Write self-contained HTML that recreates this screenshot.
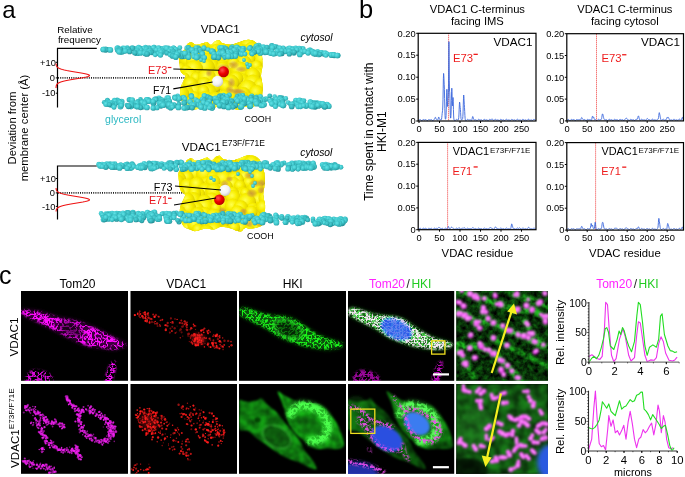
<!DOCTYPE html>
<html><head><meta charset="utf-8"><style>
html,body{margin:0;padding:0;background:#fff;width:685px;height:477px;overflow:hidden}
svg{display:block}
text{font-family:"Liberation Sans", sans-serif}
</style></head><body>
<svg width="685" height="477" viewBox="0 0 685 477">
<text x="2.2" y="17.5" text-anchor="start" style="font-size:24px;fill:#000;" >a</text>
<text x="359.0" y="17.6" text-anchor="start" style="font-size:25.5px;fill:#000;" >b</text>
<text x="-1.0" y="283.8" text-anchor="start" style="font-size:25px;fill:#000;" >c</text>
<defs>
<radialGradient id="bead" cx="0.4" cy="0.38" r="0.68">
 <stop offset="0" stop-color="#62e2e6"/><stop offset="0.55" stop-color="#3fc8cd"/><stop offset="1" stop-color="#2a9ca2"/></radialGradient>
<radialGradient id="bead2" cx="0.4" cy="0.38" r="0.68">
 <stop offset="0" stop-color="#4ed2d7"/><stop offset="0.6" stop-color="#33b4ba"/><stop offset="1" stop-color="#1f8088"/></radialGradient>
<radialGradient id="ylw" cx="0.42" cy="0.38" r="0.62">
 <stop offset="0" stop-color="#ffff50"/><stop offset="0.5" stop-color="#f8ee00"/><stop offset="0.85" stop-color="#e4d600"/><stop offset="1" stop-color="#c2b208"/></radialGradient>
<radialGradient id="redb" cx="0.38" cy="0.35" r="0.7">
 <stop offset="0" stop-color="#ff5050"/><stop offset="0.5" stop-color="#ee0000"/><stop offset="1" stop-color="#b00000"/></radialGradient>
<radialGradient id="whtb" cx="0.38" cy="0.35" r="0.7">
 <stop offset="0" stop-color="#ffffff"/><stop offset="0.6" stop-color="#f2f2f2"/><stop offset="1" stop-color="#c4c4c4"/></radialGradient>
<radialGradient id="tan"><stop offset="0" stop-color="#c48a48" stop-opacity="0.75"/><stop offset="0.6" stop-color="#c8914a" stop-opacity="0.45"/><stop offset="1" stop-color="#d0a050" stop-opacity="0"/></radialGradient>
<filter id="pblur" x="-5%" y="-5%" width="110%" height="110%"><feGaussianBlur stdDeviation="0.7"/></filter>
<filter id="bblur" x="-5%" y="-20%" width="110%" height="140%"><feGaussianBlur stdDeviation="0.3"/></filter>
</defs>
<text transform="translate(16.2,128) rotate(-90)" text-anchor="middle" style="font-size:11.3px">Deviation from</text>
<text transform="translate(28.3,128) rotate(-90)" text-anchor="middle" style="font-size:11.3px">membrane center (Å)</text>
<text x="57.2" y="32.6" text-anchor="start" style="font-size:9.8px;fill:#000;" >Relative</text>
<text x="57.9" y="42.5" text-anchor="start" style="font-size:9.8px;fill:#000;" >frequency</text>
<path d="M96.8,48.4 H57.5 V107.5" fill="none" stroke="#000" stroke-width="1.2"/>
<line x1="55.8" y1="62.3" x2="57.5" y2="62.3" stroke="#000" stroke-width="1"/>
<line x1="55.8" y1="77.9" x2="57.5" y2="77.9" stroke="#000" stroke-width="1"/>
<line x1="55.8" y1="93.2" x2="57.5" y2="93.2" stroke="#000" stroke-width="1"/>
<text x="55.9" y="65.5" text-anchor="end" style="font-size:9.3px;fill:#000;" >+10</text>
<text x="55.0" y="81.10000000000001" text-anchor="end" style="font-size:9.3px;fill:#000;" >0</text>
<text x="55.4" y="96.4" text-anchor="end" style="font-size:9.3px;fill:#000;" >-10</text>
<line x1="58" y1="77.9" x2="186" y2="77.9" stroke="#222" stroke-width="1.6" stroke-dasharray="1 1.2"/>
<path d="M56.05,63.50 L56.08,64.00 L56.13,64.50 L56.21,65.00 L56.34,65.50 L56.53,66.00 L56.81,66.50 L57.21,67.00 L57.77,67.50 L58.53,68.00 L59.53,68.50 L60.81,69.00 L62.42,69.50 L64.35,70.00 L66.63,70.50 L69.22,71.00 L72.07,71.50 L75.09,72.00 L78.16,72.50 L81.14,73.00 L83.88,73.50 L86.21,74.00 L88.00,74.50 L89.12,75.00 L89.50,75.50 L89.12,76.00 L88.00,76.50 L86.21,77.00 L83.88,77.50 L81.14,78.00 L78.16,78.50 L75.09,79.00 L72.07,79.50 L69.22,80.00 L66.63,80.50 L64.35,81.00 L62.42,81.50 L60.81,82.00 L59.53,82.50 L58.53,83.00 L57.77,83.50 L57.21,84.00 L56.81,84.50 L56.53,85.00 L56.34,85.50 L56.21,86.00 L56.13,86.50 L56.08,87.00 L56.05,87.50 L56.03,88.00" fill="none" stroke="#ee1111" stroke-width="1.1"/>
<path d="M96.8,166.0 H57.5 V219.6" fill="none" stroke="#000" stroke-width="1.2"/>
<line x1="55.8" y1="178.5" x2="57.5" y2="178.5" stroke="#000" stroke-width="1"/>
<line x1="55.8" y1="192.9" x2="57.5" y2="192.9" stroke="#000" stroke-width="1"/>
<line x1="55.8" y1="206.4" x2="57.5" y2="206.4" stroke="#000" stroke-width="1"/>
<text x="55.9" y="181.7" text-anchor="end" style="font-size:9.3px;fill:#000;" >+10</text>
<text x="55.0" y="196.1" text-anchor="end" style="font-size:9.3px;fill:#000;" >0</text>
<text x="55.4" y="209.6" text-anchor="end" style="font-size:9.3px;fill:#000;" >-10</text>
<line x1="58" y1="192.9" x2="186" y2="192.9" stroke="#222" stroke-width="1.6" stroke-dasharray="1 1.2"/>
<path d="M56.06,188.00 L56.10,188.50 L56.16,189.00 L56.26,189.50 L56.41,190.00 L56.63,190.50 L56.96,191.00 L57.42,191.50 L58.05,192.00 L58.90,192.50 L60.01,193.00 L61.42,193.50 L63.15,194.00 L65.22,194.50 L67.63,195.00 L70.33,195.50 L73.26,196.00 L76.32,196.50 L79.37,197.00 L82.28,197.50 L84.87,198.00 L87.00,198.50 L88.53,199.00 L89.36,199.50 L89.44,200.00 L88.75,200.50 L87.36,201.00 L85.34,201.50 L82.82,202.00 L79.97,202.50 L76.93,203.00 L73.87,203.50 L70.90,204.00 L68.15,204.50 L65.68,205.00 L63.54,205.50 L61.74,206.00 L60.27,206.50 L59.10,207.00 L58.20,207.50 L57.53,208.00 L57.04,208.50 L56.69,209.00 L56.45,209.50 L56.28,210.00 L56.17,210.50 L56.11,211.00 L56.06,211.50" fill="none" stroke="#ee1111" stroke-width="1.1"/>
<clipPath id="pc17940"><path d="M184.7,48.9 C186.1,46.9 186.3,45.0 187.5,44.0 C188.7,43.0 190.2,42.5 191.6,42.6 C193.0,42.7 194.0,44.6 195.8,44.7 C197.7,44.8 200.8,43.8 202.7,43.3 C204.5,42.8 205.5,41.7 206.9,41.9 C208.3,42.1 209.6,44.8 211.0,44.7 C212.4,44.6 213.8,41.9 215.2,41.2 C216.6,40.5 218.2,40.1 219.4,40.5 C220.6,40.9 220.3,42.6 222.2,43.3 C224.0,44.0 228.2,44.7 230.5,44.7 C232.8,44.7 234.2,43.9 236.0,43.3 C237.8,42.7 239.8,41.8 241.6,41.2 C243.4,40.6 245.2,40.0 247.1,39.9 C248.9,39.8 251.1,39.9 252.7,40.5 C254.3,41.1 255.7,42.0 256.8,43.3 C257.9,44.5 258.6,45.9 259.5,48.0 C260.4,50.1 261.5,53.0 262.0,56.0 C262.5,59.0 262.7,62.7 262.5,66.0 C262.3,69.3 260.9,72.7 261.0,76.0 C261.1,79.3 262.6,82.7 262.8,86.0 C263.0,89.3 262.5,93.0 262.0,96.0 C261.5,99.0 262.0,102.2 260.0,104.0 C258.0,105.8 252.8,106.5 250.0,107.0 C247.2,107.5 244.7,106.3 243.0,106.7 C241.3,107.1 241.2,109.0 240.0,109.5 C238.8,110.0 237.7,109.8 236.0,109.4 C234.3,109.0 232.5,107.7 230.0,107.0 C227.5,106.3 223.3,105.2 220.8,105.3 C218.3,105.4 216.4,107.0 215.0,107.5 C213.6,108.0 214.1,108.1 212.4,108.0 C210.7,107.9 207.8,106.8 205.0,107.0 C202.2,107.2 198.3,109.2 195.8,109.4 C193.3,109.6 192.0,108.7 190.0,108.0 C188.0,107.3 185.5,106.7 184.0,105.0 C182.5,103.3 181.6,100.8 181.0,98.0 C180.4,95.2 180.0,91.0 180.5,88.0 C181.0,85.0 183.2,82.0 184.0,80.0 C184.8,78.0 186.0,77.3 185.5,76.0 C185.0,74.7 182.0,74.0 181.0,72.0 C180.0,70.0 179.8,66.7 179.5,64.0 C179.2,61.3 178.3,58.3 179.2,55.8 C180.1,53.3 183.3,50.9 184.7,48.9Z"/></clipPath>
<g filter="url(#pblur)">
<path d="M184.7,48.9 C186.1,46.9 186.3,45.0 187.5,44.0 C188.7,43.0 190.2,42.5 191.6,42.6 C193.0,42.7 194.0,44.6 195.8,44.7 C197.7,44.8 200.8,43.8 202.7,43.3 C204.5,42.8 205.5,41.7 206.9,41.9 C208.3,42.1 209.6,44.8 211.0,44.7 C212.4,44.6 213.8,41.9 215.2,41.2 C216.6,40.5 218.2,40.1 219.4,40.5 C220.6,40.9 220.3,42.6 222.2,43.3 C224.0,44.0 228.2,44.7 230.5,44.7 C232.8,44.7 234.2,43.9 236.0,43.3 C237.8,42.7 239.8,41.8 241.6,41.2 C243.4,40.6 245.2,40.0 247.1,39.9 C248.9,39.8 251.1,39.9 252.7,40.5 C254.3,41.1 255.7,42.0 256.8,43.3 C257.9,44.5 258.6,45.9 259.5,48.0 C260.4,50.1 261.5,53.0 262.0,56.0 C262.5,59.0 262.7,62.7 262.5,66.0 C262.3,69.3 260.9,72.7 261.0,76.0 C261.1,79.3 262.6,82.7 262.8,86.0 C263.0,89.3 262.5,93.0 262.0,96.0 C261.5,99.0 262.0,102.2 260.0,104.0 C258.0,105.8 252.8,106.5 250.0,107.0 C247.2,107.5 244.7,106.3 243.0,106.7 C241.3,107.1 241.2,109.0 240.0,109.5 C238.8,110.0 237.7,109.8 236.0,109.4 C234.3,109.0 232.5,107.7 230.0,107.0 C227.5,106.3 223.3,105.2 220.8,105.3 C218.3,105.4 216.4,107.0 215.0,107.5 C213.6,108.0 214.1,108.1 212.4,108.0 C210.7,107.9 207.8,106.8 205.0,107.0 C202.2,107.2 198.3,109.2 195.8,109.4 C193.3,109.6 192.0,108.7 190.0,108.0 C188.0,107.3 185.5,106.7 184.0,105.0 C182.5,103.3 181.6,100.8 181.0,98.0 C180.4,95.2 180.0,91.0 180.5,88.0 C181.0,85.0 183.2,82.0 184.0,80.0 C184.8,78.0 186.0,77.3 185.5,76.0 C185.0,74.7 182.0,74.0 181.0,72.0 C180.0,70.0 179.8,66.7 179.5,64.0 C179.2,61.3 178.3,58.3 179.2,55.8 C180.1,53.3 183.3,50.9 184.7,48.9Z" fill="#d8cc00"/>
<g clip-path="url(#pc17940)">
<circle cx="248.8" cy="35.2" r="7.4" fill="url(#ylw)"/>
<circle cx="216.2" cy="39.2" r="5.7" fill="url(#ylw)"/>
<circle cx="202.9" cy="36.8" r="5.9" fill="url(#ylw)"/>
<circle cx="196.4" cy="38.8" r="8.7" fill="url(#ylw)"/>
<circle cx="233.1" cy="35.9" r="5.6" fill="url(#ylw)"/>
<circle cx="241.5" cy="35.4" r="6.3" fill="url(#ylw)"/>
<circle cx="259.0" cy="40.1" r="7.6" fill="url(#ylw)"/>
<circle cx="226.3" cy="40.8" r="8.1" fill="url(#ylw)"/>
<circle cx="204.3" cy="44.4" r="5.8" fill="url(#ylw)"/>
<circle cx="229.9" cy="43.9" r="9.1" fill="url(#ylw)"/>
<circle cx="258.5" cy="43.2" r="6.8" fill="url(#ylw)"/>
<circle cx="187.4" cy="38.5" r="6.2" fill="url(#ylw)"/>
<circle cx="247.0" cy="44.5" r="6.4" fill="url(#ylw)"/>
<circle cx="178.9" cy="46.6" r="7.3" fill="url(#ylw)"/>
<circle cx="178.7" cy="40.5" r="7.4" fill="url(#ylw)"/>
<circle cx="223.2" cy="48.4" r="8.9" fill="url(#ylw)"/>
<circle cx="229.8" cy="41.9" r="6.9" fill="url(#ylw)"/>
<circle cx="241.7" cy="48.5" r="7.1" fill="url(#ylw)"/>
<circle cx="216.5" cy="45.1" r="8.9" fill="url(#ylw)"/>
<circle cx="248.4" cy="46.4" r="8.6" fill="url(#ylw)"/>
<circle cx="216.8" cy="51.0" r="7.2" fill="url(#ylw)"/>
<circle cx="186.6" cy="48.6" r="9.5" fill="url(#ylw)"/>
<circle cx="181.4" cy="51.0" r="6.5" fill="url(#ylw)"/>
<circle cx="235.7" cy="52.1" r="9.0" fill="url(#ylw)"/>
<circle cx="241.2" cy="52.7" r="8.9" fill="url(#ylw)"/>
<circle cx="199.0" cy="46.9" r="6.8" fill="url(#ylw)"/>
<circle cx="196.0" cy="53.7" r="7.3" fill="url(#ylw)"/>
<circle cx="190.8" cy="50.4" r="5.5" fill="url(#ylw)"/>
<circle cx="252.7" cy="50.9" r="9.5" fill="url(#ylw)"/>
<circle cx="259.2" cy="51.8" r="8.6" fill="url(#ylw)"/>
<circle cx="186.5" cy="50.7" r="8.7" fill="url(#ylw)"/>
<circle cx="223.2" cy="51.9" r="9.4" fill="url(#ylw)"/>
<circle cx="254.6" cy="54.6" r="6.6" fill="url(#ylw)"/>
<circle cx="212.1" cy="58.9" r="9.1" fill="url(#ylw)"/>
<circle cx="205.0" cy="54.7" r="6.0" fill="url(#ylw)"/>
<circle cx="176.8" cy="58.4" r="5.9" fill="url(#ylw)"/>
<circle cx="186.2" cy="55.5" r="5.6" fill="url(#ylw)"/>
<circle cx="204.9" cy="61.4" r="9.0" fill="url(#ylw)"/>
<circle cx="187.5" cy="59.4" r="7.9" fill="url(#ylw)"/>
<circle cx="261.8" cy="59.4" r="8.3" fill="url(#ylw)"/>
<circle cx="224.9" cy="59.4" r="6.3" fill="url(#ylw)"/>
<circle cx="193.5" cy="63.5" r="6.4" fill="url(#ylw)"/>
<circle cx="195.2" cy="60.7" r="9.3" fill="url(#ylw)"/>
<circle cx="249.5" cy="58.6" r="5.7" fill="url(#ylw)"/>
<circle cx="243.7" cy="63.2" r="7.9" fill="url(#ylw)"/>
<circle cx="222.4" cy="66.0" r="6.2" fill="url(#ylw)"/>
<circle cx="233.4" cy="63.6" r="6.3" fill="url(#ylw)"/>
<circle cx="250.7" cy="69.7" r="7.8" fill="url(#ylw)"/>
<circle cx="231.0" cy="69.0" r="6.0" fill="url(#ylw)"/>
<circle cx="205.2" cy="66.7" r="6.5" fill="url(#ylw)"/>
<circle cx="184.8" cy="69.9" r="5.8" fill="url(#ylw)"/>
<circle cx="212.0" cy="65.7" r="6.6" fill="url(#ylw)"/>
<circle cx="205.5" cy="67.3" r="9.2" fill="url(#ylw)"/>
<circle cx="256.6" cy="65.8" r="5.6" fill="url(#ylw)"/>
<circle cx="222.3" cy="68.0" r="6.4" fill="url(#ylw)"/>
<circle cx="261.4" cy="73.7" r="8.1" fill="url(#ylw)"/>
<circle cx="194.1" cy="69.0" r="8.9" fill="url(#ylw)"/>
<circle cx="179.7" cy="69.2" r="6.7" fill="url(#ylw)"/>
<circle cx="227.2" cy="75.4" r="8.2" fill="url(#ylw)"/>
<circle cx="226.3" cy="74.4" r="6.1" fill="url(#ylw)"/>
<circle cx="186.0" cy="70.9" r="5.7" fill="url(#ylw)"/>
<circle cx="189.5" cy="76.1" r="8.4" fill="url(#ylw)"/>
<circle cx="243.5" cy="74.1" r="4.1" fill="url(#ylw)"/>
<circle cx="239.9" cy="70.9" r="9.4" fill="url(#ylw)"/>
<circle cx="217.2" cy="77.5" r="8.7" fill="url(#ylw)"/>
<circle cx="196.6" cy="79.2" r="5.8" fill="url(#ylw)"/>
<circle cx="260.3" cy="76.7" r="5.7" fill="url(#ylw)"/>
<circle cx="200.0" cy="81.4" r="8.5" fill="url(#ylw)"/>
<circle cx="195.9" cy="77.5" r="5.5" fill="url(#ylw)"/>
<circle cx="258.4" cy="74.5" r="6.8" fill="url(#ylw)"/>
<circle cx="244.5" cy="78.4" r="7.8" fill="url(#ylw)"/>
<circle cx="252.5" cy="75.5" r="7.8" fill="url(#ylw)"/>
<circle cx="241.2" cy="81.9" r="9.1" fill="url(#ylw)"/>
<circle cx="207.0" cy="77.7" r="9.1" fill="url(#ylw)"/>
<circle cx="184.5" cy="77.7" r="5.2" fill="url(#ylw)"/>
<circle cx="236.1" cy="78.5" r="7.2" fill="url(#ylw)"/>
<circle cx="204.2" cy="84.5" r="7.4" fill="url(#ylw)"/>
<circle cx="180.9" cy="79.0" r="5.6" fill="url(#ylw)"/>
<circle cx="252.9" cy="83.6" r="9.1" fill="url(#ylw)"/>
<circle cx="182.3" cy="85.3" r="7.1" fill="url(#ylw)"/>
<circle cx="190.4" cy="84.4" r="7.3" fill="url(#ylw)"/>
<circle cx="221.9" cy="89.8" r="7.2" fill="url(#ylw)"/>
<circle cx="213.0" cy="89.6" r="7.3" fill="url(#ylw)"/>
<circle cx="231.0" cy="82.7" r="8.2" fill="url(#ylw)"/>
<circle cx="214.4" cy="85.1" r="7.5" fill="url(#ylw)"/>
<circle cx="259.9" cy="84.9" r="6.3" fill="url(#ylw)"/>
<circle cx="194.1" cy="91.5" r="8.8" fill="url(#ylw)"/>
<circle cx="247.7" cy="88.7" r="9.0" fill="url(#ylw)"/>
<circle cx="207.4" cy="92.8" r="9.3" fill="url(#ylw)"/>
<circle cx="225.7" cy="86.4" r="6.5" fill="url(#ylw)"/>
<circle cx="256.5" cy="92.8" r="7.8" fill="url(#ylw)"/>
<circle cx="233.0" cy="91.5" r="6.8" fill="url(#ylw)"/>
<circle cx="203.4" cy="91.0" r="5.9" fill="url(#ylw)"/>
<circle cx="230.0" cy="96.3" r="7.4" fill="url(#ylw)"/>
<circle cx="186.6" cy="92.0" r="6.8" fill="url(#ylw)"/>
<circle cx="179.7" cy="96.3" r="6.0" fill="url(#ylw)"/>
<circle cx="186.7" cy="96.3" r="8.8" fill="url(#ylw)"/>
<circle cx="180.1" cy="94.0" r="9.0" fill="url(#ylw)"/>
<circle cx="224.0" cy="97.4" r="7.4" fill="url(#ylw)"/>
<circle cx="243.3" cy="94.4" r="7.3" fill="url(#ylw)"/>
<circle cx="239.8" cy="98.8" r="6.1" fill="url(#ylw)"/>
<circle cx="194.4" cy="97.0" r="5.7" fill="url(#ylw)"/>
<circle cx="249.0" cy="100.4" r="7.6" fill="url(#ylw)"/>
<circle cx="242.2" cy="97.3" r="6.6" fill="url(#ylw)"/>
<circle cx="222.9" cy="99.1" r="5.7" fill="url(#ylw)"/>
<circle cx="205.7" cy="98.9" r="8.0" fill="url(#ylw)"/>
<circle cx="259.6" cy="100.7" r="7.1" fill="url(#ylw)"/>
<circle cx="181.8" cy="104.4" r="9.2" fill="url(#ylw)"/>
<circle cx="222.6" cy="108.2" r="8.8" fill="url(#ylw)"/>
<circle cx="189.7" cy="104.6" r="7.3" fill="url(#ylw)"/>
<circle cx="214.9" cy="101.0" r="9.3" fill="url(#ylw)"/>
<circle cx="251.6" cy="108.6" r="6.8" fill="url(#ylw)"/>
<circle cx="218.0" cy="106.6" r="8.1" fill="url(#ylw)"/>
<circle cx="206.8" cy="109.1" r="8.7" fill="url(#ylw)"/>
<circle cx="262.8" cy="109.0" r="6.9" fill="url(#ylw)"/>
<circle cx="198.1" cy="109.3" r="7.0" fill="url(#ylw)"/>
<circle cx="234.2" cy="108.2" r="6.4" fill="url(#ylw)"/>
<circle cx="244.8" cy="109.7" r="9.4" fill="url(#ylw)"/>
<ellipse cx="239.6" cy="92.2" rx="6.4" ry="4.0" fill="url(#tan)"/>
<ellipse cx="251.1" cy="98.6" rx="5.9" ry="4.9" fill="url(#tan)"/>
<ellipse cx="241.2" cy="69.2" rx="6.0" ry="3.2" fill="url(#tan)"/>
<ellipse cx="209.0" cy="73.1" rx="3.5" ry="3.9" fill="url(#tan)"/>
<ellipse cx="231.5" cy="82.7" rx="4.3" ry="5.4" fill="url(#tan)"/>
<ellipse cx="233.6" cy="64.9" rx="5.8" ry="4.4" fill="url(#tan)"/>
<ellipse cx="223.5" cy="68.2" rx="7.0" ry="4.6" fill="url(#tan)"/>
<ellipse cx="236.3" cy="91.2" rx="6.9" ry="3.1" fill="url(#tan)"/>
<ellipse cx="229.8" cy="89.8" rx="4.4" ry="4.0" fill="url(#tan)"/>
</g></g>
<g filter="url(#bblur)">
<circle cx="258.2" cy="45.4" r="2.47" fill="url(#bead)"/>
<circle cx="276.3" cy="46.8" r="2.47" fill="url(#bead2)"/>
<circle cx="145.5" cy="47.1" r="2.41" fill="url(#bead)"/>
<circle cx="153.9" cy="47.1" r="2.33" fill="url(#bead)"/>
<circle cx="280.8" cy="48.2" r="2.43" fill="url(#bead)"/>
<circle cx="232.0" cy="47.6" r="2.85" fill="url(#bead)"/>
<circle cx="260.3" cy="47.0" r="2.48" fill="url(#bead)"/>
<circle cx="271.3" cy="45.7" r="2.38" fill="url(#bead2)"/>
<circle cx="260.6" cy="47.6" r="2.62" fill="url(#bead)"/>
<circle cx="271.3" cy="46.9" r="2.72" fill="url(#bead)"/>
<circle cx="258.8" cy="45.6" r="2.73" fill="url(#bead)"/>
<circle cx="154.1" cy="47.8" r="2.98" fill="url(#bead)"/>
<circle cx="263.3" cy="47.1" r="2.90" fill="url(#bead)"/>
<circle cx="168.3" cy="48.3" r="2.75" fill="url(#bead)"/>
<circle cx="279.0" cy="48.2" r="2.75" fill="url(#bead)"/>
<circle cx="159.8" cy="48.6" r="2.92" fill="url(#bead)"/>
<circle cx="146.7" cy="48.3" r="2.50" fill="url(#bead)"/>
<circle cx="224.2" cy="47.4" r="2.39" fill="url(#bead)"/>
<circle cx="146.3" cy="48.3" r="2.68" fill="url(#bead)"/>
<circle cx="198.1" cy="48.1" r="2.75" fill="url(#bead2)"/>
<circle cx="255.9" cy="47.3" r="2.84" fill="url(#bead)"/>
<circle cx="149.1" cy="47.8" r="2.56" fill="url(#bead2)"/>
<circle cx="123.0" cy="48.3" r="2.74" fill="url(#bead)"/>
<circle cx="127.2" cy="47.9" r="2.68" fill="url(#bead)"/>
<circle cx="232.3" cy="46.7" r="2.35" fill="url(#bead)"/>
<circle cx="272.1" cy="45.6" r="2.51" fill="url(#bead2)"/>
<circle cx="203.9" cy="48.3" r="2.56" fill="url(#bead2)"/>
<circle cx="231.2" cy="48.2" r="2.67" fill="url(#bead2)"/>
<circle cx="274.2" cy="47.1" r="2.77" fill="url(#bead)"/>
<circle cx="256.7" cy="46.2" r="2.86" fill="url(#bead)"/>
<circle cx="298.1" cy="48.4" r="2.36" fill="url(#bead)"/>
<circle cx="173.5" cy="48.4" r="2.84" fill="url(#bead)"/>
<circle cx="149.7" cy="48.8" r="2.36" fill="url(#bead)"/>
<circle cx="153.3" cy="49.1" r="2.60" fill="url(#bead2)"/>
<circle cx="196.0" cy="47.7" r="2.47" fill="url(#bead)"/>
<circle cx="117.9" cy="47.8" r="2.58" fill="url(#bead)"/>
<circle cx="179.8" cy="47.7" r="2.48" fill="url(#bead)"/>
<circle cx="300.9" cy="48.5" r="2.35" fill="url(#bead)"/>
<circle cx="160.8" cy="48.4" r="2.33" fill="url(#bead)"/>
<circle cx="241.4" cy="49.2" r="2.90" fill="url(#bead)"/>
<circle cx="219.9" cy="47.8" r="2.73" fill="url(#bead)"/>
<circle cx="108.4" cy="49.6" r="2.57" fill="url(#bead)"/>
<circle cx="287.4" cy="49.4" r="2.45" fill="url(#bead2)"/>
<circle cx="274.3" cy="46.7" r="2.56" fill="url(#bead)"/>
<circle cx="173.6" cy="48.0" r="2.53" fill="url(#bead)"/>
<circle cx="302.7" cy="48.9" r="2.88" fill="url(#bead)"/>
<circle cx="244.1" cy="48.8" r="2.56" fill="url(#bead)"/>
<circle cx="288.6" cy="48.7" r="2.85" fill="url(#bead)"/>
<circle cx="164.8" cy="49.1" r="2.77" fill="url(#bead)"/>
<circle cx="292.7" cy="48.4" r="2.31" fill="url(#bead)"/>
<circle cx="140.1" cy="49.8" r="2.39" fill="url(#bead2)"/>
<circle cx="238.4" cy="48.3" r="2.88" fill="url(#bead)"/>
<circle cx="267.0" cy="47.3" r="2.67" fill="url(#bead2)"/>
<circle cx="292.3" cy="50.3" r="2.60" fill="url(#bead)"/>
<circle cx="225.8" cy="48.9" r="2.97" fill="url(#bead2)"/>
<circle cx="295.7" cy="48.2" r="2.72" fill="url(#bead)"/>
<circle cx="310.4" cy="49.9" r="2.33" fill="url(#bead)"/>
<circle cx="105.9" cy="49.9" r="2.56" fill="url(#bead)"/>
<circle cx="140.7" cy="48.3" r="2.63" fill="url(#bead2)"/>
<circle cx="156.9" cy="49.2" r="2.78" fill="url(#bead2)"/>
<circle cx="162.8" cy="49.4" r="2.69" fill="url(#bead)"/>
<circle cx="283.5" cy="49.1" r="2.58" fill="url(#bead)"/>
<circle cx="203.9" cy="47.9" r="2.57" fill="url(#bead)"/>
<circle cx="128.0" cy="49.9" r="2.58" fill="url(#bead2)"/>
<circle cx="143.5" cy="48.2" r="2.48" fill="url(#bead)"/>
<circle cx="236.1" cy="49.2" r="2.56" fill="url(#bead)"/>
<circle cx="135.1" cy="48.9" r="2.79" fill="url(#bead)"/>
<circle cx="138.6" cy="47.5" r="2.72" fill="url(#bead)"/>
<circle cx="283.1" cy="48.3" r="2.81" fill="url(#bead)"/>
<circle cx="295.8" cy="49.3" r="2.64" fill="url(#bead)"/>
<circle cx="176.4" cy="50.6" r="2.33" fill="url(#bead)"/>
<circle cx="250.3" cy="47.7" r="2.62" fill="url(#bead2)"/>
<circle cx="298.8" cy="50.4" r="2.92" fill="url(#bead)"/>
<circle cx="132.3" cy="48.3" r="2.98" fill="url(#bead2)"/>
<circle cx="103.3" cy="49.5" r="2.87" fill="url(#bead)"/>
<circle cx="117.0" cy="48.0" r="2.52" fill="url(#bead)"/>
<circle cx="279.8" cy="48.1" r="2.67" fill="url(#bead)"/>
<circle cx="236.8" cy="47.5" r="2.93" fill="url(#bead)"/>
<circle cx="299.1" cy="48.6" r="2.86" fill="url(#bead)"/>
<circle cx="175.3" cy="49.8" r="2.58" fill="url(#bead2)"/>
<circle cx="123.4" cy="50.2" r="2.77" fill="url(#bead)"/>
<circle cx="292.1" cy="51.1" r="2.57" fill="url(#bead)"/>
<circle cx="242.9" cy="48.2" r="2.36" fill="url(#bead)"/>
<circle cx="257.6" cy="48.0" r="2.69" fill="url(#bead2)"/>
<circle cx="128.1" cy="50.2" r="2.56" fill="url(#bead2)"/>
<circle cx="208.1" cy="49.5" r="2.36" fill="url(#bead)"/>
<circle cx="153.3" cy="47.9" r="2.76" fill="url(#bead)"/>
<circle cx="105.5" cy="49.6" r="2.99" fill="url(#bead2)"/>
<circle cx="187.1" cy="48.0" r="2.71" fill="url(#bead)"/>
<circle cx="161.8" cy="48.8" r="2.53" fill="url(#bead)"/>
<circle cx="158.4" cy="48.0" r="2.74" fill="url(#bead)"/>
<circle cx="119.5" cy="49.6" r="2.39" fill="url(#bead)"/>
<circle cx="140.0" cy="48.9" r="2.53" fill="url(#bead)"/>
<circle cx="272.3" cy="47.6" r="2.72" fill="url(#bead)"/>
<circle cx="289.8" cy="47.9" r="2.47" fill="url(#bead)"/>
<circle cx="221.6" cy="47.6" r="2.58" fill="url(#bead)"/>
<circle cx="155.0" cy="51.2" r="2.84" fill="url(#bead)"/>
<circle cx="165.1" cy="48.1" r="2.86" fill="url(#bead)"/>
<circle cx="290.0" cy="51.1" r="2.39" fill="url(#bead)"/>
<circle cx="188.6" cy="47.6" r="2.49" fill="url(#bead2)"/>
<circle cx="124.5" cy="48.6" r="2.88" fill="url(#bead)"/>
<circle cx="292.5" cy="49.5" r="2.51" fill="url(#bead)"/>
<circle cx="280.4" cy="51.0" r="2.51" fill="url(#bead)"/>
<circle cx="175.5" cy="49.5" r="2.80" fill="url(#bead)"/>
<circle cx="309.5" cy="49.8" r="2.35" fill="url(#bead)"/>
<circle cx="149.1" cy="49.7" r="2.89" fill="url(#bead)"/>
<circle cx="291.7" cy="51.8" r="2.44" fill="url(#bead)"/>
<circle cx="146.6" cy="48.7" r="2.45" fill="url(#bead)"/>
<circle cx="222.7" cy="50.8" r="2.52" fill="url(#bead)"/>
<circle cx="165.2" cy="50.3" r="2.70" fill="url(#bead)"/>
<circle cx="140.6" cy="50.4" r="2.74" fill="url(#bead)"/>
<circle cx="287.0" cy="51.5" r="2.42" fill="url(#bead)"/>
<circle cx="200.0" cy="50.3" r="2.59" fill="url(#bead)"/>
<circle cx="122.3" cy="51.8" r="2.82" fill="url(#bead)"/>
<circle cx="120.9" cy="49.8" r="2.51" fill="url(#bead2)"/>
<circle cx="227.6" cy="51.4" r="2.39" fill="url(#bead)"/>
<circle cx="166.7" cy="48.4" r="2.80" fill="url(#bead)"/>
<circle cx="128.0" cy="49.2" r="2.81" fill="url(#bead2)"/>
<circle cx="251.9" cy="50.2" r="2.56" fill="url(#bead)"/>
<circle cx="117.4" cy="49.2" r="2.59" fill="url(#bead)"/>
<circle cx="239.1" cy="49.6" r="2.79" fill="url(#bead)"/>
<circle cx="265.3" cy="50.7" r="2.59" fill="url(#bead)"/>
<circle cx="249.6" cy="48.3" r="2.67" fill="url(#bead)"/>
<circle cx="123.6" cy="51.3" r="2.50" fill="url(#bead)"/>
<circle cx="311.7" cy="51.2" r="2.71" fill="url(#bead)"/>
<circle cx="169.8" cy="50.7" r="2.40" fill="url(#bead)"/>
<circle cx="171.1" cy="49.8" r="2.93" fill="url(#bead)"/>
<circle cx="200.3" cy="51.5" r="2.31" fill="url(#bead2)"/>
<circle cx="159.0" cy="51.0" r="2.69" fill="url(#bead)"/>
<circle cx="285.1" cy="51.4" r="2.74" fill="url(#bead)"/>
<circle cx="260.3" cy="52.4" r="2.90" fill="url(#bead)"/>
<circle cx="110.3" cy="49.9" r="2.93" fill="url(#bead)"/>
<circle cx="232.2" cy="51.5" r="2.97" fill="url(#bead2)"/>
<circle cx="265.0" cy="52.2" r="2.97" fill="url(#bead)"/>
<circle cx="188.7" cy="51.5" r="2.58" fill="url(#bead2)"/>
<circle cx="146.0" cy="49.9" r="2.48" fill="url(#bead)"/>
<circle cx="156.3" cy="49.9" r="2.50" fill="url(#bead)"/>
<circle cx="191.6" cy="49.5" r="2.42" fill="url(#bead)"/>
<circle cx="299.4" cy="49.8" r="2.52" fill="url(#bead)"/>
<circle cx="289.6" cy="52.0" r="2.56" fill="url(#bead2)"/>
<circle cx="254.4" cy="51.9" r="2.33" fill="url(#bead2)"/>
<circle cx="103.2" cy="49.5" r="2.68" fill="url(#bead)"/>
<circle cx="161.6" cy="50.4" r="2.55" fill="url(#bead)"/>
<circle cx="173.4" cy="51.3" r="2.54" fill="url(#bead2)"/>
<circle cx="232.4" cy="51.7" r="2.55" fill="url(#bead2)"/>
<circle cx="159.6" cy="50.0" r="2.37" fill="url(#bead)"/>
<circle cx="294.0" cy="51.7" r="2.35" fill="url(#bead)"/>
<circle cx="222.8" cy="51.2" r="2.86" fill="url(#bead2)"/>
<circle cx="260.1" cy="49.2" r="2.91" fill="url(#bead)"/>
<circle cx="294.0" cy="52.9" r="2.74" fill="url(#bead)"/>
<circle cx="301.9" cy="51.9" r="2.88" fill="url(#bead)"/>
<circle cx="272.0" cy="51.7" r="2.48" fill="url(#bead2)"/>
<circle cx="268.5" cy="51.4" r="2.69" fill="url(#bead)"/>
<circle cx="308.3" cy="50.7" r="2.34" fill="url(#bead)"/>
<circle cx="195.7" cy="51.8" r="2.51" fill="url(#bead2)"/>
<circle cx="237.4" cy="51.5" r="2.42" fill="url(#bead2)"/>
<circle cx="258.4" cy="50.1" r="2.85" fill="url(#bead)"/>
<circle cx="220.0" cy="52.2" r="2.71" fill="url(#bead)"/>
<circle cx="195.7" cy="51.5" r="2.89" fill="url(#bead)"/>
<circle cx="137.2" cy="50.9" r="2.97" fill="url(#bead)"/>
<circle cx="314.2" cy="52.4" r="2.87" fill="url(#bead)"/>
<circle cx="220.1" cy="51.9" r="2.60" fill="url(#bead2)"/>
<circle cx="117.7" cy="50.2" r="2.62" fill="url(#bead2)"/>
<circle cx="236.6" cy="51.6" r="2.93" fill="url(#bead)"/>
<circle cx="271.7" cy="53.0" r="2.70" fill="url(#bead2)"/>
<circle cx="242.4" cy="50.7" r="2.92" fill="url(#bead)"/>
<circle cx="120.2" cy="49.6" r="2.94" fill="url(#bead2)"/>
<circle cx="256.4" cy="51.2" r="2.68" fill="url(#bead)"/>
<circle cx="211.9" cy="51.2" r="2.95" fill="url(#bead)"/>
<circle cx="235.8" cy="49.8" r="2.81" fill="url(#bead)"/>
<circle cx="137.1" cy="51.9" r="2.62" fill="url(#bead)"/>
<circle cx="268.2" cy="52.0" r="2.99" fill="url(#bead)"/>
<circle cx="277.1" cy="50.9" r="2.57" fill="url(#bead)"/>
<circle cx="296.8" cy="49.8" r="2.57" fill="url(#bead)"/>
<circle cx="158.5" cy="53.6" r="2.61" fill="url(#bead)"/>
<circle cx="265.7" cy="51.7" r="2.83" fill="url(#bead2)"/>
<circle cx="234.2" cy="50.2" r="2.75" fill="url(#bead)"/>
<circle cx="192.0" cy="49.9" r="2.77" fill="url(#bead)"/>
<circle cx="121.1" cy="52.6" r="2.32" fill="url(#bead)"/>
<circle cx="145.5" cy="53.4" r="2.99" fill="url(#bead)"/>
<circle cx="304.8" cy="51.4" r="2.59" fill="url(#bead)"/>
<circle cx="213.5" cy="51.3" r="2.40" fill="url(#bead2)"/>
<circle cx="136.5" cy="53.2" r="2.80" fill="url(#bead)"/>
<circle cx="169.4" cy="52.2" r="2.32" fill="url(#bead2)"/>
<circle cx="317.1" cy="52.4" r="2.31" fill="url(#bead)"/>
<circle cx="236.3" cy="52.7" r="2.71" fill="url(#bead)"/>
<circle cx="260.3" cy="52.9" r="2.97" fill="url(#bead)"/>
<circle cx="282.2" cy="54.0" r="2.33" fill="url(#bead2)"/>
<circle cx="271.8" cy="51.5" r="2.55" fill="url(#bead)"/>
<circle cx="324.8" cy="54.0" r="2.94" fill="url(#bead2)"/>
<circle cx="289.1" cy="51.5" r="2.88" fill="url(#bead)"/>
<circle cx="316.4" cy="53.4" r="2.68" fill="url(#bead)"/>
<circle cx="145.4" cy="53.0" r="2.58" fill="url(#bead)"/>
<circle cx="152.7" cy="52.8" r="2.54" fill="url(#bead)"/>
<circle cx="240.4" cy="53.9" r="2.59" fill="url(#bead)"/>
<circle cx="151.1" cy="50.6" r="2.45" fill="url(#bead2)"/>
<circle cx="211.9" cy="51.4" r="2.83" fill="url(#bead)"/>
<circle cx="293.0" cy="52.8" r="2.46" fill="url(#bead)"/>
<circle cx="193.5" cy="52.6" r="2.53" fill="url(#bead)"/>
<circle cx="119.2" cy="50.9" r="2.37" fill="url(#bead2)"/>
<circle cx="281.8" cy="50.7" r="2.52" fill="url(#bead)"/>
<circle cx="171.5" cy="52.6" r="2.56" fill="url(#bead)"/>
<circle cx="125.3" cy="51.1" r="2.77" fill="url(#bead)"/>
<circle cx="176.7" cy="53.0" r="2.60" fill="url(#bead)"/>
<circle cx="119.2" cy="51.8" r="2.94" fill="url(#bead)"/>
<circle cx="317.6" cy="51.5" r="2.33" fill="url(#bead)"/>
<circle cx="312.4" cy="52.0" r="2.94" fill="url(#bead)"/>
<circle cx="169.0" cy="51.1" r="2.41" fill="url(#bead)"/>
<circle cx="222.3" cy="54.2" r="2.89" fill="url(#bead)"/>
<circle cx="258.4" cy="51.5" r="2.52" fill="url(#bead)"/>
<circle cx="270.4" cy="53.3" r="2.70" fill="url(#bead)"/>
<circle cx="162.2" cy="52.0" r="2.93" fill="url(#bead)"/>
<circle cx="315.5" cy="53.9" r="2.91" fill="url(#bead2)"/>
<circle cx="322.3" cy="52.8" r="2.65" fill="url(#bead)"/>
<circle cx="181.1" cy="54.3" r="2.54" fill="url(#bead)"/>
<circle cx="161.0" cy="51.9" r="2.50" fill="url(#bead)"/>
<circle cx="281.1" cy="53.6" r="2.57" fill="url(#bead2)"/>
<circle cx="187.8" cy="54.7" r="2.49" fill="url(#bead)"/>
<circle cx="241.9" cy="54.3" r="2.36" fill="url(#bead)"/>
<circle cx="229.8" cy="53.9" r="2.80" fill="url(#bead)"/>
<circle cx="317.7" cy="51.6" r="2.33" fill="url(#bead)"/>
<circle cx="146.6" cy="51.3" r="2.31" fill="url(#bead)"/>
<circle cx="322.3" cy="53.7" r="2.55" fill="url(#bead)"/>
<circle cx="299.8" cy="54.4" r="2.92" fill="url(#bead)"/>
<circle cx="145.7" cy="51.8" r="2.46" fill="url(#bead)"/>
<circle cx="289.3" cy="54.0" r="2.59" fill="url(#bead2)"/>
<circle cx="313.7" cy="53.4" r="2.85" fill="url(#bead)"/>
<circle cx="137.5" cy="53.3" r="2.82" fill="url(#bead)"/>
<circle cx="266.0" cy="51.9" r="2.88" fill="url(#bead)"/>
<circle cx="179.8" cy="52.9" r="2.84" fill="url(#bead)"/>
<circle cx="331.2" cy="55.0" r="2.88" fill="url(#bead)"/>
<circle cx="129.6" cy="51.7" r="2.62" fill="url(#bead2)"/>
<circle cx="166.9" cy="53.0" r="2.60" fill="url(#bead2)"/>
<circle cx="193.4" cy="54.8" r="2.35" fill="url(#bead)"/>
<circle cx="149.5" cy="51.6" r="2.96" fill="url(#bead)"/>
<circle cx="251.8" cy="53.2" r="2.70" fill="url(#bead)"/>
<circle cx="294.1" cy="52.1" r="2.56" fill="url(#bead2)"/>
<circle cx="326.1" cy="54.3" r="2.59" fill="url(#bead)"/>
<circle cx="321.0" cy="52.9" r="2.80" fill="url(#bead)"/>
<circle cx="317.1" cy="53.4" r="2.70" fill="url(#bead2)"/>
<circle cx="230.6" cy="52.4" r="2.89" fill="url(#bead)"/>
<circle cx="337.9" cy="55.6" r="2.44" fill="url(#bead)"/>
<circle cx="215.2" cy="54.4" r="2.42" fill="url(#bead)"/>
<circle cx="202.7" cy="53.5" r="2.41" fill="url(#bead)"/>
<circle cx="275.6" cy="53.8" r="2.53" fill="url(#bead)"/>
<circle cx="196.0" cy="52.6" r="2.47" fill="url(#bead)"/>
<circle cx="254.1" cy="52.2" r="2.67" fill="url(#bead2)"/>
<circle cx="134.8" cy="52.8" r="2.79" fill="url(#bead2)"/>
<circle cx="217.6" cy="56.0" r="3.00" fill="url(#bead2)"/>
<circle cx="337.8" cy="55.6" r="2.75" fill="url(#bead)"/>
<circle cx="232.5" cy="55.8" r="2.82" fill="url(#bead2)"/>
<circle cx="213.9" cy="53.9" r="2.59" fill="url(#bead)"/>
<circle cx="174.7" cy="54.2" r="2.81" fill="url(#bead)"/>
<circle cx="228.3" cy="53.0" r="2.33" fill="url(#bead)"/>
<circle cx="187.9" cy="54.9" r="2.84" fill="url(#bead)"/>
<circle cx="308.1" cy="53.0" r="2.66" fill="url(#bead)"/>
<circle cx="151.3" cy="52.5" r="2.50" fill="url(#bead2)"/>
<circle cx="333.6" cy="54.6" r="2.40" fill="url(#bead)"/>
<circle cx="174.0" cy="53.9" r="2.95" fill="url(#bead2)"/>
<circle cx="333.2" cy="55.3" r="2.51" fill="url(#bead2)"/>
<circle cx="202.3" cy="53.9" r="2.79" fill="url(#bead)"/>
<circle cx="149.0" cy="52.8" r="2.69" fill="url(#bead)"/>
<circle cx="182.5" cy="53.8" r="2.99" fill="url(#bead2)"/>
<circle cx="160.5" cy="55.1" r="2.67" fill="url(#bead)"/>
<circle cx="216.4" cy="56.6" r="2.41" fill="url(#bead)"/>
<circle cx="336.4" cy="55.5" r="2.53" fill="url(#bead2)"/>
<circle cx="140.4" cy="52.9" r="2.84" fill="url(#bead)"/>
<circle cx="273.6" cy="54.0" r="2.63" fill="url(#bead)"/>
<circle cx="223.7" cy="55.0" r="2.75" fill="url(#bead)"/>
<circle cx="318.9" cy="54.7" r="2.59" fill="url(#bead)"/>
<circle cx="218.4" cy="53.4" r="2.45" fill="url(#bead)"/>
<circle cx="220.8" cy="53.5" r="2.32" fill="url(#bead)"/>
<circle cx="184.0" cy="56.4" r="2.79" fill="url(#bead)"/>
<circle cx="279.6" cy="54.5" r="2.34" fill="url(#bead)"/>
<circle cx="170.2" cy="55.0" r="2.48" fill="url(#bead)"/>
<circle cx="222.8" cy="53.0" r="2.98" fill="url(#bead)"/>
<circle cx="337.4" cy="55.6" r="2.49" fill="url(#bead)"/>
<circle cx="144.7" cy="53.1" r="2.83" fill="url(#bead)"/>
<circle cx="224.8" cy="55.6" r="2.80" fill="url(#bead)"/>
<circle cx="315.4" cy="53.4" r="2.81" fill="url(#bead)"/>
<circle cx="181.7" cy="56.8" r="2.54" fill="url(#bead2)"/>
<circle cx="184.9" cy="53.4" r="2.92" fill="url(#bead)"/>
<circle cx="236.2" cy="53.3" r="2.64" fill="url(#bead2)"/>
<circle cx="147.0" cy="53.9" r="2.93" fill="url(#bead2)"/>
<circle cx="325.1" cy="53.3" r="2.98" fill="url(#bead)"/>
<circle cx="214.5" cy="55.7" r="2.56" fill="url(#bead)"/>
<circle cx="180.1" cy="55.5" r="2.53" fill="url(#bead)"/>
<circle cx="229.2" cy="54.8" r="2.41" fill="url(#bead)"/>
<circle cx="193.7" cy="56.8" r="2.36" fill="url(#bead)"/>
<circle cx="178.7" cy="55.1" r="2.34" fill="url(#bead2)"/>
<circle cx="334.2" cy="55.2" r="2.94" fill="url(#bead2)"/>
<circle cx="252.2" cy="54.0" r="2.43" fill="url(#bead)"/>
<circle cx="245.0" cy="54.1" r="2.39" fill="url(#bead)"/>
<circle cx="335.0" cy="55.3" r="2.61" fill="url(#bead2)"/>
<circle cx="327.4" cy="53.7" r="2.30" fill="url(#bead)"/>
<circle cx="319.9" cy="54.3" r="2.45" fill="url(#bead2)"/>
<circle cx="331.5" cy="54.9" r="2.77" fill="url(#bead)"/>
<circle cx="198.7" cy="56.5" r="2.57" fill="url(#bead)"/>
<circle cx="177.0" cy="54.4" r="2.80" fill="url(#bead)"/>
<circle cx="333.6" cy="54.8" r="2.63" fill="url(#bead)"/>
<circle cx="235.2" cy="55.7" r="2.49" fill="url(#bead2)"/>
<circle cx="235.3" cy="56.0" r="2.88" fill="url(#bead)"/>
<circle cx="155.2" cy="54.8" r="2.33" fill="url(#bead)"/>
<circle cx="325.9" cy="55.5" r="2.35" fill="url(#bead)"/>
<circle cx="226.9" cy="56.3" r="2.60" fill="url(#bead)"/>
<circle cx="216.3" cy="57.4" r="2.63" fill="url(#bead2)"/>
<circle cx="188.2" cy="57.4" r="2.41" fill="url(#bead)"/>
<circle cx="172.7" cy="55.9" r="2.95" fill="url(#bead2)"/>
<circle cx="337.1" cy="55.5" r="2.87" fill="url(#bead)"/>
<circle cx="197.3" cy="56.6" r="2.95" fill="url(#bead)"/>
<circle cx="224.7" cy="57.5" r="2.49" fill="url(#bead2)"/>
<circle cx="175.8" cy="57.4" r="2.61" fill="url(#bead)"/>
<circle cx="231.4" cy="56.5" r="2.70" fill="url(#bead)"/>
<circle cx="188.6" cy="57.2" r="2.70" fill="url(#bead)"/>
<circle cx="213.7" cy="57.3" r="2.73" fill="url(#bead2)"/>
<circle cx="228.3" cy="56.4" r="3.00" fill="url(#bead)"/>
<circle cx="218.5" cy="57.6" r="2.83" fill="url(#bead2)"/>
<circle cx="175.7" cy="56.7" r="2.65" fill="url(#bead)"/>
<circle cx="214.5" cy="56.7" r="2.42" fill="url(#bead)"/>
<circle cx="203.3" cy="57.7" r="2.50" fill="url(#bead)"/>
<circle cx="196.6" cy="57.5" r="2.95" fill="url(#bead)"/>
<circle cx="204.4" cy="57.6" r="2.63" fill="url(#bead)"/>
<circle cx="191.3" cy="95.6" r="2.63" fill="url(#bead2)"/>
<circle cx="269.7" cy="95.9" r="2.45" fill="url(#bead2)"/>
<circle cx="242.4" cy="95.9" r="2.95" fill="url(#bead)"/>
<circle cx="223.5" cy="95.2" r="2.33" fill="url(#bead)"/>
<circle cx="177.7" cy="95.9" r="2.35" fill="url(#bead)"/>
<circle cx="226.2" cy="96.4" r="2.71" fill="url(#bead)"/>
<circle cx="256.5" cy="96.8" r="2.41" fill="url(#bead)"/>
<circle cx="229.3" cy="95.0" r="2.54" fill="url(#bead)"/>
<circle cx="206.7" cy="96.5" r="2.60" fill="url(#bead)"/>
<circle cx="242.7" cy="95.4" r="2.41" fill="url(#bead)"/>
<circle cx="239.0" cy="96.1" r="2.90" fill="url(#bead)"/>
<circle cx="183.5" cy="97.1" r="2.32" fill="url(#bead)"/>
<circle cx="175.0" cy="97.5" r="2.99" fill="url(#bead2)"/>
<circle cx="220.3" cy="96.3" r="2.99" fill="url(#bead2)"/>
<circle cx="279.5" cy="97.4" r="2.38" fill="url(#bead2)"/>
<circle cx="237.2" cy="96.4" r="2.49" fill="url(#bead2)"/>
<circle cx="176.6" cy="98.1" r="2.72" fill="url(#bead)"/>
<circle cx="260.3" cy="96.6" r="2.61" fill="url(#bead)"/>
<circle cx="226.5" cy="97.0" r="2.99" fill="url(#bead)"/>
<circle cx="167.0" cy="97.8" r="2.61" fill="url(#bead)"/>
<circle cx="204.3" cy="95.8" r="2.72" fill="url(#bead)"/>
<circle cx="246.1" cy="97.7" r="2.31" fill="url(#bead)"/>
<circle cx="218.8" cy="96.6" r="2.34" fill="url(#bead2)"/>
<circle cx="239.8" cy="98.8" r="2.63" fill="url(#bead)"/>
<circle cx="251.8" cy="95.9" r="2.45" fill="url(#bead)"/>
<circle cx="265.9" cy="99.0" r="2.81" fill="url(#bead)"/>
<circle cx="191.6" cy="96.7" r="2.75" fill="url(#bead)"/>
<circle cx="263.3" cy="99.4" r="2.61" fill="url(#bead)"/>
<circle cx="181.1" cy="98.0" r="2.44" fill="url(#bead2)"/>
<circle cx="158.9" cy="98.4" r="2.94" fill="url(#bead)"/>
<circle cx="183.7" cy="97.8" r="2.65" fill="url(#bead)"/>
<circle cx="241.1" cy="98.0" r="2.99" fill="url(#bead)"/>
<circle cx="250.9" cy="97.3" r="2.63" fill="url(#bead2)"/>
<circle cx="281.9" cy="97.8" r="2.44" fill="url(#bead2)"/>
<circle cx="235.8" cy="99.3" r="2.67" fill="url(#bead)"/>
<circle cx="168.5" cy="97.8" r="2.43" fill="url(#bead)"/>
<circle cx="129.4" cy="99.8" r="2.75" fill="url(#bead2)"/>
<circle cx="208.2" cy="97.2" r="2.78" fill="url(#bead2)"/>
<circle cx="283.5" cy="99.5" r="2.40" fill="url(#bead)"/>
<circle cx="247.8" cy="99.8" r="2.64" fill="url(#bead)"/>
<circle cx="195.7" cy="99.7" r="2.53" fill="url(#bead)"/>
<circle cx="140.5" cy="99.3" r="2.33" fill="url(#bead2)"/>
<circle cx="210.4" cy="99.3" r="2.74" fill="url(#bead)"/>
<circle cx="259.3" cy="99.7" r="2.88" fill="url(#bead)"/>
<circle cx="202.3" cy="99.3" r="2.62" fill="url(#bead)"/>
<circle cx="274.6" cy="96.6" r="2.34" fill="url(#bead)"/>
<circle cx="264.1" cy="100.0" r="2.31" fill="url(#bead)"/>
<circle cx="178.3" cy="99.3" r="2.70" fill="url(#bead)"/>
<circle cx="218.5" cy="100.2" r="2.59" fill="url(#bead)"/>
<circle cx="162.7" cy="100.7" r="2.31" fill="url(#bead2)"/>
<circle cx="295.9" cy="100.5" r="2.84" fill="url(#bead)"/>
<circle cx="156.9" cy="99.8" r="2.71" fill="url(#bead)"/>
<circle cx="301.3" cy="100.8" r="2.57" fill="url(#bead2)"/>
<circle cx="222.9" cy="97.2" r="2.65" fill="url(#bead2)"/>
<circle cx="255.9" cy="97.9" r="2.62" fill="url(#bead2)"/>
<circle cx="155.5" cy="99.0" r="2.80" fill="url(#bead2)"/>
<circle cx="280.6" cy="98.1" r="2.66" fill="url(#bead2)"/>
<circle cx="271.5" cy="100.3" r="2.62" fill="url(#bead2)"/>
<circle cx="285.8" cy="98.4" r="2.30" fill="url(#bead)"/>
<circle cx="298.6" cy="101.1" r="2.32" fill="url(#bead)"/>
<circle cx="262.6" cy="100.9" r="2.59" fill="url(#bead)"/>
<circle cx="160.8" cy="99.7" r="2.80" fill="url(#bead2)"/>
<circle cx="210.4" cy="98.4" r="2.82" fill="url(#bead2)"/>
<circle cx="276.3" cy="99.2" r="2.70" fill="url(#bead)"/>
<circle cx="162.6" cy="100.2" r="2.67" fill="url(#bead)"/>
<circle cx="247.9" cy="100.1" r="2.59" fill="url(#bead)"/>
<circle cx="215.4" cy="98.4" r="2.98" fill="url(#bead)"/>
<circle cx="118.5" cy="101.4" r="2.77" fill="url(#bead2)"/>
<circle cx="162.6" cy="101.5" r="2.73" fill="url(#bead2)"/>
<circle cx="299.5" cy="100.5" r="2.97" fill="url(#bead)"/>
<circle cx="239.8" cy="99.4" r="2.88" fill="url(#bead)"/>
<circle cx="230.5" cy="100.6" r="2.96" fill="url(#bead)"/>
<circle cx="242.4" cy="99.2" r="2.44" fill="url(#bead)"/>
<circle cx="244.4" cy="98.8" r="2.59" fill="url(#bead)"/>
<circle cx="154.1" cy="100.0" r="2.73" fill="url(#bead)"/>
<circle cx="189.3" cy="101.8" r="2.30" fill="url(#bead)"/>
<circle cx="117.1" cy="99.9" r="2.37" fill="url(#bead2)"/>
<circle cx="154.4" cy="101.3" r="2.32" fill="url(#bead)"/>
<circle cx="137.8" cy="101.6" r="2.69" fill="url(#bead2)"/>
<circle cx="222.6" cy="101.8" r="2.43" fill="url(#bead)"/>
<circle cx="148.2" cy="99.9" r="2.94" fill="url(#bead)"/>
<circle cx="256.3" cy="99.3" r="2.42" fill="url(#bead)"/>
<circle cx="178.8" cy="98.6" r="2.94" fill="url(#bead)"/>
<circle cx="280.1" cy="99.4" r="2.98" fill="url(#bead)"/>
<circle cx="175.1" cy="98.1" r="2.49" fill="url(#bead)"/>
<circle cx="121.7" cy="101.7" r="2.83" fill="url(#bead)"/>
<circle cx="197.8" cy="101.3" r="2.68" fill="url(#bead)"/>
<circle cx="113.2" cy="102.0" r="2.50" fill="url(#bead)"/>
<circle cx="217.8" cy="100.2" r="2.86" fill="url(#bead)"/>
<circle cx="251.5" cy="100.4" r="2.77" fill="url(#bead)"/>
<circle cx="225.3" cy="99.5" r="2.99" fill="url(#bead)"/>
<circle cx="149.1" cy="100.7" r="2.75" fill="url(#bead)"/>
<circle cx="118.8" cy="101.5" r="2.43" fill="url(#bead2)"/>
<circle cx="282.4" cy="101.9" r="2.98" fill="url(#bead)"/>
<circle cx="107.4" cy="101.9" r="2.84" fill="url(#bead)"/>
<circle cx="255.7" cy="100.5" r="2.45" fill="url(#bead2)"/>
<circle cx="260.5" cy="100.7" r="2.53" fill="url(#bead)"/>
<circle cx="185.0" cy="99.0" r="2.47" fill="url(#bead)"/>
<circle cx="115.6" cy="101.1" r="2.88" fill="url(#bead)"/>
<circle cx="301.3" cy="101.7" r="2.43" fill="url(#bead)"/>
<circle cx="216.6" cy="100.1" r="2.59" fill="url(#bead)"/>
<circle cx="115.7" cy="101.0" r="2.41" fill="url(#bead)"/>
<circle cx="281.8" cy="100.2" r="2.57" fill="url(#bead)"/>
<circle cx="169.4" cy="102.6" r="2.89" fill="url(#bead)"/>
<circle cx="270.3" cy="101.3" r="2.49" fill="url(#bead)"/>
<circle cx="278.4" cy="102.1" r="2.79" fill="url(#bead2)"/>
<circle cx="155.6" cy="99.8" r="2.32" fill="url(#bead)"/>
<circle cx="117.2" cy="102.6" r="2.64" fill="url(#bead)"/>
<circle cx="204.0" cy="99.9" r="2.51" fill="url(#bead2)"/>
<circle cx="258.6" cy="101.8" r="2.54" fill="url(#bead2)"/>
<circle cx="116.6" cy="101.7" r="2.35" fill="url(#bead2)"/>
<circle cx="258.3" cy="102.4" r="2.73" fill="url(#bead2)"/>
<circle cx="146.6" cy="99.8" r="2.84" fill="url(#bead)"/>
<circle cx="118.4" cy="100.8" r="2.67" fill="url(#bead)"/>
<circle cx="146.7" cy="101.0" r="2.89" fill="url(#bead)"/>
<circle cx="146.7" cy="100.0" r="2.81" fill="url(#bead)"/>
<circle cx="302.4" cy="101.3" r="2.42" fill="url(#bead2)"/>
<circle cx="227.3" cy="99.9" r="2.90" fill="url(#bead)"/>
<circle cx="132.2" cy="100.1" r="2.81" fill="url(#bead)"/>
<circle cx="274.6" cy="102.9" r="2.99" fill="url(#bead)"/>
<circle cx="276.4" cy="103.0" r="2.48" fill="url(#bead2)"/>
<circle cx="143.7" cy="101.9" r="2.87" fill="url(#bead)"/>
<circle cx="310.2" cy="101.9" r="2.33" fill="url(#bead2)"/>
<circle cx="118.7" cy="101.6" r="2.80" fill="url(#bead)"/>
<circle cx="163.3" cy="102.9" r="2.72" fill="url(#bead2)"/>
<circle cx="104.2" cy="102.2" r="2.30" fill="url(#bead2)"/>
<circle cx="311.9" cy="102.6" r="2.65" fill="url(#bead2)"/>
<circle cx="159.6" cy="103.4" r="2.98" fill="url(#bead)"/>
<circle cx="107.4" cy="100.2" r="2.51" fill="url(#bead2)"/>
<circle cx="281.7" cy="100.7" r="2.85" fill="url(#bead)"/>
<circle cx="190.2" cy="101.8" r="2.80" fill="url(#bead)"/>
<circle cx="300.3" cy="102.6" r="2.46" fill="url(#bead)"/>
<circle cx="244.7" cy="103.2" r="2.93" fill="url(#bead)"/>
<circle cx="153.4" cy="103.3" r="2.86" fill="url(#bead2)"/>
<circle cx="148.8" cy="101.3" r="2.71" fill="url(#bead)"/>
<circle cx="114.4" cy="100.4" r="2.58" fill="url(#bead)"/>
<circle cx="255.7" cy="101.6" r="2.85" fill="url(#bead)"/>
<circle cx="118.0" cy="101.9" r="2.74" fill="url(#bead)"/>
<circle cx="277.9" cy="101.7" r="2.62" fill="url(#bead)"/>
<circle cx="107.8" cy="102.7" r="2.35" fill="url(#bead)"/>
<circle cx="109.5" cy="102.8" r="2.83" fill="url(#bead)"/>
<circle cx="276.6" cy="103.9" r="2.75" fill="url(#bead)"/>
<circle cx="239.7" cy="100.9" r="2.89" fill="url(#bead)"/>
<circle cx="165.6" cy="103.2" r="2.55" fill="url(#bead2)"/>
<circle cx="303.9" cy="100.6" r="2.45" fill="url(#bead)"/>
<circle cx="244.1" cy="103.6" r="2.76" fill="url(#bead2)"/>
<circle cx="209.3" cy="103.2" r="2.89" fill="url(#bead)"/>
<circle cx="115.1" cy="101.1" r="2.51" fill="url(#bead)"/>
<circle cx="203.4" cy="102.6" r="2.87" fill="url(#bead)"/>
<circle cx="275.5" cy="102.6" r="2.71" fill="url(#bead)"/>
<circle cx="114.5" cy="104.2" r="2.89" fill="url(#bead)"/>
<circle cx="316.8" cy="102.9" r="2.43" fill="url(#bead2)"/>
<circle cx="302.9" cy="104.2" r="2.69" fill="url(#bead)"/>
<circle cx="243.1" cy="104.1" r="2.52" fill="url(#bead)"/>
<circle cx="303.3" cy="101.4" r="2.64" fill="url(#bead)"/>
<circle cx="237.5" cy="101.0" r="2.82" fill="url(#bead)"/>
<circle cx="317.2" cy="102.8" r="2.50" fill="url(#bead)"/>
<circle cx="264.1" cy="104.5" r="2.87" fill="url(#bead)"/>
<circle cx="169.0" cy="100.8" r="2.69" fill="url(#bead)"/>
<circle cx="169.1" cy="101.6" r="2.86" fill="url(#bead)"/>
<circle cx="294.4" cy="103.2" r="2.63" fill="url(#bead2)"/>
<circle cx="215.9" cy="101.8" r="2.95" fill="url(#bead2)"/>
<circle cx="192.0" cy="104.7" r="2.71" fill="url(#bead)"/>
<circle cx="153.1" cy="101.6" r="2.63" fill="url(#bead)"/>
<circle cx="319.6" cy="103.9" r="2.52" fill="url(#bead2)"/>
<circle cx="141.9" cy="102.5" r="2.67" fill="url(#bead)"/>
<circle cx="137.7" cy="103.6" r="2.70" fill="url(#bead)"/>
<circle cx="111.2" cy="104.3" r="2.86" fill="url(#bead)"/>
<circle cx="314.0" cy="102.9" r="2.47" fill="url(#bead)"/>
<circle cx="272.8" cy="103.6" r="2.85" fill="url(#bead2)"/>
<circle cx="282.4" cy="101.8" r="2.50" fill="url(#bead2)"/>
<circle cx="208.0" cy="101.6" r="2.36" fill="url(#bead2)"/>
<circle cx="279.6" cy="104.3" r="2.53" fill="url(#bead)"/>
<circle cx="317.1" cy="103.4" r="2.36" fill="url(#bead)"/>
<circle cx="225.8" cy="101.8" r="3.00" fill="url(#bead)"/>
<circle cx="312.1" cy="103.8" r="2.43" fill="url(#bead)"/>
<circle cx="242.5" cy="104.0" r="2.33" fill="url(#bead)"/>
<circle cx="231.7" cy="101.7" r="2.83" fill="url(#bead2)"/>
<circle cx="166.8" cy="102.5" r="2.67" fill="url(#bead)"/>
<circle cx="209.4" cy="101.3" r="2.31" fill="url(#bead)"/>
<circle cx="126.9" cy="105.1" r="2.31" fill="url(#bead2)"/>
<circle cx="310.3" cy="102.1" r="2.88" fill="url(#bead)"/>
<circle cx="143.7" cy="105.0" r="2.49" fill="url(#bead)"/>
<circle cx="217.4" cy="101.9" r="2.63" fill="url(#bead)"/>
<circle cx="283.0" cy="103.7" r="2.46" fill="url(#bead)"/>
<circle cx="108.5" cy="104.1" r="2.64" fill="url(#bead)"/>
<circle cx="106.1" cy="104.1" r="2.92" fill="url(#bead)"/>
<circle cx="217.4" cy="102.3" r="2.60" fill="url(#bead)"/>
<circle cx="121.0" cy="105.0" r="2.51" fill="url(#bead)"/>
<circle cx="301.9" cy="102.8" r="2.62" fill="url(#bead)"/>
<circle cx="251.0" cy="104.5" r="2.46" fill="url(#bead2)"/>
<circle cx="229.7" cy="103.2" r="2.37" fill="url(#bead2)"/>
<circle cx="168.6" cy="104.1" r="2.84" fill="url(#bead2)"/>
<circle cx="226.3" cy="102.5" r="2.54" fill="url(#bead2)"/>
<circle cx="112.0" cy="103.7" r="2.90" fill="url(#bead)"/>
<circle cx="178.9" cy="104.2" r="2.47" fill="url(#bead2)"/>
<circle cx="317.6" cy="104.3" r="2.62" fill="url(#bead)"/>
<circle cx="299.2" cy="105.3" r="2.84" fill="url(#bead)"/>
<circle cx="120.1" cy="102.3" r="2.43" fill="url(#bead)"/>
<circle cx="314.5" cy="102.8" r="2.53" fill="url(#bead)"/>
<circle cx="315.1" cy="103.6" r="2.93" fill="url(#bead2)"/>
<circle cx="260.5" cy="105.3" r="2.34" fill="url(#bead)"/>
<circle cx="284.0" cy="105.4" r="2.46" fill="url(#bead)"/>
<circle cx="275.5" cy="103.2" r="2.69" fill="url(#bead)"/>
<circle cx="320.1" cy="104.5" r="2.95" fill="url(#bead)"/>
<circle cx="325.1" cy="104.8" r="2.56" fill="url(#bead2)"/>
<circle cx="260.5" cy="105.0" r="2.32" fill="url(#bead)"/>
<circle cx="320.1" cy="104.6" r="2.40" fill="url(#bead2)"/>
<circle cx="184.2" cy="103.0" r="2.92" fill="url(#bead2)"/>
<circle cx="223.2" cy="102.3" r="2.99" fill="url(#bead)"/>
<circle cx="168.9" cy="105.3" r="2.42" fill="url(#bead)"/>
<circle cx="121.7" cy="103.9" r="2.64" fill="url(#bead)"/>
<circle cx="199.3" cy="105.3" r="2.72" fill="url(#bead)"/>
<circle cx="319.9" cy="103.1" r="2.32" fill="url(#bead)"/>
<circle cx="256.6" cy="103.7" r="2.92" fill="url(#bead)"/>
<circle cx="321.0" cy="104.9" r="2.54" fill="url(#bead2)"/>
<circle cx="306.0" cy="106.3" r="2.70" fill="url(#bead)"/>
<circle cx="132.9" cy="103.3" r="2.34" fill="url(#bead)"/>
<circle cx="283.5" cy="106.1" r="2.48" fill="url(#bead)"/>
<circle cx="111.2" cy="104.8" r="2.88" fill="url(#bead)"/>
<circle cx="136.7" cy="103.2" r="2.72" fill="url(#bead)"/>
<circle cx="130.5" cy="106.0" r="2.36" fill="url(#bead2)"/>
<circle cx="275.4" cy="102.5" r="2.82" fill="url(#bead)"/>
<circle cx="194.7" cy="104.2" r="2.75" fill="url(#bead)"/>
<circle cx="134.6" cy="105.4" r="2.92" fill="url(#bead)"/>
<circle cx="288.1" cy="102.6" r="2.31" fill="url(#bead)"/>
<circle cx="131.6" cy="103.8" r="2.67" fill="url(#bead)"/>
<circle cx="174.2" cy="105.4" r="2.92" fill="url(#bead2)"/>
<circle cx="326.9" cy="104.3" r="2.57" fill="url(#bead)"/>
<circle cx="133.7" cy="105.2" r="2.57" fill="url(#bead2)"/>
<circle cx="230.7" cy="105.5" r="2.57" fill="url(#bead)"/>
<circle cx="271.8" cy="103.8" r="2.83" fill="url(#bead)"/>
<circle cx="311.1" cy="103.8" r="2.64" fill="url(#bead)"/>
<circle cx="164.5" cy="104.2" r="2.70" fill="url(#bead2)"/>
<circle cx="324.4" cy="106.7" r="2.82" fill="url(#bead2)"/>
<circle cx="230.9" cy="105.0" r="2.39" fill="url(#bead2)"/>
<circle cx="199.8" cy="105.0" r="2.70" fill="url(#bead)"/>
<circle cx="160.6" cy="103.6" r="2.79" fill="url(#bead)"/>
<circle cx="318.5" cy="106.2" r="2.55" fill="url(#bead)"/>
<circle cx="249.0" cy="103.3" r="2.35" fill="url(#bead)"/>
<circle cx="219.8" cy="106.2" r="2.52" fill="url(#bead)"/>
<circle cx="282.7" cy="105.2" r="2.98" fill="url(#bead)"/>
<circle cx="314.4" cy="103.7" r="2.59" fill="url(#bead2)"/>
<circle cx="310.3" cy="105.1" r="2.45" fill="url(#bead)"/>
<circle cx="295.7" cy="103.8" r="2.64" fill="url(#bead)"/>
<circle cx="197.1" cy="105.0" r="2.43" fill="url(#bead)"/>
<circle cx="194.3" cy="105.0" r="2.77" fill="url(#bead)"/>
<circle cx="168.2" cy="107.1" r="2.43" fill="url(#bead)"/>
<circle cx="316.8" cy="104.7" r="2.64" fill="url(#bead)"/>
<circle cx="173.9" cy="104.8" r="2.43" fill="url(#bead)"/>
<circle cx="310.3" cy="105.9" r="2.78" fill="url(#bead)"/>
<circle cx="290.3" cy="104.0" r="2.43" fill="url(#bead2)"/>
<circle cx="306.0" cy="105.5" r="2.98" fill="url(#bead)"/>
<circle cx="165.9" cy="104.2" r="2.99" fill="url(#bead2)"/>
<circle cx="144.6" cy="103.5" r="2.65" fill="url(#bead)"/>
<circle cx="110.7" cy="103.3" r="2.41" fill="url(#bead)"/>
<circle cx="207.4" cy="104.0" r="2.88" fill="url(#bead)"/>
<circle cx="327.5" cy="104.2" r="2.31" fill="url(#bead)"/>
<circle cx="166.8" cy="104.6" r="2.94" fill="url(#bead2)"/>
<circle cx="313.4" cy="105.7" r="2.40" fill="url(#bead)"/>
<circle cx="297.4" cy="104.8" r="2.45" fill="url(#bead)"/>
<circle cx="320.6" cy="104.4" r="2.84" fill="url(#bead)"/>
<circle cx="292.1" cy="104.4" r="2.78" fill="url(#bead)"/>
<circle cx="220.9" cy="104.8" r="2.71" fill="url(#bead2)"/>
<circle cx="322.8" cy="103.8" r="2.69" fill="url(#bead)"/>
<circle cx="315.2" cy="106.7" r="2.98" fill="url(#bead)"/>
<circle cx="314.0" cy="104.7" r="2.36" fill="url(#bead)"/>
<circle cx="169.4" cy="103.9" r="2.97" fill="url(#bead2)"/>
<circle cx="235.2" cy="105.4" r="2.87" fill="url(#bead2)"/>
<circle cx="314.6" cy="106.4" r="2.90" fill="url(#bead2)"/>
<circle cx="240.6" cy="107.2" r="2.78" fill="url(#bead)"/>
<circle cx="131.4" cy="105.0" r="2.60" fill="url(#bead)"/>
<circle cx="241.4" cy="106.4" r="2.94" fill="url(#bead)"/>
<circle cx="223.9" cy="106.4" r="2.85" fill="url(#bead2)"/>
<circle cx="120.5" cy="106.6" r="2.95" fill="url(#bead)"/>
<circle cx="121.3" cy="105.5" r="2.52" fill="url(#bead)"/>
<circle cx="163.1" cy="105.0" r="2.56" fill="url(#bead)"/>
<circle cx="109.4" cy="104.6" r="2.56" fill="url(#bead2)"/>
<circle cx="143.0" cy="106.9" r="2.62" fill="url(#bead)"/>
<circle cx="204.7" cy="107.9" r="2.90" fill="url(#bead)"/>
<circle cx="171.5" cy="105.0" r="2.53" fill="url(#bead)"/>
<circle cx="187.7" cy="107.4" r="2.79" fill="url(#bead)"/>
<circle cx="169.2" cy="104.9" r="2.89" fill="url(#bead)"/>
<circle cx="261.3" cy="105.6" r="2.54" fill="url(#bead)"/>
<circle cx="131.0" cy="107.1" r="2.49" fill="url(#bead)"/>
<circle cx="298.2" cy="106.6" r="2.77" fill="url(#bead)"/>
<circle cx="262.9" cy="105.7" r="2.45" fill="url(#bead)"/>
<circle cx="317.8" cy="105.2" r="2.49" fill="url(#bead)"/>
<circle cx="137.4" cy="106.9" r="2.71" fill="url(#bead)"/>
<circle cx="161.0" cy="106.0" r="2.64" fill="url(#bead2)"/>
<circle cx="114.0" cy="107.1" r="2.55" fill="url(#bead)"/>
<circle cx="170.7" cy="107.8" r="2.81" fill="url(#bead2)"/>
<circle cx="300.6" cy="106.5" r="2.70" fill="url(#bead)"/>
<circle cx="193.4" cy="105.1" r="2.52" fill="url(#bead)"/>
<circle cx="249.8" cy="106.4" r="2.78" fill="url(#bead2)"/>
<circle cx="312.2" cy="106.6" r="2.90" fill="url(#bead)"/>
<circle cx="153.7" cy="108.0" r="2.58" fill="url(#bead)"/>
<circle cx="131.1" cy="105.3" r="2.77" fill="url(#bead)"/>
<circle cx="201.0" cy="107.1" r="2.88" fill="url(#bead)"/>
<circle cx="291.7" cy="106.5" r="2.86" fill="url(#bead2)"/>
<circle cx="212.4" cy="107.7" r="2.75" fill="url(#bead)"/>
<circle cx="163.0" cy="105.2" r="2.87" fill="url(#bead)"/>
<circle cx="171.8" cy="105.3" r="2.53" fill="url(#bead)"/>
<circle cx="219.2" cy="105.3" r="2.54" fill="url(#bead)"/>
<circle cx="303.6" cy="105.7" r="2.48" fill="url(#bead)"/>
<circle cx="172.4" cy="107.1" r="2.45" fill="url(#bead)"/>
<circle cx="136.3" cy="106.7" r="2.44" fill="url(#bead)"/>
<circle cx="324.4" cy="105.9" r="2.77" fill="url(#bead)"/>
<circle cx="189.6" cy="107.7" r="2.35" fill="url(#bead)"/>
<circle cx="212.3" cy="106.2" r="2.81" fill="url(#bead)"/>
<circle cx="211.9" cy="108.2" r="2.55" fill="url(#bead)"/>
<circle cx="140.6" cy="107.5" r="2.66" fill="url(#bead2)"/>
<circle cx="232.8" cy="107.1" r="2.77" fill="url(#bead2)"/>
<circle cx="128.6" cy="106.2" r="2.99" fill="url(#bead2)"/>
<circle cx="328.8" cy="106.2" r="2.89" fill="url(#bead)"/>
<circle cx="192.2" cy="107.8" r="2.68" fill="url(#bead2)"/>
<circle cx="250.7" cy="106.0" r="2.63" fill="url(#bead)"/>
<circle cx="157.0" cy="107.7" r="2.63" fill="url(#bead)"/>
<circle cx="187.4" cy="107.6" r="2.55" fill="url(#bead2)"/>
<circle cx="185.5" cy="108.1" r="2.72" fill="url(#bead)"/>
<circle cx="183.9" cy="108.1" r="2.67" fill="url(#bead)"/>
<circle cx="275.4" cy="106.5" r="2.53" fill="url(#bead)"/>
<circle cx="137.4" cy="106.6" r="2.52" fill="url(#bead)"/>
<circle cx="325.1" cy="106.7" r="2.78" fill="url(#bead2)"/>
<circle cx="228.4" cy="107.4" r="2.92" fill="url(#bead)"/>
<circle cx="210.8" cy="106.5" r="2.97" fill="url(#bead)"/>
<circle cx="153.0" cy="107.9" r="2.59" fill="url(#bead)"/>
<circle cx="178.4" cy="107.4" r="2.95" fill="url(#bead)"/>
<circle cx="146.9" cy="107.4" r="2.96" fill="url(#bead)"/>
<circle cx="209.4" cy="107.8" r="2.37" fill="url(#bead)"/>
<circle cx="201" cy="60" r="1.9" fill="url(#bead)"/>
<circle cx="204" cy="61" r="1.9" fill="url(#bead)"/>
<circle cx="244" cy="60" r="1.9" fill="url(#bead)"/>
<circle cx="247" cy="64" r="1.9" fill="url(#bead)"/>
<circle cx="248" cy="67" r="1.9" fill="url(#bead)"/>
<circle cx="250" cy="65" r="1.9" fill="url(#bead)"/>
</g>
<circle cx="223.5" cy="71.8" r="5.5" fill="url(#redb)"/>
<circle cx="217.5" cy="81.4" r="5.6" fill="url(#whtb)"/>
<line x1="173.3" y1="69" x2="219.3" y2="70.2" stroke="#000" stroke-width="1.1"/>
<line x1="173.3" y1="88.9" x2="212.6" y2="82" stroke="#000" stroke-width="1.1"/>
<text x="147.9" y="73.7" text-anchor="start" style="font-size:10.9px;fill:#e8161e;" >E73</text>
<rect x="167.8" y="66.9" width="3.6" height="1.2" fill="#e8161e"/>
<text x="153.0" y="94.1" text-anchor="start" style="font-size:10.5px;fill:#000;" >F71</text>
<text x="200.8" y="32.6" text-anchor="start" style="font-size:11.7px;fill:#000;" >VDAC1</text>
<text x="300.5" y="40.8" text-anchor="start" style="font-size:10.3px;fill:#000;font-style:italic" >cytosol</text>
<text x="105.1" y="122.8" text-anchor="start" style="font-size:10.5px;fill:#2bb8c2;" >glycerol</text>
<text x="244.5" y="121.6" text-anchor="start" style="font-size:8.9px;fill:#000;" >COOH</text>
<clipPath id="pc178155"><path d="M184.4,165.1 C185.8,163.0 186.1,160.9 187.3,159.8 C188.5,158.6 190.1,158.1 191.5,158.2 C192.9,158.4 193.9,160.4 195.9,160.5 C197.8,160.7 201.1,159.5 203.0,159.0 C204.9,158.5 205.9,157.2 207.3,157.5 C208.8,157.7 210.1,160.7 211.6,160.5 C213.0,160.4 214.5,157.5 215.9,156.7 C217.4,155.9 219.0,155.6 220.2,155.9 C221.5,156.3 221.2,158.2 223.1,159.0 C225.1,159.8 229.3,160.5 231.7,160.5 C234.1,160.5 235.5,159.6 237.4,159.0 C239.3,158.4 241.3,157.3 243.2,156.7 C245.1,156.1 247.0,155.4 248.9,155.3 C250.8,155.2 253.0,155.3 254.7,155.9 C256.3,156.6 257.7,157.6 258.9,159.0 C260.1,160.4 260.8,161.8 261.7,164.1 C262.6,166.4 263.8,169.6 264.3,172.9 C264.8,176.1 265.0,180.1 264.8,183.8 C264.6,187.4 263.2,191.1 263.2,194.7 C263.3,198.3 264.9,202.0 265.1,205.6 C265.3,209.2 264.7,213.2 264.3,216.5 C263.8,219.8 264.3,223.3 262.2,225.3 C260.1,227.3 254.8,228.0 251.9,228.5 C248.9,229.0 246.4,227.7 244.6,228.2 C242.9,228.7 242.7,230.8 241.5,231.3 C240.3,231.7 239.1,231.6 237.4,231.1 C235.7,230.7 233.8,229.3 231.2,228.5 C228.6,227.8 224.3,226.6 221.7,226.7 C219.1,226.8 217.1,228.6 215.7,229.1 C214.3,229.6 214.7,229.7 213.0,229.6 C211.3,229.5 208.2,228.3 205.4,228.5 C202.5,228.8 198.4,231.0 195.9,231.1 C193.3,231.3 191.9,230.4 189.9,229.6 C187.8,228.8 185.2,228.2 183.7,226.3 C182.1,224.5 181.2,221.8 180.6,218.7 C180.0,215.6 179.5,211.1 180.1,207.8 C180.6,204.5 182.8,201.2 183.7,199.1 C184.5,196.9 185.7,196.1 185.2,194.7 C184.7,193.2 181.6,192.5 180.6,190.3 C179.5,188.1 179.3,184.5 179.0,181.6 C178.7,178.6 177.8,175.4 178.7,172.6 C179.6,169.9 183.0,167.3 184.4,165.1Z"/></clipPath>
<g filter="url(#pblur)">
<path d="M184.4,165.1 C185.8,163.0 186.1,160.9 187.3,159.8 C188.5,158.6 190.1,158.1 191.5,158.2 C192.9,158.4 193.9,160.4 195.9,160.5 C197.8,160.7 201.1,159.5 203.0,159.0 C204.9,158.5 205.9,157.2 207.3,157.5 C208.8,157.7 210.1,160.7 211.6,160.5 C213.0,160.4 214.5,157.5 215.9,156.7 C217.4,155.9 219.0,155.6 220.2,155.9 C221.5,156.3 221.2,158.2 223.1,159.0 C225.1,159.8 229.3,160.5 231.7,160.5 C234.1,160.5 235.5,159.6 237.4,159.0 C239.3,158.4 241.3,157.3 243.2,156.7 C245.1,156.1 247.0,155.4 248.9,155.3 C250.8,155.2 253.0,155.3 254.7,155.9 C256.3,156.6 257.7,157.6 258.9,159.0 C260.1,160.4 260.8,161.8 261.7,164.1 C262.6,166.4 263.8,169.6 264.3,172.9 C264.8,176.1 265.0,180.1 264.8,183.8 C264.6,187.4 263.2,191.1 263.2,194.7 C263.3,198.3 264.9,202.0 265.1,205.6 C265.3,209.2 264.7,213.2 264.3,216.5 C263.8,219.8 264.3,223.3 262.2,225.3 C260.1,227.3 254.8,228.0 251.9,228.5 C248.9,229.0 246.4,227.7 244.6,228.2 C242.9,228.7 242.7,230.8 241.5,231.3 C240.3,231.7 239.1,231.6 237.4,231.1 C235.7,230.7 233.8,229.3 231.2,228.5 C228.6,227.8 224.3,226.6 221.7,226.7 C219.1,226.8 217.1,228.6 215.7,229.1 C214.3,229.6 214.7,229.7 213.0,229.6 C211.3,229.5 208.2,228.3 205.4,228.5 C202.5,228.8 198.4,231.0 195.9,231.1 C193.3,231.3 191.9,230.4 189.9,229.6 C187.8,228.8 185.2,228.2 183.7,226.3 C182.1,224.5 181.2,221.8 180.6,218.7 C180.0,215.6 179.5,211.1 180.1,207.8 C180.6,204.5 182.8,201.2 183.7,199.1 C184.5,196.9 185.7,196.1 185.2,194.7 C184.7,193.2 181.6,192.5 180.6,190.3 C179.5,188.1 179.3,184.5 179.0,181.6 C178.7,178.6 177.8,175.4 178.7,172.6 C179.6,169.9 183.0,167.3 184.4,165.1Z" fill="#d8cc00"/>
<g clip-path="url(#pc178155)">
<circle cx="196.2" cy="150.6" r="9.0" fill="url(#ylw)"/>
<circle cx="206.4" cy="155.3" r="7.5" fill="url(#ylw)"/>
<circle cx="244.2" cy="152.1" r="7.2" fill="url(#ylw)"/>
<circle cx="225.1" cy="151.7" r="6.9" fill="url(#ylw)"/>
<circle cx="269.0" cy="150.8" r="8.2" fill="url(#ylw)"/>
<circle cx="185.1" cy="152.2" r="6.1" fill="url(#ylw)"/>
<circle cx="216.8" cy="155.4" r="8.8" fill="url(#ylw)"/>
<circle cx="229.6" cy="155.0" r="7.4" fill="url(#ylw)"/>
<circle cx="179.1" cy="155.2" r="8.8" fill="url(#ylw)"/>
<circle cx="261.6" cy="155.9" r="6.6" fill="url(#ylw)"/>
<circle cx="252.5" cy="156.2" r="8.5" fill="url(#ylw)"/>
<circle cx="258.3" cy="159.7" r="8.9" fill="url(#ylw)"/>
<circle cx="179.4" cy="158.9" r="7.8" fill="url(#ylw)"/>
<circle cx="241.9" cy="158.9" r="8.8" fill="url(#ylw)"/>
<circle cx="230.7" cy="158.8" r="5.8" fill="url(#ylw)"/>
<circle cx="223.8" cy="158.9" r="7.3" fill="url(#ylw)"/>
<circle cx="196.9" cy="163.0" r="8.5" fill="url(#ylw)"/>
<circle cx="185.8" cy="160.8" r="5.8" fill="url(#ylw)"/>
<circle cx="252.0" cy="163.3" r="7.7" fill="url(#ylw)"/>
<circle cx="208.5" cy="160.8" r="7.3" fill="url(#ylw)"/>
<circle cx="197.7" cy="165.1" r="4.1" fill="url(#ylw)"/>
<circle cx="241.7" cy="167.2" r="8.0" fill="url(#ylw)"/>
<circle cx="234.5" cy="166.6" r="5.6" fill="url(#ylw)"/>
<circle cx="179.1" cy="169.5" r="5.7" fill="url(#ylw)"/>
<circle cx="212.7" cy="162.8" r="7.8" fill="url(#ylw)"/>
<circle cx="220.3" cy="165.9" r="8.7" fill="url(#ylw)"/>
<circle cx="198.9" cy="169.2" r="6.5" fill="url(#ylw)"/>
<circle cx="216.8" cy="166.9" r="6.3" fill="url(#ylw)"/>
<circle cx="252.7" cy="170.2" r="6.6" fill="url(#ylw)"/>
<circle cx="259.9" cy="167.4" r="8.5" fill="url(#ylw)"/>
<circle cx="185.5" cy="168.3" r="8.9" fill="url(#ylw)"/>
<circle cx="202.5" cy="169.1" r="7.1" fill="url(#ylw)"/>
<circle cx="194.9" cy="173.6" r="7.9" fill="url(#ylw)"/>
<circle cx="204.6" cy="174.0" r="8.6" fill="url(#ylw)"/>
<circle cx="266.8" cy="170.9" r="8.2" fill="url(#ylw)"/>
<circle cx="186.7" cy="177.2" r="6.7" fill="url(#ylw)"/>
<circle cx="221.2" cy="174.7" r="4.9" fill="url(#ylw)"/>
<circle cx="250.1" cy="175.6" r="7.8" fill="url(#ylw)"/>
<circle cx="257.8" cy="181.5" r="7.6" fill="url(#ylw)"/>
<circle cx="178.2" cy="179.1" r="7.8" fill="url(#ylw)"/>
<circle cx="213.5" cy="174.3" r="5.8" fill="url(#ylw)"/>
<circle cx="213.0" cy="177.9" r="6.6" fill="url(#ylw)"/>
<circle cx="244.8" cy="177.1" r="7.8" fill="url(#ylw)"/>
<circle cx="177.0" cy="181.2" r="7.0" fill="url(#ylw)"/>
<circle cx="258.7" cy="177.2" r="9.0" fill="url(#ylw)"/>
<circle cx="223.4" cy="178.9" r="8.8" fill="url(#ylw)"/>
<circle cx="235.2" cy="179.2" r="7.9" fill="url(#ylw)"/>
<circle cx="249.0" cy="182.7" r="6.3" fill="url(#ylw)"/>
<circle cx="238.2" cy="179.6" r="5.6" fill="url(#ylw)"/>
<circle cx="206.7" cy="184.3" r="7.7" fill="url(#ylw)"/>
<circle cx="209.4" cy="185.3" r="6.3" fill="url(#ylw)"/>
<circle cx="213.1" cy="181.7" r="7.3" fill="url(#ylw)"/>
<circle cx="233.1" cy="184.1" r="7.3" fill="url(#ylw)"/>
<circle cx="187.3" cy="186.1" r="7.7" fill="url(#ylw)"/>
<circle cx="196.8" cy="184.6" r="7.7" fill="url(#ylw)"/>
<circle cx="239.7" cy="185.7" r="5.8" fill="url(#ylw)"/>
<circle cx="226.0" cy="186.7" r="6.7" fill="url(#ylw)"/>
<circle cx="252.0" cy="192.4" r="7.0" fill="url(#ylw)"/>
<circle cx="268.3" cy="192.3" r="8.6" fill="url(#ylw)"/>
<circle cx="205.4" cy="192.2" r="9.4" fill="url(#ylw)"/>
<circle cx="260.8" cy="192.1" r="6.2" fill="url(#ylw)"/>
<circle cx="177.9" cy="192.3" r="8.0" fill="url(#ylw)"/>
<circle cx="198.8" cy="194.2" r="6.4" fill="url(#ylw)"/>
<circle cx="255.5" cy="188.8" r="7.9" fill="url(#ylw)"/>
<circle cx="185.9" cy="192.3" r="6.7" fill="url(#ylw)"/>
<circle cx="242.7" cy="194.5" r="7.5" fill="url(#ylw)"/>
<circle cx="243.8" cy="196.8" r="8.9" fill="url(#ylw)"/>
<circle cx="245.2" cy="193.0" r="5.2" fill="url(#ylw)"/>
<circle cx="220.7" cy="190.9" r="7.2" fill="url(#ylw)"/>
<circle cx="246.5" cy="197.5" r="4.3" fill="url(#ylw)"/>
<circle cx="179.1" cy="192.2" r="5.5" fill="url(#ylw)"/>
<circle cx="213.7" cy="191.9" r="8.6" fill="url(#ylw)"/>
<circle cx="232.4" cy="193.0" r="6.2" fill="url(#ylw)"/>
<circle cx="194.8" cy="192.8" r="6.4" fill="url(#ylw)"/>
<circle cx="233.1" cy="197.3" r="7.6" fill="url(#ylw)"/>
<circle cx="179.3" cy="199.9" r="8.0" fill="url(#ylw)"/>
<circle cx="220.8" cy="201.6" r="6.2" fill="url(#ylw)"/>
<circle cx="258.5" cy="200.1" r="7.3" fill="url(#ylw)"/>
<circle cx="265.8" cy="198.4" r="7.3" fill="url(#ylw)"/>
<circle cx="246.8" cy="202.2" r="9.1" fill="url(#ylw)"/>
<circle cx="193.4" cy="200.3" r="8.3" fill="url(#ylw)"/>
<circle cx="211.8" cy="199.4" r="6.9" fill="url(#ylw)"/>
<circle cx="192.0" cy="203.5" r="4.4" fill="url(#ylw)"/>
<circle cx="187.1" cy="200.3" r="7.7" fill="url(#ylw)"/>
<circle cx="189.3" cy="205.7" r="6.8" fill="url(#ylw)"/>
<circle cx="212.4" cy="207.8" r="7.5" fill="url(#ylw)"/>
<circle cx="204.4" cy="202.1" r="7.4" fill="url(#ylw)"/>
<circle cx="204.7" cy="207.2" r="9.0" fill="url(#ylw)"/>
<circle cx="176.8" cy="207.2" r="7.4" fill="url(#ylw)"/>
<circle cx="222.8" cy="204.9" r="6.4" fill="url(#ylw)"/>
<circle cx="196.0" cy="209.7" r="7.9" fill="url(#ylw)"/>
<circle cx="232.7" cy="206.5" r="7.9" fill="url(#ylw)"/>
<circle cx="252.9" cy="208.8" r="6.4" fill="url(#ylw)"/>
<circle cx="255.3" cy="211.9" r="6.8" fill="url(#ylw)"/>
<circle cx="215.9" cy="207.6" r="5.3" fill="url(#ylw)"/>
<circle cx="191.3" cy="211.3" r="4.8" fill="url(#ylw)"/>
<circle cx="240.7" cy="207.7" r="7.4" fill="url(#ylw)"/>
<circle cx="188.4" cy="208.7" r="7.9" fill="url(#ylw)"/>
<circle cx="179.6" cy="211.5" r="6.0" fill="url(#ylw)"/>
<circle cx="263.0" cy="207.2" r="6.8" fill="url(#ylw)"/>
<circle cx="182.4" cy="214.0" r="4.2" fill="url(#ylw)"/>
<circle cx="204.7" cy="214.7" r="7.7" fill="url(#ylw)"/>
<circle cx="251.3" cy="211.7" r="6.2" fill="url(#ylw)"/>
<circle cx="198.7" cy="214.9" r="6.3" fill="url(#ylw)"/>
<circle cx="213.6" cy="217.3" r="8.5" fill="url(#ylw)"/>
<circle cx="178.5" cy="214.2" r="8.2" fill="url(#ylw)"/>
<circle cx="237.4" cy="212.7" r="7.5" fill="url(#ylw)"/>
<circle cx="197.5" cy="214.2" r="7.1" fill="url(#ylw)"/>
<circle cx="228.6" cy="216.5" r="6.6" fill="url(#ylw)"/>
<circle cx="184.8" cy="216.8" r="6.6" fill="url(#ylw)"/>
<circle cx="219.8" cy="217.5" r="5.6" fill="url(#ylw)"/>
<circle cx="234.2" cy="220.6" r="8.3" fill="url(#ylw)"/>
<circle cx="186.5" cy="221.5" r="7.4" fill="url(#ylw)"/>
<circle cx="260.1" cy="220.3" r="5.8" fill="url(#ylw)"/>
<circle cx="222.5" cy="220.4" r="7.5" fill="url(#ylw)"/>
<circle cx="267.2" cy="217.4" r="8.1" fill="url(#ylw)"/>
<circle cx="204.3" cy="222.2" r="8.7" fill="url(#ylw)"/>
<circle cx="242.6" cy="223.8" r="9.5" fill="url(#ylw)"/>
<circle cx="179.6" cy="224.7" r="8.2" fill="url(#ylw)"/>
<circle cx="250.1" cy="225.2" r="7.3" fill="url(#ylw)"/>
<circle cx="187.7" cy="228.1" r="6.6" fill="url(#ylw)"/>
<circle cx="213.7" cy="222.8" r="5.9" fill="url(#ylw)"/>
<circle cx="214.1" cy="230.1" r="8.3" fill="url(#ylw)"/>
<circle cx="194.7" cy="224.8" r="7.4" fill="url(#ylw)"/>
<circle cx="241.5" cy="228.0" r="7.7" fill="url(#ylw)"/>
<circle cx="198.0" cy="229.6" r="6.1" fill="url(#ylw)"/>
<circle cx="176.1" cy="227.1" r="5.8" fill="url(#ylw)"/>
<circle cx="257.3" cy="229.1" r="5.1" fill="url(#ylw)"/>
<circle cx="234.1" cy="227.5" r="6.0" fill="url(#ylw)"/>
<circle cx="206.5" cy="232.9" r="8.0" fill="url(#ylw)"/>
<circle cx="225.5" cy="231.6" r="6.5" fill="url(#ylw)"/>
<circle cx="261.3" cy="232.6" r="7.3" fill="url(#ylw)"/>
<circle cx="249.1" cy="232.6" r="7.2" fill="url(#ylw)"/>
<ellipse cx="254.8" cy="183.6" rx="6.0" ry="4.1" fill="url(#tan)"/>
<ellipse cx="262.2" cy="219.6" rx="6.0" ry="5.1" fill="url(#tan)"/>
<ellipse cx="259.7" cy="223.0" rx="4.9" ry="4.5" fill="url(#tan)"/>
<ellipse cx="224.8" cy="184.3" rx="4.6" ry="4.6" fill="url(#tan)"/>
<ellipse cx="222.2" cy="211.0" rx="3.8" ry="4.1" fill="url(#tan)"/>
<ellipse cx="242.0" cy="217.0" rx="5.7" ry="3.4" fill="url(#tan)"/>
<ellipse cx="249.5" cy="175.5" rx="5.7" ry="4.0" fill="url(#tan)"/>
<ellipse cx="261.5" cy="190.1" rx="4.5" ry="3.8" fill="url(#tan)"/>
<ellipse cx="261.5" cy="183.2" rx="4.3" ry="4.3" fill="url(#tan)"/>
<ellipse cx="249.6" cy="223.7" rx="3.8" ry="3.8" fill="url(#tan)"/>
<ellipse cx="251.8" cy="193.3" rx="5.9" ry="4.7" fill="url(#tan)"/>
<ellipse cx="225.7" cy="162.8" rx="4.1" ry="3.8" fill="url(#tan)"/>
<ellipse cx="229.4" cy="179.0" rx="3.9" ry="3.1" fill="url(#tan)"/>
<ellipse cx="243.6" cy="211.2" rx="4.1" ry="3.2" fill="url(#tan)"/>
</g></g>
<g filter="url(#bblur)">
<circle cx="180.8" cy="162.1" r="2.60" fill="url(#bead2)"/>
<circle cx="189.6" cy="162.6" r="2.47" fill="url(#bead)"/>
<circle cx="229.2" cy="162.5" r="2.87" fill="url(#bead)"/>
<circle cx="295.4" cy="163.4" r="3.00" fill="url(#bead2)"/>
<circle cx="144.1" cy="163.3" r="2.42" fill="url(#bead)"/>
<circle cx="152.6" cy="163.4" r="2.59" fill="url(#bead)"/>
<circle cx="210.1" cy="163.7" r="2.97" fill="url(#bead2)"/>
<circle cx="157.8" cy="164.0" r="2.80" fill="url(#bead)"/>
<circle cx="277.7" cy="162.4" r="2.38" fill="url(#bead)"/>
<circle cx="205.6" cy="163.0" r="2.87" fill="url(#bead)"/>
<circle cx="259.8" cy="163.4" r="2.34" fill="url(#bead)"/>
<circle cx="253.6" cy="163.4" r="2.70" fill="url(#bead)"/>
<circle cx="230.4" cy="162.5" r="2.41" fill="url(#bead)"/>
<circle cx="284.1" cy="163.0" r="2.38" fill="url(#bead)"/>
<circle cx="172.9" cy="163.4" r="2.46" fill="url(#bead2)"/>
<circle cx="149.4" cy="164.5" r="2.73" fill="url(#bead)"/>
<circle cx="237.1" cy="164.4" r="2.57" fill="url(#bead2)"/>
<circle cx="248.0" cy="162.4" r="2.62" fill="url(#bead2)"/>
<circle cx="312.8" cy="164.1" r="2.97" fill="url(#bead)"/>
<circle cx="180.0" cy="162.5" r="2.42" fill="url(#bead)"/>
<circle cx="308.5" cy="163.7" r="2.65" fill="url(#bead2)"/>
<circle cx="208.8" cy="162.1" r="2.34" fill="url(#bead)"/>
<circle cx="110.0" cy="163.9" r="2.58" fill="url(#bead2)"/>
<circle cx="99.0" cy="164.0" r="2.34" fill="url(#bead2)"/>
<circle cx="298.1" cy="162.6" r="2.32" fill="url(#bead)"/>
<circle cx="322.5" cy="164.6" r="2.67" fill="url(#bead)"/>
<circle cx="176.8" cy="162.7" r="2.97" fill="url(#bead)"/>
<circle cx="308.8" cy="162.9" r="2.31" fill="url(#bead)"/>
<circle cx="211.0" cy="164.1" r="2.42" fill="url(#bead)"/>
<circle cx="293.9" cy="164.9" r="2.43" fill="url(#bead)"/>
<circle cx="245.4" cy="162.8" r="2.87" fill="url(#bead)"/>
<circle cx="177.4" cy="162.7" r="2.40" fill="url(#bead2)"/>
<circle cx="206.9" cy="162.5" r="2.78" fill="url(#bead)"/>
<circle cx="275.9" cy="162.9" r="2.50" fill="url(#bead)"/>
<circle cx="275.4" cy="164.6" r="2.96" fill="url(#bead)"/>
<circle cx="248.3" cy="163.5" r="2.33" fill="url(#bead)"/>
<circle cx="301.6" cy="164.0" r="2.76" fill="url(#bead2)"/>
<circle cx="149.0" cy="163.2" r="2.66" fill="url(#bead2)"/>
<circle cx="114.9" cy="163.7" r="2.47" fill="url(#bead)"/>
<circle cx="155.7" cy="163.3" r="2.47" fill="url(#bead)"/>
<circle cx="120.7" cy="164.7" r="2.53" fill="url(#bead2)"/>
<circle cx="208.1" cy="163.9" r="2.64" fill="url(#bead)"/>
<circle cx="303.0" cy="163.4" r="2.85" fill="url(#bead)"/>
<circle cx="207.0" cy="163.9" r="2.59" fill="url(#bead2)"/>
<circle cx="161.7" cy="164.1" r="2.82" fill="url(#bead)"/>
<circle cx="292.0" cy="163.5" r="2.98" fill="url(#bead)"/>
<circle cx="254.2" cy="164.7" r="2.35" fill="url(#bead)"/>
<circle cx="181.8" cy="162.4" r="2.52" fill="url(#bead)"/>
<circle cx="265.9" cy="163.5" r="2.74" fill="url(#bead)"/>
<circle cx="276.6" cy="163.1" r="2.36" fill="url(#bead)"/>
<circle cx="169.1" cy="163.1" r="2.97" fill="url(#bead2)"/>
<circle cx="253.6" cy="163.2" r="2.60" fill="url(#bead)"/>
<circle cx="299.9" cy="162.7" r="2.44" fill="url(#bead)"/>
<circle cx="275.2" cy="165.5" r="2.80" fill="url(#bead)"/>
<circle cx="151.9" cy="163.6" r="2.35" fill="url(#bead)"/>
<circle cx="213.8" cy="164.1" r="2.71" fill="url(#bead2)"/>
<circle cx="198.6" cy="162.9" r="2.81" fill="url(#bead)"/>
<circle cx="312.4" cy="164.7" r="2.89" fill="url(#bead2)"/>
<circle cx="170.9" cy="163.2" r="2.83" fill="url(#bead2)"/>
<circle cx="146.0" cy="164.8" r="2.59" fill="url(#bead)"/>
<circle cx="141.3" cy="165.0" r="2.54" fill="url(#bead)"/>
<circle cx="305.8" cy="164.8" r="2.31" fill="url(#bead)"/>
<circle cx="126.3" cy="164.9" r="2.80" fill="url(#bead)"/>
<circle cx="334.7" cy="164.8" r="2.74" fill="url(#bead2)"/>
<circle cx="107.2" cy="164.8" r="2.41" fill="url(#bead)"/>
<circle cx="245.0" cy="162.4" r="2.76" fill="url(#bead)"/>
<circle cx="188.9" cy="165.7" r="2.94" fill="url(#bead)"/>
<circle cx="132.1" cy="163.9" r="2.61" fill="url(#bead2)"/>
<circle cx="127.2" cy="164.2" r="2.73" fill="url(#bead2)"/>
<circle cx="313.2" cy="163.1" r="2.54" fill="url(#bead)"/>
<circle cx="266.1" cy="163.2" r="2.87" fill="url(#bead)"/>
<circle cx="208.2" cy="164.3" r="2.42" fill="url(#bead)"/>
<circle cx="167.2" cy="164.6" r="2.62" fill="url(#bead)"/>
<circle cx="133.4" cy="165.6" r="2.36" fill="url(#bead)"/>
<circle cx="307.2" cy="164.0" r="2.88" fill="url(#bead)"/>
<circle cx="256.3" cy="164.0" r="2.77" fill="url(#bead)"/>
<circle cx="264.2" cy="162.5" r="2.36" fill="url(#bead2)"/>
<circle cx="243.0" cy="162.6" r="2.59" fill="url(#bead)"/>
<circle cx="260.1" cy="166.0" r="2.68" fill="url(#bead)"/>
<circle cx="225.7" cy="162.8" r="2.32" fill="url(#bead)"/>
<circle cx="241.7" cy="162.9" r="2.81" fill="url(#bead)"/>
<circle cx="203.1" cy="162.6" r="2.67" fill="url(#bead)"/>
<circle cx="246.7" cy="166.1" r="2.72" fill="url(#bead)"/>
<circle cx="265.0" cy="163.0" r="2.44" fill="url(#bead)"/>
<circle cx="128.0" cy="166.2" r="2.79" fill="url(#bead)"/>
<circle cx="278.7" cy="165.1" r="2.36" fill="url(#bead2)"/>
<circle cx="222.4" cy="162.8" r="2.78" fill="url(#bead)"/>
<circle cx="193.8" cy="164.3" r="2.49" fill="url(#bead)"/>
<circle cx="292.3" cy="164.3" r="2.55" fill="url(#bead)"/>
<circle cx="105.3" cy="165.6" r="2.87" fill="url(#bead)"/>
<circle cx="282.1" cy="163.4" r="2.31" fill="url(#bead)"/>
<circle cx="131.0" cy="165.0" r="2.43" fill="url(#bead)"/>
<circle cx="301.8" cy="165.9" r="2.83" fill="url(#bead)"/>
<circle cx="125.6" cy="165.1" r="2.91" fill="url(#bead)"/>
<circle cx="218.4" cy="165.2" r="2.66" fill="url(#bead2)"/>
<circle cx="224.1" cy="164.9" r="2.99" fill="url(#bead)"/>
<circle cx="251.7" cy="163.3" r="2.39" fill="url(#bead2)"/>
<circle cx="248.5" cy="165.8" r="2.73" fill="url(#bead)"/>
<circle cx="228.2" cy="164.1" r="2.37" fill="url(#bead2)"/>
<circle cx="120.7" cy="165.6" r="2.52" fill="url(#bead)"/>
<circle cx="331.4" cy="165.2" r="2.40" fill="url(#bead)"/>
<circle cx="324.5" cy="166.3" r="2.92" fill="url(#bead)"/>
<circle cx="228.7" cy="163.3" r="2.42" fill="url(#bead)"/>
<circle cx="106.9" cy="164.2" r="2.92" fill="url(#bead)"/>
<circle cx="325.8" cy="164.5" r="2.70" fill="url(#bead)"/>
<circle cx="222.3" cy="164.9" r="2.67" fill="url(#bead)"/>
<circle cx="337.5" cy="166.8" r="2.98" fill="url(#bead)"/>
<circle cx="336.5" cy="166.9" r="2.36" fill="url(#bead2)"/>
<circle cx="192.2" cy="164.5" r="2.55" fill="url(#bead)"/>
<circle cx="264.7" cy="165.1" r="2.66" fill="url(#bead2)"/>
<circle cx="287.8" cy="165.0" r="2.44" fill="url(#bead)"/>
<circle cx="241.5" cy="164.7" r="2.58" fill="url(#bead)"/>
<circle cx="123.5" cy="166.3" r="2.52" fill="url(#bead)"/>
<circle cx="263.3" cy="166.6" r="2.49" fill="url(#bead)"/>
<circle cx="255.2" cy="164.6" r="2.74" fill="url(#bead2)"/>
<circle cx="149.7" cy="165.3" r="2.82" fill="url(#bead)"/>
<circle cx="154.1" cy="163.6" r="2.79" fill="url(#bead)"/>
<circle cx="328.6" cy="165.1" r="2.51" fill="url(#bead2)"/>
<circle cx="186.6" cy="165.1" r="2.99" fill="url(#bead)"/>
<circle cx="254.0" cy="163.5" r="2.30" fill="url(#bead2)"/>
<circle cx="100.5" cy="165.6" r="2.99" fill="url(#bead)"/>
<circle cx="112.5" cy="166.9" r="2.84" fill="url(#bead)"/>
<circle cx="323.2" cy="166.8" r="2.39" fill="url(#bead)"/>
<circle cx="117.9" cy="166.2" r="2.94" fill="url(#bead)"/>
<circle cx="324.1" cy="166.7" r="2.45" fill="url(#bead)"/>
<circle cx="189.5" cy="165.2" r="2.36" fill="url(#bead2)"/>
<circle cx="102.1" cy="164.3" r="2.66" fill="url(#bead)"/>
<circle cx="149.9" cy="164.1" r="2.52" fill="url(#bead2)"/>
<circle cx="170.3" cy="165.4" r="2.37" fill="url(#bead)"/>
<circle cx="234.3" cy="164.7" r="2.80" fill="url(#bead)"/>
<circle cx="118.2" cy="166.7" r="2.63" fill="url(#bead)"/>
<circle cx="210.8" cy="167.3" r="2.69" fill="url(#bead)"/>
<circle cx="132.8" cy="165.4" r="2.79" fill="url(#bead)"/>
<circle cx="124.1" cy="166.5" r="2.61" fill="url(#bead)"/>
<circle cx="209.5" cy="164.3" r="2.48" fill="url(#bead2)"/>
<circle cx="184.4" cy="165.3" r="2.42" fill="url(#bead)"/>
<circle cx="335.3" cy="166.4" r="2.87" fill="url(#bead)"/>
<circle cx="104.7" cy="165.1" r="2.63" fill="url(#bead)"/>
<circle cx="126.3" cy="165.5" r="2.50" fill="url(#bead)"/>
<circle cx="151.4" cy="165.2" r="2.49" fill="url(#bead2)"/>
<circle cx="324.4" cy="166.2" r="2.46" fill="url(#bead)"/>
<circle cx="139.7" cy="165.7" r="2.77" fill="url(#bead)"/>
<circle cx="314.1" cy="166.5" r="2.84" fill="url(#bead)"/>
<circle cx="150.5" cy="164.9" r="2.71" fill="url(#bead2)"/>
<circle cx="150.5" cy="166.6" r="2.52" fill="url(#bead)"/>
<circle cx="141.4" cy="166.6" r="2.86" fill="url(#bead)"/>
<circle cx="300.7" cy="165.5" r="2.37" fill="url(#bead2)"/>
<circle cx="281.1" cy="164.6" r="2.82" fill="url(#bead)"/>
<circle cx="276.0" cy="167.4" r="2.78" fill="url(#bead2)"/>
<circle cx="258.6" cy="165.7" r="2.45" fill="url(#bead)"/>
<circle cx="98.7" cy="164.4" r="2.44" fill="url(#bead)"/>
<circle cx="113.5" cy="166.7" r="2.36" fill="url(#bead)"/>
<circle cx="273.1" cy="164.8" r="2.82" fill="url(#bead)"/>
<circle cx="239.9" cy="164.9" r="2.39" fill="url(#bead)"/>
<circle cx="250.3" cy="165.5" r="2.44" fill="url(#bead)"/>
<circle cx="225.8" cy="165.0" r="2.50" fill="url(#bead)"/>
<circle cx="123.5" cy="166.7" r="2.35" fill="url(#bead2)"/>
<circle cx="138.7" cy="166.9" r="2.41" fill="url(#bead2)"/>
<circle cx="270.1" cy="166.3" r="2.60" fill="url(#bead)"/>
<circle cx="230.3" cy="164.2" r="2.91" fill="url(#bead)"/>
<circle cx="211.0" cy="166.4" r="2.85" fill="url(#bead)"/>
<circle cx="333.7" cy="166.5" r="2.91" fill="url(#bead2)"/>
<circle cx="164.9" cy="165.3" r="2.97" fill="url(#bead)"/>
<circle cx="121.6" cy="165.5" r="2.76" fill="url(#bead)"/>
<circle cx="331.5" cy="167.7" r="2.74" fill="url(#bead2)"/>
<circle cx="313.5" cy="167.0" r="2.98" fill="url(#bead)"/>
<circle cx="130.3" cy="168.1" r="2.92" fill="url(#bead)"/>
<circle cx="115.7" cy="166.1" r="2.69" fill="url(#bead)"/>
<circle cx="304.5" cy="164.2" r="2.79" fill="url(#bead2)"/>
<circle cx="112.6" cy="164.3" r="2.71" fill="url(#bead)"/>
<circle cx="249.1" cy="166.2" r="2.74" fill="url(#bead)"/>
<circle cx="303.0" cy="167.9" r="2.61" fill="url(#bead)"/>
<circle cx="198.5" cy="164.8" r="2.76" fill="url(#bead)"/>
<circle cx="157.0" cy="167.3" r="2.32" fill="url(#bead)"/>
<circle cx="278.1" cy="164.6" r="2.69" fill="url(#bead)"/>
<circle cx="268.7" cy="166.7" r="2.64" fill="url(#bead)"/>
<circle cx="237.5" cy="167.2" r="2.60" fill="url(#bead)"/>
<circle cx="154.0" cy="166.3" r="2.33" fill="url(#bead)"/>
<circle cx="218.4" cy="168.1" r="2.51" fill="url(#bead2)"/>
<circle cx="331.4" cy="166.9" r="2.65" fill="url(#bead)"/>
<circle cx="259.8" cy="166.6" r="2.95" fill="url(#bead)"/>
<circle cx="340.9" cy="167.3" r="2.48" fill="url(#bead)"/>
<circle cx="219.5" cy="165.2" r="2.65" fill="url(#bead2)"/>
<circle cx="185.9" cy="167.2" r="2.84" fill="url(#bead2)"/>
<circle cx="108.4" cy="165.0" r="2.47" fill="url(#bead)"/>
<circle cx="187.7" cy="166.7" r="2.89" fill="url(#bead)"/>
<circle cx="104.5" cy="165.4" r="2.94" fill="url(#bead)"/>
<circle cx="215.0" cy="166.7" r="3.00" fill="url(#bead2)"/>
<circle cx="161.2" cy="165.9" r="2.97" fill="url(#bead2)"/>
<circle cx="215.6" cy="168.1" r="2.50" fill="url(#bead2)"/>
<circle cx="207.9" cy="167.4" r="2.91" fill="url(#bead2)"/>
<circle cx="188.7" cy="166.0" r="2.82" fill="url(#bead)"/>
<circle cx="142.1" cy="166.8" r="2.68" fill="url(#bead)"/>
<circle cx="208.6" cy="167.1" r="2.68" fill="url(#bead2)"/>
<circle cx="110.5" cy="166.4" r="2.78" fill="url(#bead)"/>
<circle cx="112.1" cy="167.3" r="2.46" fill="url(#bead)"/>
<circle cx="166.6" cy="166.6" r="3.00" fill="url(#bead)"/>
<circle cx="181.2" cy="166.6" r="2.44" fill="url(#bead)"/>
<circle cx="204.8" cy="167.1" r="2.87" fill="url(#bead)"/>
<circle cx="305.5" cy="168.5" r="2.52" fill="url(#bead)"/>
<circle cx="105.8" cy="167.2" r="2.79" fill="url(#bead2)"/>
<circle cx="196.8" cy="168.5" r="2.66" fill="url(#bead)"/>
<circle cx="140.8" cy="166.4" r="2.48" fill="url(#bead)"/>
<circle cx="289.4" cy="164.8" r="2.80" fill="url(#bead)"/>
<circle cx="330.8" cy="167.6" r="2.99" fill="url(#bead)"/>
<circle cx="221.0" cy="167.5" r="2.52" fill="url(#bead)"/>
<circle cx="249.9" cy="167.1" r="2.58" fill="url(#bead)"/>
<circle cx="128.0" cy="165.9" r="2.54" fill="url(#bead2)"/>
<circle cx="243.8" cy="167.9" r="2.82" fill="url(#bead2)"/>
<circle cx="113.6" cy="167.3" r="2.48" fill="url(#bead2)"/>
<circle cx="276.8" cy="166.7" r="2.55" fill="url(#bead)"/>
<circle cx="150.4" cy="167.9" r="2.46" fill="url(#bead)"/>
<circle cx="169.7" cy="167.8" r="2.73" fill="url(#bead)"/>
<circle cx="150.3" cy="165.5" r="2.43" fill="url(#bead)"/>
<circle cx="323.8" cy="166.4" r="2.86" fill="url(#bead)"/>
<circle cx="224.6" cy="166.8" r="2.33" fill="url(#bead2)"/>
<circle cx="303.7" cy="167.8" r="2.65" fill="url(#bead)"/>
<circle cx="132.2" cy="166.2" r="2.66" fill="url(#bead)"/>
<circle cx="100.1" cy="165.8" r="2.96" fill="url(#bead)"/>
<circle cx="175.6" cy="165.5" r="2.53" fill="url(#bead)"/>
<circle cx="234.6" cy="165.2" r="2.82" fill="url(#bead)"/>
<circle cx="254.3" cy="166.4" r="2.85" fill="url(#bead)"/>
<circle cx="305.9" cy="165.6" r="2.38" fill="url(#bead2)"/>
<circle cx="256.3" cy="166.7" r="2.97" fill="url(#bead)"/>
<circle cx="216.6" cy="166.5" r="2.56" fill="url(#bead)"/>
<circle cx="144.8" cy="167.3" r="2.90" fill="url(#bead2)"/>
<circle cx="267.4" cy="166.4" r="2.94" fill="url(#bead)"/>
<circle cx="115.2" cy="166.9" r="2.70" fill="url(#bead)"/>
<circle cx="131.9" cy="168.0" r="2.44" fill="url(#bead)"/>
<circle cx="288.7" cy="167.5" r="2.55" fill="url(#bead2)"/>
<circle cx="302.7" cy="168.1" r="2.58" fill="url(#bead)"/>
<circle cx="298.6" cy="167.0" r="2.66" fill="url(#bead)"/>
<circle cx="133.5" cy="166.6" r="2.45" fill="url(#bead)"/>
<circle cx="171.3" cy="166.3" r="2.84" fill="url(#bead)"/>
<circle cx="332.9" cy="167.1" r="2.86" fill="url(#bead2)"/>
<circle cx="115.7" cy="165.7" r="2.63" fill="url(#bead)"/>
<circle cx="328.6" cy="167.0" r="2.68" fill="url(#bead2)"/>
<circle cx="335.8" cy="167.3" r="2.83" fill="url(#bead)"/>
<circle cx="328.6" cy="167.9" r="2.49" fill="url(#bead2)"/>
<circle cx="176.2" cy="169.2" r="2.81" fill="url(#bead)"/>
<circle cx="325.1" cy="165.7" r="2.53" fill="url(#bead2)"/>
<circle cx="248.6" cy="168.9" r="2.94" fill="url(#bead)"/>
<circle cx="115.6" cy="167.0" r="2.81" fill="url(#bead2)"/>
<circle cx="151.2" cy="168.4" r="2.88" fill="url(#bead)"/>
<circle cx="253.0" cy="166.7" r="2.76" fill="url(#bead)"/>
<circle cx="325.2" cy="166.2" r="2.75" fill="url(#bead)"/>
<circle cx="137.8" cy="167.3" r="2.81" fill="url(#bead)"/>
<circle cx="251.6" cy="169.0" r="2.82" fill="url(#bead2)"/>
<circle cx="245.3" cy="167.7" r="2.38" fill="url(#bead2)"/>
<circle cx="293.8" cy="167.4" r="2.51" fill="url(#bead)"/>
<circle cx="190.9" cy="168.7" r="2.57" fill="url(#bead)"/>
<circle cx="331.2" cy="166.2" r="2.60" fill="url(#bead)"/>
<circle cx="129.4" cy="166.1" r="2.49" fill="url(#bead)"/>
<circle cx="337.3" cy="166.3" r="2.62" fill="url(#bead)"/>
<circle cx="182.4" cy="169.4" r="2.64" fill="url(#bead2)"/>
<circle cx="324.4" cy="168.4" r="2.36" fill="url(#bead2)"/>
<circle cx="334.3" cy="167.4" r="2.95" fill="url(#bead)"/>
<circle cx="119.3" cy="166.6" r="2.82" fill="url(#bead)"/>
<circle cx="215.3" cy="167.0" r="2.42" fill="url(#bead)"/>
<circle cx="142.8" cy="167.0" r="2.88" fill="url(#bead)"/>
<circle cx="152.4" cy="169.1" r="2.47" fill="url(#bead)"/>
<circle cx="140.8" cy="167.9" r="2.87" fill="url(#bead)"/>
<circle cx="170.4" cy="168.0" r="2.38" fill="url(#bead)"/>
<circle cx="151.7" cy="168.5" r="2.31" fill="url(#bead)"/>
<circle cx="153.3" cy="168.1" r="2.79" fill="url(#bead)"/>
<circle cx="331.2" cy="166.4" r="2.43" fill="url(#bead)"/>
<circle cx="185.5" cy="167.6" r="2.85" fill="url(#bead)"/>
<circle cx="278.0" cy="168.9" r="2.84" fill="url(#bead2)"/>
<circle cx="229.8" cy="169.3" r="2.54" fill="url(#bead)"/>
<circle cx="307.0" cy="167.2" r="2.98" fill="url(#bead)"/>
<circle cx="164.0" cy="168.5" r="2.35" fill="url(#bead)"/>
<circle cx="199.6" cy="166.9" r="2.90" fill="url(#bead)"/>
<circle cx="335.8" cy="166.6" r="2.94" fill="url(#bead)"/>
<circle cx="193.3" cy="167.9" r="2.58" fill="url(#bead)"/>
<circle cx="235.5" cy="167.4" r="2.46" fill="url(#bead)"/>
<circle cx="220.2" cy="166.6" r="2.87" fill="url(#bead2)"/>
<circle cx="308.5" cy="167.5" r="2.47" fill="url(#bead)"/>
<circle cx="289.5" cy="167.4" r="2.77" fill="url(#bead2)"/>
<circle cx="228.3" cy="169.3" r="2.94" fill="url(#bead2)"/>
<circle cx="154.7" cy="168.2" r="2.36" fill="url(#bead)"/>
<circle cx="231.6" cy="166.6" r="2.81" fill="url(#bead)"/>
<circle cx="235.0" cy="167.7" r="2.81" fill="url(#bead)"/>
<circle cx="102.3" cy="166.6" r="2.40" fill="url(#bead)"/>
<circle cx="112.0" cy="167.0" r="2.85" fill="url(#bead)"/>
<circle cx="275.1" cy="168.5" r="2.71" fill="url(#bead)"/>
<circle cx="293.1" cy="168.5" r="2.75" fill="url(#bead2)"/>
<circle cx="217.4" cy="169.4" r="2.90" fill="url(#bead)"/>
<circle cx="292.3" cy="168.9" r="2.82" fill="url(#bead)"/>
<circle cx="219.2" cy="167.2" r="2.59" fill="url(#bead2)"/>
<circle cx="142.3" cy="167.7" r="2.44" fill="url(#bead)"/>
<circle cx="250.8" cy="168.9" r="2.41" fill="url(#bead)"/>
<circle cx="172.8" cy="167.2" r="2.45" fill="url(#bead)"/>
<circle cx="127.1" cy="168.4" r="2.65" fill="url(#bead)"/>
<circle cx="213.3" cy="167.4" r="2.38" fill="url(#bead)"/>
<circle cx="234.6" cy="168.4" r="2.81" fill="url(#bead)"/>
<circle cx="245.5" cy="169.1" r="2.73" fill="url(#bead)"/>
<circle cx="170.3" cy="169.0" r="2.51" fill="url(#bead2)"/>
<circle cx="260.4" cy="169.2" r="2.32" fill="url(#bead)"/>
<circle cx="298.0" cy="168.6" r="2.85" fill="url(#bead)"/>
<circle cx="327.2" cy="168.0" r="2.96" fill="url(#bead)"/>
<circle cx="312.0" cy="167.3" r="2.84" fill="url(#bead)"/>
<circle cx="222.8" cy="168.3" r="2.88" fill="url(#bead)"/>
<circle cx="298.2" cy="169.1" r="2.47" fill="url(#bead)"/>
<circle cx="311.8" cy="167.4" r="2.67" fill="url(#bead)"/>
<circle cx="294.5" cy="167.6" r="2.55" fill="url(#bead)"/>
<circle cx="208.5" cy="167.9" r="2.98" fill="url(#bead2)"/>
<circle cx="216.5" cy="167.7" r="2.95" fill="url(#bead)"/>
<circle cx="202.0" cy="169.3" r="2.55" fill="url(#bead)"/>
<circle cx="288.5" cy="167.7" r="2.65" fill="url(#bead2)"/>
<circle cx="119.6" cy="167.9" r="2.85" fill="url(#bead)"/>
<circle cx="252.0" cy="169.0" r="2.37" fill="url(#bead)"/>
<circle cx="287.9" cy="169.0" r="2.62" fill="url(#bead)"/>
<circle cx="217.9" cy="169.0" r="2.67" fill="url(#bead)"/>
<circle cx="270.3" cy="168.4" r="2.34" fill="url(#bead2)"/>
<circle cx="310.8" cy="168.0" r="2.86" fill="url(#bead)"/>
<circle cx="208.8" cy="169.6" r="2.64" fill="url(#bead)"/>
<circle cx="191.7" cy="169.1" r="2.98" fill="url(#bead)"/>
<circle cx="220.4" cy="169.4" r="2.83" fill="url(#bead)"/>
<circle cx="222.4" cy="168.5" r="2.99" fill="url(#bead)"/>
<circle cx="185.4" cy="169.2" r="2.31" fill="url(#bead)"/>
<circle cx="218.1" cy="169.1" r="2.37" fill="url(#bead)"/>
<circle cx="184.2" cy="169.0" r="2.39" fill="url(#bead2)"/>
<circle cx="176.3" cy="213.2" r="2.66" fill="url(#bead)"/>
<circle cx="127.1" cy="212.9" r="2.92" fill="url(#bead2)"/>
<circle cx="152.3" cy="213.3" r="2.85" fill="url(#bead2)"/>
<circle cx="222.7" cy="213.4" r="2.32" fill="url(#bead)"/>
<circle cx="163.5" cy="213.8" r="2.39" fill="url(#bead)"/>
<circle cx="154.4" cy="212.5" r="2.88" fill="url(#bead)"/>
<circle cx="132.9" cy="212.8" r="2.99" fill="url(#bead)"/>
<circle cx="112.1" cy="213.4" r="2.69" fill="url(#bead)"/>
<circle cx="233.8" cy="213.7" r="2.50" fill="url(#bead)"/>
<circle cx="142.4" cy="213.9" r="2.86" fill="url(#bead)"/>
<circle cx="138.3" cy="213.3" r="2.59" fill="url(#bead)"/>
<circle cx="128.3" cy="212.7" r="2.61" fill="url(#bead2)"/>
<circle cx="119.2" cy="213.4" r="2.50" fill="url(#bead2)"/>
<circle cx="152.0" cy="213.4" r="2.31" fill="url(#bead)"/>
<circle cx="116.7" cy="213.6" r="2.95" fill="url(#bead)"/>
<circle cx="120.9" cy="214.8" r="2.96" fill="url(#bead)"/>
<circle cx="222.7" cy="214.3" r="2.95" fill="url(#bead2)"/>
<circle cx="198.4" cy="213.5" r="2.76" fill="url(#bead)"/>
<circle cx="219.4" cy="215.0" r="2.50" fill="url(#bead2)"/>
<circle cx="170.8" cy="215.0" r="2.56" fill="url(#bead2)"/>
<circle cx="186.1" cy="214.8" r="2.32" fill="url(#bead)"/>
<circle cx="264.1" cy="214.5" r="2.77" fill="url(#bead)"/>
<circle cx="232.6" cy="214.9" r="2.45" fill="url(#bead2)"/>
<circle cx="147.2" cy="215.3" r="2.35" fill="url(#bead)"/>
<circle cx="148.9" cy="213.6" r="2.79" fill="url(#bead2)"/>
<circle cx="101.1" cy="213.5" r="2.38" fill="url(#bead)"/>
<circle cx="228.2" cy="213.8" r="2.77" fill="url(#bead)"/>
<circle cx="116.3" cy="215.5" r="2.79" fill="url(#bead)"/>
<circle cx="262.0" cy="215.6" r="2.48" fill="url(#bead)"/>
<circle cx="147.4" cy="212.6" r="2.90" fill="url(#bead)"/>
<circle cx="216.0" cy="215.1" r="2.66" fill="url(#bead)"/>
<circle cx="203.2" cy="214.4" r="2.38" fill="url(#bead2)"/>
<circle cx="123.0" cy="212.8" r="2.34" fill="url(#bead)"/>
<circle cx="149.0" cy="213.9" r="2.43" fill="url(#bead)"/>
<circle cx="181.6" cy="213.7" r="2.85" fill="url(#bead2)"/>
<circle cx="138.4" cy="214.7" r="2.74" fill="url(#bead)"/>
<circle cx="230.9" cy="214.2" r="2.89" fill="url(#bead)"/>
<circle cx="196.2" cy="213.6" r="2.76" fill="url(#bead)"/>
<circle cx="228.4" cy="216.1" r="2.49" fill="url(#bead2)"/>
<circle cx="123.6" cy="214.6" r="2.69" fill="url(#bead)"/>
<circle cx="137.9" cy="213.8" r="2.47" fill="url(#bead)"/>
<circle cx="163.3" cy="213.3" r="2.31" fill="url(#bead)"/>
<circle cx="240.1" cy="214.5" r="2.79" fill="url(#bead)"/>
<circle cx="128.7" cy="215.7" r="2.37" fill="url(#bead)"/>
<circle cx="276.6" cy="216.4" r="2.72" fill="url(#bead)"/>
<circle cx="155.3" cy="215.2" r="2.75" fill="url(#bead2)"/>
<circle cx="166.3" cy="216.3" r="2.42" fill="url(#bead)"/>
<circle cx="161.8" cy="213.9" r="2.33" fill="url(#bead)"/>
<circle cx="213.8" cy="216.3" r="2.65" fill="url(#bead)"/>
<circle cx="191.8" cy="216.1" r="2.90" fill="url(#bead)"/>
<circle cx="108.2" cy="216.5" r="3.00" fill="url(#bead)"/>
<circle cx="105.8" cy="214.4" r="2.31" fill="url(#bead2)"/>
<circle cx="235.9" cy="216.0" r="2.79" fill="url(#bead)"/>
<circle cx="110.6" cy="216.5" r="2.82" fill="url(#bead)"/>
<circle cx="173.9" cy="213.4" r="2.59" fill="url(#bead2)"/>
<circle cx="269.0" cy="215.9" r="2.55" fill="url(#bead)"/>
<circle cx="248.0" cy="216.3" r="2.44" fill="url(#bead)"/>
<circle cx="167.4" cy="214.5" r="2.94" fill="url(#bead)"/>
<circle cx="140.0" cy="214.7" r="2.64" fill="url(#bead)"/>
<circle cx="287.9" cy="216.7" r="2.74" fill="url(#bead)"/>
<circle cx="132.9" cy="213.5" r="2.70" fill="url(#bead2)"/>
<circle cx="166.7" cy="213.1" r="2.38" fill="url(#bead)"/>
<circle cx="234.6" cy="215.0" r="2.70" fill="url(#bead)"/>
<circle cx="106.0" cy="214.1" r="2.82" fill="url(#bead)"/>
<circle cx="172.3" cy="215.2" r="2.52" fill="url(#bead)"/>
<circle cx="229.3" cy="215.4" r="2.70" fill="url(#bead)"/>
<circle cx="198.8" cy="216.2" r="2.68" fill="url(#bead)"/>
<circle cx="231.2" cy="216.9" r="2.93" fill="url(#bead)"/>
<circle cx="169.5" cy="214.0" r="2.99" fill="url(#bead)"/>
<circle cx="118.1" cy="216.8" r="2.90" fill="url(#bead)"/>
<circle cx="149.4" cy="214.2" r="2.67" fill="url(#bead2)"/>
<circle cx="108.9" cy="213.6" r="2.48" fill="url(#bead)"/>
<circle cx="183.5" cy="216.5" r="2.72" fill="url(#bead)"/>
<circle cx="172.5" cy="217.1" r="2.49" fill="url(#bead)"/>
<circle cx="208.4" cy="216.4" r="2.72" fill="url(#bead)"/>
<circle cx="110.4" cy="215.1" r="2.85" fill="url(#bead)"/>
<circle cx="158.0" cy="216.6" r="2.86" fill="url(#bead)"/>
<circle cx="174.2" cy="215.6" r="2.41" fill="url(#bead)"/>
<circle cx="127.9" cy="216.5" r="2.65" fill="url(#bead2)"/>
<circle cx="207.9" cy="216.3" r="2.51" fill="url(#bead)"/>
<circle cx="264.3" cy="216.3" r="2.69" fill="url(#bead)"/>
<circle cx="159.1" cy="216.6" r="2.51" fill="url(#bead2)"/>
<circle cx="108.4" cy="216.8" r="2.43" fill="url(#bead)"/>
<circle cx="275.7" cy="215.1" r="2.55" fill="url(#bead)"/>
<circle cx="107.3" cy="214.3" r="2.45" fill="url(#bead2)"/>
<circle cx="281.7" cy="216.3" r="2.32" fill="url(#bead)"/>
<circle cx="149.2" cy="216.0" r="2.89" fill="url(#bead)"/>
<circle cx="214.1" cy="217.6" r="2.99" fill="url(#bead2)"/>
<circle cx="261.8" cy="217.5" r="2.51" fill="url(#bead)"/>
<circle cx="151.4" cy="214.2" r="2.81" fill="url(#bead)"/>
<circle cx="115.1" cy="214.0" r="2.74" fill="url(#bead)"/>
<circle cx="281.7" cy="217.5" r="2.96" fill="url(#bead)"/>
<circle cx="109.1" cy="215.4" r="2.70" fill="url(#bead)"/>
<circle cx="180.3" cy="214.0" r="2.72" fill="url(#bead)"/>
<circle cx="119.5" cy="217.6" r="2.78" fill="url(#bead)"/>
<circle cx="141.1" cy="216.8" r="2.59" fill="url(#bead2)"/>
<circle cx="198.8" cy="216.1" r="2.56" fill="url(#bead2)"/>
<circle cx="263.4" cy="214.8" r="2.42" fill="url(#bead)"/>
<circle cx="263.3" cy="215.3" r="2.97" fill="url(#bead)"/>
<circle cx="132.8" cy="216.1" r="2.72" fill="url(#bead)"/>
<circle cx="204.8" cy="215.2" r="2.59" fill="url(#bead)"/>
<circle cx="180.2" cy="214.9" r="2.45" fill="url(#bead)"/>
<circle cx="269.8" cy="216.4" r="2.55" fill="url(#bead2)"/>
<circle cx="152.3" cy="215.3" r="2.78" fill="url(#bead)"/>
<circle cx="102.4" cy="215.1" r="2.52" fill="url(#bead)"/>
<circle cx="169.5" cy="215.0" r="2.68" fill="url(#bead)"/>
<circle cx="239.5" cy="218.6" r="2.48" fill="url(#bead)"/>
<circle cx="297.8" cy="216.7" r="2.32" fill="url(#bead)"/>
<circle cx="252.2" cy="215.4" r="2.41" fill="url(#bead)"/>
<circle cx="237.9" cy="218.7" r="2.79" fill="url(#bead)"/>
<circle cx="116.1" cy="218.2" r="2.87" fill="url(#bead)"/>
<circle cx="154.5" cy="217.9" r="2.79" fill="url(#bead2)"/>
<circle cx="140.9" cy="216.4" r="2.48" fill="url(#bead)"/>
<circle cx="188.8" cy="215.5" r="2.64" fill="url(#bead)"/>
<circle cx="102.9" cy="217.1" r="2.41" fill="url(#bead2)"/>
<circle cx="213.2" cy="215.8" r="2.72" fill="url(#bead)"/>
<circle cx="116.6" cy="218.9" r="2.88" fill="url(#bead2)"/>
<circle cx="306.3" cy="218.4" r="2.89" fill="url(#bead2)"/>
<circle cx="108.2" cy="219.0" r="2.86" fill="url(#bead)"/>
<circle cx="268.1" cy="215.7" r="2.37" fill="url(#bead2)"/>
<circle cx="246.2" cy="217.8" r="2.99" fill="url(#bead)"/>
<circle cx="113.3" cy="218.0" r="2.42" fill="url(#bead)"/>
<circle cx="248.5" cy="218.5" r="2.70" fill="url(#bead2)"/>
<circle cx="269.8" cy="219.1" r="2.54" fill="url(#bead)"/>
<circle cx="230.9" cy="216.2" r="2.83" fill="url(#bead2)"/>
<circle cx="197.7" cy="215.5" r="2.41" fill="url(#bead)"/>
<circle cx="189.4" cy="215.5" r="2.54" fill="url(#bead)"/>
<circle cx="114.6" cy="217.5" r="2.93" fill="url(#bead)"/>
<circle cx="238.0" cy="215.7" r="2.69" fill="url(#bead)"/>
<circle cx="149.1" cy="217.2" r="2.53" fill="url(#bead)"/>
<circle cx="213.0" cy="219.2" r="2.70" fill="url(#bead)"/>
<circle cx="301.8" cy="218.4" r="2.84" fill="url(#bead2)"/>
<circle cx="228.1" cy="218.5" r="2.50" fill="url(#bead)"/>
<circle cx="194.8" cy="219.2" r="2.32" fill="url(#bead)"/>
<circle cx="143.3" cy="217.5" r="2.86" fill="url(#bead2)"/>
<circle cx="313.0" cy="218.9" r="2.40" fill="url(#bead)"/>
<circle cx="195.5" cy="217.5" r="2.38" fill="url(#bead)"/>
<circle cx="245.2" cy="217.9" r="2.35" fill="url(#bead)"/>
<circle cx="157.9" cy="219.2" r="2.87" fill="url(#bead)"/>
<circle cx="299.9" cy="218.8" r="2.80" fill="url(#bead2)"/>
<circle cx="250.0" cy="216.4" r="2.65" fill="url(#bead)"/>
<circle cx="254.5" cy="219.0" r="2.35" fill="url(#bead)"/>
<circle cx="181.8" cy="219.3" r="2.42" fill="url(#bead)"/>
<circle cx="159.4" cy="219.0" r="2.77" fill="url(#bead)"/>
<circle cx="304.7" cy="217.6" r="2.75" fill="url(#bead)"/>
<circle cx="267.6" cy="216.1" r="2.86" fill="url(#bead2)"/>
<circle cx="324.5" cy="219.0" r="2.93" fill="url(#bead2)"/>
<circle cx="191.1" cy="219.5" r="2.71" fill="url(#bead2)"/>
<circle cx="135.9" cy="217.7" r="2.82" fill="url(#bead)"/>
<circle cx="103.6" cy="219.6" r="2.91" fill="url(#bead)"/>
<circle cx="226.5" cy="218.3" r="2.91" fill="url(#bead)"/>
<circle cx="286.6" cy="219.4" r="2.69" fill="url(#bead)"/>
<circle cx="198.5" cy="219.5" r="2.59" fill="url(#bead)"/>
<circle cx="292.4" cy="218.4" r="2.33" fill="url(#bead2)"/>
<circle cx="104.7" cy="219.3" r="2.91" fill="url(#bead2)"/>
<circle cx="304.7" cy="218.5" r="2.63" fill="url(#bead2)"/>
<circle cx="173.8" cy="217.6" r="2.75" fill="url(#bead)"/>
<circle cx="333.8" cy="219.2" r="2.74" fill="url(#bead)"/>
<circle cx="345.0" cy="219.1" r="2.34" fill="url(#bead)"/>
<circle cx="119.6" cy="216.7" r="2.88" fill="url(#bead)"/>
<circle cx="137.0" cy="218.4" r="2.50" fill="url(#bead2)"/>
<circle cx="233.3" cy="218.5" r="2.81" fill="url(#bead2)"/>
<circle cx="323.4" cy="218.9" r="2.31" fill="url(#bead)"/>
<circle cx="289.3" cy="219.9" r="2.38" fill="url(#bead2)"/>
<circle cx="301.8" cy="217.8" r="2.55" fill="url(#bead)"/>
<circle cx="254.7" cy="219.1" r="2.36" fill="url(#bead)"/>
<circle cx="291.0" cy="218.6" r="2.90" fill="url(#bead)"/>
<circle cx="194.7" cy="219.3" r="2.75" fill="url(#bead)"/>
<circle cx="193.4" cy="218.9" r="2.83" fill="url(#bead)"/>
<circle cx="293.8" cy="218.1" r="2.94" fill="url(#bead)"/>
<circle cx="261.5" cy="220.1" r="2.78" fill="url(#bead)"/>
<circle cx="243.1" cy="217.0" r="2.42" fill="url(#bead)"/>
<circle cx="271.1" cy="218.4" r="2.68" fill="url(#bead)"/>
<circle cx="325.7" cy="219.2" r="2.98" fill="url(#bead)"/>
<circle cx="261.1" cy="217.5" r="2.80" fill="url(#bead)"/>
<circle cx="201.4" cy="218.1" r="2.31" fill="url(#bead)"/>
<circle cx="221.7" cy="217.5" r="2.72" fill="url(#bead)"/>
<circle cx="341.6" cy="219.0" r="2.57" fill="url(#bead)"/>
<circle cx="325.0" cy="218.7" r="2.98" fill="url(#bead)"/>
<circle cx="200.5" cy="219.7" r="2.83" fill="url(#bead)"/>
<circle cx="212.1" cy="220.1" r="2.95" fill="url(#bead)"/>
<circle cx="300.1" cy="219.2" r="2.77" fill="url(#bead)"/>
<circle cx="170.2" cy="218.7" r="2.30" fill="url(#bead)"/>
<circle cx="127.0" cy="218.4" r="2.77" fill="url(#bead)"/>
<circle cx="211.0" cy="218.0" r="2.99" fill="url(#bead)"/>
<circle cx="130.6" cy="217.9" r="2.97" fill="url(#bead)"/>
<circle cx="128.8" cy="220.2" r="2.75" fill="url(#bead)"/>
<circle cx="165.8" cy="217.1" r="2.55" fill="url(#bead)"/>
<circle cx="319.0" cy="219.8" r="2.61" fill="url(#bead)"/>
<circle cx="285.6" cy="220.9" r="2.43" fill="url(#bead)"/>
<circle cx="295.9" cy="219.8" r="2.68" fill="url(#bead2)"/>
<circle cx="321.3" cy="220.4" r="2.52" fill="url(#bead)"/>
<circle cx="217.7" cy="219.9" r="2.79" fill="url(#bead)"/>
<circle cx="235.3" cy="221.3" r="2.35" fill="url(#bead)"/>
<circle cx="265.8" cy="219.6" r="2.64" fill="url(#bead)"/>
<circle cx="281.9" cy="218.3" r="2.41" fill="url(#bead2)"/>
<circle cx="167.0" cy="221.0" r="2.89" fill="url(#bead)"/>
<circle cx="122.8" cy="218.6" r="2.64" fill="url(#bead2)"/>
<circle cx="307.8" cy="219.9" r="2.38" fill="url(#bead2)"/>
<circle cx="340.0" cy="219.3" r="2.87" fill="url(#bead2)"/>
<circle cx="115.8" cy="217.7" r="2.34" fill="url(#bead)"/>
<circle cx="105.8" cy="217.4" r="2.55" fill="url(#bead)"/>
<circle cx="328.7" cy="218.8" r="2.88" fill="url(#bead)"/>
<circle cx="216.7" cy="220.4" r="2.51" fill="url(#bead)"/>
<circle cx="336.2" cy="219.9" r="2.72" fill="url(#bead)"/>
<circle cx="194.0" cy="219.3" r="2.69" fill="url(#bead)"/>
<circle cx="319.7" cy="219.3" r="2.87" fill="url(#bead)"/>
<circle cx="271.3" cy="220.1" r="2.42" fill="url(#bead2)"/>
<circle cx="149.8" cy="219.1" r="2.94" fill="url(#bead)"/>
<circle cx="217.9" cy="217.9" r="2.81" fill="url(#bead)"/>
<circle cx="141.5" cy="218.9" r="2.47" fill="url(#bead)"/>
<circle cx="224.7" cy="217.8" r="2.35" fill="url(#bead)"/>
<circle cx="287.1" cy="218.1" r="2.31" fill="url(#bead2)"/>
<circle cx="339.8" cy="220.2" r="2.45" fill="url(#bead)"/>
<circle cx="270.0" cy="220.6" r="2.41" fill="url(#bead)"/>
<circle cx="159.6" cy="217.8" r="2.43" fill="url(#bead)"/>
<circle cx="167.5" cy="217.9" r="2.61" fill="url(#bead)"/>
<circle cx="237.4" cy="218.6" r="2.62" fill="url(#bead)"/>
<circle cx="263.1" cy="219.5" r="2.77" fill="url(#bead)"/>
<circle cx="337.2" cy="220.2" r="2.75" fill="url(#bead)"/>
<circle cx="112.1" cy="219.7" r="2.47" fill="url(#bead)"/>
<circle cx="256.5" cy="218.2" r="2.72" fill="url(#bead)"/>
<circle cx="276.1" cy="217.9" r="2.45" fill="url(#bead)"/>
<circle cx="219.6" cy="219.8" r="2.62" fill="url(#bead2)"/>
<circle cx="167.2" cy="220.1" r="2.84" fill="url(#bead)"/>
<circle cx="179.0" cy="221.9" r="2.53" fill="url(#bead2)"/>
<circle cx="276.7" cy="221.2" r="2.46" fill="url(#bead)"/>
<circle cx="270.8" cy="219.3" r="2.45" fill="url(#bead2)"/>
<circle cx="193.9" cy="218.8" r="2.42" fill="url(#bead)"/>
<circle cx="227.4" cy="218.6" r="2.99" fill="url(#bead)"/>
<circle cx="258.4" cy="221.1" r="2.98" fill="url(#bead)"/>
<circle cx="274.4" cy="219.9" r="2.59" fill="url(#bead)"/>
<circle cx="341.8" cy="219.8" r="2.68" fill="url(#bead)"/>
<circle cx="343.5" cy="221.1" r="2.98" fill="url(#bead)"/>
<circle cx="121.3" cy="219.3" r="2.89" fill="url(#bead)"/>
<circle cx="285.2" cy="221.1" r="2.32" fill="url(#bead2)"/>
<circle cx="150.5" cy="220.7" r="2.63" fill="url(#bead2)"/>
<circle cx="343.9" cy="221.1" r="2.74" fill="url(#bead2)"/>
<circle cx="297.2" cy="218.9" r="2.48" fill="url(#bead)"/>
<circle cx="345.0" cy="219.4" r="2.82" fill="url(#bead)"/>
<circle cx="340.6" cy="219.2" r="2.92" fill="url(#bead)"/>
<circle cx="185.9" cy="220.4" r="2.85" fill="url(#bead)"/>
<circle cx="313.0" cy="220.9" r="2.34" fill="url(#bead2)"/>
<circle cx="177.6" cy="220.3" r="2.42" fill="url(#bead2)"/>
<circle cx="209.5" cy="219.9" r="2.60" fill="url(#bead)"/>
<circle cx="330.8" cy="219.8" r="2.49" fill="url(#bead)"/>
<circle cx="202.0" cy="221.4" r="2.97" fill="url(#bead2)"/>
<circle cx="344.8" cy="220.6" r="2.76" fill="url(#bead)"/>
<circle cx="302.7" cy="222.6" r="2.49" fill="url(#bead)"/>
<circle cx="332.1" cy="221.4" r="2.59" fill="url(#bead)"/>
<circle cx="226.7" cy="220.9" r="2.80" fill="url(#bead)"/>
<circle cx="341.3" cy="219.9" r="2.45" fill="url(#bead)"/>
<circle cx="141.8" cy="220.6" r="2.57" fill="url(#bead2)"/>
<circle cx="139.4" cy="219.1" r="2.91" fill="url(#bead)"/>
<circle cx="343.0" cy="221.7" r="2.33" fill="url(#bead)"/>
<circle cx="286.3" cy="222.6" r="2.41" fill="url(#bead)"/>
<circle cx="337.4" cy="221.6" r="2.62" fill="url(#bead)"/>
<circle cx="257.5" cy="219.2" r="2.80" fill="url(#bead)"/>
<circle cx="253.6" cy="220.7" r="2.35" fill="url(#bead)"/>
<circle cx="294.3" cy="221.1" r="2.68" fill="url(#bead2)"/>
<circle cx="210.2" cy="220.4" r="2.74" fill="url(#bead)"/>
<circle cx="166.8" cy="219.7" r="2.95" fill="url(#bead)"/>
<circle cx="296.0" cy="220.1" r="2.41" fill="url(#bead2)"/>
<circle cx="244.9" cy="221.9" r="2.80" fill="url(#bead2)"/>
<circle cx="152.4" cy="220.9" r="2.45" fill="url(#bead2)"/>
<circle cx="130.6" cy="220.0" r="2.86" fill="url(#bead)"/>
<circle cx="169.8" cy="221.5" r="2.48" fill="url(#bead2)"/>
<circle cx="319.9" cy="222.5" r="2.62" fill="url(#bead2)"/>
<circle cx="238.6" cy="220.3" r="2.76" fill="url(#bead)"/>
<circle cx="285.5" cy="222.5" r="2.61" fill="url(#bead)"/>
<circle cx="322.6" cy="219.9" r="2.44" fill="url(#bead)"/>
<circle cx="293.4" cy="220.2" r="2.61" fill="url(#bead)"/>
<circle cx="330.7" cy="221.8" r="2.75" fill="url(#bead2)"/>
<circle cx="136.0" cy="219.7" r="2.58" fill="url(#bead2)"/>
<circle cx="323.7" cy="221.1" r="2.94" fill="url(#bead)"/>
<circle cx="190.6" cy="220.5" r="2.34" fill="url(#bead)"/>
<circle cx="332.2" cy="222.6" r="2.70" fill="url(#bead)"/>
<circle cx="320.8" cy="221.2" r="2.56" fill="url(#bead)"/>
<circle cx="223.4" cy="220.2" r="2.68" fill="url(#bead)"/>
<circle cx="229.2" cy="221.1" r="2.75" fill="url(#bead)"/>
<circle cx="337.6" cy="223.5" r="2.71" fill="url(#bead)"/>
<circle cx="242.6" cy="222.0" r="2.35" fill="url(#bead)"/>
<circle cx="285.0" cy="222.3" r="2.47" fill="url(#bead)"/>
<circle cx="151.1" cy="220.7" r="2.54" fill="url(#bead2)"/>
<circle cx="342.7" cy="223.2" r="2.75" fill="url(#bead)"/>
<circle cx="189.4" cy="220.6" r="2.59" fill="url(#bead)"/>
<circle cx="326.8" cy="221.6" r="2.56" fill="url(#bead)"/>
<circle cx="270.4" cy="220.4" r="2.99" fill="url(#bead2)"/>
<circle cx="341.4" cy="223.4" r="2.86" fill="url(#bead2)"/>
<circle cx="339.6" cy="221.0" r="2.65" fill="url(#bead)"/>
<circle cx="339.2" cy="221.5" r="2.66" fill="url(#bead)"/>
<circle cx="292.5" cy="220.2" r="2.52" fill="url(#bead)"/>
<circle cx="332.3" cy="223.4" r="2.75" fill="url(#bead)"/>
<circle cx="329.3" cy="222.7" r="2.92" fill="url(#bead)"/>
<circle cx="317.3" cy="222.1" r="2.78" fill="url(#bead)"/>
<circle cx="324.8" cy="221.3" r="2.69" fill="url(#bead)"/>
<circle cx="205.8" cy="220.7" r="2.93" fill="url(#bead)"/>
<circle cx="262.5" cy="222.4" r="2.92" fill="url(#bead)"/>
<circle cx="338.9" cy="223.4" r="2.95" fill="url(#bead)"/>
<circle cx="339.8" cy="221.8" r="2.61" fill="url(#bead)"/>
<circle cx="323.3" cy="221.0" r="2.61" fill="url(#bead2)"/>
<circle cx="276.1" cy="220.6" r="2.45" fill="url(#bead)"/>
<circle cx="168.0" cy="221.6" r="2.46" fill="url(#bead)"/>
<circle cx="324.3" cy="222.9" r="2.36" fill="url(#bead)"/>
<circle cx="198.6" cy="221.3" r="2.36" fill="url(#bead)"/>
<circle cx="333.0" cy="223.4" r="2.43" fill="url(#bead)"/>
<circle cx="245.3" cy="221.0" r="2.57" fill="url(#bead)"/>
<circle cx="230.4" cy="221.2" r="2.94" fill="url(#bead2)"/>
<circle cx="330.9" cy="221.6" r="2.80" fill="url(#bead)"/>
<circle cx="330.2" cy="224.4" r="2.73" fill="url(#bead2)"/>
<circle cx="205.4" cy="221.9" r="2.35" fill="url(#bead2)"/>
<circle cx="259.0" cy="221.7" r="2.41" fill="url(#bead)"/>
<circle cx="315.4" cy="223.8" r="3.00" fill="url(#bead)"/>
<circle cx="342.2" cy="222.3" r="2.58" fill="url(#bead)"/>
<circle cx="297.5" cy="222.0" r="2.89" fill="url(#bead)"/>
<circle cx="302.0" cy="221.5" r="2.84" fill="url(#bead)"/>
<circle cx="276.4" cy="222.7" r="2.92" fill="url(#bead)"/>
<circle cx="339.3" cy="223.5" r="2.97" fill="url(#bead)"/>
<circle cx="292.3" cy="222.3" r="2.45" fill="url(#bead)"/>
<circle cx="223.0" cy="222.3" r="2.33" fill="url(#bead)"/>
<circle cx="297.6" cy="223.5" r="2.63" fill="url(#bead)"/>
<circle cx="319.6" cy="222.7" r="2.95" fill="url(#bead)"/>
<circle cx="254.9" cy="222.9" r="2.48" fill="url(#bead)"/>
<circle cx="339.3" cy="223.7" r="2.87" fill="url(#bead)"/>
<circle cx="262.1" cy="222.5" r="2.70" fill="url(#bead)"/>
<circle cx="337.4" cy="223.6" r="2.73" fill="url(#bead)"/>
<circle cx="327.0" cy="223.6" r="2.43" fill="url(#bead2)"/>
<circle cx="318.2" cy="223.7" r="2.69" fill="url(#bead2)"/>
<circle cx="299.8" cy="223.5" r="2.46" fill="url(#bead2)"/>
<circle cx="315.3" cy="223.8" r="2.49" fill="url(#bead)"/>
<circle cx="211" cy="178" r="1.9" fill="url(#bead)"/>
<circle cx="214" cy="180" r="1.9" fill="url(#bead)"/>
<circle cx="238" cy="174" r="1.9" fill="url(#bead)"/>
<circle cx="250" cy="172" r="1.9" fill="url(#bead)"/>
<circle cx="252" cy="176" r="1.9" fill="url(#bead)"/>
<circle cx="255" cy="183" r="1.9" fill="url(#bead)"/>
<circle cx="253" cy="186" r="1.9" fill="url(#bead)"/>
</g>
<circle cx="219.4" cy="199.7" r="5.3" fill="url(#redb)"/>
<circle cx="225.1" cy="190.3" r="5.6" fill="url(#whtb)"/>
<line x1="175" y1="186" x2="221" y2="190" stroke="#000" stroke-width="1.1"/>
<line x1="174" y1="205" x2="216" y2="198" stroke="#000" stroke-width="1.1"/>
<text x="153.8" y="190.5" text-anchor="start" style="font-size:10.8px;fill:#000;" >F73</text>
<text x="148.9" y="204.4" text-anchor="start" style="font-size:10.8px;fill:#e8161e;" >E71</text>
<rect x="168" y="197.7" width="3.6" height="1.2" fill="#e8161e"/>
<text x="181.7" y="150.5" text-anchor="start" style="font-size:11.7px;fill:#000;" >VDAC1</text>
<text x="222.0" y="146.2" text-anchor="start" style="font-size:8.5px;fill:#000;" >E73F/F71E</text>
<text x="300.3" y="155.7" text-anchor="start" style="font-size:10.3px;fill:#000;font-style:italic" >cytosol</text>
<text x="247.0" y="238.6" text-anchor="start" style="font-size:8.9px;fill:#000;" >COOH</text>
<text x="477.4" y="13.1" text-anchor="middle" style="font-size:11.2px;fill:#000;" >VDAC1 C-terminus</text>
<text x="477.4" y="24.6" text-anchor="middle" style="font-size:11.2px;fill:#000;" >facing IMS</text>
<text x="624.9" y="13.1" text-anchor="middle" style="font-size:11.2px;fill:#000;" >VDAC1 C-terminus</text>
<text x="624.9" y="24.6" text-anchor="middle" style="font-size:11.2px;fill:#000;" >facing cytosol</text>
<text transform="translate(372.6,131.7) rotate(-90)" text-anchor="middle" style="font-size:12px">Time spent in contact with</text>
<text transform="translate(385.6,131.7) rotate(-90)" text-anchor="middle" style="font-size:12px">HKI-M1</text>
<text x="477.4" y="257" text-anchor="middle" style="font-size:11.3px;fill:#000;" >VDAC residue</text>
<text x="624.9" y="257" text-anchor="middle" style="font-size:11.3px;fill:#000;" >VDAC residue</text>
<line x1="448.6" y1="33.3" x2="448.6" y2="121" stroke="#ee2222" stroke-width="0.9" stroke-dasharray="1 1"/>
<path d="M419.00,119.94 L419.20,119.92 L419.41,119.85 L419.62,119.75 L419.82,119.65 L420.02,119.59 L420.23,119.58 L420.44,119.64 L420.64,119.77 L420.85,119.95 L421.05,120.15 L421.25,120.35 L421.46,120.51 L421.67,120.59 L421.87,120.59 L422.07,120.50 L422.28,120.34 L422.49,120.14 L422.69,119.93 L422.89,119.75 L423.10,119.62 L423.31,119.56 L423.51,119.57 L423.71,119.63 L423.92,119.73 L424.12,119.83 L424.33,119.91 L424.54,119.94 L424.74,119.92 L424.94,119.86 L425.15,119.77 L425.36,119.67 L425.56,119.61 L425.76,119.60 L425.97,119.66 L426.18,119.78 L426.38,119.96 L426.58,120.16 L426.79,120.36 L427.00,120.51 L427.20,120.59 L427.40,120.59 L427.61,120.49 L427.81,120.33 L428.02,120.13 L428.23,119.92 L428.43,119.73 L428.63,119.60 L428.84,119.54 L429.05,119.55 L429.25,119.62 L429.45,119.72 L429.66,119.82 L429.87,119.91 L430.07,119.94 L430.27,119.93 L430.48,119.87 L430.69,119.78 L430.89,119.70 L431.10,119.63 L431.30,119.62 L431.50,119.68 L431.71,119.80 L431.92,119.97 L432.12,120.17 L432.32,120.36 L432.53,120.51 L432.74,120.59 L432.94,120.58 L433.14,120.49 L433.35,120.32 L433.56,120.11 L433.76,119.89 L433.96,119.68 L434.17,119.46 L434.38,119.22 L434.58,118.87 L434.79,118.39 L434.99,117.84 L435.19,117.40 L435.40,117.27 L435.61,117.54 L435.81,118.08 L436.01,118.68 L436.22,119.15 L436.43,119.42 L436.63,119.54 L436.83,119.61 L437.04,119.69 L437.25,119.81 L437.45,119.95 L437.65,120.03 L437.86,119.89 L438.06,119.37 L438.27,118.46 L438.48,117.48 L438.68,116.97 L438.88,117.22 L439.09,117.98 L439.30,118.75 L439.50,119.22 L439.70,119.41 L439.91,119.46 L440.12,119.50 L440.32,119.58 L440.52,119.69 L440.73,119.80 L440.94,119.89 L441.14,119.88 L441.35,119.66 L441.55,119.01 L441.75,117.68 L441.96,115.69 L442.17,113.58 L442.37,111.97 L442.57,110.43 L442.78,107.03 L442.99,99.69 L443.19,88.82 L443.39,78.39 L443.60,73.43 L443.81,75.26 L444.01,80.07 L444.21,84.26 L444.42,89.56 L444.62,98.57 L444.83,108.71 L445.04,115.60 L445.24,118.51 L445.44,119.23 L445.65,119.13 L445.86,118.21 L446.06,115.52 L446.26,109.83 L446.47,101.28 L446.68,92.87 L446.88,89.25 L447.08,92.68 L447.29,100.36 L447.50,106.39 L447.70,106.51 L447.90,101.98 L448.11,98.37 L448.31,95.82 L448.52,83.28 L448.73,57.13 L448.93,41.61 L449.13,56.36 L449.34,80.85 L449.55,91.19 L449.75,92.85 L449.95,98.52 L450.16,108.01 L450.37,115.25 L450.57,118.15 L450.77,117.94 L450.98,115.16 L451.19,109.22 L451.39,100.40 L451.60,91.80 L451.80,88.20 L452.00,91.87 L452.21,99.85 L452.42,105.94 L452.62,105.63 L452.82,100.44 L453.03,97.51 L453.24,101.62 L453.44,109.66 L453.64,115.97 L453.85,118.90 L454.06,119.85 L454.26,120.18 L454.46,120.37 L454.67,120.51 L454.88,120.57 L455.08,120.55 L455.28,120.45 L455.49,120.28 L455.69,120.06 L455.90,119.84 L456.11,119.64 L456.31,119.50 L456.51,119.44 L456.72,119.46 L456.93,119.54 L457.13,119.66 L457.33,119.79 L457.54,119.90 L457.75,119.97 L457.95,119.98 L458.15,119.92 L458.36,119.69 L458.56,119.04 L458.77,117.38 L458.98,114.04 L459.18,109.13 L459.38,104.33 L459.59,102.10 L459.80,103.21 L460.00,105.72 L460.20,107.59 L460.41,109.42 L460.62,112.56 L460.82,116.23 L461.02,118.71 L461.23,119.65 L461.44,119.75 L461.64,119.62 L461.85,119.48 L462.05,119.42 L462.25,119.39 L462.46,119.25 L462.67,118.57 L462.87,116.46 L463.07,111.93 L463.28,105.08 L463.49,98.27 L463.69,95.03 L463.89,96.73 L464.10,100.92 L464.31,104.59 L464.51,107.66 L464.71,111.50 L464.92,115.60 L465.12,118.47 L465.33,119.81 L465.53,120.30 L465.74,120.49 L465.94,120.55 L466.15,120.53 L466.36,120.42 L466.56,120.25 L466.76,120.03 L466.97,119.80 L467.18,119.61 L467.38,119.47 L467.58,119.41 L467.79,119.43 L468.00,119.51 L468.20,119.64 L468.40,119.78 L468.61,119.91 L468.81,119.99 L469.02,120.02 L469.23,119.99 L469.43,119.93 L469.63,119.86 L469.84,119.80 L470.05,119.77 L470.25,119.81 L470.45,119.90 L470.66,120.04 L470.87,120.21 L471.07,120.36 L471.27,120.45 L471.48,120.41 L471.69,120.17 L471.89,119.64 L472.10,118.83 L472.30,117.84 L472.50,116.97 L472.71,116.52 L472.92,116.64 L473.12,117.22 L473.32,118.01 L473.53,118.74 L473.74,119.28 L473.94,119.65 L474.14,119.87 L474.35,119.99 L474.56,120.03 L474.76,120.01 L474.96,119.96 L475.17,119.88 L475.38,119.82 L475.58,119.79 L475.78,119.82 L475.99,119.91 L476.19,120.05 L476.40,120.21 L476.61,120.36 L476.81,120.48 L477.01,120.53 L477.22,120.51 L477.43,120.39 L477.63,120.22 L477.83,120.00 L478.04,119.77 L478.25,119.57 L478.45,119.44 L478.65,119.38 L478.86,119.40 L479.06,119.49 L479.27,119.63 L479.48,119.78 L479.68,119.92 L479.88,120.01 L480.09,120.05 L480.30,120.04 L480.50,119.98 L480.70,119.90 L480.91,119.84 L481.12,119.81 L481.32,119.84 L481.52,119.92 L481.73,120.05 L481.94,120.21 L482.14,120.36 L482.35,120.47 L482.55,120.52 L482.75,120.49 L482.96,120.38 L483.16,120.20 L483.37,119.98 L483.57,119.75 L483.78,119.56 L483.99,119.42 L484.19,119.36 L484.39,119.39 L484.60,119.48 L484.81,119.63 L485.01,119.78 L485.21,119.93 L485.42,120.03 L485.62,120.07 L485.83,120.06 L486.03,120.00 L486.24,119.93 L486.44,119.86 L486.65,119.83 L486.86,119.85 L487.06,119.93 L487.26,120.06 L487.47,120.21 L487.68,120.35 L487.88,120.46 L488.08,120.51 L488.29,120.48 L488.50,120.36 L488.70,120.18 L488.90,119.96 L489.11,119.73 L489.31,119.54 L489.52,119.40 L489.73,119.33 L489.93,119.34 L490.13,119.41 L490.34,119.51 L490.55,119.60 L490.75,119.65 L490.95,119.64 L491.16,119.56 L491.37,119.42 L491.57,119.25 L491.77,119.10 L491.98,119.01 L492.19,119.00 L492.39,119.09 L492.60,119.28 L492.80,119.53 L493.00,119.80 L493.21,120.06 L493.41,120.26 L493.62,120.38 L493.82,120.39 L494.03,120.31 L494.24,120.15 L494.44,119.94 L494.64,119.72 L494.85,119.52 L495.06,119.39 L495.26,119.34 L495.46,119.37 L495.67,119.47 L495.88,119.62 L496.08,119.79 L496.28,119.94 L496.49,120.05 L496.69,120.11 L496.90,120.10 L497.11,120.05 L497.31,119.98 L497.51,119.91 L497.72,119.87 L497.93,119.88 L498.13,119.95 L498.33,120.06 L498.54,120.20 L498.75,120.33 L498.95,120.44 L499.15,120.48 L499.36,120.44 L499.56,120.33 L499.77,120.15 L499.98,119.93 L500.18,119.70 L500.38,119.51 L500.59,119.38 L500.80,119.33 L501.00,119.36 L501.20,119.47 L501.41,119.62 L501.62,119.80 L501.82,119.95 L502.02,120.07 L502.23,120.13 L502.44,120.12 L502.64,120.07 L502.85,120.00 L503.05,119.93 L503.25,119.89 L503.46,119.89 L503.66,119.95 L503.87,120.06 L504.07,120.19 L504.28,120.32 L504.49,120.42 L504.69,120.46 L504.89,120.43 L505.10,120.31 L505.31,120.13 L505.51,119.91 L505.71,119.69 L505.92,119.50 L506.12,119.37 L506.33,119.32 L506.53,119.35 L506.74,119.46 L506.94,119.62 L507.15,119.80 L507.36,119.96 L507.56,120.08 L507.76,120.15 L507.97,120.15 L508.18,120.10 L508.38,120.02 L508.58,119.95 L508.79,119.90 L509.00,119.90 L509.20,119.96 L509.40,120.06 L509.61,120.19 L509.81,120.31 L510.02,120.41 L510.23,120.45 L510.43,120.41 L510.63,120.29 L510.84,120.11 L511.04,119.90 L511.25,119.67 L511.45,119.48 L511.66,119.36 L511.87,119.31 L512.07,119.35 L512.27,119.46 L512.48,119.63 L512.68,119.81 L512.89,119.98 L513.10,120.10 L513.30,120.17 L513.50,120.17 L513.71,120.12 L513.91,120.04 L514.12,119.97 L514.33,119.92 L514.53,119.91 L514.74,119.96 L514.94,120.05 L515.14,120.18 L515.35,120.30 L515.55,120.39 L515.76,120.43 L515.97,120.39 L516.17,120.28 L516.38,120.10 L516.58,119.88 L516.78,119.66 L516.99,119.47 L517.19,119.35 L517.40,119.30 L517.61,119.34 L517.81,119.46 L518.01,119.63 L518.22,119.82 L518.42,119.99 L518.63,120.12 L518.84,120.19 L519.04,120.19 L519.25,120.14 L519.45,120.07 L519.65,119.99 L519.86,119.93 L520.07,119.92 L520.27,119.96 L520.48,120.05 L520.68,120.17 L520.88,120.29 L521.09,120.38 L521.29,120.41 L521.50,120.37 L521.71,120.26 L521.91,120.08 L522.12,119.87 L522.32,119.65 L522.52,119.46 L522.73,119.34 L522.93,119.30 L523.14,119.34 L523.35,119.46 L523.55,119.64 L523.75,119.83 L523.96,120.00 L524.16,120.14 L524.37,120.21 L524.58,120.22 L524.78,120.17 L524.99,120.09 L525.19,120.00 L525.39,119.94 L525.60,119.93 L525.80,119.96 L526.01,120.04 L526.22,120.16 L526.42,120.27 L526.62,120.36 L526.83,120.39 L527.03,120.35 L527.24,120.24 L527.44,120.06 L527.65,119.85 L527.86,119.64 L528.06,119.45 L528.26,119.33 L528.47,119.29 L528.67,119.34 L528.88,119.47 L529.09,119.64 L529.29,119.84 L529.50,120.02 L529.70,120.15 L529.90,120.23 L530.11,120.24 L530.32,120.19 L530.52,120.11 L530.73,120.02 L530.93,119.96 L531.13,119.93 L531.34,119.96 L531.54,120.04 L531.75,120.15 L531.96,120.26 L532.16,120.34 L532.37,120.37 L532.57,120.33 L532.77,120.22 L532.98,120.05 L533.18,119.84 L533.39,119.62 L533.60,119.44 L533.80,119.32 L534.00,119.29 L534.21,119.34 L534.41,119.47 L534.62,119.65 L534.83,119.85 L535.03,120.03 L535.24,120.17 L535.44,120.25 L535.64,120.26 L535.85,120.21" fill="none" stroke="#3a66dd" stroke-width="0.9" stroke-linejoin="round"/>
<rect x="418.2" y="33.3" width="117.80000000000001" height="87.7" fill="none" stroke="#000" stroke-width="1.2"/>
<line x1="416.2" y1="121.0" x2="418.2" y2="121.0" stroke="#000" stroke-width="1"/>
<text x="415.7" y="124.2" text-anchor="end" style="font-size:9.3px;fill:#000;" >0</text>
<line x1="416.2" y1="99.1" x2="418.2" y2="99.1" stroke="#000" stroke-width="1"/>
<text x="415.7" y="102.275" text-anchor="end" style="font-size:9.3px;fill:#000;" >0.05</text>
<line x1="416.2" y1="77.2" x2="418.2" y2="77.2" stroke="#000" stroke-width="1"/>
<text x="415.7" y="80.35000000000001" text-anchor="end" style="font-size:9.3px;fill:#000;" >0.10</text>
<line x1="416.2" y1="55.2" x2="418.2" y2="55.2" stroke="#000" stroke-width="1"/>
<text x="415.7" y="58.425" text-anchor="end" style="font-size:9.3px;fill:#000;" >0.15</text>
<line x1="416.2" y1="33.3" x2="418.2" y2="33.3" stroke="#000" stroke-width="1"/>
<text x="415.7" y="36.5" text-anchor="end" style="font-size:9.3px;fill:#000;" >0.20</text>
<line x1="419.0" y1="121" x2="419.0" y2="123" stroke="#000" stroke-width="1"/>
<text x="419.0" y="132.3" text-anchor="middle" style="font-size:9.3px;fill:#000;" >0</text>
<line x1="439.5" y1="121" x2="439.5" y2="123" stroke="#000" stroke-width="1"/>
<text x="439.5" y="132.3" text-anchor="middle" style="font-size:9.3px;fill:#000;" >50</text>
<line x1="460.0" y1="121" x2="460.0" y2="123" stroke="#000" stroke-width="1"/>
<text x="460.0" y="132.3" text-anchor="middle" style="font-size:9.3px;fill:#000;" >100</text>
<line x1="480.5" y1="121" x2="480.5" y2="123" stroke="#000" stroke-width="1"/>
<text x="480.5" y="132.3" text-anchor="middle" style="font-size:9.3px;fill:#000;" >150</text>
<line x1="501.0" y1="121" x2="501.0" y2="123" stroke="#000" stroke-width="1"/>
<text x="501.0" y="132.3" text-anchor="middle" style="font-size:9.3px;fill:#000;" >200</text>
<line x1="521.5" y1="121" x2="521.5" y2="123" stroke="#000" stroke-width="1"/>
<text x="521.5" y="132.3" text-anchor="middle" style="font-size:9.3px;fill:#000;" >250</text>
<text x="532.5" y="45.9" text-anchor="end" style="font-size:11.7px;fill:#000;" >VDAC1</text>
<text x="452.9" y="62.0" text-anchor="start" style="font-size:11.3px;fill:#ee1c1c;" >E73</text>
<rect x="473.5" y="53.7" width="4.3" height="1.3" fill="#ee1c1c"/>
<line x1="596.5" y1="33.7" x2="596.5" y2="120.9" stroke="#ee2222" stroke-width="0.9" stroke-dasharray="1 1"/>
<path d="M567.20,119.85 L567.40,119.82 L567.60,119.75 L567.80,119.65 L568.00,119.56 L568.20,119.50 L568.40,119.49 L568.60,119.55 L568.80,119.67 L569.00,119.85 L569.20,120.06 L569.40,120.25 L569.60,120.41 L569.80,120.49 L570.00,120.49 L570.20,120.40 L570.40,120.24 L570.60,120.04 L570.80,119.84 L571.00,119.65 L571.20,119.53 L571.40,119.47 L571.60,119.47 L571.80,119.54 L572.00,119.64 L572.20,119.74 L572.40,119.81 L572.60,119.85 L572.80,119.83 L573.00,119.76 L573.20,119.67 L573.40,119.58 L573.60,119.52 L573.80,119.51 L574.00,119.57 L574.20,119.69 L574.40,119.86 L574.60,120.07 L574.80,120.26 L575.00,120.41 L575.20,120.49 L575.40,120.49 L575.60,120.40 L575.80,120.24 L576.00,120.03 L576.20,119.82 L576.40,119.64 L576.60,119.51 L576.80,119.44 L577.00,119.45 L577.20,119.52 L577.40,119.62 L577.60,119.73 L577.80,119.81 L578.00,119.85 L578.20,119.84 L578.40,119.78 L578.60,119.69 L578.80,119.60 L579.00,119.54 L579.20,119.53 L579.40,119.58 L579.60,119.70 L579.80,119.85 L580.00,120.01 L580.20,120.12 L580.40,120.12 L580.60,119.95 L580.80,119.58 L581.00,119.07 L581.20,118.48 L581.40,117.96 L581.60,117.63 L581.80,117.56 L582.00,117.74 L582.20,118.10 L582.40,118.54 L582.60,118.96 L582.80,119.31 L583.00,119.58 L583.20,119.74 L583.40,119.83 L583.60,119.84 L583.80,119.79 L584.00,119.71 L584.20,119.62 L584.40,119.56 L584.60,119.55 L584.80,119.60 L585.00,119.72 L585.20,119.89 L585.40,120.08 L585.60,120.27 L585.80,120.41 L586.00,120.49 L586.20,120.48 L586.40,120.38 L586.60,120.21 L586.80,120.01 L587.00,119.79 L587.20,119.60 L587.40,119.47 L587.60,119.40 L587.80,119.42 L588.00,119.49 L588.20,119.60 L588.40,119.71 L588.60,119.80 L588.80,119.86 L589.00,119.85 L589.20,119.81 L589.40,119.73 L589.60,119.64 L589.80,119.58 L590.00,119.57 L590.20,119.62 L590.40,119.74 L590.60,119.90 L590.80,120.09 L591.00,120.26 L591.20,120.37 L591.40,120.33 L591.60,120.00 L591.80,119.24 L592.00,118.09 L592.20,116.91 L592.40,116.26 L592.60,116.39 L592.80,116.98 L593.00,117.40 L593.20,117.34 L593.40,117.01 L593.60,116.93 L593.80,117.39 L594.00,118.22 L594.20,119.01 L594.40,119.51 L594.60,119.71 L594.80,119.72 L595.00,119.66 L595.20,119.61 L595.40,119.59 L595.60,119.64 L595.80,119.75 L596.00,119.91 L596.20,120.10 L596.40,120.27 L596.60,120.41 L596.80,120.48 L597.00,120.46 L597.20,120.36 L597.40,120.19 L597.60,119.98 L597.80,119.76 L598.00,119.56 L598.20,119.43 L598.40,119.37 L598.60,119.38 L598.80,119.46 L599.00,119.57 L599.20,119.70 L599.40,119.80 L599.60,119.87 L599.80,119.88 L600.00,119.84 L600.20,119.77 L600.40,119.69 L600.60,119.63 L600.80,119.59 L601.00,119.57 L601.20,119.50 L601.40,119.22 L601.60,118.58 L601.80,117.47 L602.00,116.06 L602.20,114.76 L602.40,113.99 L602.60,113.90 L602.80,114.28 L603.00,114.86 L603.20,115.60 L603.40,116.54 L603.60,117.56 L603.80,118.41 L604.00,118.99 L604.20,119.32 L604.40,119.53 L604.60,119.69 L604.80,119.80 L605.00,119.87 L605.20,119.89 L605.40,119.86 L605.60,119.79 L605.80,119.71 L606.00,119.65 L606.20,119.64 L606.40,119.68 L606.60,119.78 L606.80,119.93 L607.00,120.11 L607.20,120.27 L607.40,120.40 L607.60,120.46 L607.80,120.44 L608.00,120.34 L608.20,120.16 L608.40,119.95 L608.60,119.72 L608.80,119.53 L609.00,119.39 L609.20,119.33 L609.40,119.35 L609.60,119.43 L609.80,119.55 L610.00,119.69 L610.20,119.81 L610.40,119.88 L610.60,119.91 L610.80,119.88 L611.00,119.81 L611.20,119.74 L611.40,119.68 L611.60,119.66 L611.80,119.70 L612.00,119.79 L612.20,119.94 L612.40,120.11 L612.60,120.27 L612.80,120.40 L613.00,120.46 L613.20,120.43 L613.40,120.32 L613.60,120.15 L613.80,119.93 L614.00,119.71 L614.20,119.51 L614.40,119.37 L614.60,119.31 L614.80,119.33 L615.00,119.42 L615.20,119.55 L615.40,119.69 L615.60,119.81 L615.80,119.89 L616.00,119.92 L616.20,119.90 L616.40,119.84 L616.60,119.76 L616.80,119.70 L617.00,119.68 L617.20,119.71 L617.40,119.80 L617.60,119.94 L617.80,120.11 L618.00,120.27 L618.20,120.39 L618.40,120.45 L618.60,120.42 L618.80,120.31 L619.00,120.13 L619.20,119.92 L619.40,119.69 L619.60,119.49 L619.80,119.36 L620.00,119.30 L620.20,119.32 L620.40,119.41 L620.60,119.54 L620.80,119.69 L621.00,119.82 L621.20,119.90 L621.40,119.94 L621.60,119.92 L621.80,119.86 L622.00,119.78 L622.20,119.72 L622.40,119.70 L622.60,119.73 L622.80,119.82 L623.00,119.95 L623.20,120.11 L623.40,120.27 L623.60,120.38 L623.80,120.43 L624.00,120.41 L624.20,120.29 L624.40,120.11 L624.60,119.88 L624.80,119.62 L625.00,119.36 L625.20,119.11 L625.40,118.85 L625.60,118.59 L625.80,118.34 L626.00,118.14 L626.20,118.04 L626.40,118.08 L626.60,118.27 L626.80,118.56 L627.00,118.88 L627.20,119.17 L627.40,119.37 L627.60,119.51 L627.80,119.60 L628.00,119.69 L628.20,119.81 L628.40,119.95 L628.60,120.11 L628.80,120.26 L629.00,120.37 L629.20,120.42 L629.40,120.39 L629.60,120.28 L629.80,120.10 L630.00,119.88 L630.20,119.66 L630.40,119.46 L630.60,119.33 L630.80,119.27 L631.00,119.29 L631.20,119.39 L631.40,119.53 L631.60,119.69 L631.80,119.83 L632.00,119.93 L632.20,119.97 L632.40,119.96 L632.60,119.91 L632.80,119.83 L633.00,119.77 L633.20,119.74 L633.40,119.76 L633.60,119.83 L633.80,119.96 L634.00,120.11 L634.20,120.25 L634.40,120.36 L634.60,120.41 L634.80,120.38 L635.00,120.26 L635.20,120.09 L635.40,119.87 L635.60,119.64 L635.80,119.45 L636.00,119.31 L636.20,119.25 L636.40,119.27 L636.60,119.34 L636.80,119.42 L637.00,119.43 L637.20,119.31 L637.40,118.96 L637.60,118.38 L637.80,117.60 L638.00,116.79 L638.20,116.14 L638.40,115.87 L638.60,116.04 L638.80,116.63 L639.00,117.46 L639.20,118.35 L639.40,119.13 L639.60,119.71 L639.80,120.09 L640.00,120.28 L640.20,120.32 L640.40,120.23 L640.60,120.06 L640.80,119.85 L641.00,119.62 L641.20,119.43 L641.40,119.30 L641.60,119.25 L641.80,119.28 L642.00,119.38 L642.20,119.53 L642.40,119.70 L642.60,119.85 L642.80,119.96 L643.00,120.01 L643.20,120.00 L643.40,119.95 L643.60,119.88 L643.80,119.81 L644.00,119.77 L644.20,119.78 L644.40,119.85 L644.60,119.96 L644.80,120.10 L645.00,120.23 L645.20,120.33 L645.40,120.36 L645.60,120.31 L645.80,120.16 L646.00,119.93 L646.20,119.64 L646.40,119.33 L646.60,119.02 L646.80,118.76 L647.00,118.58 L647.20,118.50 L647.40,118.53 L647.60,118.66 L647.80,118.86 L648.00,119.09 L648.20,119.31 L648.40,119.50 L648.60,119.63 L648.80,119.69 L649.00,119.71 L649.20,119.71 L649.40,119.72 L649.60,119.76 L649.80,119.83 L650.00,119.95 L650.20,120.09 L650.40,120.22 L650.60,120.32 L650.80,120.36 L651.00,120.33 L651.20,120.21 L651.40,120.03 L651.60,119.82 L651.80,119.59 L652.00,119.40 L652.20,119.27 L652.40,119.23 L652.60,119.26 L652.80,119.37 L653.00,119.53 L653.20,119.71 L653.40,119.87 L653.60,119.99 L653.80,120.05 L654.00,120.05 L654.20,120.00 L654.40,119.93 L654.60,119.85 L654.80,119.81 L655.00,119.81 L655.20,119.86 L655.40,119.96 L655.60,120.09 L655.80,120.21 L656.00,120.31 L656.20,120.35 L656.40,120.31 L656.60,120.20 L656.80,120.02 L657.00,119.80 L657.20,119.58 L657.40,119.39 L657.60,119.26 L657.80,119.20 L658.00,119.18 L658.20,119.06 L658.40,118.59 L658.60,117.44 L658.80,115.61 L659.00,113.69 L659.20,112.62 L659.40,112.78 L659.60,113.68 L659.80,114.61 L660.00,115.44 L660.20,116.44 L660.40,117.62 L660.60,118.72 L660.80,119.48 L661.00,119.93 L661.20,120.16 L661.40,120.29 L661.60,120.33 L661.80,120.29 L662.00,120.18 L662.20,120.00 L662.40,119.79 L662.60,119.57 L662.80,119.38 L663.00,119.25 L663.20,119.21 L663.40,119.25 L663.60,119.37 L663.80,119.54 L664.00,119.72 L664.20,119.89 L664.40,120.02 L664.60,120.09 L664.80,120.09 L665.00,120.05 L665.20,119.97 L665.40,119.89 L665.60,119.82 L665.80,119.78 L666.00,119.73 L666.20,119.60 L666.40,119.31 L666.60,118.79 L666.80,118.12 L667.00,117.51 L667.20,117.20 L667.40,117.28 L667.60,117.59 L667.80,117.81 L668.00,117.73 L668.20,117.48 L668.40,117.37 L668.60,117.62 L668.80,118.18 L669.00,118.80 L669.20,119.30 L669.40,119.65 L669.60,119.89 L669.80,120.04 L670.00,120.11 L670.20,120.12 L670.40,120.07 L670.60,119.99 L670.80,119.91 L671.00,119.85 L671.20,119.83 L671.40,119.87 L671.60,119.95 L671.80,120.06 L672.00,120.17 L672.20,120.26 L672.40,120.29 L672.60,120.25 L672.80,120.14 L673.00,119.97 L673.20,119.76 L673.40,119.54 L673.60,119.36 L673.80,119.24 L674.00,119.20 L674.20,119.25 L674.40,119.37 L674.60,119.55 L674.80,119.74 L675.00,119.92 L675.20,120.06 L675.40,120.13 L675.60,120.14 L675.80,120.09 L676.00,120.01 L676.20,119.93 L676.40,119.86 L676.60,119.84 L676.80,119.87 L677.00,119.94 L677.20,120.05 L677.40,120.16 L677.60,120.24 L677.80,120.27 L678.00,120.23 L678.20,120.12 L678.40,119.95 L678.60,119.74 L678.80,119.53 L679.00,119.35 L679.20,119.23 L679.40,119.20 L679.60,119.25 L679.80,119.38 L680.00,119.55 L680.20,119.75 L680.40,119.94 L680.60,120.07 L680.80,120.14 L681.00,120.12 L681.20,120.00 L681.40,119.73 L681.60,119.29 L681.80,118.67 L682.00,117.99 L682.20,117.47 L682.40,117.32 L682.60,117.64 L682.80,118.29 L683.00,119.02 L683.20,119.60 L683.40,119.91" fill="none" stroke="#3a66dd" stroke-width="0.9" stroke-linejoin="round"/>
<rect x="566.8" y="33.7" width="116.70000000000005" height="87.2" fill="none" stroke="#000" stroke-width="1.2"/>
<line x1="564.8" y1="120.9" x2="566.8" y2="120.9" stroke="#000" stroke-width="1"/>
<text x="564.3" y="124.10000000000001" text-anchor="end" style="font-size:9.3px;fill:#000;" >0</text>
<line x1="564.8" y1="99.1" x2="566.8" y2="99.1" stroke="#000" stroke-width="1"/>
<text x="564.3" y="102.30000000000001" text-anchor="end" style="font-size:9.3px;fill:#000;" >0.05</text>
<line x1="564.8" y1="77.3" x2="566.8" y2="77.3" stroke="#000" stroke-width="1"/>
<text x="564.3" y="80.50000000000001" text-anchor="end" style="font-size:9.3px;fill:#000;" >0.10</text>
<line x1="564.8" y1="55.5" x2="566.8" y2="55.5" stroke="#000" stroke-width="1"/>
<text x="564.3" y="58.7" text-anchor="end" style="font-size:9.3px;fill:#000;" >0.15</text>
<line x1="564.8" y1="33.7" x2="566.8" y2="33.7" stroke="#000" stroke-width="1"/>
<text x="564.3" y="36.900000000000006" text-anchor="end" style="font-size:9.3px;fill:#000;" >0.20</text>
<line x1="567.2" y1="120.9" x2="567.2" y2="122.9" stroke="#000" stroke-width="1"/>
<text x="567.2" y="132.20000000000002" text-anchor="middle" style="font-size:9.3px;fill:#000;" >0</text>
<line x1="587.2" y1="120.9" x2="587.2" y2="122.9" stroke="#000" stroke-width="1"/>
<text x="587.2" y="132.20000000000002" text-anchor="middle" style="font-size:9.3px;fill:#000;" >50</text>
<line x1="607.2" y1="120.9" x2="607.2" y2="122.9" stroke="#000" stroke-width="1"/>
<text x="607.2" y="132.20000000000002" text-anchor="middle" style="font-size:9.3px;fill:#000;" >100</text>
<line x1="627.2" y1="120.9" x2="627.2" y2="122.9" stroke="#000" stroke-width="1"/>
<text x="627.2" y="132.20000000000002" text-anchor="middle" style="font-size:9.3px;fill:#000;" >150</text>
<line x1="647.2" y1="120.9" x2="647.2" y2="122.9" stroke="#000" stroke-width="1"/>
<text x="647.2" y="132.20000000000002" text-anchor="middle" style="font-size:9.3px;fill:#000;" >200</text>
<line x1="667.2" y1="120.9" x2="667.2" y2="122.9" stroke="#000" stroke-width="1"/>
<text x="667.2" y="132.20000000000002" text-anchor="middle" style="font-size:9.3px;fill:#000;" >250</text>
<text x="680.0" y="46.300000000000004" text-anchor="end" style="font-size:11.7px;fill:#000;" >VDAC1</text>
<text x="601.5" y="62.400000000000006" text-anchor="start" style="font-size:11.3px;fill:#ee1c1c;" >E73</text>
<rect x="622.1" y="54.1" width="4.3" height="1.3" fill="#ee1c1c"/>
<line x1="447.6" y1="142.4" x2="447.6" y2="229.7" stroke="#ee2222" stroke-width="0.9" stroke-dasharray="1 1"/>
<path d="M419.00,228.65 L419.20,228.62 L419.41,228.55 L419.62,228.45 L419.82,228.36 L420.02,228.29 L420.23,228.29 L420.44,228.34 L420.64,228.47 L420.85,228.65 L421.05,228.85 L421.25,229.05 L421.46,229.21 L421.67,229.29 L421.87,229.29 L422.07,229.20 L422.28,229.04 L422.49,228.84 L422.69,228.64 L422.89,228.45 L423.10,228.32 L423.31,228.26 L423.51,228.27 L423.71,228.34 L423.92,228.44 L424.12,228.54 L424.33,228.61 L424.54,228.65 L424.74,228.63 L424.94,228.56 L425.15,228.47 L425.36,228.38 L425.56,228.32 L425.76,228.31 L425.97,228.36 L426.18,228.49 L426.38,228.66 L426.58,228.87 L426.79,229.06 L427.00,229.21 L427.20,229.29 L427.40,229.29 L427.61,229.20 L427.81,229.03 L428.02,228.83 L428.23,228.62 L428.43,228.44 L428.63,228.30 L428.84,228.24 L429.05,228.25 L429.25,228.32 L429.45,228.42 L429.66,228.53 L429.87,228.61 L430.07,228.65 L430.27,228.63 L430.48,228.58 L430.69,228.49 L430.89,228.40 L431.10,228.34 L431.30,228.33 L431.50,228.38 L431.71,228.50 L431.92,228.68 L432.12,228.87 L432.32,229.06 L432.53,229.21 L432.74,229.29 L432.94,229.28 L433.14,229.19 L433.35,229.03 L433.56,228.82 L433.76,228.61 L433.96,228.42 L434.17,228.29 L434.38,228.22 L434.58,228.23 L434.79,228.30 L434.99,228.41 L435.19,228.52 L435.40,228.61 L435.61,228.65 L435.81,228.64 L436.01,228.59 L436.22,228.51 L436.43,228.42 L436.63,228.35 L436.83,228.33 L437.04,228.35 L437.25,228.41 L437.45,228.45 L437.65,228.45 L437.86,228.35 L438.06,228.15 L438.27,227.89 L438.48,227.62 L438.68,227.43 L438.88,227.36 L439.09,227.41 L439.30,227.53 L439.50,227.68 L439.70,227.83 L439.91,227.97 L440.12,228.10 L440.32,228.24 L440.52,228.37 L440.73,228.50 L440.94,228.60 L441.14,228.65 L441.35,228.65 L441.55,228.61 L441.75,228.53 L441.96,228.44 L442.17,228.38 L442.37,228.37 L442.57,228.42 L442.78,228.54 L442.99,228.70 L443.19,228.89 L443.39,229.07 L443.60,229.21 L443.81,229.28 L444.01,229.27 L444.21,229.17 L444.42,229.00 L444.62,228.79 L444.83,228.57 L445.04,228.38 L445.24,228.25 L445.44,228.18 L445.65,228.20 L445.86,228.27 L446.06,228.38 L446.26,228.50 L446.47,228.60 L446.68,228.66 L446.88,228.66 L447.08,228.59 L447.29,228.45 L447.50,228.22 L447.70,227.86 L447.90,227.39 L448.11,226.90 L448.31,226.55 L448.52,226.53 L448.73,226.90 L448.93,227.53 L449.13,228.21 L449.34,228.73 L449.55,229.01 L449.75,229.06 L449.95,228.94 L450.16,228.73 L450.37,228.47 L450.57,228.19 L450.77,227.90 L450.98,227.63 L451.19,227.38 L451.39,227.21 L451.60,227.13 L451.80,227.19 L452.00,227.36 L452.21,227.62 L452.42,227.88 L452.62,228.10 L452.82,228.24 L453.03,228.31 L453.24,228.34 L453.44,228.38 L453.64,228.44 L453.85,228.56 L454.06,228.72 L454.26,228.90 L454.46,229.07 L454.67,229.21 L454.88,229.27 L455.08,229.25 L455.28,229.15 L455.49,228.98 L455.69,228.76 L455.90,228.54 L456.11,228.35 L456.31,228.21 L456.51,228.15 L456.72,228.16 L456.93,228.24 L457.13,228.36 L457.33,228.48 L457.54,228.58 L457.75,228.62 L457.95,228.57 L458.15,228.44 L458.36,228.23 L458.56,227.98 L458.77,227.75 L458.98,227.61 L459.18,227.60 L459.38,227.75 L459.59,228.03 L459.80,228.38 L460.00,228.72 L460.20,228.99 L460.41,229.15 L460.62,229.19 L460.82,229.11 L461.02,228.95 L461.23,228.74 L461.44,228.52 L461.64,228.33 L461.85,228.19 L462.05,228.13 L462.25,228.14 L462.46,228.20 L462.67,228.30 L462.87,228.37 L463.07,228.39 L463.28,228.32 L463.49,228.18 L463.69,227.98 L463.89,227.79 L464.10,227.66 L464.31,227.65 L464.51,227.76 L464.71,227.96 L464.92,228.23 L465.12,228.52 L465.33,228.79 L465.53,229.01 L465.74,229.17 L465.94,229.25 L466.15,229.23 L466.36,229.12 L466.56,228.95 L466.76,228.73 L466.97,228.51 L467.18,228.31 L467.38,228.17 L467.58,228.11 L467.79,228.13 L468.00,228.22 L468.20,228.35 L468.40,228.49 L468.61,228.61 L468.81,228.69 L469.02,228.72 L469.23,228.70 L469.43,228.64 L469.63,228.56 L469.84,228.50 L470.05,228.48 L470.25,228.51 L470.45,228.59 L470.66,228.72 L470.87,228.85 L471.07,228.95 L471.27,228.97 L471.48,228.89 L471.69,228.69 L471.89,228.41 L472.10,228.11 L472.30,227.84 L472.50,227.66 L472.71,227.59 L472.92,227.63 L473.12,227.74 L473.32,227.90 L473.53,228.09 L473.74,228.28 L473.94,228.46 L474.14,228.61 L474.35,228.70 L474.56,228.74 L474.76,228.72 L474.96,228.66 L475.17,228.58 L475.38,228.52 L475.58,228.50 L475.78,228.53 L475.99,228.61 L476.19,228.75 L476.40,228.91 L476.61,229.07 L476.81,229.18 L477.01,229.23 L477.22,229.21 L477.43,229.10 L477.63,228.92 L477.83,228.70 L478.04,228.47 L478.25,228.28 L478.45,228.14 L478.65,228.08 L478.86,228.11 L479.06,228.20 L479.27,228.33 L479.48,228.49 L479.68,228.62 L479.88,228.72 L480.09,228.75 L480.30,228.74 L480.50,228.68 L480.70,228.61 L480.91,228.54 L481.12,228.52 L481.32,228.54 L481.52,228.62 L481.73,228.75 L481.94,228.91 L482.14,229.06 L482.35,229.17 L482.55,229.22 L482.75,229.19 L482.96,229.08 L483.16,228.90 L483.37,228.68 L483.57,228.46 L483.78,228.26 L483.99,228.13 L484.19,228.07 L484.39,228.09 L484.60,228.19 L484.81,228.33 L485.01,228.49 L485.21,228.63 L485.42,228.73 L485.62,228.77 L485.83,228.76 L486.03,228.71 L486.24,228.63 L486.44,228.57 L486.65,228.54 L486.86,228.56 L487.06,228.63 L487.26,228.76 L487.47,228.91 L487.68,229.05 L487.88,229.16 L488.08,229.21 L488.29,229.17 L488.50,229.04 L488.70,228.85 L488.90,228.60 L489.11,228.32 L489.31,228.06 L489.52,227.83 L489.73,227.66 L489.93,227.55 L490.13,227.52 L490.34,227.56 L490.55,227.64 L490.75,227.76 L490.95,227.90 L491.16,228.02 L491.37,228.12 L491.57,228.20 L491.77,228.26 L491.98,228.31 L492.19,228.37 L492.39,228.45 L492.60,228.57 L492.80,228.72 L493.00,228.88 L493.21,229.04 L493.41,229.15 L493.62,229.19 L493.82,229.15 L494.03,229.01 L494.24,228.78 L494.44,228.47 L494.64,228.10 L494.85,227.69 L495.06,227.30 L495.26,227.00 L495.46,226.84 L495.67,226.87 L495.88,227.09 L496.08,227.45 L496.28,227.85 L496.49,228.22 L496.69,228.48 L496.90,228.63 L497.11,228.67 L497.31,228.64 L497.51,228.60 L497.72,228.57 L497.93,228.58 L498.13,228.65 L498.33,228.76 L498.54,228.90 L498.75,229.04 L498.95,229.14 L499.15,229.18 L499.36,229.14 L499.56,229.03 L499.77,228.85 L499.98,228.63 L500.18,228.41 L500.38,228.22 L500.59,228.08 L500.80,228.03 L501.00,228.07 L501.20,228.17 L501.41,228.33 L501.62,228.50 L501.82,228.66 L502.02,228.77 L502.23,228.83 L502.44,228.83 L502.64,228.78 L502.85,228.70 L503.05,228.63 L503.25,228.59 L503.46,228.59 L503.66,228.65 L503.87,228.76 L504.07,228.89 L504.28,229.03 L504.49,229.12 L504.69,229.16 L504.89,229.13 L505.10,229.01 L505.31,228.83 L505.51,228.62 L505.71,228.39 L505.92,228.20 L506.12,228.07 L506.33,228.02 L506.53,228.06 L506.74,228.17 L506.94,228.33 L507.15,228.51 L507.36,228.67 L507.56,228.79 L507.76,228.85 L507.97,228.85 L508.18,228.80 L508.38,228.72 L508.58,228.65 L508.79,228.60 L509.00,228.60 L509.20,228.66 L509.40,228.76 L509.61,228.89 L509.81,229.01 L510.02,229.11 L510.23,229.14 L510.43,229.07 L510.63,228.82 L510.84,228.28 L511.04,227.32 L511.25,225.98 L511.45,224.65 L511.66,223.90 L511.87,223.98 L512.07,224.61 L512.27,225.35 L512.48,226.05 L512.68,226.80 L512.89,227.58 L513.10,228.23 L513.30,228.63 L513.50,228.79 L513.71,228.80 L513.91,228.74 L514.12,228.67 L514.33,228.62 L514.53,228.61 L514.74,228.66 L514.94,228.76 L515.14,228.88 L515.35,229.00 L515.55,229.09 L515.76,229.13 L515.97,229.09 L516.17,228.98 L516.38,228.80 L516.58,228.58 L516.78,228.37 L516.99,228.18 L517.19,228.05 L517.40,228.01 L517.61,228.04 L517.81,228.14 L518.01,228.28 L518.22,228.40 L518.42,228.48 L518.63,228.46 L518.84,228.36 L519.04,228.20 L519.25,228.02 L519.45,227.90 L519.65,227.86 L519.86,227.93 L520.07,228.09 L520.27,228.31 L520.48,228.53 L520.68,228.75 L520.88,228.93 L521.09,229.05 L521.29,229.10 L521.50,229.07 L521.71,228.96 L521.91,228.78 L522.12,228.57 L522.32,228.35 L522.52,228.17 L522.73,228.04 L522.93,228.00 L523.14,228.05 L523.35,228.17 L523.55,228.34 L523.75,228.53 L523.96,228.71 L524.16,228.84 L524.37,228.91 L524.58,228.92 L524.78,228.87 L524.99,228.79 L525.19,228.71 L525.39,228.65 L525.60,228.63 L525.80,228.67 L526.01,228.75 L526.22,228.86 L526.42,228.97 L526.62,229.06 L526.83,229.09 L527.03,229.04 L527.24,228.92 L527.44,228.71 L527.65,228.44 L527.86,228.12 L528.06,227.80 L528.26,227.51 L528.47,227.30 L528.67,227.22 L528.88,227.30 L529.09,227.52 L529.29,227.84 L529.50,228.19 L529.70,228.50 L529.90,228.71 L530.11,228.82 L530.32,228.83 L530.52,228.79 L530.73,228.71 L530.93,228.66 L531.13,228.64 L531.34,228.66 L531.54,228.74 L531.75,228.85 L531.96,228.96 L532.16,229.04 L532.37,229.07 L532.57,229.03 L532.77,228.92 L532.98,228.75 L533.18,228.54 L533.39,228.33 L533.60,228.15 L533.80,228.03 L534.00,227.99 L534.21,228.05 L534.41,228.17 L534.62,228.35 L534.83,228.55 L535.03,228.74 L535.24,228.88 L535.44,228.95 L535.64,228.96 L535.85,228.91" fill="none" stroke="#3a66dd" stroke-width="0.9" stroke-linejoin="round"/>
<rect x="418.2" y="142.4" width="117.80000000000001" height="87.29999999999998" fill="none" stroke="#000" stroke-width="1.2"/>
<line x1="416.2" y1="229.7" x2="418.2" y2="229.7" stroke="#000" stroke-width="1"/>
<text x="415.7" y="232.89999999999998" text-anchor="end" style="font-size:9.3px;fill:#000;" >0</text>
<line x1="416.2" y1="207.9" x2="418.2" y2="207.9" stroke="#000" stroke-width="1"/>
<text x="415.7" y="211.075" text-anchor="end" style="font-size:9.3px;fill:#000;" >0.05</text>
<line x1="416.2" y1="186.1" x2="418.2" y2="186.1" stroke="#000" stroke-width="1"/>
<text x="415.7" y="189.25" text-anchor="end" style="font-size:9.3px;fill:#000;" >0.10</text>
<line x1="416.2" y1="164.2" x2="418.2" y2="164.2" stroke="#000" stroke-width="1"/>
<text x="415.7" y="167.42499999999998" text-anchor="end" style="font-size:9.3px;fill:#000;" >0.15</text>
<line x1="416.2" y1="142.4" x2="418.2" y2="142.4" stroke="#000" stroke-width="1"/>
<text x="415.7" y="145.6" text-anchor="end" style="font-size:9.3px;fill:#000;" >0.20</text>
<line x1="419.0" y1="229.7" x2="419.0" y2="231.7" stroke="#000" stroke-width="1"/>
<text x="419.0" y="241.0" text-anchor="middle" style="font-size:9.3px;fill:#000;" >0</text>
<line x1="439.5" y1="229.7" x2="439.5" y2="231.7" stroke="#000" stroke-width="1"/>
<text x="439.5" y="241.0" text-anchor="middle" style="font-size:9.3px;fill:#000;" >50</text>
<line x1="460.0" y1="229.7" x2="460.0" y2="231.7" stroke="#000" stroke-width="1"/>
<text x="460.0" y="241.0" text-anchor="middle" style="font-size:9.3px;fill:#000;" >100</text>
<line x1="480.5" y1="229.7" x2="480.5" y2="231.7" stroke="#000" stroke-width="1"/>
<text x="480.5" y="241.0" text-anchor="middle" style="font-size:9.3px;fill:#000;" >150</text>
<line x1="501.0" y1="229.7" x2="501.0" y2="231.7" stroke="#000" stroke-width="1"/>
<text x="501.0" y="241.0" text-anchor="middle" style="font-size:9.3px;fill:#000;" >200</text>
<line x1="521.5" y1="229.7" x2="521.5" y2="231.7" stroke="#000" stroke-width="1"/>
<text x="521.5" y="241.0" text-anchor="middle" style="font-size:9.3px;fill:#000;" >250</text>
<text x="452.8" y="154.70000000000002" text-anchor="start" style="font-size:10.9px;fill:#000;" >VDAC1</text>
<text x="489.9" y="152.70000000000002" text-anchor="start" style="font-size:8.0px;fill:#000;" >E73F/F71E</text>
<text x="452.59999999999997" y="174.8" text-anchor="start" style="font-size:11.0px;fill:#ee1c1c;" >E71</text>
<rect x="473.6" y="166.3" width="4.1" height="1.3" fill="#ee1c1c"/>
<line x1="595.6" y1="142.6" x2="595.6" y2="230.1" stroke="#ee2222" stroke-width="0.9" stroke-dasharray="1 1"/>
<path d="M567.20,229.04 L567.40,229.02 L567.60,228.95 L567.80,228.85 L568.00,228.76 L568.20,228.69 L568.40,228.68 L568.60,228.74 L568.80,228.87 L569.00,229.05 L569.20,229.25 L569.40,229.45 L569.60,229.61 L569.80,229.69 L570.00,229.69 L570.20,229.60 L570.40,229.44 L570.60,229.24 L570.80,229.03 L571.00,228.85 L571.20,228.72 L571.40,228.66 L571.60,228.67 L571.80,228.74 L572.00,228.83 L572.20,228.94 L572.40,229.01 L572.60,229.04 L572.80,229.02 L573.00,228.96 L573.20,228.87 L573.40,228.78 L573.60,228.71 L573.80,228.70 L574.00,228.76 L574.20,228.89 L574.40,229.06 L574.60,229.26 L574.80,229.46 L575.00,229.61 L575.20,229.69 L575.40,229.69 L575.60,229.59 L575.80,229.43 L576.00,229.23 L576.20,229.02 L576.40,228.83 L576.60,228.70 L576.80,228.64 L577.00,228.65 L577.20,228.72 L577.40,228.82 L577.60,228.93 L577.80,229.01 L578.00,229.05 L578.20,229.03 L578.40,228.97 L578.60,228.89 L578.80,228.80 L579.00,228.74 L579.20,228.73 L579.40,228.78 L579.60,228.89 L579.80,229.05 L580.00,229.20 L580.20,229.29 L580.40,229.26 L580.60,229.03 L580.80,228.60 L581.00,228.00 L581.20,227.32 L581.40,226.73 L581.60,226.38 L581.80,226.33 L582.00,226.58 L582.20,227.03 L582.40,227.55 L582.60,228.05 L582.80,228.45 L583.00,228.74 L583.20,228.93 L583.40,229.02 L583.60,229.03 L583.80,228.99 L584.00,228.90 L584.20,228.82 L584.40,228.76 L584.60,228.75 L584.80,228.80 L585.00,228.92 L585.20,229.09 L585.40,229.28 L585.60,229.47 L585.80,229.61 L586.00,229.69 L586.20,229.68 L586.40,229.58 L586.60,229.41 L586.80,229.20 L587.00,228.99 L587.20,228.80 L587.40,228.66 L587.60,228.60 L587.80,228.61 L588.00,228.68 L588.20,228.79 L588.40,228.91 L588.60,229.00 L588.80,229.05 L589.00,229.05 L589.20,229.00 L589.40,228.93 L589.60,228.84 L589.80,228.77 L590.00,228.70 L590.20,228.55 L590.40,228.11 L590.60,227.11 L590.80,225.57 L591.00,224.06 L591.20,223.44 L591.40,224.10 L591.60,225.42 L591.80,226.30 L592.00,226.18 L592.20,225.45 L592.40,224.97 L592.60,225.29 L592.80,226.25 L593.00,227.30 L593.20,228.06 L593.40,228.49 L593.60,228.73 L593.80,228.88 L594.00,228.93 L594.20,228.77 L594.40,228.18 L594.60,226.89 L594.80,224.97 L595.00,223.07 L595.20,222.24 L595.40,223.00 L595.60,224.86 L595.80,226.82 L596.00,228.22 L596.20,229.01 L596.40,229.40 L596.60,229.60 L596.80,229.68 L597.00,229.66 L597.20,229.56 L597.40,229.39 L597.60,229.18 L597.80,228.95 L598.00,228.76 L598.20,228.63 L598.40,228.56 L598.60,228.58 L598.80,228.65 L599.00,228.77 L599.20,228.90 L599.40,229.00 L599.60,229.07 L599.80,229.08 L600.00,229.04 L600.20,228.97 L600.40,228.89 L600.60,228.82 L600.80,228.79 L601.00,228.76 L601.20,228.68 L601.40,228.37 L601.60,227.66 L601.80,226.46 L602.00,224.93 L602.20,223.48 L602.40,222.56 L602.60,222.25 L602.80,222.35 L603.00,222.68 L603.20,223.36 L603.40,224.52 L603.60,225.93 L603.80,227.17 L604.00,228.00 L604.20,228.46 L604.40,228.71 L604.60,228.88 L604.80,229.00 L605.00,229.07 L605.20,229.09 L605.40,229.06 L605.60,228.99 L605.80,228.91 L606.00,228.85 L606.20,228.83 L606.40,228.88 L606.60,228.98 L606.80,229.13 L607.00,229.30 L607.20,229.47 L607.40,229.60 L607.60,229.66 L607.80,229.64 L608.00,229.54 L608.20,229.36 L608.40,229.15 L608.60,228.92 L608.80,228.73 L609.00,228.59 L609.20,228.53 L609.40,228.54 L609.60,228.63 L609.80,228.75 L610.00,228.89 L610.20,229.01 L610.40,229.08 L610.60,229.10 L610.80,229.08 L611.00,229.01 L611.20,228.93 L611.40,228.87 L611.60,228.85 L611.80,228.89 L612.00,228.99 L612.20,229.14 L612.40,229.31 L612.60,229.47 L612.80,229.60 L613.00,229.65 L613.20,229.63 L613.40,229.52 L613.60,229.34 L613.80,229.11 L614.00,228.87 L614.20,228.64 L614.40,228.45 L614.60,228.32 L614.80,228.24 L615.00,228.21 L615.20,228.21 L615.40,228.22 L615.60,228.24 L615.80,228.24 L616.00,228.24 L616.20,228.25 L616.40,228.26 L616.60,228.30 L616.80,228.37 L617.00,228.47 L617.20,228.63 L617.40,228.81 L617.60,229.02 L617.80,229.24 L618.00,229.43 L618.20,229.57 L618.40,229.64 L618.60,229.61 L618.80,229.51 L619.00,229.33 L619.20,229.11 L619.40,228.89 L619.60,228.69 L619.80,228.55 L620.00,228.49 L620.20,228.51 L620.40,228.60 L620.60,228.74 L620.80,228.88 L621.00,229.01 L621.20,229.10 L621.40,229.14 L621.60,229.12 L621.80,229.06 L622.00,228.98 L622.20,228.92 L622.40,228.90 L622.60,228.93 L622.80,229.01 L623.00,229.15 L623.20,229.31 L623.40,229.46 L623.60,229.58 L623.80,229.63 L624.00,229.61 L624.20,229.49 L624.40,229.31 L624.60,229.08 L624.80,228.83 L625.00,228.59 L625.20,228.36 L625.40,228.15 L625.60,227.96 L625.80,227.80 L626.00,227.68 L626.20,227.64 L626.40,227.71 L626.60,227.87 L626.80,228.10 L627.00,228.34 L627.20,228.54 L627.40,228.68 L627.60,228.77 L627.80,228.83 L628.00,228.90 L628.20,229.01 L628.40,229.15 L628.60,229.31 L628.80,229.46 L629.00,229.57 L629.20,229.62 L629.40,229.59 L629.60,229.48 L629.80,229.30 L630.00,229.08 L630.20,228.85 L630.40,228.66 L630.60,228.52 L630.80,228.47 L631.00,228.49 L631.20,228.59 L631.40,228.73 L631.60,228.89 L631.80,229.03 L632.00,229.13 L632.20,229.17 L632.40,229.16 L632.60,229.10 L632.80,229.03 L633.00,228.96 L633.20,228.93 L633.40,228.95 L633.60,229.03 L633.80,229.16 L634.00,229.31 L634.20,229.45 L634.40,229.56 L634.60,229.61 L634.80,229.58 L635.00,229.46 L635.20,229.28 L635.40,229.06 L635.60,228.84 L635.80,228.64 L636.00,228.51 L636.20,228.45 L636.40,228.47 L636.60,228.56 L636.80,228.66 L637.00,228.75 L637.20,228.74 L637.40,228.60 L637.60,228.29 L637.80,227.85 L638.00,227.38 L638.20,226.98 L638.40,226.80 L638.60,226.88 L638.80,227.22 L639.00,227.71 L639.20,228.26 L639.40,228.76 L639.60,229.15 L639.80,229.41 L640.00,229.53 L640.20,229.54 L640.40,229.44 L640.60,229.26 L640.80,229.05 L641.00,228.82 L641.20,228.63 L641.40,228.49 L641.60,228.44 L641.80,228.47 L642.00,228.57 L642.20,228.73 L642.40,228.89 L642.60,229.04 L642.80,229.15 L643.00,229.21 L643.20,229.20 L643.40,229.15 L643.60,229.08 L643.80,229.01 L644.00,228.97 L644.20,228.98 L644.40,229.05 L644.60,229.16 L644.80,229.30 L645.00,229.44 L645.20,229.54 L645.40,229.58 L645.60,229.54 L645.80,229.43 L646.00,229.25 L646.20,229.03 L646.40,228.81 L646.60,228.61 L646.80,228.48 L647.00,228.43 L647.20,228.46 L647.40,228.57 L647.60,228.73 L647.80,228.90 L648.00,229.06 L648.20,229.17 L648.40,229.23 L648.60,229.23 L648.80,229.18 L649.00,229.10 L649.20,229.03 L649.40,228.99 L649.60,228.99 L649.80,229.05 L650.00,229.16 L650.20,229.29 L650.40,229.43 L650.60,229.52 L650.80,229.56 L651.00,229.53 L651.20,229.41 L651.40,229.23 L651.60,229.01 L651.80,228.79 L652.00,228.60 L652.20,228.47 L652.40,228.42 L652.60,228.46 L652.80,228.57 L653.00,228.73 L653.20,228.90 L653.40,229.07 L653.60,229.19 L653.80,229.25 L654.00,229.25 L654.20,229.20 L654.40,229.12 L654.60,229.05 L654.80,229.00 L655.00,229.00 L655.20,229.06 L655.40,229.16 L655.60,229.29 L655.80,229.41 L656.00,229.51 L656.20,229.55 L656.40,229.51 L656.60,229.39 L656.80,229.22 L657.00,229.00 L657.20,228.77 L657.40,228.56 L657.60,228.35 L657.80,227.97 L658.00,227.09 L658.20,225.29 L658.40,222.57 L658.60,219.82 L658.80,218.36 L659.00,218.76 L659.20,220.25 L659.40,221.76 L659.60,223.05 L659.80,224.46 L660.00,226.04 L660.20,227.43 L660.40,228.36 L660.60,228.85 L660.80,229.10 L661.00,229.27 L661.20,229.40 L661.40,229.49 L661.60,229.53 L661.80,229.49 L662.00,229.38 L662.20,229.20 L662.40,228.98 L662.60,228.76 L662.80,228.58 L663.00,228.45 L663.20,228.41 L663.40,228.45 L663.60,228.56 L663.80,228.73 L664.00,228.92 L664.20,229.09 L664.40,229.22 L664.60,229.29 L664.80,229.29 L665.00,229.25 L665.20,229.17 L665.40,229.09 L665.60,229.03 L665.80,229.02 L666.00,229.06 L666.20,229.14 L666.40,229.21 L666.60,229.16 L666.80,228.76 L667.00,227.80 L667.20,226.26 L667.40,224.61 L667.60,223.58 L667.80,223.48 L668.00,223.97 L668.20,224.54 L668.40,225.11 L668.60,225.85 L668.80,226.79 L669.00,227.70 L669.20,228.38 L669.40,228.81 L669.60,229.08 L669.80,229.23 L670.00,229.31 L670.20,229.32 L670.40,229.27 L670.60,229.19 L670.80,229.11 L671.00,229.05 L671.20,229.03 L671.40,229.06 L671.60,229.15 L671.80,229.26 L672.00,229.37 L672.20,229.46 L672.40,229.49 L672.60,229.45 L672.80,229.34 L673.00,229.16 L673.20,228.95 L673.40,228.74 L673.60,228.55 L673.80,228.43 L674.00,228.39 L674.20,228.44 L674.40,228.57 L674.60,228.74 L674.80,228.94 L675.00,229.12 L675.20,229.26 L675.40,229.33 L675.60,229.34 L675.80,229.29 L676.00,229.21 L676.20,229.12 L676.40,229.06 L676.60,229.03 L676.80,229.06 L677.00,229.14 L677.20,229.25 L677.40,229.36 L677.60,229.44 L677.80,229.47 L678.00,229.43 L678.20,229.32 L678.40,229.15 L678.60,228.94 L678.80,228.73 L679.00,228.55 L679.20,228.43 L679.40,228.39 L679.60,228.44 L679.80,228.57 L680.00,228.75 L680.20,228.95 L680.40,229.13 L680.60,229.27 L680.80,229.34 L681.00,229.33 L681.20,229.22 L681.40,228.98 L681.60,228.59 L681.80,228.07 L682.00,227.49 L682.20,227.06 L682.40,226.94 L682.60,227.23 L682.80,227.79 L683.00,228.42 L683.20,228.91 L683.40,229.16" fill="none" stroke="#3a66dd" stroke-width="0.9" stroke-linejoin="round"/>
<rect x="566.8" y="142.6" width="116.70000000000005" height="87.5" fill="none" stroke="#000" stroke-width="1.2"/>
<line x1="564.8" y1="230.1" x2="566.8" y2="230.1" stroke="#000" stroke-width="1"/>
<text x="564.3" y="233.29999999999998" text-anchor="end" style="font-size:9.3px;fill:#000;" >0</text>
<line x1="564.8" y1="208.2" x2="566.8" y2="208.2" stroke="#000" stroke-width="1"/>
<text x="564.3" y="211.42499999999998" text-anchor="end" style="font-size:9.3px;fill:#000;" >0.05</text>
<line x1="564.8" y1="186.3" x2="566.8" y2="186.3" stroke="#000" stroke-width="1"/>
<text x="564.3" y="189.54999999999998" text-anchor="end" style="font-size:9.3px;fill:#000;" >0.10</text>
<line x1="564.8" y1="164.5" x2="566.8" y2="164.5" stroke="#000" stroke-width="1"/>
<text x="564.3" y="167.67499999999998" text-anchor="end" style="font-size:9.3px;fill:#000;" >0.15</text>
<line x1="564.8" y1="142.6" x2="566.8" y2="142.6" stroke="#000" stroke-width="1"/>
<text x="564.3" y="145.79999999999998" text-anchor="end" style="font-size:9.3px;fill:#000;" >0.20</text>
<line x1="567.2" y1="230.1" x2="567.2" y2="232.1" stroke="#000" stroke-width="1"/>
<text x="567.2" y="241.4" text-anchor="middle" style="font-size:9.3px;fill:#000;" >0</text>
<line x1="587.2" y1="230.1" x2="587.2" y2="232.1" stroke="#000" stroke-width="1"/>
<text x="587.2" y="241.4" text-anchor="middle" style="font-size:9.3px;fill:#000;" >50</text>
<line x1="607.2" y1="230.1" x2="607.2" y2="232.1" stroke="#000" stroke-width="1"/>
<text x="607.2" y="241.4" text-anchor="middle" style="font-size:9.3px;fill:#000;" >100</text>
<line x1="627.2" y1="230.1" x2="627.2" y2="232.1" stroke="#000" stroke-width="1"/>
<text x="627.2" y="241.4" text-anchor="middle" style="font-size:9.3px;fill:#000;" >150</text>
<line x1="647.2" y1="230.1" x2="647.2" y2="232.1" stroke="#000" stroke-width="1"/>
<text x="647.2" y="241.4" text-anchor="middle" style="font-size:9.3px;fill:#000;" >200</text>
<line x1="667.2" y1="230.1" x2="667.2" y2="232.1" stroke="#000" stroke-width="1"/>
<text x="667.2" y="241.4" text-anchor="middle" style="font-size:9.3px;fill:#000;" >250</text>
<text x="601.4" y="154.9" text-anchor="start" style="font-size:10.9px;fill:#000;" >VDAC1</text>
<text x="638.5" y="152.9" text-anchor="start" style="font-size:8.0px;fill:#000;" >E73F/F71E</text>
<text x="601.1999999999999" y="175.0" text-anchor="start" style="font-size:11.0px;fill:#ee1c1c;" >E71</text>
<rect x="622.2" y="166.5" width="4.1" height="1.3" fill="#ee1c1c"/>
<text x="77.5" y="287.8" text-anchor="middle" style="font-size:12px;fill:#000;" >Tom20</text>
<text x="186.3" y="287.8" text-anchor="middle" style="font-size:12px;fill:#000;" >VDAC1</text>
<text x="292.7" y="287.8" text-anchor="middle" style="font-size:12px;fill:#000;" >HKI</text>
<text x="369.0" y="287.5" style="font-size:12px"><tspan fill="#ff22ff">Tom20</tspan><tspan dx="1.5" fill="#222">/</tspan><tspan dx="1.5" fill="#22cc22">HKI</tspan></text>
<text x="596.2" y="287.5" style="font-size:12px"><tspan fill="#ff22ff">Tom20</tspan><tspan dx="1.5" fill="#222">/</tspan><tspan dx="1.5" fill="#22cc22">HKI</tspan></text>
<text transform="translate(18.4,337) rotate(-90)" text-anchor="middle" style="font-size:11.7px">VDAC1</text>
<text transform="translate(18.9,428.1) rotate(-90)" text-anchor="middle" style="font-size:11.6px">VDAC1<tspan dy="-4.7" style="font-size:8.1px">E73F/F71E</tspan></text>
<rect x="21" y="291" width="107.0" height="89.8" fill="#000"/>
<rect x="130.5" y="291" width="106.5" height="89.8" fill="#000"/>
<rect x="239" y="291" width="107.0" height="89.8" fill="#000"/>
<rect x="348" y="291" width="106.2" height="89.8" fill="#000"/>
<rect x="456.2" y="291" width="91.8" height="89.8" fill="#000"/>
<rect x="21" y="384" width="107.0" height="89.8" fill="#000"/>
<rect x="130.5" y="384" width="106.5" height="89.8" fill="#000"/>
<rect x="239" y="384" width="107.0" height="89.8" fill="#000"/>
<rect x="348" y="384" width="106.2" height="89.8" fill="#000"/>
<rect x="456.2" y="384" width="91.8" height="89.8" fill="#000"/>
<defs><filter id="tx1" filterUnits="userSpaceOnUse" x="21" y="291" width="107" height="89.80000000000001" color-interpolation-filters="sRGB">
<feTurbulence type="turbulence" baseFrequency="0.26" numOctaves="2" seed="3" result="t"/>
<feColorMatrix in="t" type="matrix" values="0 0 0 0 1 0 0 0 0 0.05 0 0 0 0 1 -5.5 0 0 0 1.8" result="c"/>
<feGaussianBlur in="c" stdDeviation="0.5" result="cb"/>
<feGaussianBlur in="SourceGraphic" stdDeviation="1.2" result="m"/>
<feComposite in="cb" in2="m" operator="in"/>
</filter>
<filter id="tx2" filterUnits="userSpaceOnUse" x="130.5" y="291" width="106.5" height="89.80000000000001" color-interpolation-filters="sRGB">
<feTurbulence type="fractalNoise" baseFrequency="0.4" numOctaves="2" seed="5" result="t"/>
<feColorMatrix in="t" type="matrix" values="0 0 0 0 1 0 0 0 0 0.05 0 0 0 0 0.05 7 0 0 0 -3.5" result="c"/>
<feGaussianBlur in="c" stdDeviation="0.5" result="cb"/>
<feGaussianBlur in="SourceGraphic" stdDeviation="1.6" result="m"/>
<feComposite in="cb" in2="m" operator="in"/>
</filter>
<filter id="tx3" filterUnits="userSpaceOnUse" x="239" y="291" width="107" height="89.80000000000001" color-interpolation-filters="sRGB">
<feTurbulence type="turbulence" baseFrequency="0.28" numOctaves="2" seed="8" result="t"/>
<feColorMatrix in="t" type="matrix" values="0 0 0 0 0.1 0 0 0 0 0.95 0 0 0 0 0.1 -5.5 0 0 0 1.8" result="c"/>
<feGaussianBlur in="c" stdDeviation="0.45" result="cb"/>
<feGaussianBlur in="SourceGraphic" stdDeviation="1.2" result="m"/>
<feComposite in="cb" in2="m" operator="in"/>
</filter>
<filter id="tx4" filterUnits="userSpaceOnUse" x="348" y="291" width="106.19999999999999" height="89.80000000000001" color-interpolation-filters="sRGB">
<feTurbulence type="turbulence" baseFrequency="0.26" numOctaves="2" seed="3" result="t"/>
<feColorMatrix in="t" type="matrix" values="0 0 0 0 1 0 0 0 0 0.05 0 0 0 0 1 -5.5 0 0 0 1.8" result="c"/>
<feGaussianBlur in="c" stdDeviation="0.5" result="cb"/>
<feGaussianBlur in="SourceGraphic" stdDeviation="1.2" result="m"/>
<feComposite in="cb" in2="m" operator="in"/>
</filter>
<filter id="tx5" filterUnits="userSpaceOnUse" x="348" y="291" width="106.19999999999999" height="89.80000000000001" color-interpolation-filters="sRGB">
<feTurbulence type="turbulence" baseFrequency="0.3" numOctaves="2" seed="11" result="t"/>
<feColorMatrix in="t" type="matrix" values="0 0 0 0 0.95 0 0 0 0 0.75 0 0 0 0 0.95 -5.5 0 0 0 1.7" result="c"/>
<feGaussianBlur in="c" stdDeviation="0.45" result="cb"/>
<feGaussianBlur in="SourceGraphic" stdDeviation="1.3" result="m"/>
<feComposite in="cb" in2="m" operator="in"/>
</filter>
<filter id="tx6" filterUnits="userSpaceOnUse" x="348" y="291" width="106.19999999999999" height="89.80000000000001" color-interpolation-filters="sRGB">
<feTurbulence type="turbulence" baseFrequency="0.3" numOctaves="2" seed="12" result="t"/>
<feColorMatrix in="t" type="matrix" values="0 0 0 0 0.25 0 0 0 0 0.8 0 0 0 0 0.25 -5 0 0 0 1.6" result="c"/>
<feGaussianBlur in="c" stdDeviation="0.45" result="cb"/>
<feGaussianBlur in="SourceGraphic" stdDeviation="1.3" result="m"/>
<feComposite in="cb" in2="m" operator="in"/>
</filter>
<filter id="tx7" filterUnits="userSpaceOnUse" x="21" y="384" width="107" height="89.80000000000001" color-interpolation-filters="sRGB">
<feTurbulence type="fractalNoise" baseFrequency="0.38" numOctaves="2" seed="21" result="t"/>
<feColorMatrix in="t" type="matrix" values="0 0 0 0 1 0 0 0 0 0.05 0 0 0 0 1 6.5 0 0 0 -2.7" result="c"/>
<feGaussianBlur in="c" stdDeviation="0.4" result="cb"/>
<feGaussianBlur in="SourceGraphic" stdDeviation="0.9" result="m"/>
<feComposite in="cb" in2="m" operator="in"/>
</filter>
<filter id="tx8" filterUnits="userSpaceOnUse" x="130.5" y="384" width="106.5" height="89.80000000000001" color-interpolation-filters="sRGB">
<feTurbulence type="fractalNoise" baseFrequency="0.5" numOctaves="2" seed="22" result="t"/>
<feColorMatrix in="t" type="matrix" values="0 0 0 0 1 0 0 0 0 0.05 0 0 0 0 0.05 7 0 0 0 -3.55" result="c"/>
<feGaussianBlur in="c" stdDeviation="0.4" result="cb"/>
<feGaussianBlur in="SourceGraphic" stdDeviation="2.5" result="m"/>
<feComposite in="cb" in2="m" operator="in"/>
</filter>
<filter id="tx9" filterUnits="userSpaceOnUse" x="239" y="384" width="107" height="89.80000000000001" color-interpolation-filters="sRGB">
<feTurbulence type="fractalNoise" baseFrequency="0.12" numOctaves="3" seed="23" result="t"/>
<feColorMatrix in="t" type="matrix" values="0 0 0 0 0.1 0 0 0 0 0.8 0 0 0 0 0.1 1.1 0 0 0 0.2" result="c"/>
<feGaussianBlur in="c" stdDeviation="0.8" result="cb"/>
<feGaussianBlur in="SourceGraphic" stdDeviation="1.2" result="m"/>
<feComposite in="cb" in2="m" operator="in"/>
</filter>
<filter id="tx10" filterUnits="userSpaceOnUse" x="239" y="384" width="107" height="89.80000000000001" color-interpolation-filters="sRGB">
<feTurbulence type="turbulence" baseFrequency="0.22" numOctaves="2" seed="26" result="t"/>
<feColorMatrix in="t" type="matrix" values="0 0 0 0 0.3 0 0 0 0 1 0 0 0 0 0.3 -3.5 0 0 0 1.6" result="c"/>
<feGaussianBlur in="c" stdDeviation="0.5" result="cb"/>
<feGaussianBlur in="SourceGraphic" stdDeviation="1.5" result="m"/>
<feComposite in="cb" in2="m" operator="in"/>
</filter>
<filter id="tx11" filterUnits="userSpaceOnUse" x="348" y="384" width="106.19999999999999" height="89.80000000000001" color-interpolation-filters="sRGB">
<feTurbulence type="turbulence" baseFrequency="0.22" numOctaves="2" seed="27" result="t"/>
<feColorMatrix in="t" type="matrix" values="0 0 0 0 0.35 0 0 0 0 1 0 0 0 0 0.35 -3.5 0 0 0 1.5" result="c"/>
<feGaussianBlur in="c" stdDeviation="0.5" result="cb"/>
<feGaussianBlur in="SourceGraphic" stdDeviation="1.5" result="m"/>
<feComposite in="cb" in2="m" operator="in"/>
</filter>
<filter id="tx12" filterUnits="userSpaceOnUse" x="348" y="384" width="106.19999999999999" height="89.80000000000001" color-interpolation-filters="sRGB">
<feTurbulence type="fractalNoise" baseFrequency="0.38" numOctaves="2" seed="24" result="t"/>
<feColorMatrix in="t" type="matrix" values="0 0 0 0 0.95 0 0 0 0 0.3 0 0 0 0 0.95 6.5 0 0 0 -2.8" result="c"/>
<feGaussianBlur in="c" stdDeviation="0.4" result="cb"/>
<feGaussianBlur in="SourceGraphic" stdDeviation="0.9" result="m"/>
<feComposite in="cb" in2="m" operator="in"/>
</filter>
<filter id="tx13" filterUnits="userSpaceOnUse" x="348" y="384" width="106.19999999999999" height="89.80000000000001" color-interpolation-filters="sRGB">
<feTurbulence type="fractalNoise" baseFrequency="0.12" numOctaves="3" seed="25" result="t"/>
<feColorMatrix in="t" type="matrix" values="0 0 0 0 0.1 0 0 0 0 0.72 0 0 0 0 0.1 1.1 0 0 0 0.15" result="c"/>
<feGaussianBlur in="c" stdDeviation="0.8" result="cb"/>
<feGaussianBlur in="SourceGraphic" stdDeviation="1.2" result="m"/>
<feComposite in="cb" in2="m" operator="in"/>
</filter>
<filter id="tx14" filterUnits="userSpaceOnUse" x="456.2" y="291" width="91.80000000000001" height="89.80000000000001" color-interpolation-filters="sRGB">
<feTurbulence type="fractalNoise" baseFrequency="0.18" numOctaves="3" seed="31" result="t"/>
<feColorMatrix in="t" type="matrix" values="0 0 0 0 0.08 0 0 0 0 0.5 0 0 0 0 0.08 1.3 0 0 0 -0.3" result="c"/>
<feGaussianBlur in="c" stdDeviation="0.7" result="cb"/>
<feGaussianBlur in="SourceGraphic" stdDeviation="0.1" result="m"/>
<feComposite in="cb" in2="m" operator="in"/>
</filter>
<filter id="tx15" filterUnits="userSpaceOnUse" x="456.2" y="291" width="91.80000000000001" height="89.80000000000001" color-interpolation-filters="sRGB">
<feTurbulence type="fractalNoise" baseFrequency="0.2" numOctaves="2" seed="33" result="t"/>
<feColorMatrix in="t" type="matrix" values="0 0 0 0 0.12 0 0 0 0 0.75 0 0 0 0 0.12 2.0 0 0 0 -0.3" result="c"/>
<feGaussianBlur in="c" stdDeviation="0.6" result="cb"/>
<feGaussianBlur in="SourceGraphic" stdDeviation="1.8" result="m"/>
<feComposite in="cb" in2="m" operator="in"/>
</filter>
<filter id="tx16" filterUnits="userSpaceOnUse" x="456.2" y="384" width="91.80000000000001" height="89.80000000000001" color-interpolation-filters="sRGB">
<feTurbulence type="fractalNoise" baseFrequency="0.1" numOctaves="3" seed="32" result="t"/>
<feColorMatrix in="t" type="matrix" values="0 0 0 0 0.1 0 0 0 0 0.5 0 0 0 0 0.1 1.3 0 0 0 0.05" result="c"/>
<feGaussianBlur in="c" stdDeviation="1.0" result="cb"/>
<feGaussianBlur in="SourceGraphic" stdDeviation="0.1" result="m"/>
<feComposite in="cb" in2="m" operator="in"/>
</filter>
<filter id="bl17" filterUnits="userSpaceOnUse" x="21" y="291" width="107" height="89.80000000000001"><feGaussianBlur stdDeviation="2.0"/></filter>
<filter id="bl18" filterUnits="userSpaceOnUse" x="130.5" y="291" width="106.5" height="89.80000000000001"><feGaussianBlur stdDeviation="2.0"/></filter>
<filter id="bl19" filterUnits="userSpaceOnUse" x="239" y="291" width="107" height="89.80000000000001"><feGaussianBlur stdDeviation="2.0"/></filter>
<filter id="bl20" filterUnits="userSpaceOnUse" x="348" y="291" width="106.19999999999999" height="89.80000000000001"><feGaussianBlur stdDeviation="2.0"/></filter>
<filter id="bl21" filterUnits="userSpaceOnUse" x="456.2" y="291" width="91.80000000000001" height="89.80000000000001"><feGaussianBlur stdDeviation="2.0"/></filter>
<filter id="bl22" filterUnits="userSpaceOnUse" x="21" y="384" width="107" height="89.80000000000001"><feGaussianBlur stdDeviation="2.0"/></filter>
<filter id="bl23" filterUnits="userSpaceOnUse" x="130.5" y="384" width="106.5" height="89.80000000000001"><feGaussianBlur stdDeviation="2.0"/></filter>
<filter id="bl24" filterUnits="userSpaceOnUse" x="239" y="384" width="107" height="89.80000000000001"><feGaussianBlur stdDeviation="2.0"/></filter>
<filter id="bl25" filterUnits="userSpaceOnUse" x="348" y="384" width="106.19999999999999" height="89.80000000000001"><feGaussianBlur stdDeviation="2.0"/></filter>
<filter id="bl26" filterUnits="userSpaceOnUse" x="456.2" y="384" width="91.80000000000001" height="89.80000000000001"><feGaussianBlur stdDeviation="2.0"/></filter>
<filter id="bl27" filterUnits="userSpaceOnUse" x="21" y="291" width="107" height="89.80000000000001"><feGaussianBlur stdDeviation="0.8"/></filter>
<filter id="bl28" filterUnits="userSpaceOnUse" x="130.5" y="291" width="106.5" height="89.80000000000001"><feGaussianBlur stdDeviation="0.8"/></filter>
<filter id="bl29" filterUnits="userSpaceOnUse" x="239" y="291" width="107" height="89.80000000000001"><feGaussianBlur stdDeviation="0.8"/></filter>
<filter id="bl30" filterUnits="userSpaceOnUse" x="348" y="291" width="106.19999999999999" height="89.80000000000001"><feGaussianBlur stdDeviation="0.8"/></filter>
<filter id="bl31" filterUnits="userSpaceOnUse" x="456.2" y="291" width="91.80000000000001" height="89.80000000000001"><feGaussianBlur stdDeviation="0.8"/></filter>
<filter id="bl32" filterUnits="userSpaceOnUse" x="130.5" y="291" width="106.5" height="89.80000000000001"><feGaussianBlur stdDeviation="0.4"/></filter>
<filter id="bl33" filterUnits="userSpaceOnUse" x="21" y="384" width="107" height="89.80000000000001"><feGaussianBlur stdDeviation="0.8"/></filter>
<filter id="bl34" filterUnits="userSpaceOnUse" x="130.5" y="384" width="106.5" height="89.80000000000001"><feGaussianBlur stdDeviation="0.8"/></filter>
<filter id="bl35" filterUnits="userSpaceOnUse" x="239" y="384" width="107" height="89.80000000000001"><feGaussianBlur stdDeviation="0.8"/></filter>
<filter id="bl36" filterUnits="userSpaceOnUse" x="348" y="384" width="106.19999999999999" height="89.80000000000001"><feGaussianBlur stdDeviation="0.8"/></filter>
<filter id="bl37" filterUnits="userSpaceOnUse" x="456.2" y="384" width="91.80000000000001" height="89.80000000000001"><feGaussianBlur stdDeviation="0.8"/></filter>
<filter id="bl38" filterUnits="userSpaceOnUse" x="21" y="384" width="107" height="89.80000000000001"><feGaussianBlur stdDeviation="0.4"/></filter>
<filter id="bl39" filterUnits="userSpaceOnUse" x="130.5" y="384" width="106.5" height="89.80000000000001"><feGaussianBlur stdDeviation="0.4"/></filter>
<filter id="bl40" filterUnits="userSpaceOnUse" x="21" y="291" width="107" height="89.80000000000001"><feGaussianBlur stdDeviation="1.8"/></filter>
<filter id="bl41" filterUnits="userSpaceOnUse" x="130.5" y="291" width="106.5" height="89.80000000000001"><feGaussianBlur stdDeviation="1.8"/></filter>
<filter id="bl42" filterUnits="userSpaceOnUse" x="239" y="291" width="107" height="89.80000000000001"><feGaussianBlur stdDeviation="1.8"/></filter>
<filter id="bl43" filterUnits="userSpaceOnUse" x="348" y="291" width="106.19999999999999" height="89.80000000000001"><feGaussianBlur stdDeviation="1.8"/></filter>
<filter id="bl44" filterUnits="userSpaceOnUse" x="456.2" y="291" width="91.80000000000001" height="89.80000000000001"><feGaussianBlur stdDeviation="1.8"/></filter>
<filter id="bl45" filterUnits="userSpaceOnUse" x="21" y="384" width="107" height="89.80000000000001"><feGaussianBlur stdDeviation="1.8"/></filter>
<filter id="bl46" filterUnits="userSpaceOnUse" x="130.5" y="384" width="106.5" height="89.80000000000001"><feGaussianBlur stdDeviation="1.8"/></filter>
<filter id="bl47" filterUnits="userSpaceOnUse" x="239" y="384" width="107" height="89.80000000000001"><feGaussianBlur stdDeviation="1.8"/></filter>
<filter id="bl48" filterUnits="userSpaceOnUse" x="348" y="384" width="106.19999999999999" height="89.80000000000001"><feGaussianBlur stdDeviation="1.8"/></filter>
<filter id="bl49" filterUnits="userSpaceOnUse" x="456.2" y="384" width="91.80000000000001" height="89.80000000000001"><feGaussianBlur stdDeviation="1.8"/></filter>
<radialGradient id="mblob" cx="0.45" cy="0.42" r="0.6"><stop offset="0" stop-color="#ffc8ff"/><stop offset="0.45" stop-color="#ff66ff"/><stop offset="1" stop-color="#e028e0" stop-opacity="0.45"/></radialGradient></defs>
<path d="M20.0,312.0 C19.7,311.1 21.1,310.1 22.9,309.9 C24.7,309.6 28.2,310.2 31.0,310.5 C33.8,310.8 36.9,311.1 39.9,311.8 C42.9,312.5 45.9,313.6 49.0,314.5 C52.1,315.4 55.5,316.6 58.7,317.4 C61.9,318.2 64.8,318.6 68.0,319.2 C71.2,319.8 74.4,320.3 77.6,321.2 C80.8,322.1 83.8,323.2 87.0,324.5 C90.2,325.8 93.3,327.2 96.5,328.7 C99.7,330.2 102.9,331.9 106.0,333.5 C109.1,335.1 112.8,336.9 115.3,338.2 C117.8,339.4 119.3,340.0 121.0,341.0 C122.7,342.0 124.9,343.1 125.5,344.0 C126.1,344.9 125.7,345.8 124.8,346.5 C123.9,347.2 121.6,347.5 120.0,348.0 C118.4,348.5 117.5,349.3 115.3,349.5 C113.1,349.7 109.5,349.3 107.0,349.0 C104.5,348.7 102.5,347.9 100.2,347.6 C97.9,347.3 95.2,347.3 93.0,347.0 C90.8,346.7 89.2,346.4 87.0,345.7 C84.8,345.0 82.2,343.9 80.0,343.0 C77.8,342.1 76.1,341.1 73.8,340.0 C71.5,338.9 68.5,337.8 66.0,336.5 C63.5,335.2 61.5,334.0 58.7,332.5 C55.9,331.0 52.1,329.1 49.0,327.5 C45.9,325.9 42.9,324.4 39.9,323.0 C36.9,321.6 33.5,320.2 31.0,319.0 C28.5,317.8 26.6,316.7 24.8,315.5 C23.0,314.3 20.3,312.9 20.0,312.0Z" fill="#3c003c" filter="url(#bl17)"/>
<path d="M20.0,312.0 C19.7,311.1 21.1,310.1 22.9,309.9 C24.7,309.6 28.2,310.2 31.0,310.5 C33.8,310.8 36.9,311.1 39.9,311.8 C42.9,312.5 45.9,313.6 49.0,314.5 C52.1,315.4 55.5,316.6 58.7,317.4 C61.9,318.2 64.8,318.6 68.0,319.2 C71.2,319.8 74.4,320.3 77.6,321.2 C80.8,322.1 83.8,323.2 87.0,324.5 C90.2,325.8 93.3,327.2 96.5,328.7 C99.7,330.2 102.9,331.9 106.0,333.5 C109.1,335.1 112.8,336.9 115.3,338.2 C117.8,339.4 119.3,340.0 121.0,341.0 C122.7,342.0 124.9,343.1 125.5,344.0 C126.1,344.9 125.7,345.8 124.8,346.5 C123.9,347.2 121.6,347.5 120.0,348.0 C118.4,348.5 117.5,349.3 115.3,349.5 C113.1,349.7 109.5,349.3 107.0,349.0 C104.5,348.7 102.5,347.9 100.2,347.6 C97.9,347.3 95.2,347.3 93.0,347.0 C90.8,346.7 89.2,346.4 87.0,345.7 C84.8,345.0 82.2,343.9 80.0,343.0 C77.8,342.1 76.1,341.1 73.8,340.0 C71.5,338.9 68.5,337.8 66.0,336.5 C63.5,335.2 61.5,334.0 58.7,332.5 C55.9,331.0 52.1,329.1 49.0,327.5 C45.9,325.9 42.9,324.4 39.9,323.0 C36.9,321.6 33.5,320.2 31.0,319.0 C28.5,317.8 26.6,316.7 24.8,315.5 C23.0,314.3 20.3,312.9 20.0,312.0Z" fill="#fff" filter="url(#tx1)"/>
<path d="M27.0,375.0 C28.0,373.0 30.3,370.7 33.0,370.0 C35.7,369.3 40.0,370.2 43.0,371.0 C46.0,371.8 49.7,373.2 51.0,375.0 C52.3,376.8 55.0,380.8 51.0,382.0 C47.0,383.2 31.0,383.2 27.0,382.0 C23.0,380.8 26.0,377.0 27.0,375.0Z" fill="#fff" fill-opacity="0.85" filter="url(#tx1)"/>
<path d="M105.0,382.0 C104.3,380.0 106.0,374.2 107.0,371.0 C108.0,367.8 109.7,364.7 111.0,363.0 C112.3,361.3 114.2,360.3 115.0,361.0 C115.8,361.7 116.2,364.7 116.0,367.0 C115.8,369.3 114.8,372.3 114.0,375.0 C113.2,377.7 112.5,381.8 111.0,383.0 C109.5,384.2 105.7,384.0 105.0,382.0Z" fill="#fff" filter="url(#tx1)"/>
<ellipse cx="71.0" cy="329.5" rx="13" ry="6.5" transform="rotate(24 71.0 329.5)" fill="#000" opacity="0.55" filter="url(#bl17)"/>
<g fill="#ff1c1c" filter="url(#bl32)"><circle cx="195.2" cy="339.3" r="1.0" fill-opacity="1.0"/><circle cx="198.0" cy="345.6" r="0.6" fill-opacity="0.5"/><circle cx="231.5" cy="345.3" r="1.2" fill-opacity="0.7"/><circle cx="144.9" cy="312.5" r="0.9" fill-opacity="0.9"/><circle cx="208.6" cy="343.4" r="0.9" fill-opacity="0.5"/><circle cx="187.0" cy="322.3" r="0.8" fill-opacity="0.9"/><circle cx="148.2" cy="313.0" r="1.0" fill-opacity="0.7"/><circle cx="185.8" cy="326.0" r="0.6" fill-opacity="1.0"/><circle cx="192.2" cy="342.6" r="0.7" fill-opacity="0.6"/><circle cx="219.4" cy="348.5" r="1.1" fill-opacity="1.0"/><circle cx="160.2" cy="325.9" r="1.0" fill-opacity="0.6"/><circle cx="182.2" cy="323.3" r="1.1" fill-opacity="0.8"/><circle cx="199.6" cy="340.0" r="1.0" fill-opacity="0.9"/><circle cx="197.8" cy="341.5" r="1.0" fill-opacity="0.7"/><circle cx="197.4" cy="339.1" r="0.8" fill-opacity="0.9"/><circle cx="217.8" cy="347.0" r="0.7" fill-opacity="0.5"/><circle cx="202.4" cy="338.4" r="1.0" fill-opacity="0.4"/><circle cx="190.8" cy="336.3" r="1.2" fill-opacity="0.5"/><circle cx="195.3" cy="340.6" r="0.9" fill-opacity="0.6"/><circle cx="201.9" cy="334.9" r="0.9" fill-opacity="0.8"/><circle cx="135.2" cy="315.2" r="0.7" fill-opacity="0.7"/><circle cx="148.7" cy="317.6" r="1.2" fill-opacity="0.5"/><circle cx="215.3" cy="335.3" r="0.7" fill-opacity="0.5"/><circle cx="189.2" cy="334.3" r="0.7" fill-opacity="0.4"/><circle cx="195.9" cy="345.2" r="1.2" fill-opacity="1.0"/><circle cx="175.0" cy="318.9" r="0.6" fill-opacity="0.9"/><circle cx="181.9" cy="326.4" r="1.0" fill-opacity="0.5"/><circle cx="228.2" cy="340.9" r="1.2" fill-opacity="0.5"/><circle cx="185.8" cy="323.2" r="1.0" fill-opacity="0.8"/><circle cx="208.1" cy="333.3" r="1.1" fill-opacity="0.5"/><circle cx="191.3" cy="342.0" r="0.7" fill-opacity="0.8"/><circle cx="213.0" cy="336.2" r="0.8" fill-opacity="0.8"/><circle cx="193.9" cy="326.3" r="1.1" fill-opacity="0.4"/><circle cx="207.8" cy="344.7" r="1.1" fill-opacity="1.0"/><circle cx="188.0" cy="334.5" r="0.9" fill-opacity="0.7"/><circle cx="208.7" cy="330.4" r="0.8" fill-opacity="0.9"/><circle cx="199.7" cy="342.4" r="0.7" fill-opacity="0.5"/><circle cx="166.3" cy="325.2" r="0.9" fill-opacity="0.7"/><circle cx="139.7" cy="311.2" r="1.0" fill-opacity="0.5"/><circle cx="174.7" cy="328.3" r="1.2" fill-opacity="0.7"/><circle cx="145.8" cy="316.2" r="0.9" fill-opacity="0.8"/><circle cx="145.5" cy="320.0" r="0.6" fill-opacity="1.0"/><circle cx="146.5" cy="321.3" r="1.1" fill-opacity="0.6"/><circle cx="184.2" cy="323.8" r="0.9" fill-opacity="0.4"/><circle cx="172.5" cy="322.0" r="1.1" fill-opacity="1.0"/><circle cx="171.9" cy="330.9" r="1.0" fill-opacity="1.0"/><circle cx="192.6" cy="343.8" r="0.9" fill-opacity="0.9"/><circle cx="195.4" cy="338.6" r="1.1" fill-opacity="1.0"/><circle cx="153.1" cy="314.5" r="0.9" fill-opacity="0.7"/><circle cx="143.2" cy="313.1" r="0.6" fill-opacity="1.0"/><circle cx="159.7" cy="324.7" r="0.7" fill-opacity="0.7"/><circle cx="198.5" cy="340.0" r="1.0" fill-opacity="0.5"/><circle cx="206.3" cy="337.7" r="0.8" fill-opacity="0.6"/><circle cx="143.2" cy="312.5" r="0.6" fill-opacity="0.6"/><circle cx="210.1" cy="332.0" r="0.8" fill-opacity="0.8"/><circle cx="134.8" cy="315.1" r="1.1" fill-opacity="1.0"/><circle cx="167.7" cy="323.0" r="1.2" fill-opacity="0.6"/><circle cx="210.5" cy="347.0" r="1.0" fill-opacity="0.8"/><circle cx="170.9" cy="318.4" r="1.1" fill-opacity="0.5"/><circle cx="155.0" cy="323.8" r="0.8" fill-opacity="0.8"/><circle cx="194.7" cy="325.8" r="0.8" fill-opacity="0.9"/><circle cx="201.5" cy="344.1" r="0.9" fill-opacity="0.8"/><circle cx="170.5" cy="322.5" r="0.6" fill-opacity="0.9"/><circle cx="201.2" cy="330.6" r="1.2" fill-opacity="1.0"/><circle cx="137.7" cy="313.4" r="0.8" fill-opacity="0.9"/><circle cx="217.9" cy="339.1" r="1.2" fill-opacity="0.5"/><circle cx="194.2" cy="325.2" r="0.6" fill-opacity="0.8"/><circle cx="151.9" cy="322.0" r="1.2" fill-opacity="0.4"/><circle cx="188.9" cy="333.8" r="1.1" fill-opacity="0.8"/><circle cx="197.7" cy="337.2" r="0.9" fill-opacity="0.5"/><circle cx="217.6" cy="347.8" r="0.9" fill-opacity="0.7"/><circle cx="140.1" cy="317.6" r="0.7" fill-opacity="0.9"/><circle cx="139.3" cy="315.9" r="1.1" fill-opacity="0.5"/><circle cx="140.4" cy="314.0" r="1.0" fill-opacity="0.8"/><circle cx="186.8" cy="324.8" r="1.2" fill-opacity="1.0"/><circle cx="209.7" cy="338.5" r="1.2" fill-opacity="0.4"/><circle cx="203.0" cy="341.1" r="0.9" fill-opacity="0.5"/><circle cx="202.0" cy="330.0" r="1.1" fill-opacity="0.4"/><circle cx="197.6" cy="335.1" r="1.1" fill-opacity="0.8"/><circle cx="216.6" cy="346.1" r="1.0" fill-opacity="1.0"/><circle cx="142.5" cy="316.6" r="1.2" fill-opacity="0.8"/><circle cx="224.2" cy="345.0" r="1.0" fill-opacity="0.7"/><circle cx="139.0" cy="314.3" r="0.9" fill-opacity="0.4"/><circle cx="180.3" cy="337.8" r="0.7" fill-opacity="0.8"/><circle cx="207.2" cy="330.8" r="0.9" fill-opacity="0.7"/><circle cx="181.6" cy="332.3" r="1.1" fill-opacity="0.6"/><circle cx="217.0" cy="334.7" r="1.1" fill-opacity="0.9"/><circle cx="148.2" cy="315.3" r="1.1" fill-opacity="0.5"/><circle cx="207.5" cy="332.1" r="1.0" fill-opacity="0.7"/><circle cx="194.0" cy="334.1" r="1.0" fill-opacity="0.5"/><circle cx="139.3" cy="312.5" r="0.7" fill-opacity="0.5"/><circle cx="198.0" cy="345.2" r="1.1" fill-opacity="0.9"/><circle cx="145.9" cy="318.5" r="0.8" fill-opacity="0.8"/><circle cx="195.1" cy="335.7" r="0.9" fill-opacity="0.7"/><circle cx="188.1" cy="336.1" r="0.8" fill-opacity="0.6"/><circle cx="212.2" cy="343.0" r="1.2" fill-opacity="0.9"/><circle cx="196.2" cy="343.3" r="0.7" fill-opacity="0.5"/><circle cx="172.6" cy="322.9" r="1.2" fill-opacity="0.7"/><circle cx="212.9" cy="345.4" r="1.0" fill-opacity="0.8"/><circle cx="186.8" cy="327.2" r="1.0" fill-opacity="0.9"/><circle cx="190.1" cy="329.7" r="0.7" fill-opacity="0.9"/><circle cx="147.2" cy="313.5" r="0.8" fill-opacity="0.4"/><circle cx="194.9" cy="343.8" r="0.8" fill-opacity="0.7"/><circle cx="191.9" cy="335.2" r="1.1" fill-opacity="0.7"/><circle cx="221.7" cy="346.3" r="1.2" fill-opacity="0.5"/><circle cx="209.4" cy="338.7" r="0.8" fill-opacity="0.7"/><circle cx="219.5" cy="336.1" r="1.0" fill-opacity="0.8"/><circle cx="217.9" cy="336.7" r="0.9" fill-opacity="0.5"/><circle cx="194.3" cy="341.4" r="1.1" fill-opacity="0.9"/><circle cx="217.0" cy="335.7" r="0.6" fill-opacity="0.9"/><circle cx="198.8" cy="332.9" r="0.6" fill-opacity="0.8"/><circle cx="182.6" cy="327.1" r="1.0" fill-opacity="0.6"/><circle cx="192.5" cy="339.9" r="0.7" fill-opacity="0.6"/><circle cx="145.1" cy="312.2" r="1.0" fill-opacity="0.7"/><circle cx="179.8" cy="330.6" r="1.1" fill-opacity="0.5"/><circle cx="213.4" cy="340.3" r="1.0" fill-opacity="0.6"/><circle cx="205.0" cy="343.6" r="0.6" fill-opacity="0.5"/><circle cx="177.1" cy="326.1" r="0.7" fill-opacity="0.5"/><circle cx="202.7" cy="344.0" r="0.6" fill-opacity="1.0"/><circle cx="199.1" cy="336.0" r="0.8" fill-opacity="0.9"/><circle cx="149.6" cy="322.9" r="0.9" fill-opacity="0.7"/><circle cx="201.4" cy="340.4" r="0.8" fill-opacity="1.0"/><circle cx="193.4" cy="324.3" r="0.7" fill-opacity="1.0"/><circle cx="145.4" cy="320.9" r="1.1" fill-opacity="0.9"/><circle cx="155.2" cy="321.4" r="0.7" fill-opacity="1.0"/><circle cx="172.3" cy="326.8" r="1.0" fill-opacity="0.7"/><circle cx="158.8" cy="316.8" r="1.0" fill-opacity="0.7"/><circle cx="215.8" cy="336.0" r="1.2" fill-opacity="1.0"/><circle cx="224.5" cy="340.7" r="1.2" fill-opacity="0.5"/><circle cx="162.4" cy="319.7" r="0.9" fill-opacity="0.8"/><circle cx="147.3" cy="320.6" r="0.7" fill-opacity="0.9"/><circle cx="169.9" cy="332.6" r="1.1" fill-opacity="0.5"/><circle cx="208.0" cy="333.4" r="0.8" fill-opacity="0.8"/><circle cx="219.7" cy="341.2" r="1.2" fill-opacity="1.0"/><circle cx="195.9" cy="337.3" r="0.8" fill-opacity="0.9"/><circle cx="193.4" cy="335.9" r="1.0" fill-opacity="0.6"/><circle cx="192.9" cy="335.4" r="0.8" fill-opacity="0.5"/><circle cx="176.6" cy="332.1" r="0.6" fill-opacity="0.7"/><circle cx="158.0" cy="316.3" r="0.7" fill-opacity="0.5"/><circle cx="199.9" cy="338.4" r="0.8" fill-opacity="0.5"/><circle cx="182.8" cy="336.1" r="0.7" fill-opacity="0.6"/><circle cx="194.5" cy="334.2" r="1.2" fill-opacity="0.7"/><circle cx="204.3" cy="337.8" r="1.0" fill-opacity="0.7"/><circle cx="194.3" cy="334.5" r="1.2" fill-opacity="0.9"/><circle cx="212.8" cy="344.0" r="1.2" fill-opacity="0.9"/><circle cx="179.8" cy="322.9" r="1.1" fill-opacity="0.9"/><circle cx="142.1" cy="315.8" r="0.8" fill-opacity="0.8"/><circle cx="210.6" cy="347.2" r="0.8" fill-opacity="1.0"/><circle cx="184.5" cy="324.4" r="0.8" fill-opacity="1.0"/><circle cx="154.1" cy="322.3" r="0.8" fill-opacity="0.6"/><circle cx="151.5" cy="319.2" r="1.1" fill-opacity="0.7"/><circle cx="208.8" cy="346.8" r="0.7" fill-opacity="0.5"/><circle cx="150.0" cy="318.6" r="1.2" fill-opacity="0.5"/><circle cx="222.8" cy="346.7" r="0.9" fill-opacity="0.9"/><circle cx="194.7" cy="339.1" r="0.9" fill-opacity="0.7"/><circle cx="137.5" cy="314.2" r="0.7" fill-opacity="1.0"/><circle cx="200.0" cy="337.5" r="1.0" fill-opacity="0.8"/><circle cx="175.4" cy="332.9" r="0.9" fill-opacity="0.8"/><circle cx="195.7" cy="326.1" r="0.8" fill-opacity="0.5"/><circle cx="220.1" cy="344.7" r="0.8" fill-opacity="0.9"/><circle cx="199.6" cy="335.3" r="1.2" fill-opacity="0.7"/><circle cx="165.3" cy="325.3" r="1.0" fill-opacity="1.0"/><circle cx="145.3" cy="317.9" r="1.0" fill-opacity="1.0"/><circle cx="219.8" cy="337.7" r="0.8" fill-opacity="0.9"/><circle cx="204.4" cy="328.5" r="1.1" fill-opacity="0.7"/><circle cx="148.1" cy="317.7" r="1.0" fill-opacity="0.5"/><circle cx="151.0" cy="318.7" r="0.6" fill-opacity="0.4"/><circle cx="157.1" cy="323.5" r="1.2" fill-opacity="0.6"/><circle cx="147.1" cy="319.8" r="1.0" fill-opacity="0.7"/><circle cx="184.7" cy="321.4" r="1.2" fill-opacity="0.8"/><circle cx="144.5" cy="314.4" r="0.8" fill-opacity="0.8"/><circle cx="229.2" cy="346.7" r="0.7" fill-opacity="1.0"/><circle cx="222.7" cy="337.9" r="0.7" fill-opacity="0.9"/><circle cx="187.7" cy="333.6" r="0.9" fill-opacity="0.5"/><circle cx="155.9" cy="314.9" r="1.2" fill-opacity="0.5"/><circle cx="198.1" cy="344.7" r="1.0" fill-opacity="0.6"/><circle cx="213.8" cy="334.9" r="0.7" fill-opacity="0.9"/><circle cx="165.8" cy="330.0" r="1.2" fill-opacity="0.9"/><circle cx="186.5" cy="329.6" r="1.0" fill-opacity="0.8"/><circle cx="177.1" cy="319.4" r="0.7" fill-opacity="1.0"/><circle cx="204.4" cy="346.9" r="0.8" fill-opacity="0.8"/><circle cx="174.7" cy="328.2" r="0.6" fill-opacity="0.6"/><circle cx="231.0" cy="341.6" r="0.9" fill-opacity="0.7"/><circle cx="200.2" cy="342.4" r="0.9" fill-opacity="0.6"/><circle cx="223.3" cy="347.1" r="0.6" fill-opacity="0.8"/><circle cx="196.0" cy="345.1" r="0.8" fill-opacity="0.5"/><circle cx="201.6" cy="334.3" r="0.8" fill-opacity="0.8"/><circle cx="143.4" cy="318.2" r="1.1" fill-opacity="0.6"/><circle cx="142.1" cy="315.6" r="0.7" fill-opacity="0.8"/><circle cx="147.6" cy="314.0" r="1.0" fill-opacity="0.7"/><circle cx="167.5" cy="326.0" r="1.2" fill-opacity="0.6"/><circle cx="223.1" cy="349.4" r="0.9" fill-opacity="0.4"/><circle cx="195.5" cy="329.4" r="0.7" fill-opacity="0.5"/><circle cx="196.0" cy="334.2" r="0.7" fill-opacity="0.5"/><circle cx="206.0" cy="338.4" r="0.7" fill-opacity="1.0"/><circle cx="181.3" cy="320.5" r="1.0" fill-opacity="0.7"/><circle cx="215.5" cy="342.9" r="1.0" fill-opacity="0.6"/><circle cx="197.6" cy="338.0" r="1.2" fill-opacity="0.8"/><circle cx="198.9" cy="340.9" r="0.9" fill-opacity="0.4"/><circle cx="188.9" cy="332.6" r="0.6" fill-opacity="0.4"/><circle cx="157.6" cy="326.0" r="1.1" fill-opacity="0.4"/><circle cx="215.8" cy="335.4" r="0.9" fill-opacity="0.7"/><circle cx="165.9" cy="328.6" r="0.8" fill-opacity="0.6"/><circle cx="154.6" cy="316.8" r="1.2" fill-opacity="1.0"/><circle cx="203.2" cy="329.8" r="1.1" fill-opacity="0.7"/><circle cx="180.7" cy="329.4" r="1.2" fill-opacity="0.8"/><circle cx="214.5" cy="348.2" r="0.8" fill-opacity="0.5"/><circle cx="145.4" cy="315.4" r="0.7" fill-opacity="0.5"/><circle cx="149.5" cy="322.4" r="0.9" fill-opacity="0.8"/><circle cx="216.3" cy="344.0" r="0.7" fill-opacity="0.4"/><circle cx="207.8" cy="343.2" r="0.8" fill-opacity="0.7"/><circle cx="191.2" cy="328.2" r="1.2" fill-opacity="0.9"/><circle cx="213.8" cy="346.4" r="1.1" fill-opacity="0.6"/><circle cx="194.6" cy="340.5" r="1.1" fill-opacity="0.6"/><circle cx="198.2" cy="343.3" r="1.0" fill-opacity="0.7"/><circle cx="160.4" cy="320.4" r="0.8" fill-opacity="0.7"/><circle cx="145.6" cy="314.4" r="0.8" fill-opacity="0.9"/><circle cx="216.1" cy="343.0" r="0.8" fill-opacity="0.9"/><circle cx="161.8" cy="320.3" r="0.7" fill-opacity="0.4"/><circle cx="203.8" cy="332.3" r="0.9" fill-opacity="0.9"/><circle cx="170.4" cy="328.4" r="1.0" fill-opacity="0.6"/><circle cx="197.2" cy="339.1" r="0.9" fill-opacity="0.6"/><circle cx="183.2" cy="326.0" r="1.0" fill-opacity="0.6"/><circle cx="147.1" cy="321.8" r="0.7" fill-opacity="1.0"/><circle cx="181.3" cy="326.9" r="0.6" fill-opacity="0.5"/><circle cx="149.6" cy="321.4" r="0.8" fill-opacity="0.6"/><circle cx="197.8" cy="341.7" r="1.0" fill-opacity="0.7"/><circle cx="195.2" cy="344.7" r="0.7" fill-opacity="0.9"/><circle cx="142.6" cy="316.3" r="1.1" fill-opacity="0.5"/><circle cx="189.3" cy="341.6" r="0.7" fill-opacity="0.5"/><circle cx="201.3" cy="342.0" r="0.9" fill-opacity="0.8"/><circle cx="191.5" cy="342.6" r="1.1" fill-opacity="0.5"/><circle cx="187.2" cy="330.0" r="1.2" fill-opacity="0.9"/><circle cx="145.1" cy="313.9" r="0.9" fill-opacity="0.5"/><circle cx="190.5" cy="338.0" r="0.7" fill-opacity="0.8"/><circle cx="210.7" cy="340.1" r="0.6" fill-opacity="0.8"/><circle cx="221.1" cy="342.4" r="1.1" fill-opacity="0.4"/><circle cx="203.0" cy="339.6" r="0.7" fill-opacity="0.5"/><circle cx="216.1" cy="347.5" r="0.9" fill-opacity="0.9"/><circle cx="213.5" cy="342.6" r="1.1" fill-opacity="0.6"/></g>
<ellipse cx="198.5" cy="339.0" rx="7" ry="5" transform="rotate(20 198.5 339.0)" fill="#ff2020" opacity="0.55" filter="url(#bl18)"/>
<ellipse cx="180.5" cy="329.5" rx="13" ry="6.5" transform="rotate(24 180.5 329.5)" fill="#000" opacity="0.4" filter="url(#bl18)"/>
<path d="M239.0,312.0 C239.0,310.6 240.5,308.5 242.1,308.0 C243.7,307.5 245.8,308.2 248.4,308.8 C251.0,309.4 254.7,311.0 257.8,311.9 C260.9,312.8 264.0,313.6 267.1,314.3 C270.2,315.0 273.4,315.4 276.5,315.8 C279.6,316.2 282.8,315.9 285.9,316.6 C289.0,317.3 292.2,318.2 295.3,319.8 C298.4,321.4 301.5,323.9 304.6,326.0 C307.7,328.1 310.9,330.5 314.0,332.3 C317.1,334.1 320.3,335.6 323.4,336.9 C326.5,338.2 329.9,339.1 332.8,340.0 C335.7,340.9 338.8,341.6 340.6,342.4 C342.4,343.2 344.0,343.9 343.7,344.8 C343.4,345.7 341.9,347.1 339.0,347.9 C336.1,348.7 330.7,349.4 326.5,349.4 C322.3,349.4 317.6,348.4 314.0,347.9 C310.4,347.4 307.7,347.1 304.6,346.3 C301.5,345.5 298.4,344.2 295.3,343.2 C292.2,342.1 289.0,341.3 285.9,340.0 C282.8,338.7 279.6,337.2 276.5,335.4 C273.4,333.6 270.2,330.9 267.1,329.1 C264.0,327.3 260.9,325.9 257.8,324.4 C254.7,322.8 251.0,321.1 248.4,319.8 C245.8,318.5 243.7,317.9 242.1,316.6 C240.5,315.3 239.0,313.4 239.0,312.0Z" fill="#0b520b" filter="url(#bl19)"/>
<path d="M239.0,312.0 C239.0,310.6 240.5,308.5 242.1,308.0 C243.7,307.5 245.8,308.2 248.4,308.8 C251.0,309.4 254.7,311.0 257.8,311.9 C260.9,312.8 264.0,313.6 267.1,314.3 C270.2,315.0 273.4,315.4 276.5,315.8 C279.6,316.2 282.8,315.9 285.9,316.6 C289.0,317.3 292.2,318.2 295.3,319.8 C298.4,321.4 301.5,323.9 304.6,326.0 C307.7,328.1 310.9,330.5 314.0,332.3 C317.1,334.1 320.3,335.6 323.4,336.9 C326.5,338.2 329.9,339.1 332.8,340.0 C335.7,340.9 338.8,341.6 340.6,342.4 C342.4,343.2 344.0,343.9 343.7,344.8 C343.4,345.7 341.9,347.1 339.0,347.9 C336.1,348.7 330.7,349.4 326.5,349.4 C322.3,349.4 317.6,348.4 314.0,347.9 C310.4,347.4 307.7,347.1 304.6,346.3 C301.5,345.5 298.4,344.2 295.3,343.2 C292.2,342.1 289.0,341.3 285.9,340.0 C282.8,338.7 279.6,337.2 276.5,335.4 C273.4,333.6 270.2,330.9 267.1,329.1 C264.0,327.3 260.9,325.9 257.8,324.4 C254.7,322.8 251.0,321.1 248.4,319.8 C245.8,318.5 243.7,317.9 242.1,316.6 C240.5,315.3 239.0,313.4 239.0,312.0Z" fill="#fff" filter="url(#tx3)"/>
<ellipse cx="288.0" cy="329.0" rx="13.5" ry="7.5" transform="rotate(24 288.0 329.0)" fill="#000" opacity="0.55" filter="url(#bl19)"/>
<ellipse cx="288.0" cy="329.0" rx="15" ry="8.5" transform="rotate(24 288.0 329.0)" fill="none" stroke="#30d030" stroke-width="1.6" opacity="0.8" filter="url(#bl29)"/>
<path d="M348.0,312.0 C348.0,310.6 349.5,308.5 351.1,308.0 C352.7,307.5 354.8,308.2 357.4,308.8 C360.0,309.4 363.7,311.0 366.8,311.9 C369.9,312.8 373.0,313.6 376.1,314.3 C379.2,315.0 382.4,315.4 385.5,315.8 C388.6,316.2 391.8,315.9 394.9,316.6 C398.0,317.3 401.2,318.2 404.3,319.8 C407.4,321.4 410.5,323.9 413.6,326.0 C416.7,328.1 419.9,330.5 423.0,332.3 C426.1,334.1 429.3,335.6 432.4,336.9 C435.5,338.2 438.9,339.1 441.8,340.0 C444.7,340.9 447.8,341.6 449.6,342.4 C451.4,343.2 453.0,343.9 452.7,344.8 C452.4,345.7 450.9,347.1 448.0,347.9 C445.1,348.7 439.7,349.4 435.5,349.4 C431.3,349.4 426.6,348.4 423.0,347.9 C419.4,347.4 416.7,347.1 413.6,346.3 C410.5,345.5 407.4,344.2 404.3,343.2 C401.2,342.1 398.0,341.3 394.9,340.0 C391.8,338.7 388.6,337.2 385.5,335.4 C382.4,333.6 379.2,330.9 376.1,329.1 C373.0,327.3 369.9,325.9 366.8,324.4 C363.7,322.8 360.0,321.1 357.4,319.8 C354.8,318.5 352.7,317.9 351.1,316.6 C349.5,315.3 348.0,313.4 348.0,312.0Z" fill="#1c6a1c" filter="url(#bl20)"/>
<ellipse cx="396.4" cy="329.1" rx="17" ry="10" transform="rotate(24 396.4 329.1)" fill="#2a58e6" filter="url(#bl30)"/>
<ellipse cx="398.0" cy="329.5" rx="9" ry="5" transform="rotate(24 398.0 329.5)" fill="#4a7af0" opacity="0.7" filter="url(#bl20)"/>
<g style="mix-blend-mode:screen"><path d="M348.0,312.0 C348.0,310.6 349.5,308.5 351.1,308.0 C352.7,307.5 354.8,308.2 357.4,308.8 C360.0,309.4 363.7,311.0 366.8,311.9 C369.9,312.8 373.0,313.6 376.1,314.3 C379.2,315.0 382.4,315.4 385.5,315.8 C388.6,316.2 391.8,315.9 394.9,316.6 C398.0,317.3 401.2,318.2 404.3,319.8 C407.4,321.4 410.5,323.9 413.6,326.0 C416.7,328.1 419.9,330.5 423.0,332.3 C426.1,334.1 429.3,335.6 432.4,336.9 C435.5,338.2 438.9,339.1 441.8,340.0 C444.7,340.9 447.8,341.6 449.6,342.4 C451.4,343.2 453.0,343.9 452.7,344.8 C452.4,345.7 450.9,347.1 448.0,347.9 C445.1,348.7 439.7,349.4 435.5,349.4 C431.3,349.4 426.6,348.4 423.0,347.9 C419.4,347.4 416.7,347.1 413.6,346.3 C410.5,345.5 407.4,344.2 404.3,343.2 C401.2,342.1 398.0,341.3 394.9,340.0 C391.8,338.7 388.6,337.2 385.5,335.4 C382.4,333.6 379.2,330.9 376.1,329.1 C373.0,327.3 369.9,325.9 366.8,324.4 C363.7,322.8 360.0,321.1 357.4,319.8 C354.8,318.5 352.7,317.9 351.1,316.6 C349.5,315.3 348.0,313.4 348.0,312.0Z" fill="#fff" filter="url(#tx6)"/></g>
<g style="mix-blend-mode:screen"><path d="M348.0,312.0 C348.0,310.6 349.5,308.5 351.1,308.0 C352.7,307.5 354.8,308.2 357.4,308.8 C360.0,309.4 363.7,311.0 366.8,311.9 C369.9,312.8 373.0,313.6 376.1,314.3 C379.2,315.0 382.4,315.4 385.5,315.8 C388.6,316.2 391.8,315.9 394.9,316.6 C398.0,317.3 401.2,318.2 404.3,319.8 C407.4,321.4 410.5,323.9 413.6,326.0 C416.7,328.1 419.9,330.5 423.0,332.3 C426.1,334.1 429.3,335.6 432.4,336.9 C435.5,338.2 438.9,339.1 441.8,340.0 C444.7,340.9 447.8,341.6 449.6,342.4 C451.4,343.2 453.0,343.9 452.7,344.8 C452.4,345.7 450.9,347.1 448.0,347.9 C445.1,348.7 439.7,349.4 435.5,349.4 C431.3,349.4 426.6,348.4 423.0,347.9 C419.4,347.4 416.7,347.1 413.6,346.3 C410.5,345.5 407.4,344.2 404.3,343.2 C401.2,342.1 398.0,341.3 394.9,340.0 C391.8,338.7 388.6,337.2 385.5,335.4 C382.4,333.6 379.2,330.9 376.1,329.1 C373.0,327.3 369.9,325.9 366.8,324.4 C363.7,322.8 360.0,321.1 357.4,319.8 C354.8,318.5 352.7,317.9 351.1,316.6 C349.5,315.3 348.0,313.4 348.0,312.0Z" fill="#fff" filter="url(#tx5)"/></g>
<ellipse cx="396.4" cy="329.3" rx="15.5" ry="8.8" transform="rotate(24 396.4 329.3)" fill="#2a5ae8" opacity="0.72" filter="url(#bl30)"/>
<path d="M354.0,375.0 C355.0,373.0 357.3,370.7 360.0,370.0 C362.7,369.3 367.0,370.2 370.0,371.0 C373.0,371.8 376.7,373.2 378.0,375.0 C379.3,376.8 382.0,380.8 378.0,382.0 C374.0,383.2 358.0,383.2 354.0,382.0 C350.0,380.8 353.0,377.0 354.0,375.0Z" fill="#fff" fill-opacity="0.6" filter="url(#tx4)"/>
<path d="M432.0,382.0 C431.3,380.0 433.0,374.2 434.0,371.0 C435.0,367.8 436.7,364.7 438.0,363.0 C439.3,361.3 441.2,360.3 442.0,361.0 C442.8,361.7 443.2,364.7 443.0,367.0 C442.8,369.3 441.8,372.3 441.0,375.0 C440.2,377.7 439.5,381.8 438.0,383.0 C436.5,384.2 432.7,384.0 432.0,382.0Z" fill="#fff" fill-opacity="0.75" filter="url(#tx4)"/>
<rect x="431.6" y="340.8" width="13.3" height="13.3" fill="none" stroke="#f0e020" stroke-width="1.3"/>
<rect x="433" y="373.3" width="16" height="2.2" fill="#fff"/>
<rect x="456.2" y="291" width="92" height="90" fill="#fff" filter="url(#tx14)"/>
<g filter="url(#tx15)"><path d="M453.2,289.0 L469.2,293.0 L478.2,298.0 L491.2,301.0 L501.2,305.0 L516.2,310.0 L533.2,310.0 L543.2,316.0 L551.2,319.0" fill="none" stroke="#fff" stroke-width="6.5" stroke-linecap="round" stroke-linejoin="round"/><path d="M453.2,311.0 L460.2,313.6 L469.2,317.4 L477.2,323.0 L486.2,321.0 L494.2,323.0 L501.2,327.0 L509.2,331.0 L516.2,334.0 L524.2,336.0 L533.2,341.0 L551.2,349.0" fill="none" stroke="#fff" stroke-width="6.5" stroke-linecap="round" stroke-linejoin="round"/><path d="M453.2,343.0 L469.2,347.0 L480.2,345.7 L488.2,349.5 L494.2,353.0 L501.2,361.0 L507.2,366.5 L513.2,372.0 L518.2,378.0 L521.2,384.0" fill="none" stroke="#fff" stroke-width="6.5" stroke-linecap="round" stroke-linejoin="round"/><path d="M453.2,349.0 L460.2,353.0 L462.2,356.0 L465.2,363.0 L470.2,371.0 L474.2,377.0" fill="none" stroke="#fff" stroke-width="5.5" stroke-linecap="round" stroke-linejoin="round"/><path d="M511.2,293.0 L526.2,299.0 L539.2,303.0 L551.2,307.0" fill="none" stroke="#fff" stroke-width="5.5" stroke-linecap="round" stroke-linejoin="round"/><path d="M524.2,321.0 L528.2,327.0 L531.2,333.0 L536.2,339.0 L544.2,343.0" fill="none" stroke="#fff" stroke-width="5.5" stroke-linecap="round" stroke-linejoin="round"/><path d="M492.2,338.0 L506.2,346.0 L521.2,353.0 L536.2,361.0 L551.2,367.0" fill="none" stroke="#fff" stroke-width="4.5" stroke-linecap="round" stroke-linejoin="round"/><path d="M480.2,306.0 L484.2,313.0 L486.2,319.0" fill="none" stroke="#fff" stroke-width="4.5" stroke-linecap="round" stroke-linejoin="round"/></g>
<g filter="url(#bl31)"><circle cx="470.1" cy="293.7" r="3.0" fill="url(#mblob)"/><circle cx="470.1" cy="294.0" r="3.2" fill="url(#mblob)"/><circle cx="474.1" cy="297.8" r="2.4" fill="url(#mblob)"/><circle cx="475.6" cy="295.8" r="3.0" fill="url(#mblob)"/><circle cx="477.9" cy="298.6" r="2.8" fill="url(#mblob)"/><circle cx="477.0" cy="297.8" r="2.9" fill="url(#mblob)"/><circle cx="495.4" cy="296.3" r="2.7" fill="url(#mblob)"/><circle cx="495.0" cy="294.8" r="2.5" fill="url(#mblob)"/><circle cx="500.2" cy="304.0" r="3.0" fill="url(#mblob)"/><circle cx="500.5" cy="304.5" r="3.2" fill="url(#mblob)"/><circle cx="517.9" cy="309.4" r="3.3" fill="url(#mblob)"/><circle cx="516.7" cy="310.3" r="3.3" fill="url(#mblob)"/><circle cx="526.7" cy="306.6" r="2.6" fill="url(#mblob)"/><circle cx="526.5" cy="305.6" r="3.3" fill="url(#mblob)"/><circle cx="532.4" cy="309.0" r="2.7" fill="url(#mblob)"/><circle cx="532.9" cy="310.1" r="2.5" fill="url(#mblob)"/><circle cx="543.6" cy="316.1" r="2.4" fill="url(#mblob)"/><circle cx="544.1" cy="316.5" r="2.7" fill="url(#mblob)"/><circle cx="515.5" cy="294.9" r="2.7" fill="url(#mblob)"/><circle cx="517.3" cy="293.3" r="2.5" fill="url(#mblob)"/><circle cx="540.4" cy="302.1" r="3.1" fill="url(#mblob)"/><circle cx="538.7" cy="303.5" r="3.1" fill="url(#mblob)"/><circle cx="458.4" cy="312.8" r="2.4" fill="url(#mblob)"/><circle cx="458.9" cy="314.2" r="3.3" fill="url(#mblob)"/><circle cx="465.3" cy="315.1" r="3.2" fill="url(#mblob)"/><circle cx="463.8" cy="316.2" r="2.7" fill="url(#mblob)"/><circle cx="470.3" cy="318.1" r="2.5" fill="url(#mblob)"/><circle cx="467.7" cy="318.5" r="3.2" fill="url(#mblob)"/><circle cx="476.4" cy="323.3" r="2.5" fill="url(#mblob)"/><circle cx="476.4" cy="324.0" r="3.2" fill="url(#mblob)"/><circle cx="480.0" cy="328.3" r="2.9" fill="url(#mblob)"/><circle cx="479.2" cy="327.9" r="2.6" fill="url(#mblob)"/><circle cx="488.2" cy="318.5" r="3.0" fill="url(#mblob)"/><circle cx="488.2" cy="319.4" r="2.4" fill="url(#mblob)"/><circle cx="493.0" cy="323.2" r="2.8" fill="url(#mblob)"/><circle cx="493.7" cy="322.8" r="3.1" fill="url(#mblob)"/><circle cx="503.0" cy="325.7" r="2.5" fill="url(#mblob)"/><circle cx="502.7" cy="325.9" r="2.8" fill="url(#mblob)"/><circle cx="510.6" cy="330.9" r="3.1" fill="url(#mblob)"/><circle cx="507.6" cy="330.4" r="3.1" fill="url(#mblob)"/><circle cx="517.8" cy="333.9" r="2.5" fill="url(#mblob)"/><circle cx="518.4" cy="335.2" r="2.8" fill="url(#mblob)"/><circle cx="523.9" cy="336.3" r="3.3" fill="url(#mblob)"/><circle cx="524.0" cy="335.8" r="3.1" fill="url(#mblob)"/><circle cx="529.4" cy="333.2" r="2.8" fill="url(#mblob)"/><circle cx="532.4" cy="333.8" r="3.3" fill="url(#mblob)"/><circle cx="526.4" cy="323.0" r="2.8" fill="url(#mblob)"/><circle cx="528.0" cy="324.9" r="2.6" fill="url(#mblob)"/><circle cx="534.6" cy="341.7" r="2.7" fill="url(#mblob)"/><circle cx="534.2" cy="341.6" r="3.0" fill="url(#mblob)"/><circle cx="483.3" cy="307.5" r="2.7" fill="url(#mblob)"/><circle cx="483.6" cy="308.5" r="2.8" fill="url(#mblob)"/><circle cx="486.1" cy="312.2" r="2.7" fill="url(#mblob)"/><circle cx="482.7" cy="311.9" r="2.9" fill="url(#mblob)"/><circle cx="470.0" cy="347.5" r="2.6" fill="url(#mblob)"/><circle cx="469.9" cy="348.3" r="3.1" fill="url(#mblob)"/><circle cx="475.6" cy="357.6" r="2.7" fill="url(#mblob)"/><circle cx="474.6" cy="357.8" r="3.1" fill="url(#mblob)"/><circle cx="481.4" cy="346.8" r="3.2" fill="url(#mblob)"/><circle cx="480.8" cy="345.8" r="3.3" fill="url(#mblob)"/><circle cx="489.4" cy="350.5" r="2.5" fill="url(#mblob)"/><circle cx="488.9" cy="350.0" r="2.8" fill="url(#mblob)"/><circle cx="492.7" cy="354.0" r="3.1" fill="url(#mblob)"/><circle cx="494.5" cy="353.1" r="2.9" fill="url(#mblob)"/><circle cx="502.5" cy="361.1" r="3.0" fill="url(#mblob)"/><circle cx="499.8" cy="360.0" r="3.0" fill="url(#mblob)"/><circle cx="507.6" cy="365.8" r="2.8" fill="url(#mblob)"/><circle cx="507.6" cy="365.4" r="3.0" fill="url(#mblob)"/><circle cx="511.8" cy="371.0" r="2.8" fill="url(#mblob)"/><circle cx="512.1" cy="371.3" r="2.5" fill="url(#mblob)"/><circle cx="516.8" cy="377.7" r="2.6" fill="url(#mblob)"/><circle cx="518.9" cy="378.0" r="2.7" fill="url(#mblob)"/><circle cx="461.5" cy="352.1" r="2.6" fill="url(#mblob)"/><circle cx="459.2" cy="353.1" r="2.8" fill="url(#mblob)"/><circle cx="463.1" cy="355.7" r="2.5" fill="url(#mblob)"/><circle cx="462.3" cy="355.0" r="2.4" fill="url(#mblob)"/><circle cx="464.1" cy="363.8" r="2.9" fill="url(#mblob)"/><circle cx="465.8" cy="363.4" r="3.3" fill="url(#mblob)"/><circle cx="493.5" cy="337.9" r="3.1" fill="url(#mblob)"/><circle cx="493.3" cy="338.4" r="2.5" fill="url(#mblob)"/><circle cx="501.3" cy="370.5" r="3.3" fill="url(#mblob)"/><circle cx="501.0" cy="369.0" r="2.7" fill="url(#mblob)"/><circle cx="503.6" cy="374.3" r="2.5" fill="url(#mblob)"/><circle cx="503.9" cy="374.9" r="2.5" fill="url(#mblob)"/><circle cx="458.0" cy="302.3" r="2.7" fill="url(#mblob)"/><circle cx="459.9" cy="302.7" r="2.7" fill="url(#mblob)"/><circle cx="463.7" cy="306.2" r="3.3" fill="url(#mblob)"/><circle cx="463.9" cy="306.0" r="2.6" fill="url(#mblob)"/><circle cx="545.5" cy="322.2" r="2.8" fill="url(#mblob)"/><circle cx="545.4" cy="320.9" r="2.8" fill="url(#mblob)"/><circle cx="544.6" cy="292.9" r="2.5" fill="url(#mblob)"/><circle cx="545.2" cy="293.8" r="2.7" fill="url(#mblob)"/><circle cx="506.3" cy="345.5" r="2.4" fill="url(#mblob)"/><circle cx="507.2" cy="345.4" r="3.2" fill="url(#mblob)"/><circle cx="535.0" cy="352.2" r="2.6" fill="url(#mblob)"/><circle cx="536.6" cy="350.9" r="2.7" fill="url(#mblob)"/><circle cx="470.6" cy="335.6" r="3.0" fill="url(#mblob)"/><circle cx="471.1" cy="334.5" r="2.5" fill="url(#mblob)"/><circle cx="461.8" cy="290.8" r="2.5" fill="url(#mblob)"/><circle cx="473.7" cy="296.1" r="2.4" fill="url(#mblob)"/><circle cx="484.4" cy="298.6" r="2.7" fill="url(#mblob)"/><circle cx="496.7" cy="304.3" r="2.3" fill="url(#mblob)"/><circle cx="501.8" cy="305.2" r="2.3" fill="url(#mblob)"/><circle cx="531.8" cy="310.8" r="2.7" fill="url(#mblob)"/><circle cx="531.3" cy="309.9" r="2.2" fill="url(#mblob)"/><circle cx="541.0" cy="314.6" r="2.2" fill="url(#mblob)"/><circle cx="547.0" cy="316.3" r="2.7" fill="url(#mblob)"/><circle cx="461.0" cy="313.3" r="2.5" fill="url(#mblob)"/><circle cx="476.1" cy="321.9" r="2.6" fill="url(#mblob)"/><circle cx="479.6" cy="321.7" r="2.1" fill="url(#mblob)"/><circle cx="507.3" cy="330.4" r="2.2" fill="url(#mblob)"/><circle cx="528.6" cy="338.2" r="2.7" fill="url(#mblob)"/><circle cx="543.4" cy="344.8" r="2.6" fill="url(#mblob)"/><circle cx="536.0" cy="342.2" r="2.5" fill="url(#mblob)"/><circle cx="453.7" cy="342.7" r="2.5" fill="url(#mblob)"/><circle cx="479.9" cy="343.6" r="2.8" fill="url(#mblob)"/><circle cx="485.2" cy="349.6" r="2.6" fill="url(#mblob)"/><circle cx="495.4" cy="355.0" r="2.1" fill="url(#mblob)"/><circle cx="466.3" cy="365.5" r="2.5" fill="url(#mblob)"/><circle cx="517.5" cy="295.3" r="2.3" fill="url(#mblob)"/><circle cx="528.3" cy="299.5" r="2.1" fill="url(#mblob)"/><circle cx="540.5" cy="303.3" r="2.0" fill="url(#mblob)"/></g>
<line x1="491.7" y1="373" x2="511.7" y2="311" stroke="#f5f020" stroke-width="2.2"/>
<path d="M514.0,303.5 L517.0,314.5 L507.2,311.5Z" fill="#f5f020"/>
<g fill="#f020f0" filter="url(#bl38)"><circle cx="25.1" cy="406.1" r="1.1" fill-opacity="0.9"/><circle cx="27.6" cy="405.4" r="1.2" fill-opacity="0.4"/><circle cx="25.0" cy="407.8" r="0.9" fill-opacity="0.6"/><circle cx="28.0" cy="404.7" r="0.9" fill-opacity="0.5"/><circle cx="27.1" cy="407.6" r="1.0" fill-opacity="0.4"/><circle cx="26.2" cy="407.4" r="0.9" fill-opacity="0.9"/><circle cx="26.9" cy="410.3" r="1.1" fill-opacity="0.7"/><circle cx="25.0" cy="408.3" r="0.8" fill-opacity="0.9"/><circle cx="23.8" cy="412.5" r="1.1" fill-opacity="0.5"/><circle cx="28.2" cy="409.5" r="0.9" fill-opacity="0.8"/><circle cx="29.7" cy="407.9" r="1.0" fill-opacity="0.5"/><circle cx="26.1" cy="406.9" r="1.2" fill-opacity="0.6"/><circle cx="26.2" cy="410.5" r="0.8" fill-opacity="0.9"/><circle cx="25.5" cy="410.0" r="0.8" fill-opacity="0.8"/><circle cx="24.7" cy="407.2" r="0.8" fill-opacity="0.7"/><circle cx="30.1" cy="407.6" r="0.8" fill-opacity="0.6"/><circle cx="27.2" cy="406.0" r="1.2" fill-opacity="0.7"/><circle cx="33.4" cy="409.9" r="0.9" fill-opacity="0.7"/><circle cx="29.6" cy="411.9" r="0.8" fill-opacity="0.5"/><circle cx="31.3" cy="410.0" r="0.9" fill-opacity="0.5"/><circle cx="34.1" cy="412.4" r="0.8" fill-opacity="0.9"/><circle cx="33.0" cy="415.5" r="0.7" fill-opacity="0.8"/><circle cx="34.5" cy="411.5" r="1.2" fill-opacity="0.8"/><circle cx="35.7" cy="409.4" r="0.7" fill-opacity="0.7"/><circle cx="32.8" cy="406.4" r="0.7" fill-opacity="0.7"/><circle cx="31.3" cy="409.7" r="1.1" fill-opacity="0.5"/><circle cx="34.8" cy="413.1" r="0.7" fill-opacity="0.7"/><circle cx="33.1" cy="409.0" r="0.7" fill-opacity="0.6"/><circle cx="35.3" cy="406.8" r="0.9" fill-opacity="0.9"/><circle cx="30.5" cy="413.0" r="0.9" fill-opacity="0.5"/><circle cx="29.3" cy="410.5" r="1.1" fill-opacity="0.9"/><circle cx="35.1" cy="413.5" r="1.0" fill-opacity="0.4"/><circle cx="34.4" cy="408.6" r="0.8" fill-opacity="0.6"/><circle cx="34.5" cy="411.4" r="1.0" fill-opacity="0.5"/><circle cx="38.5" cy="412.4" r="1.1" fill-opacity="0.9"/><circle cx="40.6" cy="414.9" r="1.2" fill-opacity="0.9"/><circle cx="36.5" cy="413.9" r="0.7" fill-opacity="0.7"/><circle cx="40.4" cy="418.6" r="0.7" fill-opacity="0.9"/><circle cx="38.8" cy="413.4" r="1.1" fill-opacity="0.8"/><circle cx="37.2" cy="412.3" r="0.8" fill-opacity="0.4"/><circle cx="35.6" cy="413.5" r="1.1" fill-opacity="0.7"/><circle cx="40.1" cy="412.5" r="1.0" fill-opacity="0.7"/><circle cx="41.1" cy="415.0" r="1.1" fill-opacity="0.6"/><circle cx="43.8" cy="415.5" r="0.8" fill-opacity="0.6"/><circle cx="35.3" cy="417.7" r="0.8" fill-opacity="0.7"/><circle cx="39.6" cy="415.5" r="1.1" fill-opacity="0.4"/><circle cx="42.3" cy="416.2" r="0.7" fill-opacity="0.7"/><circle cx="37.4" cy="413.8" r="1.0" fill-opacity="0.5"/><circle cx="40.8" cy="417.5" r="0.8" fill-opacity="0.4"/><circle cx="40.3" cy="417.3" r="0.7" fill-opacity="0.7"/><circle cx="42.7" cy="414.4" r="1.0" fill-opacity="0.8"/><circle cx="36.1" cy="412.8" r="0.8" fill-opacity="0.5"/><circle cx="37.8" cy="413.5" r="1.2" fill-opacity="0.7"/><circle cx="35.8" cy="414.5" r="0.9" fill-opacity="0.8"/><circle cx="37.7" cy="411.3" r="1.1" fill-opacity="0.7"/><circle cx="43.6" cy="423.2" r="0.7" fill-opacity="0.9"/><circle cx="45.3" cy="419.1" r="0.8" fill-opacity="0.4"/><circle cx="45.2" cy="420.8" r="0.9" fill-opacity="0.7"/><circle cx="43.8" cy="419.4" r="1.0" fill-opacity="0.5"/><circle cx="42.8" cy="418.3" r="1.1" fill-opacity="0.7"/><circle cx="44.3" cy="421.1" r="0.8" fill-opacity="0.9"/><circle cx="46.0" cy="417.0" r="1.1" fill-opacity="0.9"/><circle cx="45.1" cy="416.9" r="1.0" fill-opacity="0.5"/><circle cx="43.9" cy="417.6" r="1.1" fill-opacity="0.9"/><circle cx="44.1" cy="419.1" r="1.0" fill-opacity="0.9"/><circle cx="40.1" cy="420.3" r="1.2" fill-opacity="0.6"/><circle cx="44.1" cy="420.2" r="1.2" fill-opacity="0.9"/><circle cx="48.9" cy="421.8" r="1.1" fill-opacity="0.4"/><circle cx="48.7" cy="423.3" r="0.9" fill-opacity="0.7"/><circle cx="47.5" cy="419.6" r="1.0" fill-opacity="0.8"/><circle cx="46.7" cy="424.9" r="1.0" fill-opacity="0.5"/><circle cx="46.6" cy="420.2" r="1.2" fill-opacity="0.7"/><circle cx="45.9" cy="421.3" r="1.1" fill-opacity="0.5"/><circle cx="48.0" cy="421.9" r="1.2" fill-opacity="0.7"/><circle cx="45.8" cy="422.6" r="1.1" fill-opacity="0.8"/><circle cx="46.8" cy="419.3" r="1.1" fill-opacity="0.6"/><circle cx="48.9" cy="421.0" r="0.7" fill-opacity="0.6"/><circle cx="46.2" cy="422.9" r="0.8" fill-opacity="0.7"/><circle cx="46.2" cy="421.7" r="1.1" fill-opacity="0.6"/><circle cx="49.1" cy="423.6" r="0.8" fill-opacity="0.4"/><circle cx="47.8" cy="424.3" r="0.9" fill-opacity="0.7"/><circle cx="50.2" cy="423.2" r="0.7" fill-opacity="0.8"/><circle cx="57.0" cy="424.2" r="0.8" fill-opacity="0.5"/><circle cx="54.7" cy="423.4" r="1.2" fill-opacity="0.7"/><circle cx="51.7" cy="422.9" r="1.1" fill-opacity="0.7"/><circle cx="56.8" cy="423.0" r="0.8" fill-opacity="0.5"/><circle cx="53.2" cy="422.7" r="0.9" fill-opacity="0.8"/><circle cx="51.9" cy="421.4" r="1.1" fill-opacity="0.8"/><circle cx="54.4" cy="422.2" r="1.0" fill-opacity="0.5"/><circle cx="52.6" cy="426.5" r="0.9" fill-opacity="0.6"/><circle cx="55.9" cy="419.9" r="0.9" fill-opacity="0.5"/><circle cx="52.2" cy="421.7" r="1.0" fill-opacity="0.7"/><circle cx="56.4" cy="421.2" r="0.7" fill-opacity="0.9"/><circle cx="58.5" cy="424.4" r="1.0" fill-opacity="0.8"/><circle cx="53.7" cy="422.7" r="1.1" fill-opacity="0.8"/><circle cx="55.9" cy="421.9" r="1.2" fill-opacity="0.6"/><circle cx="51.2" cy="424.6" r="0.9" fill-opacity="0.4"/><circle cx="54.9" cy="419.2" r="1.0" fill-opacity="0.7"/><circle cx="53.4" cy="424.1" r="1.0" fill-opacity="0.9"/><circle cx="51.8" cy="422.8" r="0.8" fill-opacity="0.5"/><circle cx="51.5" cy="423.9" r="1.1" fill-opacity="0.8"/><circle cx="55.2" cy="421.0" r="0.9" fill-opacity="0.4"/><circle cx="61.9" cy="428.6" r="0.9" fill-opacity="0.9"/><circle cx="61.5" cy="426.1" r="0.9" fill-opacity="0.7"/><circle cx="62.6" cy="424.8" r="0.9" fill-opacity="0.7"/><circle cx="59.8" cy="426.2" r="1.0" fill-opacity="0.8"/><circle cx="59.5" cy="423.7" r="1.1" fill-opacity="0.8"/><circle cx="63.1" cy="427.0" r="0.9" fill-opacity="0.5"/><circle cx="64.2" cy="426.6" r="1.1" fill-opacity="0.8"/><circle cx="61.0" cy="423.6" r="1.2" fill-opacity="0.5"/><circle cx="62.2" cy="423.5" r="1.1" fill-opacity="0.9"/><circle cx="65.0" cy="427.5" r="0.7" fill-opacity="0.6"/><circle cx="60.0" cy="423.0" r="1.0" fill-opacity="0.5"/><circle cx="63.3" cy="426.8" r="1.1" fill-opacity="0.5"/><circle cx="64.4" cy="427.5" r="1.0" fill-opacity="0.6"/><circle cx="64.6" cy="424.6" r="0.8" fill-opacity="0.5"/><circle cx="62.5" cy="428.0" r="0.9" fill-opacity="0.8"/><circle cx="64.0" cy="424.6" r="0.8" fill-opacity="0.8"/><circle cx="59.8" cy="426.6" r="0.9" fill-opacity="0.8"/><circle cx="63.1" cy="425.6" r="0.9" fill-opacity="0.5"/><circle cx="30.7" cy="423.4" r="0.8" fill-opacity="0.9"/><circle cx="33.6" cy="422.7" r="0.7" fill-opacity="0.9"/><circle cx="31.4" cy="422.6" r="1.1" fill-opacity="0.8"/><circle cx="35.0" cy="418.1" r="1.0" fill-opacity="0.5"/><circle cx="37.7" cy="421.1" r="0.9" fill-opacity="0.8"/><circle cx="36.2" cy="420.8" r="1.0" fill-opacity="0.6"/><circle cx="38.8" cy="421.9" r="1.1" fill-opacity="0.4"/><circle cx="33.6" cy="424.5" r="0.8" fill-opacity="0.4"/><circle cx="36.3" cy="419.6" r="0.9" fill-opacity="0.8"/><circle cx="32.8" cy="425.2" r="1.1" fill-opacity="0.5"/><circle cx="36.2" cy="420.4" r="0.9" fill-opacity="0.5"/><circle cx="36.3" cy="423.0" r="1.0" fill-opacity="0.6"/><circle cx="34.4" cy="418.7" r="0.8" fill-opacity="0.6"/><circle cx="35.6" cy="419.2" r="1.1" fill-opacity="0.6"/><circle cx="40.1" cy="425.6" r="1.0" fill-opacity="0.7"/><circle cx="39.4" cy="425.5" r="0.9" fill-opacity="0.7"/><circle cx="37.1" cy="425.2" r="0.9" fill-opacity="0.5"/><circle cx="40.0" cy="423.7" r="0.9" fill-opacity="0.6"/><circle cx="36.7" cy="426.1" r="0.9" fill-opacity="0.5"/><circle cx="37.2" cy="425.0" r="1.2" fill-opacity="0.6"/><circle cx="38.7" cy="427.3" r="0.8" fill-opacity="0.4"/><circle cx="38.6" cy="423.3" r="0.8" fill-opacity="0.9"/><circle cx="37.6" cy="427.6" r="0.9" fill-opacity="0.8"/><circle cx="38.7" cy="428.4" r="0.8" fill-opacity="0.8"/><circle cx="38.6" cy="424.1" r="0.9" fill-opacity="0.8"/><circle cx="39.7" cy="422.0" r="1.0" fill-opacity="0.6"/><circle cx="38.7" cy="424.3" r="0.8" fill-opacity="0.7"/><circle cx="38.3" cy="424.3" r="1.1" fill-opacity="0.8"/><circle cx="41.2" cy="430.1" r="0.9" fill-opacity="0.6"/><circle cx="44.5" cy="427.2" r="1.1" fill-opacity="0.9"/><circle cx="41.6" cy="427.5" r="0.8" fill-opacity="0.8"/><circle cx="41.2" cy="431.4" r="1.1" fill-opacity="0.8"/><circle cx="41.6" cy="428.8" r="1.2" fill-opacity="0.9"/><circle cx="42.5" cy="428.5" r="0.8" fill-opacity="0.9"/><circle cx="42.4" cy="430.1" r="0.9" fill-opacity="0.6"/><circle cx="46.8" cy="437.4" r="0.7" fill-opacity="0.8"/><circle cx="42.1" cy="431.5" r="1.1" fill-opacity="0.5"/><circle cx="40.5" cy="434.0" r="0.9" fill-opacity="0.5"/><circle cx="41.0" cy="433.5" r="1.1" fill-opacity="0.6"/><circle cx="45.5" cy="435.7" r="1.1" fill-opacity="0.9"/><circle cx="42.7" cy="438.3" r="1.1" fill-opacity="0.6"/><circle cx="46.2" cy="436.1" r="0.9" fill-opacity="0.9"/><circle cx="47.1" cy="437.3" r="1.2" fill-opacity="0.5"/><circle cx="42.8" cy="435.1" r="0.9" fill-opacity="0.8"/><circle cx="46.0" cy="438.0" r="1.1" fill-opacity="0.6"/><circle cx="44.6" cy="435.5" r="0.9" fill-opacity="0.9"/><circle cx="40.8" cy="434.0" r="0.7" fill-opacity="0.6"/><circle cx="39.9" cy="432.8" r="1.0" fill-opacity="0.9"/><circle cx="38.9" cy="432.0" r="1.2" fill-opacity="0.7"/><circle cx="43.5" cy="437.4" r="1.1" fill-opacity="0.9"/><circle cx="40.5" cy="431.3" r="0.9" fill-opacity="0.5"/><circle cx="43.2" cy="434.7" r="0.8" fill-opacity="0.8"/><circle cx="43.2" cy="432.2" r="0.8" fill-opacity="0.7"/><circle cx="41.6" cy="434.7" r="1.2" fill-opacity="0.5"/><circle cx="42.2" cy="434.1" r="1.0" fill-opacity="0.7"/><circle cx="42.4" cy="433.4" r="1.2" fill-opacity="0.7"/><circle cx="42.3" cy="437.6" r="0.9" fill-opacity="0.9"/><circle cx="44.0" cy="431.1" r="1.1" fill-opacity="0.5"/><circle cx="44.1" cy="435.4" r="1.1" fill-opacity="0.6"/><circle cx="48.9" cy="444.9" r="1.2" fill-opacity="0.9"/><circle cx="47.6" cy="438.2" r="0.9" fill-opacity="0.6"/><circle cx="45.6" cy="442.6" r="0.8" fill-opacity="0.6"/><circle cx="48.8" cy="442.6" r="0.8" fill-opacity="0.5"/><circle cx="50.7" cy="442.4" r="1.1" fill-opacity="0.4"/><circle cx="45.8" cy="438.4" r="1.0" fill-opacity="0.7"/><circle cx="47.0" cy="441.2" r="1.1" fill-opacity="0.7"/><circle cx="45.0" cy="441.7" r="1.2" fill-opacity="0.6"/><circle cx="46.2" cy="440.0" r="0.7" fill-opacity="0.7"/><circle cx="50.6" cy="440.2" r="0.8" fill-opacity="0.9"/><circle cx="51.0" cy="442.9" r="1.2" fill-opacity="0.8"/><circle cx="48.2" cy="443.1" r="1.1" fill-opacity="0.5"/><circle cx="44.6" cy="440.7" r="0.9" fill-opacity="0.6"/><circle cx="51.1" cy="443.7" r="0.9" fill-opacity="0.6"/><circle cx="46.0" cy="440.6" r="0.9" fill-opacity="0.8"/><circle cx="47.3" cy="441.5" r="0.7" fill-opacity="0.7"/><circle cx="51.6" cy="441.1" r="0.8" fill-opacity="0.9"/><circle cx="49.6" cy="442.9" r="1.0" fill-opacity="0.7"/><circle cx="46.4" cy="441.3" r="0.9" fill-opacity="0.8"/><circle cx="45.7" cy="443.5" r="1.1" fill-opacity="0.9"/><circle cx="53.5" cy="442.0" r="1.0" fill-opacity="0.5"/><circle cx="57.7" cy="450.0" r="1.0" fill-opacity="0.4"/><circle cx="56.8" cy="446.9" r="1.1" fill-opacity="0.6"/><circle cx="56.7" cy="448.6" r="1.1" fill-opacity="0.5"/><circle cx="57.6" cy="450.4" r="1.0" fill-opacity="0.5"/><circle cx="57.5" cy="448.9" r="0.7" fill-opacity="0.5"/><circle cx="56.7" cy="447.4" r="1.1" fill-opacity="0.6"/><circle cx="54.5" cy="447.2" r="1.0" fill-opacity="0.8"/><circle cx="55.6" cy="446.5" r="1.2" fill-opacity="0.5"/><circle cx="51.7" cy="445.6" r="1.0" fill-opacity="0.8"/><circle cx="52.5" cy="442.8" r="1.1" fill-opacity="0.6"/><circle cx="52.9" cy="446.9" r="0.9" fill-opacity="0.8"/><circle cx="55.1" cy="448.6" r="0.8" fill-opacity="0.7"/><circle cx="49.9" cy="447.6" r="1.0" fill-opacity="0.9"/><circle cx="55.1" cy="445.5" r="0.8" fill-opacity="0.8"/><circle cx="56.2" cy="446.0" r="0.8" fill-opacity="0.5"/><circle cx="53.4" cy="447.5" r="0.9" fill-opacity="0.8"/><circle cx="54.5" cy="446.4" r="1.0" fill-opacity="0.9"/><circle cx="53.9" cy="445.0" r="0.8" fill-opacity="0.7"/><circle cx="56.9" cy="448.0" r="0.9" fill-opacity="0.5"/><circle cx="57.8" cy="449.0" r="1.2" fill-opacity="0.5"/><circle cx="52.9" cy="444.3" r="0.8" fill-opacity="0.4"/><circle cx="60.5" cy="450.1" r="1.0" fill-opacity="0.8"/><circle cx="61.5" cy="449.1" r="0.8" fill-opacity="0.9"/><circle cx="62.8" cy="449.9" r="1.0" fill-opacity="0.5"/><circle cx="58.9" cy="449.9" r="1.2" fill-opacity="0.9"/><circle cx="60.4" cy="449.9" r="0.9" fill-opacity="0.9"/><circle cx="61.5" cy="449.0" r="0.8" fill-opacity="0.6"/><circle cx="63.1" cy="452.8" r="0.9" fill-opacity="0.9"/><circle cx="62.2" cy="450.2" r="0.8" fill-opacity="0.6"/><circle cx="61.6" cy="447.6" r="0.8" fill-opacity="0.9"/><circle cx="63.4" cy="450.2" r="0.8" fill-opacity="0.9"/><circle cx="64.9" cy="448.9" r="0.9" fill-opacity="0.7"/><circle cx="63.3" cy="451.2" r="1.1" fill-opacity="0.5"/><circle cx="63.9" cy="449.9" r="1.0" fill-opacity="0.7"/><circle cx="66.9" cy="448.1" r="1.0" fill-opacity="0.6"/><circle cx="59.6" cy="448.7" r="1.0" fill-opacity="0.6"/><circle cx="64.3" cy="450.2" r="0.8" fill-opacity="0.4"/><circle cx="61.3" cy="452.1" r="1.0" fill-opacity="0.7"/><circle cx="62.8" cy="450.1" r="1.1" fill-opacity="0.5"/><circle cx="65.0" cy="451.8" r="1.0" fill-opacity="0.6"/><circle cx="63.7" cy="449.8" r="1.0" fill-opacity="0.9"/><circle cx="68.4" cy="450.2" r="1.0" fill-opacity="0.6"/><circle cx="73.6" cy="450.5" r="1.0" fill-opacity="0.5"/><circle cx="71.7" cy="451.9" r="1.1" fill-opacity="0.7"/><circle cx="69.7" cy="447.1" r="0.7" fill-opacity="0.7"/><circle cx="72.0" cy="449.0" r="1.2" fill-opacity="0.9"/><circle cx="67.9" cy="449.5" r="0.9" fill-opacity="0.5"/><circle cx="71.5" cy="450.9" r="1.2" fill-opacity="0.6"/><circle cx="71.3" cy="450.2" r="0.7" fill-opacity="0.5"/><circle cx="69.8" cy="452.7" r="0.9" fill-opacity="0.8"/><circle cx="66.4" cy="450.6" r="0.7" fill-opacity="0.6"/><circle cx="67.9" cy="452.1" r="1.1" fill-opacity="0.6"/><circle cx="71.8" cy="453.5" r="0.8" fill-opacity="0.8"/><circle cx="71.0" cy="450.2" r="0.9" fill-opacity="0.8"/><circle cx="72.5" cy="448.3" r="0.9" fill-opacity="0.8"/><circle cx="73.0" cy="450.2" r="1.0" fill-opacity="0.9"/><circle cx="66.6" cy="450.1" r="1.1" fill-opacity="0.8"/><circle cx="69.0" cy="451.7" r="0.9" fill-opacity="0.7"/><circle cx="69.8" cy="452.5" r="0.9" fill-opacity="0.4"/><circle cx="73.6" cy="450.8" r="1.1" fill-opacity="0.8"/><circle cx="74.3" cy="451.2" r="1.1" fill-opacity="0.9"/><circle cx="76.0" cy="453.8" r="1.0" fill-opacity="0.9"/><circle cx="74.6" cy="450.9" r="0.9" fill-opacity="0.9"/><circle cx="76.7" cy="451.7" r="0.7" fill-opacity="0.6"/><circle cx="76.7" cy="452.6" r="1.0" fill-opacity="0.9"/><circle cx="77.8" cy="453.3" r="1.0" fill-opacity="0.8"/><circle cx="78.9" cy="451.3" r="0.9" fill-opacity="0.8"/><circle cx="75.9" cy="452.5" r="1.1" fill-opacity="0.7"/><circle cx="75.9" cy="449.2" r="0.7" fill-opacity="0.8"/><circle cx="74.5" cy="452.9" r="0.7" fill-opacity="0.6"/><circle cx="73.6" cy="450.5" r="0.8" fill-opacity="0.8"/><circle cx="75.5" cy="452.8" r="0.8" fill-opacity="0.8"/><circle cx="77.2" cy="451.5" r="0.7" fill-opacity="0.5"/><circle cx="80.9" cy="459.5" r="1.0" fill-opacity="0.9"/><circle cx="79.3" cy="455.5" r="0.7" fill-opacity="0.7"/><circle cx="80.2" cy="456.3" r="0.9" fill-opacity="0.7"/><circle cx="77.5" cy="455.4" r="0.7" fill-opacity="0.4"/><circle cx="77.4" cy="454.9" r="0.7" fill-opacity="0.9"/><circle cx="79.9" cy="455.4" r="0.9" fill-opacity="0.7"/><circle cx="81.8" cy="457.5" r="0.8" fill-opacity="0.8"/><circle cx="77.8" cy="457.6" r="1.2" fill-opacity="0.5"/><circle cx="78.2" cy="456.7" r="1.1" fill-opacity="0.9"/><circle cx="79.1" cy="459.0" r="1.2" fill-opacity="0.7"/><circle cx="78.8" cy="455.1" r="1.0" fill-opacity="0.6"/><circle cx="80.0" cy="455.2" r="1.1" fill-opacity="0.6"/><circle cx="78.0" cy="454.4" r="1.0" fill-opacity="0.7"/><circle cx="80.3" cy="455.3" r="1.2" fill-opacity="0.8"/><circle cx="82.3" cy="457.0" r="0.7" fill-opacity="0.5"/><circle cx="80.6" cy="459.1" r="0.9" fill-opacity="0.6"/><circle cx="81.2" cy="456.7" r="1.1" fill-opacity="0.5"/><circle cx="77.7" cy="448.4" r="1.0" fill-opacity="0.6"/><circle cx="76.6" cy="449.4" r="0.8" fill-opacity="0.6"/><circle cx="75.9" cy="447.9" r="1.0" fill-opacity="0.5"/><circle cx="77.5" cy="451.2" r="1.2" fill-opacity="0.6"/><circle cx="77.4" cy="449.1" r="0.9" fill-opacity="0.6"/><circle cx="76.8" cy="449.3" r="0.9" fill-opacity="0.6"/><circle cx="78.3" cy="450.2" r="1.1" fill-opacity="0.4"/><circle cx="75.2" cy="448.8" r="0.9" fill-opacity="0.7"/><circle cx="75.2" cy="445.2" r="0.9" fill-opacity="0.6"/><circle cx="77.4" cy="447.9" r="0.9" fill-opacity="0.4"/><circle cx="75.5" cy="450.6" r="0.9" fill-opacity="0.6"/><circle cx="78.0" cy="446.8" r="1.1" fill-opacity="0.6"/><circle cx="76.4" cy="451.1" r="0.9" fill-opacity="0.8"/><circle cx="75.3" cy="448.0" r="0.8" fill-opacity="0.7"/><circle cx="77.6" cy="450.9" r="0.8" fill-opacity="0.7"/><circle cx="79.0" cy="450.1" r="1.0" fill-opacity="0.8"/><circle cx="76.9" cy="446.9" r="1.1" fill-opacity="0.8"/><circle cx="76.2" cy="447.1" r="1.2" fill-opacity="0.5"/><circle cx="76.2" cy="445.9" r="1.2" fill-opacity="0.6"/><circle cx="78.1" cy="451.2" r="0.9" fill-opacity="0.7"/><circle cx="42.0" cy="452.3" r="0.9" fill-opacity="0.6"/><circle cx="42.8" cy="449.0" r="1.0" fill-opacity="0.9"/><circle cx="41.7" cy="448.6" r="1.2" fill-opacity="0.9"/><circle cx="41.9" cy="451.4" r="1.2" fill-opacity="0.5"/><circle cx="39.2" cy="449.5" r="0.7" fill-opacity="0.9"/><circle cx="42.3" cy="449.4" r="0.8" fill-opacity="0.7"/><circle cx="42.2" cy="448.0" r="0.9" fill-opacity="0.9"/><circle cx="43.2" cy="451.3" r="0.9" fill-opacity="0.5"/><circle cx="44.2" cy="449.5" r="0.8" fill-opacity="0.9"/><circle cx="43.3" cy="447.9" r="1.1" fill-opacity="0.5"/><circle cx="41.9" cy="449.0" r="1.2" fill-opacity="0.6"/><circle cx="70.2" cy="400.4" r="0.7" fill-opacity="0.8"/><circle cx="67.7" cy="400.4" r="1.1" fill-opacity="0.5"/><circle cx="67.3" cy="396.0" r="1.0" fill-opacity="0.5"/><circle cx="67.8" cy="400.3" r="0.7" fill-opacity="0.7"/><circle cx="70.1" cy="401.3" r="0.8" fill-opacity="0.8"/><circle cx="68.5" cy="398.9" r="1.0" fill-opacity="0.5"/><circle cx="66.5" cy="398.2" r="1.2" fill-opacity="0.4"/><circle cx="66.9" cy="400.3" r="1.1" fill-opacity="0.6"/><circle cx="69.5" cy="401.2" r="1.1" fill-opacity="0.7"/><circle cx="67.8" cy="397.0" r="0.9" fill-opacity="0.5"/><circle cx="66.8" cy="399.3" r="1.1" fill-opacity="0.9"/><circle cx="66.0" cy="396.5" r="1.2" fill-opacity="0.7"/><circle cx="69.1" cy="400.4" r="1.2" fill-opacity="0.9"/><circle cx="70.1" cy="402.7" r="1.0" fill-opacity="0.6"/><circle cx="66.8" cy="398.9" r="1.0" fill-opacity="0.6"/><circle cx="67.8" cy="400.2" r="1.1" fill-opacity="0.7"/><circle cx="67.3" cy="397.9" r="1.1" fill-opacity="0.9"/><circle cx="69.9" cy="402.1" r="1.1" fill-opacity="0.5"/><circle cx="67.6" cy="401.8" r="0.9" fill-opacity="0.4"/><circle cx="68.7" cy="404.2" r="0.9" fill-opacity="0.5"/><circle cx="75.0" cy="408.3" r="0.8" fill-opacity="0.8"/><circle cx="74.3" cy="406.4" r="0.8" fill-opacity="0.9"/><circle cx="72.9" cy="405.9" r="1.2" fill-opacity="0.8"/><circle cx="70.7" cy="403.4" r="0.8" fill-opacity="0.6"/><circle cx="72.8" cy="406.0" r="0.9" fill-opacity="0.7"/><circle cx="72.8" cy="405.4" r="1.2" fill-opacity="0.4"/><circle cx="69.9" cy="403.8" r="0.7" fill-opacity="0.9"/><circle cx="68.7" cy="404.6" r="0.7" fill-opacity="0.9"/><circle cx="68.7" cy="404.6" r="0.8" fill-opacity="0.9"/><circle cx="75.0" cy="405.9" r="0.9" fill-opacity="0.7"/><circle cx="71.5" cy="404.9" r="1.1" fill-opacity="0.9"/><circle cx="75.3" cy="408.7" r="0.9" fill-opacity="0.7"/><circle cx="73.2" cy="404.6" r="1.1" fill-opacity="0.5"/><circle cx="74.4" cy="408.9" r="0.9" fill-opacity="0.9"/><circle cx="72.3" cy="407.7" r="1.1" fill-opacity="0.9"/><circle cx="74.2" cy="405.1" r="0.9" fill-opacity="0.6"/><circle cx="70.7" cy="403.2" r="0.8" fill-opacity="0.9"/><circle cx="71.7" cy="404.0" r="0.7" fill-opacity="0.5"/><circle cx="70.1" cy="403.8" r="0.7" fill-opacity="0.7"/><circle cx="79.1" cy="408.5" r="1.2" fill-opacity="0.4"/><circle cx="76.8" cy="410.0" r="0.8" fill-opacity="0.5"/><circle cx="79.3" cy="410.3" r="1.1" fill-opacity="0.6"/><circle cx="76.7" cy="410.5" r="0.8" fill-opacity="0.8"/><circle cx="78.3" cy="410.8" r="1.2" fill-opacity="0.5"/><circle cx="77.0" cy="410.2" r="0.7" fill-opacity="0.6"/><circle cx="78.0" cy="409.8" r="1.2" fill-opacity="0.4"/><circle cx="78.8" cy="411.6" r="0.8" fill-opacity="0.8"/><circle cx="74.9" cy="411.2" r="1.1" fill-opacity="0.6"/><circle cx="77.6" cy="408.9" r="0.7" fill-opacity="0.7"/><circle cx="77.2" cy="406.2" r="0.7" fill-opacity="0.4"/><circle cx="79.7" cy="410.4" r="0.7" fill-opacity="0.9"/><circle cx="82.4" cy="409.7" r="1.1" fill-opacity="0.9"/><circle cx="81.9" cy="409.7" r="0.9" fill-opacity="0.8"/><circle cx="78.2" cy="408.4" r="0.9" fill-opacity="0.8"/><circle cx="81.9" cy="410.7" r="1.0" fill-opacity="0.7"/><circle cx="76.1" cy="406.3" r="1.1" fill-opacity="0.9"/><circle cx="89.3" cy="408.8" r="0.8" fill-opacity="0.5"/><circle cx="90.3" cy="410.9" r="1.2" fill-opacity="0.6"/><circle cx="86.1" cy="409.5" r="0.9" fill-opacity="0.7"/><circle cx="81.2" cy="409.9" r="0.8" fill-opacity="0.7"/><circle cx="86.6" cy="409.2" r="0.8" fill-opacity="0.6"/><circle cx="90.2" cy="407.6" r="1.1" fill-opacity="0.8"/><circle cx="82.6" cy="410.1" r="1.2" fill-opacity="0.9"/><circle cx="85.6" cy="409.1" r="0.8" fill-opacity="0.8"/><circle cx="83.5" cy="407.0" r="1.0" fill-opacity="0.7"/><circle cx="89.9" cy="407.8" r="0.9" fill-opacity="0.9"/><circle cx="83.8" cy="412.0" r="1.0" fill-opacity="0.9"/><circle cx="88.8" cy="411.8" r="0.8" fill-opacity="0.6"/><circle cx="90.0" cy="412.1" r="0.8" fill-opacity="0.8"/><circle cx="88.1" cy="405.7" r="0.9" fill-opacity="0.6"/><circle cx="90.0" cy="412.7" r="0.9" fill-opacity="0.7"/><circle cx="89.1" cy="410.2" r="0.9" fill-opacity="0.7"/><circle cx="87.0" cy="410.4" r="1.0" fill-opacity="0.4"/><circle cx="82.3" cy="410.7" r="0.8" fill-opacity="0.7"/><circle cx="90.1" cy="411.1" r="1.0" fill-opacity="0.7"/><circle cx="83.6" cy="410.8" r="1.1" fill-opacity="0.6"/><circle cx="91.0" cy="406.5" r="1.2" fill-opacity="0.8"/><circle cx="81.6" cy="411.4" r="1.0" fill-opacity="0.7"/><circle cx="89.8" cy="413.4" r="1.1" fill-opacity="0.6"/><circle cx="82.8" cy="409.9" r="0.8" fill-opacity="0.7"/><circle cx="90.5" cy="412.9" r="1.0" fill-opacity="0.4"/><circle cx="91.1" cy="411.9" r="1.0" fill-opacity="0.9"/><circle cx="92.8" cy="413.5" r="1.1" fill-opacity="0.7"/><circle cx="96.3" cy="415.5" r="1.1" fill-opacity="0.6"/><circle cx="95.5" cy="416.0" r="0.7" fill-opacity="0.9"/><circle cx="94.5" cy="410.0" r="1.0" fill-opacity="0.7"/><circle cx="92.4" cy="409.5" r="1.0" fill-opacity="0.9"/><circle cx="98.7" cy="412.2" r="0.9" fill-opacity="0.7"/><circle cx="96.9" cy="414.3" r="1.1" fill-opacity="0.8"/><circle cx="91.0" cy="410.4" r="1.2" fill-opacity="0.4"/><circle cx="96.2" cy="413.6" r="1.1" fill-opacity="0.4"/><circle cx="92.7" cy="410.7" r="0.9" fill-opacity="0.6"/><circle cx="99.5" cy="411.8" r="1.1" fill-opacity="0.9"/><circle cx="93.3" cy="408.8" r="1.0" fill-opacity="0.7"/><circle cx="93.5" cy="413.5" r="1.0" fill-opacity="0.4"/><circle cx="92.7" cy="409.8" r="0.9" fill-opacity="0.6"/><circle cx="95.4" cy="409.7" r="0.7" fill-opacity="0.6"/><circle cx="93.2" cy="412.9" r="0.8" fill-opacity="0.5"/><circle cx="96.6" cy="414.7" r="0.8" fill-opacity="0.6"/><circle cx="92.8" cy="413.1" r="1.0" fill-opacity="0.9"/><circle cx="94.6" cy="411.8" r="0.9" fill-opacity="0.8"/><circle cx="95.5" cy="415.8" r="1.1" fill-opacity="0.5"/><circle cx="102.6" cy="415.2" r="0.8" fill-opacity="0.9"/><circle cx="101.0" cy="417.9" r="0.8" fill-opacity="0.7"/><circle cx="103.7" cy="420.0" r="1.0" fill-opacity="0.8"/><circle cx="100.0" cy="415.1" r="1.1" fill-opacity="0.8"/><circle cx="101.5" cy="417.2" r="0.8" fill-opacity="0.8"/><circle cx="100.6" cy="418.9" r="1.1" fill-opacity="0.8"/><circle cx="105.5" cy="419.2" r="1.2" fill-opacity="0.4"/><circle cx="101.4" cy="413.4" r="0.9" fill-opacity="0.9"/><circle cx="98.4" cy="415.4" r="0.9" fill-opacity="0.6"/><circle cx="102.9" cy="417.2" r="0.8" fill-opacity="0.6"/><circle cx="100.1" cy="415.1" r="0.9" fill-opacity="0.7"/><circle cx="103.6" cy="419.6" r="0.8" fill-opacity="0.7"/><circle cx="100.4" cy="418.2" r="1.2" fill-opacity="0.6"/><circle cx="100.6" cy="417.4" r="0.8" fill-opacity="0.9"/><circle cx="105.8" cy="418.2" r="1.1" fill-opacity="0.8"/><circle cx="105.1" cy="418.2" r="1.2" fill-opacity="0.9"/><circle cx="101.1" cy="415.9" r="0.9" fill-opacity="0.4"/><circle cx="105.8" cy="419.4" r="1.1" fill-opacity="0.8"/><circle cx="98.6" cy="417.1" r="0.9" fill-opacity="0.9"/><circle cx="104.8" cy="417.2" r="1.1" fill-opacity="0.7"/><circle cx="104.9" cy="414.9" r="1.0" fill-opacity="0.6"/><circle cx="98.9" cy="415.3" r="0.8" fill-opacity="0.6"/><circle cx="106.8" cy="417.8" r="1.1" fill-opacity="0.7"/><circle cx="102.8" cy="416.4" r="1.0" fill-opacity="0.8"/><circle cx="108.0" cy="424.1" r="1.2" fill-opacity="0.5"/><circle cx="111.5" cy="422.2" r="0.7" fill-opacity="0.8"/><circle cx="110.8" cy="421.1" r="0.8" fill-opacity="0.7"/><circle cx="105.9" cy="422.1" r="1.0" fill-opacity="0.8"/><circle cx="108.4" cy="419.3" r="1.0" fill-opacity="0.6"/><circle cx="107.6" cy="423.3" r="1.0" fill-opacity="0.9"/><circle cx="108.0" cy="419.2" r="1.1" fill-opacity="0.7"/><circle cx="110.9" cy="424.6" r="1.1" fill-opacity="0.6"/><circle cx="110.7" cy="423.0" r="1.2" fill-opacity="0.4"/><circle cx="113.4" cy="422.2" r="1.0" fill-opacity="0.8"/><circle cx="110.4" cy="421.5" r="1.2" fill-opacity="0.7"/><circle cx="107.3" cy="418.7" r="1.0" fill-opacity="0.7"/><circle cx="113.0" cy="423.1" r="1.1" fill-opacity="0.6"/><circle cx="108.2" cy="426.1" r="1.0" fill-opacity="0.5"/><circle cx="109.4" cy="421.7" r="0.7" fill-opacity="0.4"/><circle cx="106.1" cy="420.3" r="0.8" fill-opacity="0.6"/><circle cx="110.8" cy="425.4" r="0.8" fill-opacity="0.8"/><circle cx="108.8" cy="426.1" r="1.0" fill-opacity="0.6"/><circle cx="109.7" cy="421.2" r="0.8" fill-opacity="0.6"/><circle cx="108.5" cy="423.7" r="1.1" fill-opacity="0.9"/><circle cx="112.2" cy="428.5" r="1.0" fill-opacity="0.6"/><circle cx="112.5" cy="425.7" r="1.1" fill-opacity="0.7"/><circle cx="110.1" cy="427.2" r="0.9" fill-opacity="0.9"/><circle cx="110.4" cy="427.2" r="1.0" fill-opacity="0.4"/><circle cx="112.3" cy="432.0" r="0.7" fill-opacity="0.7"/><circle cx="113.2" cy="428.7" r="1.1" fill-opacity="0.6"/><circle cx="115.6" cy="430.9" r="1.0" fill-opacity="0.5"/><circle cx="113.6" cy="431.3" r="1.0" fill-opacity="0.6"/><circle cx="111.9" cy="426.8" r="0.9" fill-opacity="0.5"/><circle cx="113.3" cy="427.3" r="1.0" fill-opacity="0.9"/><circle cx="110.7" cy="429.7" r="1.0" fill-opacity="0.7"/><circle cx="110.8" cy="428.0" r="1.0" fill-opacity="0.8"/><circle cx="111.2" cy="433.6" r="1.0" fill-opacity="0.4"/><circle cx="111.3" cy="431.2" r="1.2" fill-opacity="0.7"/><circle cx="111.2" cy="432.0" r="0.7" fill-opacity="0.8"/><circle cx="114.8" cy="429.0" r="1.1" fill-opacity="0.6"/><circle cx="114.9" cy="428.5" r="1.0" fill-opacity="0.4"/><circle cx="111.4" cy="431.2" r="1.1" fill-opacity="0.8"/><circle cx="110.0" cy="430.5" r="1.1" fill-opacity="0.7"/><circle cx="114.1" cy="426.4" r="1.2" fill-opacity="0.6"/><circle cx="113.7" cy="436.8" r="0.7" fill-opacity="0.4"/><circle cx="113.4" cy="435.5" r="0.9" fill-opacity="0.5"/><circle cx="114.3" cy="441.4" r="0.8" fill-opacity="0.5"/><circle cx="113.7" cy="435.7" r="1.0" fill-opacity="0.9"/><circle cx="112.8" cy="433.7" r="1.2" fill-opacity="0.6"/><circle cx="111.8" cy="436.4" r="0.9" fill-opacity="0.7"/><circle cx="108.8" cy="436.7" r="1.0" fill-opacity="0.8"/><circle cx="110.4" cy="435.5" r="0.9" fill-opacity="0.4"/><circle cx="112.9" cy="434.1" r="0.9" fill-opacity="0.4"/><circle cx="113.6" cy="433.6" r="1.0" fill-opacity="0.9"/><circle cx="113.8" cy="435.0" r="1.0" fill-opacity="0.8"/><circle cx="108.7" cy="435.1" r="1.0" fill-opacity="0.9"/><circle cx="110.0" cy="438.6" r="0.8" fill-opacity="0.7"/><circle cx="110.9" cy="439.0" r="0.9" fill-opacity="0.7"/><circle cx="110.8" cy="437.5" r="0.8" fill-opacity="0.8"/><circle cx="111.4" cy="433.4" r="0.9" fill-opacity="0.5"/><circle cx="110.1" cy="436.8" r="1.1" fill-opacity="0.4"/><circle cx="106.5" cy="441.7" r="0.8" fill-opacity="0.9"/><circle cx="108.5" cy="439.0" r="1.0" fill-opacity="0.5"/><circle cx="107.4" cy="442.7" r="0.8" fill-opacity="0.8"/><circle cx="105.4" cy="441.5" r="1.1" fill-opacity="0.9"/><circle cx="105.0" cy="438.7" r="1.2" fill-opacity="0.8"/><circle cx="108.3" cy="443.0" r="0.7" fill-opacity="0.8"/><circle cx="108.4" cy="441.1" r="0.9" fill-opacity="0.7"/><circle cx="108.7" cy="439.4" r="0.7" fill-opacity="0.4"/><circle cx="105.8" cy="441.7" r="1.0" fill-opacity="0.8"/><circle cx="107.4" cy="440.1" r="0.8" fill-opacity="0.9"/><circle cx="107.7" cy="439.6" r="0.7" fill-opacity="0.9"/><circle cx="106.1" cy="440.9" r="1.2" fill-opacity="0.4"/><circle cx="104.4" cy="440.8" r="1.1" fill-opacity="0.7"/><circle cx="109.5" cy="441.2" r="0.9" fill-opacity="0.6"/><circle cx="106.1" cy="441.2" r="1.0" fill-opacity="0.9"/><circle cx="107.2" cy="438.9" r="1.1" fill-opacity="0.7"/><circle cx="106.8" cy="436.1" r="0.9" fill-opacity="0.5"/><circle cx="104.1" cy="439.3" r="1.0" fill-opacity="0.9"/><circle cx="96.5" cy="441.6" r="1.0" fill-opacity="0.7"/><circle cx="102.5" cy="444.8" r="0.9" fill-opacity="0.9"/><circle cx="99.1" cy="440.6" r="1.1" fill-opacity="0.7"/><circle cx="101.1" cy="439.8" r="1.0" fill-opacity="0.8"/><circle cx="97.3" cy="440.6" r="0.8" fill-opacity="0.7"/><circle cx="99.6" cy="441.3" r="0.8" fill-opacity="0.8"/><circle cx="100.0" cy="441.9" r="0.9" fill-opacity="0.9"/><circle cx="101.1" cy="442.4" r="1.0" fill-opacity="0.7"/><circle cx="98.3" cy="442.3" r="1.0" fill-opacity="0.7"/><circle cx="103.7" cy="443.3" r="0.8" fill-opacity="0.4"/><circle cx="103.9" cy="441.4" r="0.9" fill-opacity="0.6"/><circle cx="103.3" cy="443.2" r="0.9" fill-opacity="0.5"/><circle cx="101.9" cy="441.4" r="0.8" fill-opacity="0.9"/><circle cx="104.1" cy="440.4" r="0.9" fill-opacity="0.8"/><circle cx="99.6" cy="442.7" r="0.8" fill-opacity="0.4"/><circle cx="99.1" cy="443.0" r="1.0" fill-opacity="0.6"/><circle cx="101.7" cy="444.2" r="1.1" fill-opacity="0.4"/><circle cx="102.3" cy="440.2" r="0.9" fill-opacity="0.7"/><circle cx="98.0" cy="440.2" r="0.8" fill-opacity="0.8"/><circle cx="90.6" cy="435.6" r="0.8" fill-opacity="0.5"/><circle cx="91.4" cy="438.3" r="0.8" fill-opacity="0.4"/><circle cx="95.1" cy="438.1" r="0.9" fill-opacity="0.8"/><circle cx="89.9" cy="439.6" r="0.8" fill-opacity="0.6"/><circle cx="92.4" cy="435.8" r="0.9" fill-opacity="0.5"/><circle cx="89.7" cy="438.6" r="1.1" fill-opacity="0.9"/><circle cx="91.2" cy="438.2" r="0.8" fill-opacity="0.8"/><circle cx="94.0" cy="437.4" r="1.2" fill-opacity="0.4"/><circle cx="95.4" cy="439.4" r="0.9" fill-opacity="0.4"/><circle cx="95.8" cy="440.7" r="0.9" fill-opacity="0.5"/><circle cx="93.4" cy="434.3" r="0.9" fill-opacity="0.5"/><circle cx="92.6" cy="440.2" r="1.1" fill-opacity="0.6"/><circle cx="91.9" cy="439.2" r="0.7" fill-opacity="0.7"/><circle cx="95.4" cy="438.0" r="0.9" fill-opacity="0.8"/><circle cx="92.1" cy="441.0" r="1.1" fill-opacity="0.5"/><circle cx="91.4" cy="440.3" r="0.9" fill-opacity="0.8"/><circle cx="91.2" cy="435.6" r="1.2" fill-opacity="0.7"/><circle cx="90.9" cy="434.5" r="1.0" fill-opacity="0.6"/><circle cx="95.9" cy="437.7" r="0.9" fill-opacity="0.6"/><circle cx="94.7" cy="442.0" r="0.9" fill-opacity="0.6"/><circle cx="96.2" cy="439.0" r="0.9" fill-opacity="0.4"/><circle cx="87.3" cy="431.1" r="0.7" fill-opacity="0.9"/><circle cx="83.9" cy="432.6" r="0.9" fill-opacity="0.9"/><circle cx="87.6" cy="436.4" r="0.8" fill-opacity="0.6"/><circle cx="87.7" cy="434.0" r="1.1" fill-opacity="0.6"/><circle cx="84.9" cy="430.9" r="1.0" fill-opacity="0.8"/><circle cx="85.8" cy="433.7" r="0.9" fill-opacity="0.5"/><circle cx="86.8" cy="432.1" r="0.7" fill-opacity="0.9"/><circle cx="88.1" cy="436.4" r="1.0" fill-opacity="0.8"/><circle cx="89.3" cy="435.4" r="1.2" fill-opacity="0.9"/><circle cx="89.5" cy="435.2" r="1.0" fill-opacity="0.5"/><circle cx="85.2" cy="432.8" r="1.0" fill-opacity="0.7"/><circle cx="85.2" cy="432.4" r="0.8" fill-opacity="0.4"/><circle cx="86.4" cy="434.2" r="0.9" fill-opacity="0.6"/><circle cx="85.3" cy="436.2" r="1.1" fill-opacity="0.9"/><circle cx="89.7" cy="435.3" r="1.2" fill-opacity="0.6"/><circle cx="86.1" cy="436.8" r="1.1" fill-opacity="0.6"/><circle cx="86.7" cy="438.2" r="0.9" fill-opacity="0.7"/><circle cx="82.8" cy="434.7" r="0.7" fill-opacity="0.8"/><circle cx="84.4" cy="431.0" r="0.7" fill-opacity="0.7"/><circle cx="87.9" cy="435.8" r="1.1" fill-opacity="0.4"/><circle cx="82.9" cy="427.0" r="1.0" fill-opacity="0.7"/><circle cx="81.3" cy="424.4" r="0.9" fill-opacity="0.8"/><circle cx="82.8" cy="429.0" r="0.9" fill-opacity="0.5"/><circle cx="79.1" cy="425.5" r="0.9" fill-opacity="0.6"/><circle cx="83.4" cy="430.5" r="1.1" fill-opacity="0.5"/><circle cx="81.4" cy="426.6" r="0.9" fill-opacity="0.8"/><circle cx="82.7" cy="431.3" r="0.9" fill-opacity="0.6"/><circle cx="78.4" cy="425.1" r="0.8" fill-opacity="0.6"/><circle cx="83.1" cy="427.6" r="1.0" fill-opacity="0.8"/><circle cx="79.7" cy="429.4" r="1.2" fill-opacity="0.7"/><circle cx="78.7" cy="426.1" r="0.9" fill-opacity="0.8"/><circle cx="80.5" cy="428.6" r="0.9" fill-opacity="0.5"/><circle cx="80.9" cy="430.9" r="1.0" fill-opacity="0.9"/><circle cx="81.4" cy="428.0" r="0.8" fill-opacity="0.9"/><circle cx="81.1" cy="422.9" r="0.7" fill-opacity="0.5"/><circle cx="84.1" cy="425.5" r="0.9" fill-opacity="0.9"/><circle cx="82.0" cy="430.9" r="0.9" fill-opacity="0.6"/><circle cx="81.0" cy="427.6" r="0.8" fill-opacity="0.7"/><circle cx="81.9" cy="427.3" r="1.0" fill-opacity="0.7"/><circle cx="79.7" cy="432.3" r="1.1" fill-opacity="0.5"/><circle cx="80.8" cy="424.1" r="1.1" fill-opacity="0.9"/><circle cx="82.7" cy="430.7" r="1.0" fill-opacity="0.8"/><circle cx="79.4" cy="419.9" r="1.1" fill-opacity="0.9"/><circle cx="78.7" cy="419.7" r="0.9" fill-opacity="0.6"/><circle cx="78.2" cy="422.2" r="1.1" fill-opacity="0.5"/><circle cx="77.6" cy="418.7" r="0.9" fill-opacity="0.9"/><circle cx="80.5" cy="418.3" r="0.9" fill-opacity="0.6"/><circle cx="78.9" cy="416.3" r="0.9" fill-opacity="0.7"/><circle cx="80.0" cy="415.4" r="1.1" fill-opacity="0.5"/><circle cx="79.5" cy="421.0" r="0.9" fill-opacity="0.6"/><circle cx="78.2" cy="420.6" r="1.2" fill-opacity="0.9"/><circle cx="78.4" cy="418.8" r="0.8" fill-opacity="0.6"/><circle cx="79.7" cy="422.5" r="1.2" fill-opacity="0.4"/><circle cx="77.7" cy="419.0" r="1.0" fill-opacity="0.4"/><circle cx="79.2" cy="419.2" r="0.8" fill-opacity="0.8"/><circle cx="78.7" cy="419.8" r="1.0" fill-opacity="0.7"/><circle cx="79.2" cy="420.5" r="0.8" fill-opacity="0.6"/><circle cx="79.7" cy="421.7" r="1.1" fill-opacity="0.6"/><circle cx="79.8" cy="417.0" r="1.0" fill-opacity="0.7"/><circle cx="81.4" cy="422.2" r="1.1" fill-opacity="0.8"/><circle cx="78.4" cy="417.3" r="1.1" fill-opacity="0.6"/><circle cx="75.4" cy="421.5" r="1.1" fill-opacity="0.9"/><circle cx="77.5" cy="409.9" r="0.7" fill-opacity="0.8"/><circle cx="80.3" cy="411.8" r="0.9" fill-opacity="0.6"/><circle cx="80.3" cy="416.0" r="1.0" fill-opacity="0.8"/><circle cx="78.7" cy="415.0" r="1.2" fill-opacity="0.8"/><circle cx="77.0" cy="414.4" r="1.2" fill-opacity="0.9"/><circle cx="78.2" cy="414.5" r="1.0" fill-opacity="0.8"/><circle cx="80.5" cy="415.7" r="1.2" fill-opacity="0.7"/><circle cx="80.8" cy="411.8" r="0.7" fill-opacity="0.6"/><circle cx="75.6" cy="410.8" r="1.0" fill-opacity="0.4"/><circle cx="80.0" cy="413.4" r="0.8" fill-opacity="0.9"/><circle cx="80.1" cy="413.4" r="1.0" fill-opacity="0.4"/><circle cx="78.2" cy="414.9" r="1.1" fill-opacity="0.7"/><circle cx="81.0" cy="413.1" r="0.9" fill-opacity="0.8"/><circle cx="77.7" cy="414.0" r="0.7" fill-opacity="0.5"/><circle cx="81.7" cy="412.2" r="1.0" fill-opacity="0.8"/><circle cx="108.5" cy="427.9" r="0.9" fill-opacity="0.5"/><circle cx="108.9" cy="425.7" r="0.9" fill-opacity="0.7"/><circle cx="110.8" cy="430.1" r="0.8" fill-opacity="0.4"/><circle cx="110.3" cy="423.1" r="1.0" fill-opacity="0.8"/><circle cx="105.9" cy="422.7" r="1.1" fill-opacity="0.7"/><circle cx="108.3" cy="424.7" r="0.7" fill-opacity="0.7"/><circle cx="110.8" cy="429.9" r="0.8" fill-opacity="0.9"/><circle cx="108.3" cy="423.2" r="0.8" fill-opacity="0.8"/><circle cx="109.5" cy="429.2" r="1.0" fill-opacity="0.6"/><circle cx="113.0" cy="427.9" r="1.0" fill-opacity="0.4"/><circle cx="112.0" cy="425.6" r="0.8" fill-opacity="0.8"/><circle cx="109.5" cy="420.8" r="0.7" fill-opacity="0.7"/><circle cx="115.3" cy="426.6" r="1.2" fill-opacity="0.9"/><circle cx="109.5" cy="430.6" r="1.1" fill-opacity="0.9"/><circle cx="109.9" cy="431.2" r="0.9" fill-opacity="0.6"/><circle cx="109.5" cy="423.2" r="0.8" fill-opacity="0.4"/><circle cx="103.3" cy="427.0" r="0.7" fill-opacity="0.4"/><circle cx="108.5" cy="422.8" r="0.8" fill-opacity="0.6"/><circle cx="111.6" cy="426.1" r="0.9" fill-opacity="0.7"/><circle cx="108.0" cy="424.2" r="1.1" fill-opacity="0.6"/><circle cx="106.8" cy="427.0" r="0.9" fill-opacity="0.8"/><circle cx="111.6" cy="426.5" r="0.9" fill-opacity="0.8"/><circle cx="108.5" cy="423.4" r="1.2" fill-opacity="0.9"/><circle cx="104.9" cy="424.2" r="0.8" fill-opacity="0.9"/><circle cx="109.8" cy="431.5" r="1.2" fill-opacity="0.5"/><circle cx="108.0" cy="428.7" r="0.8" fill-opacity="0.8"/><circle cx="110.0" cy="433.5" r="1.0" fill-opacity="0.5"/><circle cx="110.5" cy="430.9" r="1.2" fill-opacity="0.7"/><circle cx="116.1" cy="431.7" r="1.2" fill-opacity="0.7"/><circle cx="113.2" cy="431.6" r="1.1" fill-opacity="0.5"/><circle cx="114.6" cy="432.6" r="1.1" fill-opacity="0.6"/><circle cx="112.1" cy="433.2" r="0.8" fill-opacity="0.6"/><circle cx="108.6" cy="434.4" r="1.0" fill-opacity="0.9"/><circle cx="113.8" cy="434.5" r="1.1" fill-opacity="0.9"/><circle cx="113.5" cy="436.6" r="1.1" fill-opacity="0.6"/><circle cx="108.7" cy="433.4" r="0.8" fill-opacity="0.9"/><circle cx="109.6" cy="435.7" r="0.9" fill-opacity="0.9"/><circle cx="108.1" cy="431.9" r="1.0" fill-opacity="0.8"/><circle cx="110.3" cy="433.1" r="1.0" fill-opacity="0.5"/><circle cx="112.1" cy="434.9" r="0.9" fill-opacity="0.8"/><circle cx="23.1" cy="461.6" r="1.2" fill-opacity="0.6"/><circle cx="25.3" cy="462.8" r="1.2" fill-opacity="0.8"/><circle cx="22.2" cy="460.8" r="0.7" fill-opacity="0.6"/><circle cx="24.2" cy="460.9" r="0.9" fill-opacity="0.5"/><circle cx="26.6" cy="463.1" r="0.8" fill-opacity="0.5"/><circle cx="24.8" cy="458.5" r="1.1" fill-opacity="0.7"/><circle cx="29.3" cy="464.5" r="0.9" fill-opacity="0.6"/><circle cx="29.1" cy="460.6" r="1.0" fill-opacity="0.6"/><circle cx="29.1" cy="463.6" r="0.7" fill-opacity="0.5"/><circle cx="23.9" cy="461.6" r="1.1" fill-opacity="0.8"/><circle cx="26.0" cy="463.2" r="1.0" fill-opacity="0.6"/><circle cx="24.9" cy="461.5" r="1.0" fill-opacity="0.4"/><circle cx="28.0" cy="461.1" r="1.0" fill-opacity="0.9"/><circle cx="27.4" cy="460.9" r="1.0" fill-opacity="0.7"/><circle cx="25.9" cy="461.4" r="1.0" fill-opacity="0.8"/><circle cx="23.2" cy="461.1" r="0.9" fill-opacity="0.5"/><circle cx="24.7" cy="461.0" r="1.0" fill-opacity="0.8"/><circle cx="30.2" cy="462.1" r="1.2" fill-opacity="0.4"/><circle cx="27.6" cy="463.1" r="1.0" fill-opacity="0.9"/><circle cx="25.8" cy="460.5" r="0.7" fill-opacity="0.8"/><circle cx="26.3" cy="464.2" r="1.0" fill-opacity="0.9"/><circle cx="30.2" cy="461.9" r="1.0" fill-opacity="0.8"/><circle cx="29.2" cy="466.0" r="1.1" fill-opacity="0.5"/><circle cx="33.3" cy="464.8" r="0.7" fill-opacity="0.8"/><circle cx="36.3" cy="464.7" r="0.8" fill-opacity="0.5"/><circle cx="40.1" cy="464.3" r="0.8" fill-opacity="0.9"/><circle cx="36.8" cy="465.0" r="1.1" fill-opacity="0.7"/><circle cx="38.3" cy="467.4" r="1.1" fill-opacity="0.6"/><circle cx="33.2" cy="462.6" r="0.8" fill-opacity="0.7"/><circle cx="36.9" cy="463.4" r="0.8" fill-opacity="0.4"/><circle cx="32.0" cy="463.3" r="1.1" fill-opacity="0.4"/><circle cx="40.0" cy="464.9" r="1.0" fill-opacity="0.5"/><circle cx="35.6" cy="468.2" r="0.8" fill-opacity="0.6"/><circle cx="29.8" cy="467.1" r="1.1" fill-opacity="0.8"/><circle cx="33.7" cy="460.7" r="0.7" fill-opacity="0.6"/><circle cx="36.8" cy="468.7" r="1.0" fill-opacity="0.9"/><circle cx="32.1" cy="464.4" r="0.9" fill-opacity="0.8"/><circle cx="37.2" cy="464.8" r="1.1" fill-opacity="0.8"/><circle cx="40.5" cy="463.3" r="0.8" fill-opacity="0.5"/><circle cx="32.0" cy="466.1" r="1.1" fill-opacity="0.5"/><circle cx="32.2" cy="462.9" r="0.9" fill-opacity="0.6"/><circle cx="31.3" cy="463.3" r="1.0" fill-opacity="0.9"/><circle cx="34.6" cy="465.0" r="0.8" fill-opacity="0.4"/><circle cx="32.5" cy="462.4" r="1.1" fill-opacity="0.5"/><circle cx="37.0" cy="468.4" r="1.0" fill-opacity="0.5"/><circle cx="33.7" cy="464.4" r="1.1" fill-opacity="0.7"/><circle cx="34.0" cy="464.5" r="1.1" fill-opacity="0.6"/><circle cx="30.6" cy="466.7" r="0.8" fill-opacity="0.8"/><circle cx="33.0" cy="468.3" r="0.8" fill-opacity="0.4"/><circle cx="39.0" cy="466.5" r="1.2" fill-opacity="0.9"/><circle cx="41.4" cy="466.5" r="0.7" fill-opacity="0.6"/><circle cx="45.6" cy="470.0" r="0.7" fill-opacity="0.4"/><circle cx="45.4" cy="464.6" r="1.0" fill-opacity="0.8"/><circle cx="49.5" cy="466.7" r="1.2" fill-opacity="0.9"/><circle cx="43.4" cy="468.2" r="0.9" fill-opacity="0.4"/><circle cx="44.6" cy="465.9" r="1.0" fill-opacity="0.7"/><circle cx="43.4" cy="465.2" r="0.8" fill-opacity="0.5"/><circle cx="43.9" cy="468.7" r="0.8" fill-opacity="0.9"/><circle cx="50.1" cy="469.2" r="0.9" fill-opacity="0.9"/><circle cx="46.7" cy="467.4" r="1.0" fill-opacity="0.8"/><circle cx="45.7" cy="469.6" r="1.1" fill-opacity="0.5"/><circle cx="42.9" cy="465.1" r="1.1" fill-opacity="0.9"/><circle cx="42.2" cy="465.9" r="0.7" fill-opacity="0.6"/><circle cx="43.7" cy="465.2" r="0.8" fill-opacity="0.7"/><circle cx="40.8" cy="468.5" r="1.1" fill-opacity="0.9"/><circle cx="46.7" cy="464.4" r="0.9" fill-opacity="0.9"/><circle cx="42.9" cy="464.8" r="1.0" fill-opacity="0.8"/><circle cx="48.9" cy="467.9" r="0.9" fill-opacity="0.7"/><circle cx="47.5" cy="468.8" r="1.0" fill-opacity="0.8"/><circle cx="47.7" cy="469.5" r="1.0" fill-opacity="0.6"/><circle cx="48.1" cy="468.1" r="0.8" fill-opacity="0.6"/><circle cx="51.2" cy="466.2" r="0.8" fill-opacity="0.7"/><circle cx="42.4" cy="465.8" r="1.2" fill-opacity="0.9"/><circle cx="44.2" cy="466.0" r="0.8" fill-opacity="0.6"/><circle cx="42.0" cy="467.0" r="1.0" fill-opacity="0.6"/><circle cx="45.1" cy="465.8" r="0.7" fill-opacity="0.5"/><circle cx="46.7" cy="465.9" r="1.1" fill-opacity="0.6"/><circle cx="53.6" cy="470.6" r="0.7" fill-opacity="0.7"/><circle cx="54.2" cy="467.4" r="0.8" fill-opacity="0.9"/><circle cx="50.9" cy="470.3" r="1.1" fill-opacity="0.4"/><circle cx="52.4" cy="471.4" r="0.9" fill-opacity="0.5"/><circle cx="54.0" cy="472.0" r="0.8" fill-opacity="0.8"/><circle cx="54.3" cy="471.9" r="1.1" fill-opacity="0.9"/><circle cx="55.4" cy="471.4" r="0.9" fill-opacity="0.7"/><circle cx="52.6" cy="472.7" r="1.0" fill-opacity="0.5"/><circle cx="52.6" cy="469.2" r="1.2" fill-opacity="0.5"/><circle cx="55.7" cy="471.8" r="1.2" fill-opacity="0.5"/><circle cx="50.6" cy="472.5" r="1.1" fill-opacity="0.7"/><circle cx="54.2" cy="468.4" r="0.7" fill-opacity="0.8"/><circle cx="52.3" cy="468.6" r="1.0" fill-opacity="0.5"/><circle cx="49.2" cy="472.7" r="1.2" fill-opacity="0.9"/><circle cx="52.4" cy="469.6" r="1.0" fill-opacity="0.4"/></g>
<g fill="#ff1c1c" filter="url(#bl39)"><circle cx="145.4" cy="413.2" r="0.8" fill-opacity="0.4"/><circle cx="187.5" cy="438.9" r="1.0" fill-opacity="0.6"/><circle cx="152.9" cy="427.1" r="1.0" fill-opacity="0.6"/><circle cx="155.8" cy="430.3" r="0.7" fill-opacity="0.4"/><circle cx="167.3" cy="425.7" r="1.0" fill-opacity="0.9"/><circle cx="155.9" cy="417.1" r="0.7" fill-opacity="0.7"/><circle cx="172.6" cy="425.3" r="0.8" fill-opacity="0.9"/><circle cx="176.1" cy="430.4" r="0.9" fill-opacity="1.0"/><circle cx="155.6" cy="413.1" r="1.1" fill-opacity="0.8"/><circle cx="145.2" cy="421.7" r="0.9" fill-opacity="0.9"/><circle cx="162.7" cy="418.0" r="0.7" fill-opacity="0.5"/><circle cx="136.3" cy="417.7" r="0.7" fill-opacity="0.9"/><circle cx="177.7" cy="432.1" r="0.6" fill-opacity="0.9"/><circle cx="148.2" cy="421.2" r="0.6" fill-opacity="0.7"/><circle cx="188.0" cy="442.0" r="0.7" fill-opacity="0.6"/><circle cx="164.4" cy="439.7" r="0.6" fill-opacity="1.0"/><circle cx="157.2" cy="441.7" r="0.7" fill-opacity="0.8"/><circle cx="151.1" cy="415.3" r="0.7" fill-opacity="0.6"/><circle cx="144.1" cy="409.4" r="1.0" fill-opacity="1.0"/><circle cx="183.0" cy="451.8" r="1.1" fill-opacity="0.6"/><circle cx="138.3" cy="416.4" r="1.0" fill-opacity="1.0"/><circle cx="171.9" cy="447.1" r="0.9" fill-opacity="0.5"/><circle cx="153.7" cy="422.0" r="1.2" fill-opacity="0.5"/><circle cx="153.4" cy="412.3" r="1.1" fill-opacity="0.9"/><circle cx="154.4" cy="416.2" r="1.1" fill-opacity="1.0"/><circle cx="159.4" cy="426.0" r="1.1" fill-opacity="0.8"/><circle cx="165.4" cy="418.5" r="0.7" fill-opacity="0.7"/><circle cx="148.7" cy="423.6" r="1.1" fill-opacity="0.5"/><circle cx="154.8" cy="427.5" r="1.0" fill-opacity="0.6"/><circle cx="139.3" cy="415.1" r="0.8" fill-opacity="0.8"/><circle cx="169.7" cy="423.2" r="0.6" fill-opacity="0.5"/><circle cx="154.7" cy="428.4" r="0.7" fill-opacity="0.9"/><circle cx="144.9" cy="428.8" r="1.0" fill-opacity="0.7"/><circle cx="142.2" cy="427.0" r="0.8" fill-opacity="0.7"/><circle cx="140.3" cy="426.9" r="1.2" fill-opacity="0.7"/><circle cx="144.9" cy="411.2" r="0.7" fill-opacity="0.5"/><circle cx="149.6" cy="430.9" r="1.2" fill-opacity="1.0"/><circle cx="176.4" cy="438.3" r="0.8" fill-opacity="0.6"/><circle cx="137.4" cy="413.3" r="0.6" fill-opacity="1.0"/><circle cx="157.8" cy="422.4" r="0.6" fill-opacity="1.0"/><circle cx="161.8" cy="415.7" r="0.9" fill-opacity="0.8"/><circle cx="141.1" cy="420.9" r="0.7" fill-opacity="0.9"/><circle cx="182.3" cy="441.2" r="0.6" fill-opacity="0.6"/><circle cx="147.7" cy="416.9" r="0.8" fill-opacity="0.5"/><circle cx="135.8" cy="414.8" r="1.1" fill-opacity="0.7"/><circle cx="186.1" cy="452.1" r="0.7" fill-opacity="0.5"/><circle cx="155.4" cy="412.7" r="0.6" fill-opacity="0.9"/><circle cx="155.6" cy="429.3" r="0.9" fill-opacity="0.6"/><circle cx="155.1" cy="420.7" r="0.8" fill-opacity="0.7"/><circle cx="152.1" cy="419.5" r="1.0" fill-opacity="0.9"/><circle cx="150.9" cy="410.4" r="0.9" fill-opacity="0.5"/><circle cx="146.3" cy="418.2" r="0.8" fill-opacity="0.5"/><circle cx="162.3" cy="435.0" r="1.2" fill-opacity="0.4"/><circle cx="165.3" cy="419.7" r="1.2" fill-opacity="0.6"/><circle cx="137.0" cy="415.3" r="0.7" fill-opacity="0.9"/><circle cx="164.7" cy="419.4" r="1.1" fill-opacity="0.8"/><circle cx="165.0" cy="438.4" r="1.2" fill-opacity="0.9"/><circle cx="157.1" cy="412.3" r="1.1" fill-opacity="0.6"/><circle cx="140.0" cy="422.8" r="1.0" fill-opacity="0.7"/><circle cx="185.6" cy="453.8" r="1.1" fill-opacity="0.4"/><circle cx="150.4" cy="426.5" r="0.7" fill-opacity="0.8"/><circle cx="148.5" cy="430.2" r="1.0" fill-opacity="0.8"/><circle cx="139.6" cy="426.0" r="1.0" fill-opacity="0.8"/><circle cx="151.2" cy="427.9" r="1.0" fill-opacity="0.7"/><circle cx="158.8" cy="432.2" r="0.8" fill-opacity="0.9"/><circle cx="145.3" cy="418.1" r="1.1" fill-opacity="0.9"/><circle cx="151.5" cy="416.7" r="0.6" fill-opacity="0.9"/><circle cx="147.9" cy="426.3" r="1.0" fill-opacity="0.9"/><circle cx="150.7" cy="423.6" r="0.7" fill-opacity="0.9"/><circle cx="161.2" cy="418.3" r="0.7" fill-opacity="0.9"/><circle cx="170.4" cy="437.3" r="0.6" fill-opacity="0.8"/><circle cx="139.9" cy="407.8" r="0.9" fill-opacity="0.7"/><circle cx="147.8" cy="433.5" r="1.1" fill-opacity="0.6"/><circle cx="152.4" cy="431.1" r="0.7" fill-opacity="0.5"/><circle cx="188.1" cy="459.6" r="1.1" fill-opacity="0.4"/><circle cx="140.5" cy="411.5" r="1.2" fill-opacity="1.0"/><circle cx="154.0" cy="430.4" r="0.8" fill-opacity="0.9"/><circle cx="161.3" cy="422.5" r="0.9" fill-opacity="0.5"/><circle cx="189.1" cy="448.4" r="0.7" fill-opacity="0.9"/><circle cx="172.6" cy="450.1" r="0.8" fill-opacity="0.6"/><circle cx="155.4" cy="432.9" r="0.7" fill-opacity="1.0"/><circle cx="151.4" cy="429.3" r="0.6" fill-opacity="0.8"/><circle cx="186.8" cy="452.8" r="1.0" fill-opacity="0.5"/><circle cx="177.6" cy="427.9" r="0.9" fill-opacity="0.5"/><circle cx="150.2" cy="427.0" r="1.1" fill-opacity="0.5"/><circle cx="156.8" cy="413.0" r="1.0" fill-opacity="0.5"/><circle cx="179.4" cy="453.6" r="0.9" fill-opacity="0.6"/><circle cx="182.3" cy="449.0" r="1.1" fill-opacity="0.5"/><circle cx="138.4" cy="419.9" r="1.0" fill-opacity="0.5"/><circle cx="186.1" cy="452.7" r="0.6" fill-opacity="0.7"/><circle cx="189.3" cy="449.6" r="0.9" fill-opacity="0.7"/><circle cx="162.2" cy="445.6" r="0.8" fill-opacity="0.5"/><circle cx="160.2" cy="433.2" r="0.9" fill-opacity="0.8"/><circle cx="149.0" cy="431.1" r="0.8" fill-opacity="0.7"/><circle cx="143.8" cy="413.7" r="1.1" fill-opacity="0.7"/><circle cx="147.6" cy="427.7" r="0.7" fill-opacity="0.6"/><circle cx="142.6" cy="417.0" r="1.0" fill-opacity="0.5"/><circle cx="137.6" cy="417.6" r="1.1" fill-opacity="1.0"/><circle cx="152.3" cy="432.7" r="1.2" fill-opacity="0.8"/><circle cx="152.8" cy="437.2" r="1.1" fill-opacity="0.9"/><circle cx="148.5" cy="426.5" r="1.2" fill-opacity="0.8"/><circle cx="174.5" cy="449.3" r="1.0" fill-opacity="0.8"/><circle cx="146.0" cy="434.9" r="1.0" fill-opacity="0.7"/><circle cx="154.2" cy="422.0" r="0.6" fill-opacity="0.7"/><circle cx="142.5" cy="421.3" r="0.8" fill-opacity="0.8"/><circle cx="155.8" cy="413.9" r="1.1" fill-opacity="0.7"/><circle cx="157.3" cy="422.6" r="1.1" fill-opacity="0.6"/><circle cx="162.2" cy="428.5" r="1.1" fill-opacity="0.8"/><circle cx="150.4" cy="424.5" r="0.7" fill-opacity="0.9"/><circle cx="152.8" cy="428.1" r="0.7" fill-opacity="0.4"/><circle cx="157.1" cy="421.2" r="1.2" fill-opacity="0.4"/><circle cx="186.5" cy="455.6" r="1.2" fill-opacity="1.0"/><circle cx="144.9" cy="409.6" r="0.7" fill-opacity="0.6"/><circle cx="178.3" cy="441.9" r="1.0" fill-opacity="0.9"/><circle cx="146.0" cy="419.8" r="0.7" fill-opacity="0.5"/><circle cx="156.0" cy="426.8" r="0.7" fill-opacity="0.6"/><circle cx="187.7" cy="458.6" r="0.7" fill-opacity="0.8"/><circle cx="155.2" cy="427.2" r="0.9" fill-opacity="0.4"/><circle cx="146.3" cy="413.9" r="0.7" fill-opacity="0.7"/><circle cx="151.7" cy="411.1" r="0.9" fill-opacity="0.7"/><circle cx="168.7" cy="424.5" r="0.8" fill-opacity="0.6"/><circle cx="145.0" cy="416.0" r="1.1" fill-opacity="0.8"/><circle cx="138.6" cy="421.9" r="0.6" fill-opacity="0.9"/><circle cx="160.5" cy="431.0" r="0.6" fill-opacity="0.9"/><circle cx="149.8" cy="430.5" r="0.9" fill-opacity="0.8"/><circle cx="157.6" cy="422.1" r="1.1" fill-opacity="0.7"/><circle cx="142.7" cy="412.0" r="0.8" fill-opacity="1.0"/><circle cx="149.3" cy="411.1" r="1.0" fill-opacity="0.9"/><circle cx="142.6" cy="430.3" r="1.0" fill-opacity="0.9"/><circle cx="161.0" cy="422.6" r="0.9" fill-opacity="0.9"/><circle cx="146.0" cy="417.7" r="1.1" fill-opacity="0.6"/><circle cx="147.2" cy="408.6" r="0.7" fill-opacity="1.0"/><circle cx="144.8" cy="412.8" r="0.6" fill-opacity="0.9"/><circle cx="188.1" cy="439.4" r="1.0" fill-opacity="0.5"/><circle cx="157.4" cy="421.5" r="1.1" fill-opacity="0.4"/><circle cx="149.6" cy="421.6" r="1.1" fill-opacity="0.5"/><circle cx="153.6" cy="412.3" r="1.1" fill-opacity="0.9"/><circle cx="164.2" cy="423.7" r="0.9" fill-opacity="0.9"/><circle cx="158.1" cy="437.5" r="1.2" fill-opacity="0.9"/><circle cx="170.9" cy="434.9" r="0.8" fill-opacity="0.5"/><circle cx="141.3" cy="426.8" r="0.8" fill-opacity="0.6"/><circle cx="150.4" cy="427.7" r="0.9" fill-opacity="0.5"/><circle cx="161.2" cy="440.1" r="0.9" fill-opacity="0.7"/><circle cx="188.4" cy="455.5" r="1.0" fill-opacity="0.7"/><circle cx="158.6" cy="425.0" r="1.1" fill-opacity="0.8"/><circle cx="173.6" cy="446.6" r="0.9" fill-opacity="0.6"/><circle cx="173.5" cy="440.5" r="1.2" fill-opacity="0.8"/><circle cx="153.5" cy="418.6" r="0.6" fill-opacity="0.7"/><circle cx="140.1" cy="413.7" r="1.0" fill-opacity="0.9"/><circle cx="181.8" cy="433.1" r="1.0" fill-opacity="0.8"/><circle cx="146.6" cy="430.7" r="0.6" fill-opacity="0.5"/><circle cx="146.6" cy="434.3" r="0.9" fill-opacity="0.8"/><circle cx="145.2" cy="428.9" r="1.1" fill-opacity="0.6"/><circle cx="161.6" cy="425.5" r="1.0" fill-opacity="0.6"/><circle cx="137.3" cy="410.1" r="0.9" fill-opacity="0.9"/><circle cx="166.4" cy="422.3" r="0.9" fill-opacity="0.6"/><circle cx="175.9" cy="441.1" r="0.8" fill-opacity="0.5"/><circle cx="184.0" cy="454.3" r="0.8" fill-opacity="0.7"/><circle cx="164.0" cy="416.9" r="0.7" fill-opacity="0.8"/><circle cx="143.6" cy="422.3" r="1.1" fill-opacity="1.0"/><circle cx="185.9" cy="441.5" r="1.1" fill-opacity="0.9"/><circle cx="136.3" cy="415.3" r="0.8" fill-opacity="0.9"/><circle cx="189.3" cy="442.1" r="0.8" fill-opacity="0.6"/><circle cx="151.3" cy="414.0" r="0.7" fill-opacity="0.9"/><circle cx="158.0" cy="417.9" r="0.8" fill-opacity="0.7"/><circle cx="155.3" cy="420.1" r="1.1" fill-opacity="0.6"/><circle cx="190.0" cy="459.9" r="0.7" fill-opacity="0.5"/><circle cx="144.3" cy="412.5" r="0.9" fill-opacity="0.6"/><circle cx="147.7" cy="419.1" r="0.8" fill-opacity="0.9"/><circle cx="182.0" cy="443.8" r="1.1" fill-opacity="0.5"/><circle cx="179.5" cy="434.9" r="0.6" fill-opacity="1.0"/><circle cx="169.7" cy="448.7" r="1.0" fill-opacity="0.7"/><circle cx="142.1" cy="423.5" r="0.6" fill-opacity="0.5"/><circle cx="187.7" cy="449.6" r="0.9" fill-opacity="0.8"/><circle cx="142.0" cy="411.1" r="1.1" fill-opacity="0.4"/><circle cx="142.5" cy="419.4" r="0.8" fill-opacity="0.6"/><circle cx="168.5" cy="443.7" r="0.6" fill-opacity="0.4"/><circle cx="181.3" cy="446.9" r="0.9" fill-opacity="0.7"/><circle cx="183.2" cy="453.8" r="1.2" fill-opacity="0.7"/><circle cx="174.8" cy="432.9" r="0.6" fill-opacity="0.6"/><circle cx="178.9" cy="433.7" r="0.7" fill-opacity="0.6"/><circle cx="149.3" cy="408.8" r="1.0" fill-opacity="0.9"/><circle cx="175.6" cy="430.2" r="1.0" fill-opacity="0.9"/><circle cx="190.8" cy="453.9" r="1.1" fill-opacity="0.7"/><circle cx="186.2" cy="445.3" r="1.1" fill-opacity="0.7"/><circle cx="181.0" cy="451.2" r="1.1" fill-opacity="0.9"/><circle cx="146.3" cy="433.1" r="0.9" fill-opacity="0.9"/><circle cx="165.2" cy="433.9" r="0.7" fill-opacity="0.5"/><circle cx="148.3" cy="414.6" r="1.1" fill-opacity="1.0"/><circle cx="179.8" cy="453.5" r="1.0" fill-opacity="0.6"/><circle cx="154.5" cy="416.0" r="0.7" fill-opacity="0.4"/><circle cx="167.2" cy="436.7" r="0.8" fill-opacity="0.9"/><circle cx="148.3" cy="432.0" r="0.7" fill-opacity="0.8"/><circle cx="155.9" cy="415.5" r="1.1" fill-opacity="0.8"/><circle cx="147.0" cy="424.9" r="0.9" fill-opacity="0.8"/><circle cx="153.9" cy="426.1" r="0.8" fill-opacity="0.8"/><circle cx="153.8" cy="433.7" r="1.0" fill-opacity="0.5"/><circle cx="175.0" cy="429.3" r="0.8" fill-opacity="0.5"/><circle cx="155.4" cy="433.3" r="0.9" fill-opacity="0.8"/><circle cx="161.5" cy="419.7" r="0.8" fill-opacity="0.6"/><circle cx="151.8" cy="434.0" r="1.1" fill-opacity="1.0"/><circle cx="152.2" cy="420.3" r="0.9" fill-opacity="0.7"/><circle cx="162.5" cy="420.6" r="0.6" fill-opacity="0.4"/><circle cx="151.1" cy="418.1" r="1.0" fill-opacity="0.7"/><circle cx="174.6" cy="433.1" r="1.1" fill-opacity="0.6"/><circle cx="161.7" cy="416.7" r="1.1" fill-opacity="0.6"/><circle cx="149.5" cy="413.5" r="1.2" fill-opacity="0.7"/><circle cx="145.1" cy="429.9" r="0.8" fill-opacity="0.5"/><circle cx="145.2" cy="422.1" r="1.0" fill-opacity="0.5"/><circle cx="152.6" cy="413.1" r="0.8" fill-opacity="0.9"/><circle cx="166.3" cy="429.1" r="1.1" fill-opacity="0.8"/><circle cx="162.8" cy="434.3" r="0.7" fill-opacity="0.9"/><circle cx="163.3" cy="442.8" r="0.6" fill-opacity="0.5"/><circle cx="154.8" cy="423.0" r="1.0" fill-opacity="1.0"/><circle cx="153.2" cy="426.9" r="1.0" fill-opacity="0.9"/><circle cx="178.5" cy="429.7" r="0.8" fill-opacity="0.9"/><circle cx="152.0" cy="439.5" r="1.0" fill-opacity="0.8"/><circle cx="145.6" cy="419.2" r="1.0" fill-opacity="0.9"/><circle cx="186.3" cy="439.8" r="0.8" fill-opacity="0.8"/><circle cx="160.2" cy="426.4" r="0.6" fill-opacity="0.4"/><circle cx="159.6" cy="427.0" r="0.8" fill-opacity="0.7"/><circle cx="139.9" cy="418.6" r="0.9" fill-opacity="0.4"/><circle cx="153.5" cy="426.6" r="0.9" fill-opacity="0.9"/><circle cx="152.1" cy="430.5" r="1.1" fill-opacity="0.4"/><circle cx="147.6" cy="419.9" r="0.7" fill-opacity="0.5"/><circle cx="160.4" cy="415.6" r="0.8" fill-opacity="0.4"/><circle cx="146.5" cy="433.3" r="1.1" fill-opacity="0.8"/><circle cx="168.5" cy="445.1" r="0.6" fill-opacity="0.7"/><circle cx="167.2" cy="422.0" r="0.7" fill-opacity="0.7"/><circle cx="173.4" cy="433.4" r="1.1" fill-opacity="0.5"/><circle cx="217.6" cy="429.8" r="0.8" fill-opacity="0.8"/><circle cx="203.4" cy="421.0" r="0.7" fill-opacity="0.4"/><circle cx="223.4" cy="431.2" r="1.0" fill-opacity="0.6"/><circle cx="215.0" cy="437.1" r="0.7" fill-opacity="0.7"/><circle cx="217.4" cy="433.1" r="1.1" fill-opacity="0.9"/><circle cx="203.0" cy="422.7" r="0.7" fill-opacity="0.9"/><circle cx="219.5" cy="425.3" r="0.9" fill-opacity="0.5"/><circle cx="209.8" cy="426.3" r="0.6" fill-opacity="0.5"/><circle cx="219.4" cy="434.2" r="0.9" fill-opacity="0.8"/><circle cx="194.0" cy="409.5" r="0.9" fill-opacity="0.9"/><circle cx="223.5" cy="435.8" r="1.1" fill-opacity="0.4"/><circle cx="215.6" cy="428.4" r="0.7" fill-opacity="0.7"/><circle cx="205.6" cy="440.8" r="1.0" fill-opacity="0.9"/><circle cx="192.7" cy="414.7" r="1.0" fill-opacity="0.5"/><circle cx="218.4" cy="429.1" r="0.8" fill-opacity="0.6"/><circle cx="208.0" cy="423.8" r="1.0" fill-opacity="1.0"/><circle cx="223.8" cy="433.1" r="1.1" fill-opacity="0.8"/><circle cx="202.9" cy="436.2" r="1.1" fill-opacity="0.7"/><circle cx="206.0" cy="422.8" r="0.7" fill-opacity="0.9"/><circle cx="209.1" cy="424.9" r="1.1" fill-opacity="0.6"/><circle cx="199.4" cy="415.3" r="1.0" fill-opacity="0.5"/><circle cx="211.2" cy="429.0" r="0.8" fill-opacity="0.5"/><circle cx="215.2" cy="426.4" r="0.9" fill-opacity="0.8"/><circle cx="200.0" cy="425.2" r="1.2" fill-opacity="0.5"/><circle cx="217.6" cy="421.4" r="0.7" fill-opacity="0.5"/><circle cx="221.0" cy="441.4" r="0.7" fill-opacity="0.7"/><circle cx="184.3" cy="414.1" r="1.1" fill-opacity="0.8"/><circle cx="193.3" cy="415.1" r="0.8" fill-opacity="0.8"/><circle cx="204.8" cy="428.6" r="0.8" fill-opacity="0.6"/><circle cx="212.3" cy="430.3" r="1.1" fill-opacity="0.7"/><circle cx="215.5" cy="419.6" r="1.0" fill-opacity="0.4"/><circle cx="223.3" cy="438.1" r="0.9" fill-opacity="0.5"/><circle cx="210.3" cy="434.5" r="0.9" fill-opacity="0.8"/><circle cx="206.0" cy="419.0" r="0.6" fill-opacity="0.9"/><circle cx="218.4" cy="432.7" r="1.0" fill-opacity="0.7"/><circle cx="204.8" cy="439.5" r="0.7" fill-opacity="0.6"/><circle cx="198.6" cy="416.9" r="0.8" fill-opacity="0.4"/><circle cx="189.1" cy="419.5" r="0.8" fill-opacity="0.4"/><circle cx="211.1" cy="437.7" r="1.2" fill-opacity="0.9"/><circle cx="193.8" cy="423.6" r="0.9" fill-opacity="0.6"/><circle cx="198.3" cy="418.3" r="0.9" fill-opacity="0.8"/><circle cx="204.6" cy="440.3" r="0.7" fill-opacity="0.8"/><circle cx="222.3" cy="425.8" r="0.7" fill-opacity="0.8"/><circle cx="191.2" cy="425.5" r="0.9" fill-opacity="0.6"/><circle cx="186.0" cy="414.9" r="1.1" fill-opacity="0.8"/><circle cx="195.7" cy="432.6" r="0.9" fill-opacity="0.4"/><circle cx="180.1" cy="413.7" r="0.7" fill-opacity="0.7"/><circle cx="209.3" cy="421.8" r="0.7" fill-opacity="0.7"/><circle cx="189.7" cy="420.3" r="0.6" fill-opacity="0.7"/><circle cx="199.6" cy="420.8" r="0.7" fill-opacity="0.6"/><circle cx="195.6" cy="414.5" r="0.8" fill-opacity="0.6"/><circle cx="208.1" cy="425.1" r="1.1" fill-opacity="0.8"/><circle cx="207.9" cy="442.4" r="1.1" fill-opacity="0.9"/><circle cx="208.7" cy="435.2" r="1.2" fill-opacity="0.5"/><circle cx="190.8" cy="412.9" r="1.1" fill-opacity="0.5"/><circle cx="214.9" cy="428.8" r="0.9" fill-opacity="0.5"/><circle cx="178.6" cy="404.7" r="1.2" fill-opacity="0.6"/><circle cx="183.2" cy="409.5" r="0.8" fill-opacity="0.5"/><circle cx="191.0" cy="416.9" r="1.1" fill-opacity="0.5"/><circle cx="195.7" cy="408.0" r="0.6" fill-opacity="0.7"/><circle cx="216.3" cy="435.0" r="0.9" fill-opacity="0.8"/><circle cx="221.3" cy="443.6" r="0.7" fill-opacity="0.7"/><circle cx="208.1" cy="430.4" r="1.1" fill-opacity="1.0"/><circle cx="212.7" cy="422.3" r="0.7" fill-opacity="0.9"/><circle cx="206.9" cy="429.7" r="0.8" fill-opacity="0.9"/><circle cx="206.2" cy="417.8" r="1.1" fill-opacity="0.5"/><circle cx="200.4" cy="415.3" r="0.6" fill-opacity="0.5"/><circle cx="186.8" cy="424.0" r="1.1" fill-opacity="0.8"/><circle cx="219.0" cy="441.9" r="0.7" fill-opacity="1.0"/><circle cx="224.5" cy="432.3" r="1.1" fill-opacity="0.7"/><circle cx="217.6" cy="431.9" r="0.8" fill-opacity="0.9"/><circle cx="218.2" cy="445.7" r="1.1" fill-opacity="0.9"/><circle cx="199.7" cy="437.6" r="1.1" fill-opacity="0.9"/><circle cx="211.6" cy="437.3" r="0.6" fill-opacity="0.7"/><circle cx="206.2" cy="423.3" r="0.6" fill-opacity="0.9"/><circle cx="194.8" cy="409.9" r="0.8" fill-opacity="0.8"/><circle cx="221.3" cy="435.0" r="1.0" fill-opacity="0.6"/><circle cx="214.2" cy="429.5" r="0.7" fill-opacity="0.6"/><circle cx="205.1" cy="437.1" r="0.9" fill-opacity="1.0"/><circle cx="181.4" cy="407.5" r="1.0" fill-opacity="0.4"/><circle cx="216.9" cy="418.5" r="1.1" fill-opacity="1.0"/><circle cx="203.1" cy="411.5" r="0.6" fill-opacity="0.6"/><circle cx="193.5" cy="405.8" r="1.1" fill-opacity="0.7"/><circle cx="203.3" cy="429.5" r="1.1" fill-opacity="0.7"/><circle cx="201.2" cy="410.2" r="0.6" fill-opacity="0.7"/><circle cx="223.8" cy="430.2" r="1.0" fill-opacity="0.7"/><circle cx="205.5" cy="433.5" r="0.6" fill-opacity="1.0"/><circle cx="189.7" cy="415.2" r="0.8" fill-opacity="1.0"/><circle cx="181.8" cy="413.4" r="0.8" fill-opacity="0.7"/><circle cx="197.1" cy="423.1" r="0.7" fill-opacity="0.9"/><circle cx="201.0" cy="424.6" r="0.9" fill-opacity="0.7"/><circle cx="183.0" cy="414.6" r="1.1" fill-opacity="0.7"/><circle cx="199.2" cy="409.8" r="0.6" fill-opacity="0.8"/><circle cx="213.0" cy="420.0" r="1.0" fill-opacity="0.4"/><circle cx="211.2" cy="424.9" r="1.0" fill-opacity="0.5"/><circle cx="199.8" cy="427.8" r="0.7" fill-opacity="0.6"/><circle cx="211.0" cy="431.8" r="1.1" fill-opacity="0.9"/><circle cx="223.9" cy="434.4" r="1.0" fill-opacity="0.4"/><circle cx="220.2" cy="430.8" r="1.1" fill-opacity="0.6"/><circle cx="215.7" cy="417.6" r="0.7" fill-opacity="0.6"/><circle cx="220.7" cy="440.7" r="0.9" fill-opacity="0.9"/><circle cx="219.3" cy="436.5" r="1.0" fill-opacity="0.6"/><circle cx="204.8" cy="440.7" r="0.8" fill-opacity="0.9"/><circle cx="186.3" cy="409.0" r="0.9" fill-opacity="0.5"/><circle cx="212.0" cy="413.4" r="1.1" fill-opacity="0.6"/><circle cx="198.5" cy="435.9" r="0.8" fill-opacity="0.9"/><circle cx="222.5" cy="428.7" r="0.7" fill-opacity="0.4"/><circle cx="218.6" cy="435.0" r="1.1" fill-opacity="0.8"/><circle cx="215.8" cy="430.6" r="1.0" fill-opacity="1.0"/><circle cx="212.2" cy="444.8" r="0.9" fill-opacity="0.7"/><circle cx="183.2" cy="413.8" r="0.9" fill-opacity="0.8"/><circle cx="197.0" cy="432.1" r="1.0" fill-opacity="0.7"/><circle cx="223.3" cy="434.4" r="0.7" fill-opacity="0.9"/><circle cx="216.3" cy="421.8" r="0.8" fill-opacity="0.7"/><circle cx="184.9" cy="418.9" r="0.7" fill-opacity="0.5"/><circle cx="205.2" cy="418.7" r="0.9" fill-opacity="0.6"/><circle cx="212.9" cy="437.4" r="1.0" fill-opacity="0.6"/><circle cx="187.6" cy="424.3" r="0.9" fill-opacity="0.7"/><circle cx="191.3" cy="429.2" r="1.0" fill-opacity="0.4"/><circle cx="215.2" cy="433.8" r="0.6" fill-opacity="1.0"/><circle cx="219.1" cy="433.5" r="0.9" fill-opacity="0.8"/><circle cx="212.8" cy="422.0" r="1.1" fill-opacity="1.0"/><circle cx="219.1" cy="433.8" r="0.9" fill-opacity="0.5"/><circle cx="222.6" cy="434.5" r="0.6" fill-opacity="0.5"/><circle cx="213.7" cy="416.0" r="1.1" fill-opacity="1.0"/><circle cx="182.8" cy="406.5" r="1.2" fill-opacity="0.8"/><circle cx="192.9" cy="413.6" r="0.7" fill-opacity="0.9"/><circle cx="222.5" cy="441.5" r="0.6" fill-opacity="0.8"/><circle cx="203.6" cy="412.3" r="1.0" fill-opacity="0.9"/><circle cx="186.8" cy="408.3" r="1.0" fill-opacity="0.6"/><circle cx="212.9" cy="430.1" r="0.9" fill-opacity="1.0"/><circle cx="190.3" cy="421.3" r="1.1" fill-opacity="0.7"/><circle cx="195.8" cy="429.4" r="1.2" fill-opacity="1.0"/><circle cx="203.8" cy="435.3" r="0.7" fill-opacity="0.9"/><circle cx="205.3" cy="425.1" r="1.0" fill-opacity="0.9"/><circle cx="196.4" cy="413.5" r="1.1" fill-opacity="0.9"/><circle cx="205.2" cy="418.4" r="1.1" fill-opacity="1.0"/><circle cx="209.6" cy="431.4" r="1.2" fill-opacity="0.5"/><circle cx="189.7" cy="414.5" r="1.0" fill-opacity="0.7"/><circle cx="201.4" cy="417.7" r="0.7" fill-opacity="0.8"/><circle cx="219.7" cy="425.4" r="1.1" fill-opacity="0.9"/><circle cx="203.7" cy="417.0" r="1.0" fill-opacity="0.9"/><circle cx="224.1" cy="430.2" r="0.9" fill-opacity="0.6"/><circle cx="211.2" cy="426.6" r="1.1" fill-opacity="0.8"/><circle cx="212.0" cy="413.7" r="1.0" fill-opacity="0.5"/><circle cx="190.3" cy="406.7" r="0.7" fill-opacity="0.8"/><circle cx="208.7" cy="424.1" r="0.9" fill-opacity="0.7"/><circle cx="206.7" cy="441.9" r="1.0" fill-opacity="0.9"/><circle cx="207.6" cy="442.4" r="0.9" fill-opacity="0.8"/><circle cx="209.6" cy="412.9" r="1.1" fill-opacity="0.6"/><circle cx="188.7" cy="408.7" r="0.7" fill-opacity="0.8"/><circle cx="187.2" cy="419.6" r="0.6" fill-opacity="0.8"/><circle cx="217.6" cy="426.9" r="0.8" fill-opacity="0.7"/><circle cx="191.7" cy="419.8" r="0.7" fill-opacity="0.7"/><circle cx="208.2" cy="438.8" r="0.7" fill-opacity="0.7"/><circle cx="206.9" cy="424.3" r="1.1" fill-opacity="0.9"/><circle cx="181.8" cy="408.3" r="0.7" fill-opacity="0.7"/><circle cx="181.6" cy="416.9" r="1.1" fill-opacity="0.8"/><circle cx="188.8" cy="418.1" r="1.0" fill-opacity="0.8"/><circle cx="193.3" cy="405.3" r="0.9" fill-opacity="0.8"/><circle cx="191.8" cy="425.5" r="1.0" fill-opacity="0.7"/><circle cx="206.9" cy="429.9" r="1.1" fill-opacity="0.8"/><circle cx="187.4" cy="403.3" r="0.7" fill-opacity="0.6"/><circle cx="203.0" cy="434.5" r="1.1" fill-opacity="0.6"/><circle cx="216.9" cy="424.2" r="1.1" fill-opacity="0.7"/><circle cx="215.9" cy="419.0" r="1.0" fill-opacity="0.6"/><circle cx="200.2" cy="413.5" r="1.0" fill-opacity="0.6"/><circle cx="199.6" cy="427.8" r="1.0" fill-opacity="0.5"/><circle cx="217.0" cy="434.2" r="0.8" fill-opacity="0.8"/><circle cx="187.5" cy="416.9" r="1.0" fill-opacity="0.8"/><circle cx="131.6" cy="469.0" r="0.9" fill-opacity="0.5"/><circle cx="134.0" cy="467.5" r="1.0" fill-opacity="0.7"/><circle cx="134.4" cy="465.3" r="0.8" fill-opacity="0.7"/><circle cx="135.7" cy="465.1" r="0.8" fill-opacity="0.9"/><circle cx="138.1" cy="470.9" r="1.0" fill-opacity="0.9"/><circle cx="149.7" cy="467.5" r="1.1" fill-opacity="0.8"/><circle cx="140.6" cy="464.1" r="0.7" fill-opacity="0.8"/><circle cx="137.0" cy="464.0" r="1.0" fill-opacity="0.4"/><circle cx="136.1" cy="468.7" r="1.1" fill-opacity="0.6"/><circle cx="148.7" cy="469.5" r="0.8" fill-opacity="0.5"/><circle cx="140.7" cy="469.6" r="0.8" fill-opacity="0.8"/><circle cx="143.7" cy="470.3" r="0.9" fill-opacity="0.7"/><circle cx="136.8" cy="472.5" r="0.7" fill-opacity="0.8"/><circle cx="148.7" cy="473.1" r="1.0" fill-opacity="1.0"/><circle cx="133.2" cy="470.0" r="0.9" fill-opacity="1.0"/><circle cx="146.1" cy="469.7" r="1.0" fill-opacity="0.9"/><circle cx="147.8" cy="469.3" r="1.1" fill-opacity="1.0"/><circle cx="148.9" cy="464.2" r="0.6" fill-opacity="0.4"/><circle cx="146.9" cy="468.4" r="0.7" fill-opacity="0.6"/><circle cx="135.7" cy="473.9" r="0.8" fill-opacity="0.6"/></g>
<ellipse cx="149.5" cy="422.0" rx="10" ry="8" transform="rotate(30 149.5 422.0)" fill="#ff1a1a" opacity="0.3" filter="url(#bl23)"/>
<g filter="url(#tx9)"><path d="M237.0,401.9 C238.9,397.6 244.9,402.2 248.4,401.9 C251.9,401.6 255.7,400.6 257.9,400.0 C260.1,399.4 260.0,397.4 261.6,398.2 C263.2,399.0 264.8,402.4 267.3,404.8 C269.8,407.2 274.2,409.8 276.7,412.3 C279.2,414.8 280.3,417.3 282.4,419.8 C284.4,422.3 286.8,424.9 289.0,427.4 C291.2,429.9 293.6,432.5 295.6,435.0 C297.7,437.5 299.9,440.0 301.3,442.5 C302.7,445.0 302.9,447.8 304.1,450.0 C305.4,452.2 307.1,453.5 308.8,455.7 C310.5,457.9 313.2,461.0 314.5,463.2 C315.8,465.4 317.0,468.1 316.4,468.9 C315.8,469.7 313.2,468.9 310.7,468.0 C308.2,467.1 305.4,464.9 301.3,463.2 C297.2,461.5 291.2,460.1 286.2,457.6 C281.1,455.1 275.7,451.4 271.0,448.2 C266.3,445.0 261.7,441.5 257.9,438.7 C254.1,435.9 251.9,433.1 248.4,431.2 C244.9,429.3 238.9,432.3 237.0,427.4 C235.1,422.5 235.1,406.1 237.0,401.9Z" fill="#fff" fill-opacity="0.8"/><path d="M277.7,391.5 C278.2,390.6 281.3,393.7 284.3,395.3 C287.3,396.9 291.8,399.7 295.6,401.0 C299.4,402.3 303.1,402.3 306.9,402.9 C310.7,403.5 315.0,403.9 318.2,404.8 C321.4,405.7 323.3,406.3 325.8,408.5 C328.3,410.7 331.1,414.9 333.3,418.0 C335.5,421.1 337.4,423.9 339.0,427.4 C340.6,430.8 342.0,435.5 342.8,438.7 C343.6,441.9 344.6,444.6 343.7,446.3 C342.8,448.0 339.8,448.8 337.1,449.1 C334.4,449.4 330.9,448.2 327.7,448.2 C324.5,448.2 321.0,449.4 318.2,449.1 C315.4,448.8 313.5,448.0 310.7,446.3 C307.9,444.6 304.1,441.2 301.3,438.7 C298.5,436.2 295.9,434.0 293.7,431.2 C291.5,428.4 289.4,424.8 288.0,421.7 C286.6,418.6 286.3,415.8 285.2,412.3 C284.1,408.9 282.8,404.5 281.5,401.0 C280.2,397.5 277.2,392.4 277.7,391.5Z" fill="#fff" fill-opacity="0.9"/></g>
<ellipse cx="276.7" cy="436.8" rx="15.5" ry="10.5" transform="rotate(30 276.7 436.8)" fill="#0a3a0a" opacity="0.45" stroke="#50d050" stroke-width="1.2" filter="url(#bl35)"/>
<path d="M291.0,414.0 L295.0,408.0 L301.0,405.0 L309.0,406.0 L317.0,409.0 L323.0,414.0 L327.0,421.0 L328.0,429.0 L325.0,436.0 L319.0,440.0 L311.0,441.0" fill="none" stroke="#40e040" stroke-width="9" stroke-linecap="round" opacity="0.55" filter="url(#bl24)"/>
<g filter="url(#tx10)"><path d="M291.0,414.0 L295.0,408.0 L301.0,405.0 L309.0,406.0 L317.0,409.0 L323.0,414.0 L327.0,421.0 L328.0,429.0 L325.0,436.0 L319.0,440.0 L311.0,441.0" fill="none" stroke="#fff" stroke-width="8" stroke-linecap="round"/></g>
<ellipse cx="308.8" cy="425.5" rx="12" ry="9" transform="rotate(25 308.8 425.5)" fill="#0c5a0c" opacity="0.35" filter="url(#bl24)"/>
<ellipse cx="257.5" cy="420.0" rx="3.2" ry="2.8" transform="rotate(0 257.5 420.0)" fill="#062a06" opacity="0.8" filter="url(#bl35)"/>
<ellipse cx="356.0" cy="414.0" rx="14" ry="18" transform="rotate(0 356.0 414.0)" fill="#0e3a0e" opacity="0.6" filter="url(#bl48)"/>
<g filter="url(#tx13)"><path d="M346.0,401.9 C347.9,397.6 353.9,402.2 357.4,401.9 C360.9,401.6 364.7,400.6 366.9,400.0 C369.1,399.4 369.0,397.4 370.6,398.2 C372.2,399.0 373.8,402.4 376.3,404.8 C378.8,407.2 383.2,409.8 385.7,412.3 C388.2,414.8 389.3,417.3 391.4,419.8 C393.4,422.3 395.8,424.9 398.0,427.4 C400.2,429.9 402.6,432.5 404.6,435.0 C406.7,437.5 408.9,440.0 410.3,442.5 C411.7,445.0 411.9,447.8 413.1,450.0 C414.4,452.2 416.1,453.5 417.8,455.7 C419.5,457.9 422.2,461.0 423.5,463.2 C424.8,465.4 426.0,468.1 425.4,468.9 C424.8,469.7 422.2,468.9 419.7,468.0 C417.2,467.1 414.4,464.9 410.3,463.2 C406.2,461.5 400.2,460.1 395.2,457.6 C390.1,455.1 384.7,451.4 380.0,448.2 C375.3,445.0 370.7,441.5 366.9,438.7 C363.1,435.9 360.9,433.1 357.4,431.2 C353.9,429.3 347.9,432.3 346.0,427.4 C344.1,422.5 344.1,406.1 346.0,401.9Z" fill="#fff" fill-opacity="0.62"/><path d="M386.7,391.5 C387.2,390.6 390.3,393.7 393.3,395.3 C396.3,396.9 400.8,399.7 404.6,401.0 C408.4,402.3 412.1,402.3 415.9,402.9 C419.7,403.5 424.0,403.9 427.2,404.8 C430.4,405.7 432.3,406.3 434.8,408.5 C437.3,410.7 440.1,414.9 442.3,418.0 C444.5,421.1 446.4,423.9 448.0,427.4 C449.6,430.8 451.0,435.5 451.8,438.7 C452.6,441.9 453.6,444.6 452.7,446.3 C451.8,448.0 448.8,448.8 446.1,449.1 C443.4,449.4 439.9,448.2 436.7,448.2 C433.5,448.2 430.0,449.4 427.2,449.1 C424.4,448.8 422.5,448.0 419.7,446.3 C416.9,444.6 413.1,441.2 410.3,438.7 C407.5,436.2 404.9,434.0 402.7,431.2 C400.5,428.4 398.4,424.8 397.0,421.7 C395.6,418.6 395.3,415.8 394.2,412.3 C393.1,408.9 391.8,404.5 390.5,401.0 C389.2,397.5 386.2,392.4 386.7,391.5Z" fill="#fff" fill-opacity="0.85"/></g>
<path d="M400.0,414.0 L404.0,408.0 L410.0,405.0 L418.0,406.0 L426.0,409.0 L432.0,414.0 L436.0,421.0 L437.0,429.0 L434.0,436.0 L428.0,440.0 L420.0,441.0" fill="none" stroke="#40e040" stroke-width="9" stroke-linecap="round" opacity="0.5" filter="url(#bl25)"/>
<g filter="url(#tx11)"><path d="M400.0,414.0 L404.0,408.0 L410.0,405.0 L418.0,406.0 L426.0,409.0 L432.0,414.0 L436.0,421.0 L437.0,429.0 L434.0,436.0 L428.0,440.0 L420.0,441.0" fill="none" stroke="#fff" stroke-width="8" stroke-linecap="round"/></g>
<ellipse cx="386.7" cy="438.7" rx="17" ry="11.5" transform="rotate(30 386.7 438.7)" fill="#2a50e0" filter="url(#bl36)"/>
<ellipse cx="416.9" cy="423.6" rx="14" ry="10" transform="rotate(35 416.9 423.6)" fill="#3a7cf0" filter="url(#bl36)"/>
<ellipse cx="356.0" cy="474.0" rx="22" ry="12" transform="rotate(0 356.0 474.0)" fill="#2a3cd0" opacity="0.8" filter="url(#bl25)"/>
<g opacity="0.9"><g filter="url(#tx12)"><path d="M350.8,406.6 L357.4,408.5 L363.0,412.3 L368.8,418.0 L372.5,420.8 L378.2,422.7 L385.7,424.6 L392.3,427.4" fill="none" stroke="#fff" stroke-width="4.4" stroke-linecap="round" stroke-linejoin="round"/><path d="M360.0,420.0 L364.0,424.0 L368.0,428.0 L370.0,430.0" fill="none" stroke="#fff" stroke-width="7.2" stroke-linecap="round" stroke-linejoin="round"/><path d="M366.9,431.2 L372.5,438.7 L378.2,444.4 L385.7,449.0 L393.3,451.0 L400.8,450.0 L404.6,453.8 L408.4,459.5" fill="none" stroke="#fff" stroke-width="3.6" stroke-linecap="round" stroke-linejoin="round"/><path d="M402.7,444.4 L404.6,452.0" fill="none" stroke="#fff" stroke-width="3.2" stroke-linecap="round" stroke-linejoin="round"/><path d="M368.8,448.0 L370.6,452.0" fill="none" stroke="#fff" stroke-width="2.4" stroke-linecap="round" stroke-linejoin="round"/><path d="M393.3,396.3 L397.0,402.9 L402.7,408.5 L406.5,410.4" fill="none" stroke="#fff" stroke-width="2.8" stroke-linecap="round" stroke-linejoin="round"/><path d="M406.5,410.4 L408.4,408.5 L417.8,410.4 L425.4,414.2 L433.0,419.8 L438.6,425.5 L440.5,433.0 L436.7,438.7 L431.0,442.5 L423.5,440.6 L416.0,436.8 L410.3,431.2 L406.5,423.6 L404.6,416.0 L406.5,410.4" fill="none" stroke="#fff" stroke-width="4.4" stroke-linecap="round" stroke-linejoin="round"/><path d="M434.0,422.0 L439.0,430.0 L437.0,436.0" fill="none" stroke="#fff" stroke-width="5.6" stroke-linecap="round" stroke-linejoin="round"/><path d="M349.0,462.0 L358.0,463.0 L368.0,466.0 L378.0,469.0 L383.0,472.0" fill="none" stroke="#fff" stroke-width="4.8" stroke-linecap="round" stroke-linejoin="round"/></g></g>
<rect x="350.8" y="409.1" width="24" height="24.3" fill="none" stroke="#f0e020" stroke-width="1.3"/>
<rect x="432.9" y="466.1" width="16" height="2.2" fill="#fff"/>
<rect x="456.2" y="384" width="92" height="90" fill="#fff" filter="url(#tx16)"/>
<ellipse cx="476.2" cy="429.0" rx="18" ry="22" transform="rotate(0 476.2 429.0)" fill="#2a8a2a" opacity="0.35" filter="url(#bl49)"/>
<ellipse cx="549.2" cy="462.0" rx="12" ry="17" transform="rotate(0 549.2 462.0)" fill="#2a5ae0" filter="url(#bl26)"/>
<ellipse cx="464.2" cy="470.0" rx="24" ry="12" transform="rotate(0 464.2 470.0)" fill="#000" opacity="0.7" filter="url(#bl49)"/>
<g filter="url(#bl37)"><circle cx="463.5" cy="385.8" r="2.0" fill="url(#mblob)"/><circle cx="463.7" cy="387.8" r="1.9" fill="url(#mblob)"/><circle cx="463.9" cy="389.9" r="2.8" fill="url(#mblob)"/><circle cx="465.4" cy="390.9" r="2.5" fill="url(#mblob)"/><circle cx="467.5" cy="391.5" r="2.3" fill="url(#mblob)"/><circle cx="469.8" cy="392.1" r="2.4" fill="url(#mblob)"/><circle cx="479.9" cy="388.4" r="2.1" fill="url(#mblob)"/><circle cx="478.8" cy="389.7" r="2.4" fill="url(#mblob)"/><circle cx="477.0" cy="391.8" r="2.5" fill="url(#mblob)"/><circle cx="484.1" cy="391.2" r="2.6" fill="url(#mblob)"/><circle cx="482.6" cy="392.5" r="2.2" fill="url(#mblob)"/><circle cx="480.8" cy="394.0" r="2.6" fill="url(#mblob)"/><circle cx="491.6" cy="394.7" r="2.2" fill="url(#mblob)"/><circle cx="492.0" cy="396.3" r="2.2" fill="url(#mblob)"/><circle cx="492.6" cy="398.8" r="2.1" fill="url(#mblob)"/><circle cx="498.3" cy="397.3" r="2.0" fill="url(#mblob)"/><circle cx="495.8" cy="398.2" r="2.4" fill="url(#mblob)"/><circle cx="494.4" cy="398.7" r="2.3" fill="url(#mblob)"/><circle cx="505.0" cy="392.9" r="2.5" fill="url(#mblob)"/><circle cx="503.4" cy="393.4" r="2.5" fill="url(#mblob)"/><circle cx="500.9" cy="394.2" r="2.1" fill="url(#mblob)"/><circle cx="477.2" cy="401.0" r="2.4" fill="url(#mblob)"/><circle cx="478.8" cy="401.0" r="2.0" fill="url(#mblob)"/><circle cx="480.9" cy="401.1" r="2.8" fill="url(#mblob)"/><circle cx="480.2" cy="404.6" r="2.5" fill="url(#mblob)"/><circle cx="480.7" cy="406.6" r="2.5" fill="url(#mblob)"/><circle cx="481.1" cy="408.3" r="2.5" fill="url(#mblob)"/><circle cx="506.8" cy="402.7" r="2.5" fill="url(#mblob)"/><circle cx="505.2" cy="402.9" r="2.0" fill="url(#mblob)"/><circle cx="503.4" cy="403.1" r="2.9" fill="url(#mblob)"/><circle cx="527.7" cy="391.5" r="2.6" fill="url(#mblob)"/><circle cx="526.0" cy="391.5" r="2.1" fill="url(#mblob)"/><circle cx="523.7" cy="391.5" r="1.9" fill="url(#mblob)"/><circle cx="528.8" cy="396.9" r="2.5" fill="url(#mblob)"/><circle cx="529.8" cy="399.1" r="2.0" fill="url(#mblob)"/><circle cx="530.6" cy="400.9" r="2.8" fill="url(#mblob)"/><circle cx="534.1" cy="402.8" r="2.3" fill="url(#mblob)"/><circle cx="533.6" cy="404.8" r="2.5" fill="url(#mblob)"/><circle cx="533.2" cy="406.3" r="2.7" fill="url(#mblob)"/><circle cx="540.0" cy="410.5" r="2.1" fill="url(#mblob)"/><circle cx="541.1" cy="412.3" r="2.2" fill="url(#mblob)"/><circle cx="541.9" cy="413.7" r="2.5" fill="url(#mblob)"/><circle cx="542.5" cy="422.8" r="1.9" fill="url(#mblob)"/><circle cx="544.9" cy="423.6" r="2.7" fill="url(#mblob)"/><circle cx="546.9" cy="424.3" r="2.6" fill="url(#mblob)"/><circle cx="509.2" cy="416.3" r="2.3" fill="url(#mblob)"/><circle cx="510.9" cy="418.0" r="2.9" fill="url(#mblob)"/><circle cx="512.3" cy="419.4" r="2.3" fill="url(#mblob)"/><circle cx="518.4" cy="419.0" r="2.6" fill="url(#mblob)"/><circle cx="516.6" cy="419.8" r="2.7" fill="url(#mblob)"/><circle cx="514.9" cy="420.6" r="2.0" fill="url(#mblob)"/><circle cx="523.9" cy="416.9" r="2.8" fill="url(#mblob)"/><circle cx="522.2" cy="417.0" r="2.5" fill="url(#mblob)"/><circle cx="520.7" cy="417.1" r="2.0" fill="url(#mblob)"/><circle cx="526.3" cy="416.8" r="2.5" fill="url(#mblob)"/><circle cx="527.9" cy="418.0" r="2.3" fill="url(#mblob)"/><circle cx="529.2" cy="419.0" r="2.5" fill="url(#mblob)"/><circle cx="498.1" cy="422.9" r="2.5" fill="url(#mblob)"/><circle cx="499.6" cy="423.6" r="2.0" fill="url(#mblob)"/><circle cx="501.5" cy="424.5" r="2.6" fill="url(#mblob)"/><circle cx="489.7" cy="426.1" r="2.8" fill="url(#mblob)"/><circle cx="488.2" cy="427.4" r="2.6" fill="url(#mblob)"/><circle cx="486.4" cy="429.1" r="2.8" fill="url(#mblob)"/><circle cx="486.4" cy="435.2" r="1.9" fill="url(#mblob)"/><circle cx="486.4" cy="436.8" r="2.1" fill="url(#mblob)"/><circle cx="486.4" cy="439.1" r="2.0" fill="url(#mblob)"/><circle cx="493.4" cy="437.6" r="1.9" fill="url(#mblob)"/><circle cx="492.0" cy="438.7" r="2.4" fill="url(#mblob)"/><circle cx="490.3" cy="440.1" r="2.3" fill="url(#mblob)"/><circle cx="499.7" cy="431.9" r="2.8" fill="url(#mblob)"/><circle cx="501.5" cy="433.0" r="2.8" fill="url(#mblob)"/><circle cx="502.8" cy="433.8" r="2.9" fill="url(#mblob)"/><circle cx="509.2" cy="434.1" r="2.4" fill="url(#mblob)"/><circle cx="507.1" cy="434.9" r="2.8" fill="url(#mblob)"/><circle cx="505.6" cy="435.4" r="2.5" fill="url(#mblob)"/><circle cx="513.0" cy="431.1" r="2.6" fill="url(#mblob)"/><circle cx="512.8" cy="433.0" r="2.0" fill="url(#mblob)"/><circle cx="512.5" cy="435.4" r="2.4" fill="url(#mblob)"/><circle cx="516.5" cy="438.3" r="2.0" fill="url(#mblob)"/><circle cx="516.6" cy="440.6" r="2.3" fill="url(#mblob)"/><circle cx="516.7" cy="443.2" r="2.1" fill="url(#mblob)"/><circle cx="520.6" cy="445.0" r="2.5" fill="url(#mblob)"/><circle cx="518.5" cy="446.3" r="1.9" fill="url(#mblob)"/><circle cx="516.6" cy="447.5" r="2.5" fill="url(#mblob)"/><circle cx="515.8" cy="448.3" r="2.0" fill="url(#mblob)"/><circle cx="514.7" cy="450.0" r="2.5" fill="url(#mblob)"/><circle cx="513.8" cy="451.5" r="2.0" fill="url(#mblob)"/><circle cx="508.1" cy="451.9" r="2.4" fill="url(#mblob)"/><circle cx="509.0" cy="453.8" r="2.7" fill="url(#mblob)"/><circle cx="509.9" cy="455.5" r="2.7" fill="url(#mblob)"/><circle cx="500.7" cy="457.5" r="2.5" fill="url(#mblob)"/><circle cx="503.4" cy="457.6" r="2.9" fill="url(#mblob)"/><circle cx="506.0" cy="457.7" r="2.0" fill="url(#mblob)"/><circle cx="496.0" cy="457.9" r="2.7" fill="url(#mblob)"/><circle cx="496.8" cy="459.5" r="2.1" fill="url(#mblob)"/><circle cx="497.6" cy="461.0" r="2.0" fill="url(#mblob)"/><circle cx="496.6" cy="460.9" r="2.3" fill="url(#mblob)"/><circle cx="493.9" cy="461.4" r="2.4" fill="url(#mblob)"/><circle cx="491.8" cy="461.8" r="2.3" fill="url(#mblob)"/><circle cx="532.4" cy="435.2" r="2.2" fill="url(#mblob)"/><circle cx="531.7" cy="436.8" r="2.1" fill="url(#mblob)"/><circle cx="530.8" cy="438.7" r="2.8" fill="url(#mblob)"/><circle cx="533.8" cy="442.4" r="2.7" fill="url(#mblob)"/><circle cx="535.4" cy="442.5" r="2.2" fill="url(#mblob)"/><circle cx="538.0" cy="442.7" r="2.5" fill="url(#mblob)"/><circle cx="536.1" cy="430.2" r="2.2" fill="url(#mblob)"/><circle cx="537.3" cy="431.2" r="2.7" fill="url(#mblob)"/><circle cx="539.4" cy="433.0" r="2.7" fill="url(#mblob)"/><circle cx="545.6" cy="437.9" r="2.8" fill="url(#mblob)"/><circle cx="543.0" cy="438.7" r="2.9" fill="url(#mblob)"/><circle cx="541.5" cy="439.2" r="2.2" fill="url(#mblob)"/><circle cx="532.0" cy="450.3" r="2.4" fill="url(#mblob)"/><circle cx="533.6" cy="451.9" r="2.7" fill="url(#mblob)"/><circle cx="535.0" cy="453.3" r="2.1" fill="url(#mblob)"/><circle cx="526.5" cy="456.0" r="2.5" fill="url(#mblob)"/><circle cx="527.9" cy="457.6" r="2.3" fill="url(#mblob)"/><circle cx="529.0" cy="458.9" r="2.3" fill="url(#mblob)"/><circle cx="521.3" cy="454.2" r="2.4" fill="url(#mblob)"/><circle cx="522.2" cy="455.7" r="2.6" fill="url(#mblob)"/><circle cx="523.4" cy="457.7" r="2.0" fill="url(#mblob)"/><circle cx="460.7" cy="438.8" r="2.3" fill="url(#mblob)"/><circle cx="460.0" cy="440.6" r="2.7" fill="url(#mblob)"/><circle cx="459.0" cy="443.0" r="2.6" fill="url(#mblob)"/><circle cx="462.0" cy="443.0" r="2.2" fill="url(#mblob)"/><circle cx="463.7" cy="444.4" r="2.5" fill="url(#mblob)"/><circle cx="465.4" cy="445.7" r="2.8" fill="url(#mblob)"/><circle cx="473.7" cy="446.0" r="2.4" fill="url(#mblob)"/><circle cx="475.1" cy="448.2" r="2.6" fill="url(#mblob)"/><circle cx="476.1" cy="449.8" r="2.4" fill="url(#mblob)"/><circle cx="481.1" cy="446.0" r="2.8" fill="url(#mblob)"/><circle cx="482.6" cy="446.3" r="2.0" fill="url(#mblob)"/><circle cx="484.3" cy="446.7" r="2.0" fill="url(#mblob)"/><circle cx="541.6" cy="424.0" r="2.5" fill="url(#mblob)"/><circle cx="539.2" cy="425.5" r="2.8" fill="url(#mblob)"/><circle cx="537.4" cy="426.6" r="2.0" fill="url(#mblob)"/><circle cx="546.0" cy="429.6" r="2.2" fill="url(#mblob)"/><circle cx="544.9" cy="431.2" r="2.3" fill="url(#mblob)"/><circle cx="543.9" cy="432.6" r="2.5" fill="url(#mblob)"/><circle cx="514.9" cy="468.0" r="1.9" fill="url(#mblob)"/><circle cx="512.8" cy="468.9" r="1.9" fill="url(#mblob)"/><circle cx="510.9" cy="469.8" r="2.8" fill="url(#mblob)"/><circle cx="521.6" cy="421.7" r="2.7" fill="url(#mblob)"/><circle cx="520.2" cy="424.0" r="2.0" fill="url(#mblob)"/><circle cx="519.1" cy="425.8" r="2.6" fill="url(#mblob)"/><circle cx="524.8" cy="422.7" r="2.6" fill="url(#mblob)"/><circle cx="526.2" cy="424.0" r="2.5" fill="url(#mblob)"/><circle cx="527.8" cy="425.5" r="2.8" fill="url(#mblob)"/><circle cx="522.5" cy="445.9" r="2.7" fill="url(#mblob)"/><circle cx="524.2" cy="446.0" r="2.0" fill="url(#mblob)"/><circle cx="525.9" cy="446.1" r="2.1" fill="url(#mblob)"/><circle cx="518.6" cy="461.4" r="2.1" fill="url(#mblob)"/><circle cx="518.2" cy="464.0" r="2.6" fill="url(#mblob)"/><circle cx="517.9" cy="466.0" r="2.7" fill="url(#mblob)"/></g>
<line x1="500.9" y1="393.4" x2="487.2" y2="457" stroke="#f5f020" stroke-width="2.2"/>
<path d="M485.4,467 L481.7,455.5 L491.7,457.5Z" fill="#f5f020"/>
<path d="M588.9,356.4 L591.9,354.8 L594.2,356.4 L597.6,358.7 L599.9,359.4 L602.2,356.4 L604.5,327.6 L605.7,302.3 L607.5,304.6 L609.1,327.6 L611.5,355.3 L613.8,361.7 L616.1,358.7 L619.5,339.1 L623.0,328.8 L625.3,336.8 L628.7,355.3 L631.0,361.0 L634.5,357.6 L636.8,334.5 L638.4,321.8 L640.3,323.0 L642.6,339.1 L644.9,355.3 L647.2,361.7 L650.6,359.9 L654.1,360.3 L656.4,357.6 L658.7,343.7 L661.0,336.8 L663.3,341.4 L665.6,353.0 L669.0,360.3 L672.5,361.0 L674.8,359.9 L677.1,357.1" fill="none" stroke="#ee33ee" stroke-width="1.1" stroke-linejoin="round"/>
<path d="M588.9,362.2 L591.4,358.7 L593.7,356.4 L596.5,358.7 L598.8,355.3 L601.1,348.3 L603.4,339.1 L605.2,328.8 L606.8,327.6 L608.5,332.2 L610.3,346.0 L613.8,349.5 L617.2,339.1 L619.1,331.0 L620.7,334.5 L622.5,327.6 L624.1,330.4 L626.4,339.1 L628.7,346.0 L631.5,351.8 L634.5,341.4 L636.8,316.1 L638.4,302.3 L640.3,304.6 L642.6,323.0 L644.9,346.0 L647.2,355.3 L649.5,347.2 L652.9,344.9 L656.4,347.2 L658.7,339.1 L660.5,316.1 L662.1,313.8 L664.4,334.5 L667.9,346.0 L670.2,350.6 L672.5,351.1 L674.8,352.5 L677.1,351.8" fill="none" stroke="#22dd22" stroke-width="1.1" stroke-linejoin="round"/>
<path d="M588.9,301.9 V362.2" fill="none" stroke="#333" stroke-width="1.1"/>
<path d="M588.9,362.2 H679.2" fill="none" stroke="#777" stroke-width="1.3"/>
<line x1="586.7" y1="362.2" x2="588.9" y2="362.2" stroke="#000" stroke-width="0.6"/>
<line x1="587.7" y1="359.2" x2="588.9" y2="359.2" stroke="#000" stroke-width="0.6"/>
<line x1="587.7" y1="356.3" x2="588.9" y2="356.3" stroke="#000" stroke-width="0.6"/>
<line x1="587.7" y1="353.3" x2="588.9" y2="353.3" stroke="#000" stroke-width="0.6"/>
<line x1="587.7" y1="350.3" x2="588.9" y2="350.3" stroke="#000" stroke-width="0.6"/>
<line x1="587.7" y1="347.4" x2="588.9" y2="347.4" stroke="#000" stroke-width="0.6"/>
<line x1="587.7" y1="344.4" x2="588.9" y2="344.4" stroke="#000" stroke-width="0.6"/>
<line x1="587.7" y1="341.4" x2="588.9" y2="341.4" stroke="#000" stroke-width="0.6"/>
<line x1="587.7" y1="338.5" x2="588.9" y2="338.5" stroke="#000" stroke-width="0.6"/>
<line x1="587.7" y1="335.5" x2="588.9" y2="335.5" stroke="#000" stroke-width="0.6"/>
<line x1="586.7" y1="332.5" x2="588.9" y2="332.5" stroke="#000" stroke-width="0.6"/>
<line x1="587.7" y1="329.6" x2="588.9" y2="329.6" stroke="#000" stroke-width="0.6"/>
<line x1="587.7" y1="326.6" x2="588.9" y2="326.6" stroke="#000" stroke-width="0.6"/>
<line x1="587.7" y1="323.7" x2="588.9" y2="323.7" stroke="#000" stroke-width="0.6"/>
<line x1="587.7" y1="320.7" x2="588.9" y2="320.7" stroke="#000" stroke-width="0.6"/>
<line x1="587.7" y1="317.7" x2="588.9" y2="317.7" stroke="#000" stroke-width="0.6"/>
<line x1="587.7" y1="314.8" x2="588.9" y2="314.8" stroke="#000" stroke-width="0.6"/>
<line x1="587.7" y1="311.8" x2="588.9" y2="311.8" stroke="#000" stroke-width="0.6"/>
<line x1="587.7" y1="308.8" x2="588.9" y2="308.8" stroke="#000" stroke-width="0.6"/>
<line x1="587.7" y1="305.9" x2="588.9" y2="305.9" stroke="#000" stroke-width="0.6"/>
<line x1="586.7" y1="302.9" x2="588.9" y2="302.9" stroke="#000" stroke-width="0.6"/>
<text x="586.6999999999999" y="365.9" text-anchor="end" style="font-size:10.4px;fill:#000;" >0</text>
<text x="586.6999999999999" y="336.24999999999994" text-anchor="end" style="font-size:10.4px;fill:#000;" >50</text>
<text x="586.6999999999999" y="306.59999999999997" text-anchor="end" style="font-size:10.4px;fill:#000;" >100</text>
<line x1="588.9" y1="362.2" x2="588.9" y2="364.2" stroke="#000" stroke-width="1"/>
<text x="588.9" y="374.7" text-anchor="middle" style="font-size:11.3px;fill:#000;" >0</text>
<line x1="614.7" y1="362.2" x2="614.7" y2="364.2" stroke="#000" stroke-width="1"/>
<text x="614.7" y="374.7" text-anchor="middle" style="font-size:11.3px;fill:#000;" >2</text>
<line x1="640.5" y1="362.2" x2="640.5" y2="364.2" stroke="#000" stroke-width="1"/>
<text x="640.5" y="374.7" text-anchor="middle" style="font-size:11.3px;fill:#000;" >4</text>
<line x1="666.3" y1="362.2" x2="666.3" y2="364.2" stroke="#000" stroke-width="1"/>
<text x="666.3" y="374.7" text-anchor="middle" style="font-size:11.3px;fill:#000;" >6</text>
<line x1="588.9" y1="362.2" x2="588.9" y2="363.4" stroke="#000" stroke-width="0.6"/>
<line x1="601.8" y1="362.2" x2="601.8" y2="363.4" stroke="#000" stroke-width="0.6"/>
<line x1="614.7" y1="362.2" x2="614.7" y2="363.4" stroke="#000" stroke-width="0.6"/>
<line x1="627.6" y1="362.2" x2="627.6" y2="363.4" stroke="#000" stroke-width="0.6"/>
<line x1="640.5" y1="362.2" x2="640.5" y2="363.4" stroke="#000" stroke-width="0.6"/>
<line x1="653.4" y1="362.2" x2="653.4" y2="363.4" stroke="#000" stroke-width="0.6"/>
<line x1="666.3" y1="362.2" x2="666.3" y2="363.4" stroke="#000" stroke-width="0.6"/>
<line x1="679.2" y1="362.2" x2="679.2" y2="363.4" stroke="#000" stroke-width="0.6"/>
<path d="M588.5,449.9 L591.7,439.2 L593.9,407.1 L595.4,391.0 L597.1,417.8 L599.2,443.5 L601.3,446.7 L603.5,445.6 L605.6,449.9 L607.8,428.5 L608.8,415.6 L611.0,426.3 L613.1,419.9 L615.3,432.8 L617.4,430.6 L619.5,434.9 L621.7,430.6 L623.8,425.3 L626.0,439.2 L628.1,422.1 L630.2,411.4 L632.4,424.2 L634.5,439.2 L636.6,447.7 L638.8,439.2 L640.9,437.0 L643.1,429.6 L645.2,432.8 L647.3,430.6 L649.5,426.3 L651.6,423.1 L653.8,434.9 L655.9,424.2 L658.0,405.0 L659.5,411.4 L661.3,432.8 L663.4,415.6 L665.1,422.1 L666.6,439.2 L668.7,447.7 L670.9,448.8 L673.0,447.7" fill="none" stroke="#ee33ee" stroke-width="1.1" stroke-linejoin="round"/>
<path d="M588.5,427.4 L590.7,428.5 L592.8,428.9 L594.9,427.4 L597.1,424.2 L599.2,419.9 L601.3,409.2 L602.4,401.7 L604.6,405.0 L606.7,408.2 L608.8,403.9 L611.0,411.4 L613.1,413.5 L615.3,415.6 L617.4,408.2 L619.5,400.7 L621.7,409.2 L623.8,407.1 L626.0,406.0 L628.1,402.8 L630.2,399.6 L632.4,401.7 L634.5,400.7 L636.6,395.3 L638.8,394.3 L640.9,392.1 L642.4,392.1 L644.1,409.2 L646.3,411.4 L648.4,414.6 L650.6,419.9 L652.7,414.6 L654.8,417.8 L657.0,421.0 L659.1,424.2 L661.3,428.5 L663.4,426.3 L665.5,425.3 L667.7,434.9 L669.8,445.6 L672.0,451.0 L674.1,447.7" fill="none" stroke="#22dd22" stroke-width="1.1" stroke-linejoin="round"/>
<path d="M588.5,390.7 V451.0" fill="none" stroke="#333" stroke-width="1.1"/>
<path d="M588.5,451.0 H677.2" fill="none" stroke="#777" stroke-width="1.3"/>
<line x1="586.3" y1="451.0" x2="588.5" y2="451.0" stroke="#000" stroke-width="0.6"/>
<line x1="587.3" y1="448.0" x2="588.5" y2="448.0" stroke="#000" stroke-width="0.6"/>
<line x1="587.3" y1="445.1" x2="588.5" y2="445.1" stroke="#000" stroke-width="0.6"/>
<line x1="587.3" y1="442.1" x2="588.5" y2="442.1" stroke="#000" stroke-width="0.6"/>
<line x1="587.3" y1="439.1" x2="588.5" y2="439.1" stroke="#000" stroke-width="0.6"/>
<line x1="587.3" y1="436.2" x2="588.5" y2="436.2" stroke="#000" stroke-width="0.6"/>
<line x1="587.3" y1="433.2" x2="588.5" y2="433.2" stroke="#000" stroke-width="0.6"/>
<line x1="587.3" y1="430.2" x2="588.5" y2="430.2" stroke="#000" stroke-width="0.6"/>
<line x1="587.3" y1="427.3" x2="588.5" y2="427.3" stroke="#000" stroke-width="0.6"/>
<line x1="587.3" y1="424.3" x2="588.5" y2="424.3" stroke="#000" stroke-width="0.6"/>
<line x1="586.3" y1="421.4" x2="588.5" y2="421.4" stroke="#000" stroke-width="0.6"/>
<line x1="587.3" y1="418.4" x2="588.5" y2="418.4" stroke="#000" stroke-width="0.6"/>
<line x1="587.3" y1="415.4" x2="588.5" y2="415.4" stroke="#000" stroke-width="0.6"/>
<line x1="587.3" y1="412.5" x2="588.5" y2="412.5" stroke="#000" stroke-width="0.6"/>
<line x1="587.3" y1="409.5" x2="588.5" y2="409.5" stroke="#000" stroke-width="0.6"/>
<line x1="587.3" y1="406.5" x2="588.5" y2="406.5" stroke="#000" stroke-width="0.6"/>
<line x1="587.3" y1="403.6" x2="588.5" y2="403.6" stroke="#000" stroke-width="0.6"/>
<line x1="587.3" y1="400.6" x2="588.5" y2="400.6" stroke="#000" stroke-width="0.6"/>
<line x1="587.3" y1="397.6" x2="588.5" y2="397.6" stroke="#000" stroke-width="0.6"/>
<line x1="587.3" y1="394.7" x2="588.5" y2="394.7" stroke="#000" stroke-width="0.6"/>
<line x1="586.3" y1="391.7" x2="588.5" y2="391.7" stroke="#000" stroke-width="0.6"/>
<text x="586.3" y="454.7" text-anchor="end" style="font-size:10.4px;fill:#000;" >0</text>
<text x="586.3" y="425.05" text-anchor="end" style="font-size:10.4px;fill:#000;" >50</text>
<text x="586.3" y="395.4" text-anchor="end" style="font-size:10.4px;fill:#000;" >100</text>
<line x1="588.5" y1="451.0" x2="588.5" y2="453.0" stroke="#000" stroke-width="1"/>
<text x="588.5" y="463.5" text-anchor="middle" style="font-size:11.3px;fill:#000;" >0</text>
<line x1="606.2" y1="451.0" x2="606.2" y2="453.0" stroke="#000" stroke-width="1"/>
<text x="606.2" y="463.5" text-anchor="middle" style="font-size:11.3px;fill:#000;" >2</text>
<line x1="624.0" y1="451.0" x2="624.0" y2="453.0" stroke="#000" stroke-width="1"/>
<text x="624.0" y="463.5" text-anchor="middle" style="font-size:11.3px;fill:#000;" >4</text>
<line x1="641.8" y1="451.0" x2="641.8" y2="453.0" stroke="#000" stroke-width="1"/>
<text x="641.8" y="463.5" text-anchor="middle" style="font-size:11.3px;fill:#000;" >6</text>
<line x1="659.5" y1="451.0" x2="659.5" y2="453.0" stroke="#000" stroke-width="1"/>
<text x="659.5" y="463.5" text-anchor="middle" style="font-size:11.3px;fill:#000;" >8</text>
<line x1="677.2" y1="451.0" x2="677.2" y2="453.0" stroke="#000" stroke-width="1"/>
<text x="677.2" y="463.5" text-anchor="middle" style="font-size:11.3px;fill:#000;" >10</text>
<line x1="588.5" y1="451.0" x2="588.5" y2="452.2" stroke="#000" stroke-width="0.6"/>
<line x1="597.4" y1="451.0" x2="597.4" y2="452.2" stroke="#000" stroke-width="0.6"/>
<line x1="606.2" y1="451.0" x2="606.2" y2="452.2" stroke="#000" stroke-width="0.6"/>
<line x1="615.1" y1="451.0" x2="615.1" y2="452.2" stroke="#000" stroke-width="0.6"/>
<line x1="624.0" y1="451.0" x2="624.0" y2="452.2" stroke="#000" stroke-width="0.6"/>
<line x1="632.9" y1="451.0" x2="632.9" y2="452.2" stroke="#000" stroke-width="0.6"/>
<line x1="641.8" y1="451.0" x2="641.8" y2="452.2" stroke="#000" stroke-width="0.6"/>
<line x1="650.6" y1="451.0" x2="650.6" y2="452.2" stroke="#000" stroke-width="0.6"/>
<line x1="659.5" y1="451.0" x2="659.5" y2="452.2" stroke="#000" stroke-width="0.6"/>
<line x1="668.4" y1="451.0" x2="668.4" y2="452.2" stroke="#000" stroke-width="0.6"/>
<line x1="677.2" y1="451.0" x2="677.2" y2="452.2" stroke="#000" stroke-width="0.6"/>
<text transform="translate(564.3,332.5) rotate(-90)" text-anchor="middle" style="font-size:11.4px">Rel. intensity</text>
<text transform="translate(564.3,421.5) rotate(-90)" text-anchor="middle" style="font-size:11.4px">Rel. intensity</text>
<text x="633" y="475.6" text-anchor="middle" style="font-size:10.8px;fill:#000;" >microns</text>
</svg>
</body></html>
